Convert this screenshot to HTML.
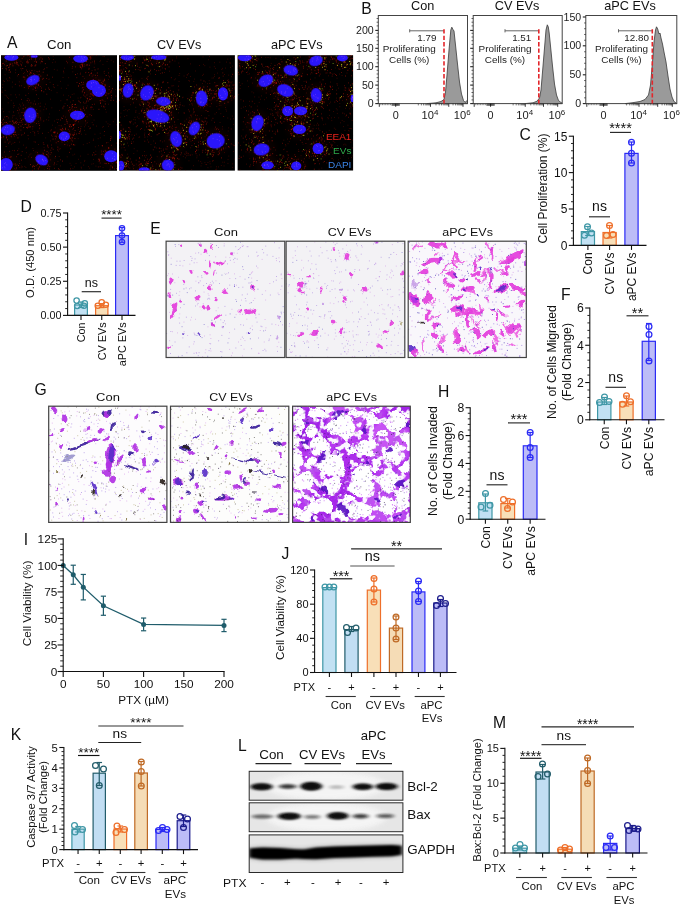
<!DOCTYPE html>
<html><head><meta charset="utf-8"><title>Figure</title>
<style>
html,body{margin:0;padding:0;background:#fff;}
body{width:685px;height:905px;overflow:hidden;font-family:"Liberation Sans", Arial, sans-serif;}
svg{display:block;font-family:"Liberation Sans", Arial, sans-serif;will-change:transform;}
</style></head><body>
<svg width="685" height="905" viewBox="0 0 685 905">
<defs>
<filter id="b1" x="-20%" y="-20%" width="140%" height="140%"><feGaussianBlur stdDeviation="0.6"/></filter>
<filter id="b2" x="-30%" y="-60%" width="160%" height="220%"><feGaussianBlur stdDeviation="2.0 1.15"/></filter>
<filter id="rough" x="-5%" y="-5%" width="110%" height="110%"><feTurbulence type="fractalNoise" baseFrequency="0.11" numOctaves="2" seed="3" result="n"/><feDisplacementMap in="SourceGraphic" in2="n" scale="7" xChannelSelector="R" yChannelSelector="G"/><feGaussianBlur stdDeviation="0.45"/></filter>
<filter id="rough2" x="-5%" y="-5%" width="110%" height="110%"><feTurbulence type="fractalNoise" baseFrequency="0.07" numOctaves="3" seed="11" result="n"/><feDisplacementMap in="SourceGraphic" in2="n" scale="14" xChannelSelector="R" yChannelSelector="G"/><feGaussianBlur stdDeviation="0.5"/></filter>
<filter id="b4" x="-30%" y="-80%" width="160%" height="260%"><feGaussianBlur stdDeviation="3 2.4"/></filter>
<filter id="wnoise" x="0" y="0" width="100%" height="100%"><feTurbulence type="fractalNoise" baseFrequency="0.16" numOctaves="2" seed="5"/><feColorMatrix type="matrix" values="0 0 0 0 1  0 0 0 0 1  0 0 0 0 1  9 0 0 0 -4.6"/><feGaussianBlur stdDeviation="0.35"/></filter>
<filter id="pnoise" x="0" y="0" width="100%" height="100%"><feTurbulence type="fractalNoise" baseFrequency="0.12" numOctaves="2" seed="9"/><feColorMatrix type="matrix" values="0 0 0 0 0.48  0 0 0 0 0.09  0 0 0 0 0.84  0 10 0 0 -5.6"/><feGaussianBlur stdDeviation="0.35"/></filter>
<filter id="b3" x="-30%" y="-30%" width="160%" height="160%"><feGaussianBlur stdDeviation="1.0"/></filter>
</defs>
<rect width="685" height="905" fill="#fff"/>
<text x="7.00" y="48.00" font-size="15.7" text-anchor="start" fill="#111" >A</text>
<text x="361.30" y="13.60" font-size="15.7" text-anchor="start" fill="#111" >B</text>
<text x="519.60" y="140.10" font-size="15.7" text-anchor="start" fill="#111" >C</text>
<text x="20.60" y="212.20" font-size="15.7" text-anchor="start" fill="#111" >D</text>
<text x="150.30" y="233.50" font-size="15.7" text-anchor="start" fill="#111" >E</text>
<text x="561.00" y="300.30" font-size="15.7" text-anchor="start" fill="#111" >F</text>
<text x="34.60" y="394.90" font-size="15.7" text-anchor="start" fill="#111" >G</text>
<text x="438.00" y="397.30" font-size="15.7" text-anchor="start" fill="#111" >H</text>
<text x="23.80" y="544.50" font-size="15.7" text-anchor="start" fill="#111" >I</text>
<text x="281.50" y="559.30" font-size="15.7" text-anchor="start" fill="#111" >J</text>
<text x="10.80" y="739.50" font-size="15.7" text-anchor="start" fill="#111" >K</text>
<text x="238.00" y="750.70" font-size="15.7" text-anchor="start" fill="#111" >L</text>
<text x="493.00" y="727.50" font-size="15.7" text-anchor="start" fill="#111" >M</text>
<rect x="581.30" y="231.60" width="13.20" height="13.80" fill="#c2e1f3" stroke="#3f97a6" stroke-width="1.2" />
<line x1="587.90" y1="235.50" x2="587.90" y2="226.50" stroke="#3f97a6" stroke-width="1.2" />
<line x1="585.10" y1="235.50" x2="590.70" y2="235.50" stroke="#3f97a6" stroke-width="1.2" />
<line x1="585.10" y1="226.50" x2="590.70" y2="226.50" stroke="#3f97a6" stroke-width="1.2" />
<circle cx="587.50" cy="226.80" r="2.9" fill="none" stroke="#3f97a6" stroke-width="1.25" />
<circle cx="591.50" cy="233.00" r="2.9" fill="none" stroke="#3f97a6" stroke-width="1.25" />
<circle cx="584.50" cy="235.30" r="2.9" fill="none" stroke="#3f97a6" stroke-width="1.25" />
<line x1="587.90" y1="245.40" x2="587.90" y2="249.90" stroke="#111" stroke-width="1.1" />
<text x="592.22" y="252.40" font-size="12" text-anchor="end" fill="#111" transform="rotate(-90 592.22 252.40)" >Con</text>
<rect x="603.00" y="232.50" width="13.20" height="12.90" fill="#f8dfb8" stroke="#ee6f2a" stroke-width="1.2" />
<line x1="609.60" y1="238.00" x2="609.60" y2="225.50" stroke="#ee6f2a" stroke-width="1.2" />
<line x1="606.80" y1="238.00" x2="612.40" y2="238.00" stroke="#ee6f2a" stroke-width="1.2" />
<line x1="606.80" y1="225.50" x2="612.40" y2="225.50" stroke="#ee6f2a" stroke-width="1.2" />
<circle cx="609.50" cy="225.50" r="2.9" fill="none" stroke="#ee6f2a" stroke-width="1.25" />
<circle cx="613.00" cy="234.50" r="2.9" fill="none" stroke="#ee6f2a" stroke-width="1.25" />
<circle cx="606.50" cy="235.50" r="2.9" fill="none" stroke="#ee6f2a" stroke-width="1.25" />
<line x1="609.60" y1="245.40" x2="609.60" y2="249.90" stroke="#111" stroke-width="1.1" />
<text x="613.92" y="252.40" font-size="12" text-anchor="end" fill="#111" transform="rotate(-90 613.92 252.40)" >CV EVs</text>
<rect x="624.90" y="153.40" width="13.20" height="92.00" fill="#bcbcf7" stroke="#2b2bf5" stroke-width="1.2" />
<line x1="631.50" y1="163.00" x2="631.50" y2="142.00" stroke="#2b2bf5" stroke-width="1.2" />
<line x1="628.70" y1="163.00" x2="634.30" y2="163.00" stroke="#2b2bf5" stroke-width="1.2" />
<line x1="628.70" y1="142.00" x2="634.30" y2="142.00" stroke="#2b2bf5" stroke-width="1.2" />
<circle cx="631.50" cy="142.20" r="2.9" fill="none" stroke="#2b2bf5" stroke-width="1.25" />
<circle cx="631.50" cy="153.20" r="2.9" fill="none" stroke="#2b2bf5" stroke-width="1.25" />
<circle cx="631.50" cy="163.00" r="2.9" fill="none" stroke="#2b2bf5" stroke-width="1.25" />
<line x1="631.50" y1="245.40" x2="631.50" y2="249.90" stroke="#111" stroke-width="1.1" />
<text x="635.82" y="252.40" font-size="12" text-anchor="end" fill="#111" transform="rotate(-90 635.82 252.40)" >aPC EVs</text>
<line x1="573.40" y1="135.65" x2="573.40" y2="245.95" stroke="#111" stroke-width="1.1" />
<line x1="568.80" y1="245.40" x2="573.40" y2="245.40" stroke="#111" stroke-width="1.1" />
<text x="567.40" y="249.72" font-size="12" text-anchor="end" fill="#111" >0</text>
<line x1="571.00" y1="238.12" x2="573.40" y2="238.12" stroke="#111" stroke-width="0.9" />
<line x1="571.00" y1="230.84" x2="573.40" y2="230.84" stroke="#111" stroke-width="0.9" />
<line x1="571.00" y1="223.56" x2="573.40" y2="223.56" stroke="#111" stroke-width="0.9" />
<line x1="571.00" y1="216.28" x2="573.40" y2="216.28" stroke="#111" stroke-width="0.9" />
<line x1="568.80" y1="209.00" x2="573.40" y2="209.00" stroke="#111" stroke-width="1.1" />
<text x="567.40" y="213.32" font-size="12" text-anchor="end" fill="#111" >5</text>
<line x1="571.00" y1="201.72" x2="573.40" y2="201.72" stroke="#111" stroke-width="0.9" />
<line x1="571.00" y1="194.44" x2="573.40" y2="194.44" stroke="#111" stroke-width="0.9" />
<line x1="571.00" y1="187.16" x2="573.40" y2="187.16" stroke="#111" stroke-width="0.9" />
<line x1="571.00" y1="179.88" x2="573.40" y2="179.88" stroke="#111" stroke-width="0.9" />
<line x1="568.80" y1="172.60" x2="573.40" y2="172.60" stroke="#111" stroke-width="1.1" />
<text x="567.40" y="176.92" font-size="12" text-anchor="end" fill="#111" >10</text>
<line x1="571.00" y1="165.32" x2="573.40" y2="165.32" stroke="#111" stroke-width="0.9" />
<line x1="571.00" y1="158.04" x2="573.40" y2="158.04" stroke="#111" stroke-width="0.9" />
<line x1="571.00" y1="150.76" x2="573.40" y2="150.76" stroke="#111" stroke-width="0.9" />
<line x1="571.00" y1="143.48" x2="573.40" y2="143.48" stroke="#111" stroke-width="0.9" />
<line x1="568.80" y1="136.20" x2="573.40" y2="136.20" stroke="#111" stroke-width="1.1" />
<text x="567.40" y="140.52" font-size="12" text-anchor="end" fill="#111" >15</text>
<line x1="572.85" y1="245.40" x2="646.50" y2="245.40" stroke="#111" stroke-width="1.1" />
<text x="546.80" y="188.50" font-size="12" text-anchor="middle" fill="#111" transform="rotate(-90 546.80 188.50)" >Cell Proliferation (%)</text>
<line x1="589.00" y1="216.80" x2="610.00" y2="216.80" stroke="#2a2a2a" stroke-width="1.15" />
<text x="599.50" y="211.40" font-size="14" text-anchor="middle" fill="#111" >ns</text>
<line x1="610.00" y1="132.40" x2="631.00" y2="132.40" stroke="#2a2a2a" stroke-width="1.15" />
<text x="620.50" y="132.95" font-size="14.6" text-anchor="middle" fill="#111" >****</text>
<rect x="74.60" y="305.00" width="12.80" height="10.40" fill="#c2e1f3" stroke="#3f97a6" stroke-width="1.2" />
<line x1="81.00" y1="307.50" x2="81.00" y2="302.00" stroke="#3f97a6" stroke-width="1.2" />
<line x1="78.20" y1="307.50" x2="83.80" y2="307.50" stroke="#3f97a6" stroke-width="1.2" />
<line x1="78.20" y1="302.00" x2="83.80" y2="302.00" stroke="#3f97a6" stroke-width="1.2" />
<circle cx="76.60" cy="300.60" r="2.7" fill="none" stroke="#3f97a6" stroke-width="1.25" />
<circle cx="84.80" cy="303.40" r="2.7" fill="none" stroke="#3f97a6" stroke-width="1.25" />
<circle cx="77.20" cy="306.00" r="2.7" fill="none" stroke="#3f97a6" stroke-width="1.25" />
<circle cx="84.00" cy="305.80" r="2.7" fill="none" stroke="#3f97a6" stroke-width="1.25" />
<line x1="81.00" y1="315.40" x2="81.00" y2="319.90" stroke="#111" stroke-width="1.1" />
<text x="84.89" y="322.40" font-size="10.8" text-anchor="end" fill="#111" transform="rotate(-90 84.89 322.40)" >Con</text>
<rect x="95.60" y="305.70" width="12.30" height="9.70" fill="#f8dfb8" stroke="#ee6f2a" stroke-width="1.2" />
<line x1="101.75" y1="307.60" x2="101.75" y2="303.60" stroke="#ee6f2a" stroke-width="1.2" />
<line x1="98.95" y1="307.60" x2="104.55" y2="307.60" stroke="#ee6f2a" stroke-width="1.2" />
<line x1="98.95" y1="303.60" x2="104.55" y2="303.60" stroke="#ee6f2a" stroke-width="1.2" />
<circle cx="101.70" cy="302.40" r="2.7" fill="none" stroke="#ee6f2a" stroke-width="1.25" />
<circle cx="105.80" cy="304.70" r="2.7" fill="none" stroke="#ee6f2a" stroke-width="1.25" />
<circle cx="97.80" cy="305.80" r="2.7" fill="none" stroke="#ee6f2a" stroke-width="1.25" />
<line x1="101.75" y1="315.40" x2="101.75" y2="319.90" stroke="#111" stroke-width="1.1" />
<text x="105.64" y="322.40" font-size="10.8" text-anchor="end" fill="#111" transform="rotate(-90 105.64 322.40)" >CV EVs</text>
<rect x="115.60" y="235.60" width="12.80" height="79.80" fill="#bcbcf7" stroke="#2b2bf5" stroke-width="1.2" />
<line x1="122.00" y1="242.30" x2="122.00" y2="227.60" stroke="#2b2bf5" stroke-width="1.2" />
<line x1="119.20" y1="242.30" x2="124.80" y2="242.30" stroke="#2b2bf5" stroke-width="1.2" />
<line x1="119.20" y1="227.60" x2="124.80" y2="227.60" stroke="#2b2bf5" stroke-width="1.2" />
<circle cx="122.00" cy="228.30" r="2.7" fill="none" stroke="#2b2bf5" stroke-width="1.25" />
<circle cx="122.00" cy="235.60" r="2.7" fill="none" stroke="#2b2bf5" stroke-width="1.25" />
<circle cx="122.00" cy="242.00" r="2.7" fill="none" stroke="#2b2bf5" stroke-width="1.25" />
<line x1="122.00" y1="315.40" x2="122.00" y2="319.90" stroke="#111" stroke-width="1.1" />
<text x="125.89" y="322.40" font-size="10.8" text-anchor="end" fill="#111" transform="rotate(-90 125.89 322.40)" >aPC EVs</text>
<line x1="67.60" y1="212.45" x2="67.60" y2="315.95" stroke="#111" stroke-width="1.1" />
<line x1="63.00" y1="315.40" x2="67.60" y2="315.40" stroke="#111" stroke-width="1.1" />
<text x="61.60" y="319.29" font-size="10.8" text-anchor="end" fill="#111" >0.00</text>
<line x1="65.20" y1="308.57" x2="67.60" y2="308.57" stroke="#111" stroke-width="0.9" />
<line x1="65.20" y1="301.75" x2="67.60" y2="301.75" stroke="#111" stroke-width="0.9" />
<line x1="65.20" y1="294.92" x2="67.60" y2="294.92" stroke="#111" stroke-width="0.9" />
<line x1="65.20" y1="288.09" x2="67.60" y2="288.09" stroke="#111" stroke-width="0.9" />
<line x1="63.00" y1="281.27" x2="67.60" y2="281.27" stroke="#111" stroke-width="1.1" />
<text x="61.60" y="285.15" font-size="10.8" text-anchor="end" fill="#111" >0.25</text>
<line x1="65.20" y1="274.44" x2="67.60" y2="274.44" stroke="#111" stroke-width="0.9" />
<line x1="65.20" y1="267.61" x2="67.60" y2="267.61" stroke="#111" stroke-width="0.9" />
<line x1="65.20" y1="260.79" x2="67.60" y2="260.79" stroke="#111" stroke-width="0.9" />
<line x1="65.20" y1="253.96" x2="67.60" y2="253.96" stroke="#111" stroke-width="0.9" />
<line x1="63.00" y1="247.13" x2="67.60" y2="247.13" stroke="#111" stroke-width="1.1" />
<text x="61.60" y="251.02" font-size="10.8" text-anchor="end" fill="#111" >0.50</text>
<line x1="65.20" y1="240.31" x2="67.60" y2="240.31" stroke="#111" stroke-width="0.9" />
<line x1="65.20" y1="233.48" x2="67.60" y2="233.48" stroke="#111" stroke-width="0.9" />
<line x1="65.20" y1="226.65" x2="67.60" y2="226.65" stroke="#111" stroke-width="0.9" />
<line x1="65.20" y1="219.83" x2="67.60" y2="219.83" stroke="#111" stroke-width="0.9" />
<line x1="63.00" y1="213.00" x2="67.60" y2="213.00" stroke="#111" stroke-width="1.1" />
<text x="61.60" y="216.89" font-size="10.8" text-anchor="end" fill="#111" >0.75</text>
<line x1="67.05" y1="315.40" x2="135.50" y2="315.40" stroke="#111" stroke-width="1.1" />
<text x="33.60" y="262.50" font-size="11.2" text-anchor="middle" fill="#111" transform="rotate(-90 33.60 262.50)" >O.D. (450 nm)</text>
<line x1="81.70" y1="291.70" x2="101.00" y2="291.70" stroke="#2a2a2a" stroke-width="1.15" />
<text x="91.35" y="287.00" font-size="12.5" text-anchor="middle" fill="#111" >ns</text>
<line x1="101.50" y1="218.10" x2="121.60" y2="218.10" stroke="#2a2a2a" stroke-width="1.15" />
<text x="111.55" y="219.45" font-size="13.3" text-anchor="middle" fill="#111" >****</text>
<rect x="597.60" y="402.00" width="13.30" height="17.80" fill="#c2e1f3" stroke="#3f97a6" stroke-width="1.2" />
<line x1="604.25" y1="404.50" x2="604.25" y2="397.50" stroke="#3f97a6" stroke-width="1.2" />
<line x1="601.45" y1="404.50" x2="607.05" y2="404.50" stroke="#3f97a6" stroke-width="1.2" />
<line x1="601.45" y1="397.50" x2="607.05" y2="397.50" stroke="#3f97a6" stroke-width="1.2" />
<circle cx="604.50" cy="397.00" r="2.9" fill="none" stroke="#3f97a6" stroke-width="1.25" />
<circle cx="599.50" cy="402.50" r="2.9" fill="none" stroke="#3f97a6" stroke-width="1.25" />
<circle cx="609.00" cy="401.50" r="2.9" fill="none" stroke="#3f97a6" stroke-width="1.25" />
<line x1="604.25" y1="419.80" x2="604.25" y2="424.30" stroke="#111" stroke-width="1.1" />
<text x="608.64" y="426.80" font-size="12.2" text-anchor="end" fill="#111" transform="rotate(-90 608.64 426.80)" >Con</text>
<rect x="619.80" y="402.00" width="13.30" height="17.80" fill="#f8dfb8" stroke="#ee6f2a" stroke-width="1.2" />
<line x1="626.45" y1="406.00" x2="626.45" y2="396.00" stroke="#ee6f2a" stroke-width="1.2" />
<line x1="623.65" y1="406.00" x2="629.25" y2="406.00" stroke="#ee6f2a" stroke-width="1.2" />
<line x1="623.65" y1="396.00" x2="629.25" y2="396.00" stroke="#ee6f2a" stroke-width="1.2" />
<circle cx="626.50" cy="395.80" r="2.9" fill="none" stroke="#ee6f2a" stroke-width="1.25" />
<circle cx="630.50" cy="401.80" r="2.9" fill="none" stroke="#ee6f2a" stroke-width="1.25" />
<circle cx="622.50" cy="404.30" r="2.9" fill="none" stroke="#ee6f2a" stroke-width="1.25" />
<line x1="626.45" y1="419.80" x2="626.45" y2="424.30" stroke="#111" stroke-width="1.1" />
<text x="630.84" y="426.80" font-size="12.2" text-anchor="end" fill="#111" transform="rotate(-90 630.84 426.80)" >CV EVs</text>
<rect x="642.20" y="341.30" width="13.20" height="78.50" fill="#bcbcf7" stroke="#2b2bf5" stroke-width="1.2" />
<line x1="648.80" y1="360.50" x2="648.80" y2="323.50" stroke="#2b2bf5" stroke-width="1.2" />
<line x1="646.00" y1="360.50" x2="651.60" y2="360.50" stroke="#2b2bf5" stroke-width="1.2" />
<line x1="646.00" y1="323.50" x2="651.60" y2="323.50" stroke="#2b2bf5" stroke-width="1.2" />
<circle cx="649.00" cy="326.50" r="2.9" fill="none" stroke="#2b2bf5" stroke-width="1.25" />
<circle cx="649.00" cy="334.50" r="2.9" fill="none" stroke="#2b2bf5" stroke-width="1.25" />
<circle cx="649.00" cy="361.00" r="2.9" fill="none" stroke="#2b2bf5" stroke-width="1.25" />
<line x1="648.80" y1="419.80" x2="648.80" y2="424.30" stroke="#111" stroke-width="1.1" />
<text x="653.19" y="426.80" font-size="12.2" text-anchor="end" fill="#111" transform="rotate(-90 653.19 426.80)" >aPC EVs</text>
<line x1="589.80" y1="307.45" x2="589.80" y2="420.35" stroke="#111" stroke-width="1.1" />
<line x1="585.20" y1="419.80" x2="589.80" y2="419.80" stroke="#111" stroke-width="1.1" />
<text x="583.80" y="424.19" font-size="12.2" text-anchor="end" fill="#111" >0</text>
<line x1="587.40" y1="412.35" x2="589.80" y2="412.35" stroke="#111" stroke-width="0.9" />
<line x1="587.40" y1="404.89" x2="589.80" y2="404.89" stroke="#111" stroke-width="0.9" />
<line x1="587.40" y1="397.44" x2="589.80" y2="397.44" stroke="#111" stroke-width="0.9" />
<line x1="587.40" y1="389.99" x2="589.80" y2="389.99" stroke="#111" stroke-width="0.9" />
<line x1="585.20" y1="382.53" x2="589.80" y2="382.53" stroke="#111" stroke-width="1.1" />
<text x="583.80" y="386.93" font-size="12.2" text-anchor="end" fill="#111" >2</text>
<line x1="587.40" y1="375.08" x2="589.80" y2="375.08" stroke="#111" stroke-width="0.9" />
<line x1="587.40" y1="367.63" x2="589.80" y2="367.63" stroke="#111" stroke-width="0.9" />
<line x1="587.40" y1="360.17" x2="589.80" y2="360.17" stroke="#111" stroke-width="0.9" />
<line x1="587.40" y1="352.72" x2="589.80" y2="352.72" stroke="#111" stroke-width="0.9" />
<line x1="585.20" y1="345.27" x2="589.80" y2="345.27" stroke="#111" stroke-width="1.1" />
<text x="583.80" y="349.66" font-size="12.2" text-anchor="end" fill="#111" >4</text>
<line x1="587.40" y1="337.81" x2="589.80" y2="337.81" stroke="#111" stroke-width="0.9" />
<line x1="587.40" y1="330.36" x2="589.80" y2="330.36" stroke="#111" stroke-width="0.9" />
<line x1="587.40" y1="322.91" x2="589.80" y2="322.91" stroke="#111" stroke-width="0.9" />
<line x1="587.40" y1="315.45" x2="589.80" y2="315.45" stroke="#111" stroke-width="0.9" />
<line x1="585.20" y1="308.00" x2="589.80" y2="308.00" stroke="#111" stroke-width="1.1" />
<text x="583.80" y="312.39" font-size="12.2" text-anchor="end" fill="#111" >6</text>
<line x1="589.25" y1="419.80" x2="664.50" y2="419.80" stroke="#111" stroke-width="1.1" />
<text x="555.50" y="362.00" font-size="12.2" text-anchor="middle" fill="#111" transform="rotate(-90 555.50 362.00)" >No. of Cells Migrated</text>
<text x="571.00" y="362.00" font-size="12.2" text-anchor="middle" fill="#111" transform="rotate(-90 571.00 362.00)" >(Fold Change)</text>
<line x1="605.50" y1="387.30" x2="626.00" y2="387.30" stroke="#2a2a2a" stroke-width="1.15" />
<text x="615.75" y="382.00" font-size="14" text-anchor="middle" fill="#111" >ns</text>
<line x1="626.50" y1="315.80" x2="648.50" y2="315.80" stroke="#2a2a2a" stroke-width="1.15" />
<text x="637.50" y="317.55" font-size="14.6" text-anchor="middle" fill="#111" >**</text>
<rect x="478.80" y="502.80" width="13.20" height="16.40" fill="#c2e1f3" stroke="#3f97a6" stroke-width="1.2" />
<line x1="485.40" y1="511.00" x2="485.40" y2="494.00" stroke="#3f97a6" stroke-width="1.2" />
<line x1="482.60" y1="511.00" x2="488.20" y2="511.00" stroke="#3f97a6" stroke-width="1.2" />
<line x1="482.60" y1="494.00" x2="488.20" y2="494.00" stroke="#3f97a6" stroke-width="1.2" />
<circle cx="485.50" cy="493.50" r="2.9" fill="none" stroke="#3f97a6" stroke-width="1.25" />
<circle cx="481.00" cy="507.00" r="2.9" fill="none" stroke="#3f97a6" stroke-width="1.25" />
<circle cx="490.00" cy="505.30" r="2.9" fill="none" stroke="#3f97a6" stroke-width="1.25" />
<line x1="485.40" y1="519.20" x2="485.40" y2="523.70" stroke="#111" stroke-width="1.1" />
<text x="489.79" y="526.20" font-size="12.2" text-anchor="end" fill="#111" transform="rotate(-90 489.79 526.20)" >Con</text>
<rect x="500.90" y="503.60" width="13.70" height="15.60" fill="#f8dfb8" stroke="#ee6f2a" stroke-width="1.2" />
<line x1="507.75" y1="508.00" x2="507.75" y2="498.50" stroke="#ee6f2a" stroke-width="1.2" />
<line x1="504.95" y1="508.00" x2="510.55" y2="508.00" stroke="#ee6f2a" stroke-width="1.2" />
<line x1="504.95" y1="498.50" x2="510.55" y2="498.50" stroke="#ee6f2a" stroke-width="1.2" />
<circle cx="503.50" cy="499.50" r="2.9" fill="none" stroke="#ee6f2a" stroke-width="1.25" />
<circle cx="512.50" cy="502.00" r="2.9" fill="none" stroke="#ee6f2a" stroke-width="1.25" />
<circle cx="507.50" cy="508.50" r="2.9" fill="none" stroke="#ee6f2a" stroke-width="1.25" />
<line x1="507.75" y1="519.20" x2="507.75" y2="523.70" stroke="#111" stroke-width="1.1" />
<text x="512.14" y="526.20" font-size="12.2" text-anchor="end" fill="#111" transform="rotate(-90 512.14 526.20)" >CV EVs</text>
<rect x="523.30" y="445.80" width="13.70" height="73.40" fill="#bcbcf7" stroke="#2b2bf5" stroke-width="1.2" />
<line x1="530.15" y1="457.50" x2="530.15" y2="432.50" stroke="#2b2bf5" stroke-width="1.2" />
<line x1="527.35" y1="457.50" x2="532.95" y2="457.50" stroke="#2b2bf5" stroke-width="1.2" />
<line x1="527.35" y1="432.50" x2="532.95" y2="432.50" stroke="#2b2bf5" stroke-width="1.2" />
<circle cx="530.20" cy="432.50" r="2.9" fill="none" stroke="#2b2bf5" stroke-width="1.25" />
<circle cx="530.20" cy="447.50" r="2.9" fill="none" stroke="#2b2bf5" stroke-width="1.25" />
<circle cx="530.20" cy="457.50" r="2.9" fill="none" stroke="#2b2bf5" stroke-width="1.25" />
<line x1="530.15" y1="519.20" x2="530.15" y2="523.70" stroke="#111" stroke-width="1.1" />
<text x="534.54" y="526.20" font-size="12.2" text-anchor="end" fill="#111" transform="rotate(-90 534.54 526.20)" >aPC EVs</text>
<line x1="470.20" y1="407.15" x2="470.20" y2="519.75" stroke="#111" stroke-width="1.1" />
<line x1="465.60" y1="519.20" x2="470.20" y2="519.20" stroke="#111" stroke-width="1.1" />
<text x="464.20" y="523.59" font-size="12.2" text-anchor="end" fill="#111" >0</text>
<line x1="467.80" y1="513.62" x2="470.20" y2="513.62" stroke="#111" stroke-width="0.9" />
<line x1="467.80" y1="508.05" x2="470.20" y2="508.05" stroke="#111" stroke-width="0.9" />
<line x1="467.80" y1="502.48" x2="470.20" y2="502.48" stroke="#111" stroke-width="0.9" />
<line x1="467.80" y1="496.90" x2="470.20" y2="496.90" stroke="#111" stroke-width="0.9" />
<line x1="465.60" y1="491.33" x2="470.20" y2="491.33" stroke="#111" stroke-width="1.1" />
<text x="464.20" y="495.72" font-size="12.2" text-anchor="end" fill="#111" >2</text>
<line x1="467.80" y1="485.75" x2="470.20" y2="485.75" stroke="#111" stroke-width="0.9" />
<line x1="467.80" y1="480.18" x2="470.20" y2="480.18" stroke="#111" stroke-width="0.9" />
<line x1="467.80" y1="474.60" x2="470.20" y2="474.60" stroke="#111" stroke-width="0.9" />
<line x1="467.80" y1="469.03" x2="470.20" y2="469.03" stroke="#111" stroke-width="0.9" />
<line x1="465.60" y1="463.45" x2="470.20" y2="463.45" stroke="#111" stroke-width="1.1" />
<text x="464.20" y="467.84" font-size="12.2" text-anchor="end" fill="#111" >4</text>
<line x1="467.80" y1="457.88" x2="470.20" y2="457.88" stroke="#111" stroke-width="0.9" />
<line x1="467.80" y1="452.30" x2="470.20" y2="452.30" stroke="#111" stroke-width="0.9" />
<line x1="467.80" y1="446.73" x2="470.20" y2="446.73" stroke="#111" stroke-width="0.9" />
<line x1="467.80" y1="441.15" x2="470.20" y2="441.15" stroke="#111" stroke-width="0.9" />
<line x1="465.60" y1="435.57" x2="470.20" y2="435.57" stroke="#111" stroke-width="1.1" />
<text x="464.20" y="439.97" font-size="12.2" text-anchor="end" fill="#111" >6</text>
<line x1="467.80" y1="430.00" x2="470.20" y2="430.00" stroke="#111" stroke-width="0.9" />
<line x1="467.80" y1="424.42" x2="470.20" y2="424.42" stroke="#111" stroke-width="0.9" />
<line x1="467.80" y1="418.85" x2="470.20" y2="418.85" stroke="#111" stroke-width="0.9" />
<line x1="467.80" y1="413.27" x2="470.20" y2="413.27" stroke="#111" stroke-width="0.9" />
<line x1="465.60" y1="407.70" x2="470.20" y2="407.70" stroke="#111" stroke-width="1.1" />
<text x="464.20" y="412.09" font-size="12.2" text-anchor="end" fill="#111" >8</text>
<line x1="469.65" y1="519.20" x2="545.50" y2="519.20" stroke="#111" stroke-width="1.1" />
<text x="436.50" y="461.00" font-size="12.2" text-anchor="middle" fill="#111" transform="rotate(-90 436.50 461.00)" >No. of Cells Invaded</text>
<text x="452.00" y="461.00" font-size="12.2" text-anchor="middle" fill="#111" transform="rotate(-90 452.00 461.00)" >(Fold Change)</text>
<line x1="486.50" y1="484.80" x2="507.50" y2="484.80" stroke="#2a2a2a" stroke-width="1.15" />
<text x="497.00" y="480.00" font-size="14" text-anchor="middle" fill="#111" >ns</text>
<line x1="508.00" y1="422.90" x2="530.00" y2="422.90" stroke="#2a2a2a" stroke-width="1.15" />
<text x="519.00" y="424.15" font-size="14.6" text-anchor="middle" fill="#111" >***</text>
<polyline points="63.20,565.42 73.25,574.76 83.30,587.17 103.40,605.73 143.60,624.40 224.00,625.46" fill="none" stroke="#1f5c6b" stroke-width="1.3"/>
<circle cx="63.20" cy="565.42" r="2.5" fill="#1f5c6b" stroke="none" stroke-width="1" />
<line x1="73.25" y1="584.30" x2="73.25" y2="565.21" stroke="#1f5c6b" stroke-width="1.2" />
<line x1="70.65" y1="584.30" x2="75.85" y2="584.30" stroke="#1f5c6b" stroke-width="1.2" />
<line x1="70.65" y1="565.21" x2="75.85" y2="565.21" stroke="#1f5c6b" stroke-width="1.2" />
<circle cx="73.25" cy="574.76" r="2.5" fill="#1f5c6b" stroke="none" stroke-width="1" />
<line x1="83.30" y1="599.90" x2="83.30" y2="574.44" stroke="#1f5c6b" stroke-width="1.2" />
<line x1="80.70" y1="599.90" x2="85.90" y2="599.90" stroke="#1f5c6b" stroke-width="1.2" />
<line x1="80.70" y1="574.44" x2="85.90" y2="574.44" stroke="#1f5c6b" stroke-width="1.2" />
<circle cx="83.30" cy="587.17" r="2.5" fill="#1f5c6b" stroke="none" stroke-width="1" />
<line x1="103.40" y1="615.28" x2="103.40" y2="596.18" stroke="#1f5c6b" stroke-width="1.2" />
<line x1="100.80" y1="615.28" x2="106.00" y2="615.28" stroke="#1f5c6b" stroke-width="1.2" />
<line x1="100.80" y1="596.18" x2="106.00" y2="596.18" stroke="#1f5c6b" stroke-width="1.2" />
<circle cx="103.40" cy="605.73" r="2.5" fill="#1f5c6b" stroke="none" stroke-width="1" />
<line x1="143.60" y1="630.77" x2="143.60" y2="618.04" stroke="#1f5c6b" stroke-width="1.2" />
<line x1="141.00" y1="630.77" x2="146.20" y2="630.77" stroke="#1f5c6b" stroke-width="1.2" />
<line x1="141.00" y1="618.04" x2="146.20" y2="618.04" stroke="#1f5c6b" stroke-width="1.2" />
<circle cx="143.60" cy="624.40" r="2.5" fill="#1f5c6b" stroke="none" stroke-width="1" />
<line x1="224.00" y1="631.61" x2="224.00" y2="619.31" stroke="#1f5c6b" stroke-width="1.2" />
<line x1="221.40" y1="631.61" x2="226.60" y2="631.61" stroke="#1f5c6b" stroke-width="1.2" />
<line x1="221.40" y1="619.31" x2="226.60" y2="619.31" stroke="#1f5c6b" stroke-width="1.2" />
<circle cx="224.00" cy="625.46" r="2.5" fill="#1f5c6b" stroke="none" stroke-width="1" />
<line x1="63.20" y1="538.35" x2="63.20" y2="672.05" stroke="#111" stroke-width="1.1" />
<line x1="57.60" y1="671.50" x2="63.20" y2="671.50" stroke="#111" stroke-width="1.1" />
<text x="57.30" y="675.75" font-size="11.8" text-anchor="end" fill="#111" >0</text>
<line x1="60.20" y1="666.20" x2="63.20" y2="666.20" stroke="#111" stroke-width="0.9" />
<line x1="60.20" y1="660.89" x2="63.20" y2="660.89" stroke="#111" stroke-width="0.9" />
<line x1="60.20" y1="655.59" x2="63.20" y2="655.59" stroke="#111" stroke-width="0.9" />
<line x1="60.20" y1="650.28" x2="63.20" y2="650.28" stroke="#111" stroke-width="0.9" />
<line x1="57.60" y1="644.98" x2="63.20" y2="644.98" stroke="#111" stroke-width="1.1" />
<text x="57.30" y="649.23" font-size="11.8" text-anchor="end" fill="#111" >25</text>
<line x1="60.20" y1="639.68" x2="63.20" y2="639.68" stroke="#111" stroke-width="0.9" />
<line x1="60.20" y1="634.37" x2="63.20" y2="634.37" stroke="#111" stroke-width="0.9" />
<line x1="60.20" y1="629.07" x2="63.20" y2="629.07" stroke="#111" stroke-width="0.9" />
<line x1="60.20" y1="623.76" x2="63.20" y2="623.76" stroke="#111" stroke-width="0.9" />
<line x1="57.60" y1="618.46" x2="63.20" y2="618.46" stroke="#111" stroke-width="1.1" />
<text x="57.30" y="622.71" font-size="11.8" text-anchor="end" fill="#111" >50</text>
<line x1="60.20" y1="613.16" x2="63.20" y2="613.16" stroke="#111" stroke-width="0.9" />
<line x1="60.20" y1="607.85" x2="63.20" y2="607.85" stroke="#111" stroke-width="0.9" />
<line x1="60.20" y1="602.55" x2="63.20" y2="602.55" stroke="#111" stroke-width="0.9" />
<line x1="60.20" y1="597.24" x2="63.20" y2="597.24" stroke="#111" stroke-width="0.9" />
<line x1="57.60" y1="591.94" x2="63.20" y2="591.94" stroke="#111" stroke-width="1.1" />
<text x="57.30" y="596.19" font-size="11.8" text-anchor="end" fill="#111" >75</text>
<line x1="60.20" y1="586.64" x2="63.20" y2="586.64" stroke="#111" stroke-width="0.9" />
<line x1="60.20" y1="581.33" x2="63.20" y2="581.33" stroke="#111" stroke-width="0.9" />
<line x1="60.20" y1="576.03" x2="63.20" y2="576.03" stroke="#111" stroke-width="0.9" />
<line x1="60.20" y1="570.72" x2="63.20" y2="570.72" stroke="#111" stroke-width="0.9" />
<line x1="57.60" y1="565.42" x2="63.20" y2="565.42" stroke="#111" stroke-width="1.1" />
<text x="57.30" y="569.67" font-size="11.8" text-anchor="end" fill="#111" >100</text>
<line x1="60.20" y1="560.12" x2="63.20" y2="560.12" stroke="#111" stroke-width="0.9" />
<line x1="60.20" y1="554.81" x2="63.20" y2="554.81" stroke="#111" stroke-width="0.9" />
<line x1="60.20" y1="549.51" x2="63.20" y2="549.51" stroke="#111" stroke-width="0.9" />
<line x1="60.20" y1="544.20" x2="63.20" y2="544.20" stroke="#111" stroke-width="0.9" />
<line x1="57.60" y1="538.90" x2="63.20" y2="538.90" stroke="#111" stroke-width="1.1" />
<text x="57.30" y="543.15" font-size="11.8" text-anchor="end" fill="#111" >125</text>
<line x1="62.65" y1="671.50" x2="224.60" y2="671.50" stroke="#111" stroke-width="1.1" />
<line x1="63.20" y1="671.50" x2="63.20" y2="677.00" stroke="#111" stroke-width="1.1" />
<text x="63.20" y="687.70" font-size="11.8" text-anchor="middle" fill="#111" >0</text>
<line x1="103.40" y1="671.50" x2="103.40" y2="677.00" stroke="#111" stroke-width="1.1" />
<text x="103.40" y="687.70" font-size="11.8" text-anchor="middle" fill="#111" >50</text>
<line x1="143.60" y1="671.50" x2="143.60" y2="677.00" stroke="#111" stroke-width="1.1" />
<text x="143.60" y="687.70" font-size="11.8" text-anchor="middle" fill="#111" >100</text>
<line x1="183.80" y1="671.50" x2="183.80" y2="677.00" stroke="#111" stroke-width="1.1" />
<text x="183.80" y="687.70" font-size="11.8" text-anchor="middle" fill="#111" >150</text>
<line x1="224.00" y1="671.50" x2="224.00" y2="677.00" stroke="#111" stroke-width="1.1" />
<text x="224.00" y="687.70" font-size="11.8" text-anchor="middle" fill="#111" >200</text>
<text x="31.20" y="603.50" font-size="11.8" text-anchor="middle" fill="#111" transform="rotate(-90 31.20 603.50)" >Cell Viability (%)</text>
<text x="143.50" y="704.00" font-size="11.8" text-anchor="middle" fill="#111" >PTX (µM)</text>
<rect x="322.80" y="587.60" width="13.20" height="84.90" fill="#c2e1f3" stroke="#3f97a6" stroke-width="1.2" />
<circle cx="325.00" cy="587.00" r="2.9" fill="none" stroke="#3f97a6" stroke-width="1.25" />
<circle cx="329.40" cy="587.00" r="2.9" fill="none" stroke="#3f97a6" stroke-width="1.25" />
<circle cx="333.80" cy="587.00" r="2.9" fill="none" stroke="#3f97a6" stroke-width="1.25" />
<line x1="329.40" y1="672.50" x2="329.40" y2="677.00" stroke="#111" stroke-width="1.1" />
<text x="329.40" y="691.00" font-size="11" text-anchor="middle" fill="#111" >-</text>
<rect x="344.90" y="629.60" width="13.20" height="42.90" fill="#c2def3" stroke="#235d6b" stroke-width="1.2" />
<line x1="351.50" y1="631.50" x2="351.50" y2="626.50" stroke="#235d6b" stroke-width="1.2" />
<line x1="348.70" y1="631.50" x2="354.30" y2="631.50" stroke="#235d6b" stroke-width="1.2" />
<line x1="348.70" y1="626.50" x2="354.30" y2="626.50" stroke="#235d6b" stroke-width="1.2" />
<circle cx="346.50" cy="627.50" r="2.9" fill="none" stroke="#235d6b" stroke-width="1.25" />
<circle cx="356.00" cy="628.00" r="2.9" fill="none" stroke="#235d6b" stroke-width="1.25" />
<circle cx="347.50" cy="632.50" r="2.9" fill="none" stroke="#235d6b" stroke-width="1.25" />
<line x1="351.50" y1="672.50" x2="351.50" y2="677.00" stroke="#111" stroke-width="1.1" />
<text x="351.50" y="691.00" font-size="11" text-anchor="middle" fill="#111" >+</text>
<rect x="367.30" y="590.10" width="13.20" height="82.40" fill="#f8dfb8" stroke="#ee6f2a" stroke-width="1.2" />
<line x1="373.90" y1="602.00" x2="373.90" y2="578.00" stroke="#ee6f2a" stroke-width="1.2" />
<line x1="371.10" y1="602.00" x2="376.70" y2="602.00" stroke="#ee6f2a" stroke-width="1.2" />
<line x1="371.10" y1="578.00" x2="376.70" y2="578.00" stroke="#ee6f2a" stroke-width="1.2" />
<circle cx="374.00" cy="578.50" r="2.9" fill="none" stroke="#ee6f2a" stroke-width="1.25" />
<circle cx="374.00" cy="589.00" r="2.9" fill="none" stroke="#ee6f2a" stroke-width="1.25" />
<circle cx="374.00" cy="602.00" r="2.9" fill="none" stroke="#ee6f2a" stroke-width="1.25" />
<line x1="373.90" y1="672.50" x2="373.90" y2="677.00" stroke="#111" stroke-width="1.1" />
<text x="373.90" y="691.00" font-size="11" text-anchor="middle" fill="#111" >-</text>
<rect x="389.40" y="628.10" width="13.20" height="44.40" fill="#f5dcb6" stroke="#bf6a26" stroke-width="1.2" />
<line x1="396.00" y1="639.50" x2="396.00" y2="616.00" stroke="#bf6a26" stroke-width="1.2" />
<line x1="393.20" y1="639.50" x2="398.80" y2="639.50" stroke="#bf6a26" stroke-width="1.2" />
<line x1="393.20" y1="616.00" x2="398.80" y2="616.00" stroke="#bf6a26" stroke-width="1.2" />
<circle cx="396.00" cy="617.00" r="2.9" fill="none" stroke="#bf6a26" stroke-width="1.25" />
<circle cx="396.00" cy="628.00" r="2.9" fill="none" stroke="#bf6a26" stroke-width="1.25" />
<circle cx="396.00" cy="639.00" r="2.9" fill="none" stroke="#bf6a26" stroke-width="1.25" />
<line x1="396.00" y1="672.50" x2="396.00" y2="677.00" stroke="#111" stroke-width="1.1" />
<text x="396.00" y="691.00" font-size="11" text-anchor="middle" fill="#111" >+</text>
<rect x="412.00" y="591.90" width="12.90" height="80.60" fill="#bcbcf7" stroke="#2b2bf5" stroke-width="1.2" />
<line x1="418.45" y1="601.50" x2="418.45" y2="581.50" stroke="#2b2bf5" stroke-width="1.2" />
<line x1="415.65" y1="601.50" x2="421.25" y2="601.50" stroke="#2b2bf5" stroke-width="1.2" />
<line x1="415.65" y1="581.50" x2="421.25" y2="581.50" stroke="#2b2bf5" stroke-width="1.2" />
<circle cx="418.50" cy="581.00" r="2.9" fill="none" stroke="#2b2bf5" stroke-width="1.25" />
<circle cx="418.50" cy="591.00" r="2.9" fill="none" stroke="#2b2bf5" stroke-width="1.25" />
<circle cx="418.50" cy="601.50" r="2.9" fill="none" stroke="#2b2bf5" stroke-width="1.25" />
<line x1="418.45" y1="672.50" x2="418.45" y2="677.00" stroke="#111" stroke-width="1.1" />
<text x="418.45" y="691.00" font-size="11" text-anchor="middle" fill="#111" >-</text>
<rect x="433.80" y="603.00" width="13.20" height="69.50" fill="#bcbcf7" stroke="#1d1d8c" stroke-width="1.2" />
<line x1="440.40" y1="606.50" x2="440.40" y2="599.50" stroke="#1d1d8c" stroke-width="1.2" />
<line x1="437.60" y1="606.50" x2="443.20" y2="606.50" stroke="#1d1d8c" stroke-width="1.2" />
<line x1="437.60" y1="599.50" x2="443.20" y2="599.50" stroke="#1d1d8c" stroke-width="1.2" />
<circle cx="440.50" cy="598.50" r="2.9" fill="none" stroke="#1d1d8c" stroke-width="1.25" />
<circle cx="445.50" cy="603.50" r="2.9" fill="none" stroke="#1d1d8c" stroke-width="1.25" />
<circle cx="436.50" cy="605.50" r="2.9" fill="none" stroke="#1d1d8c" stroke-width="1.25" />
<line x1="440.40" y1="672.50" x2="440.40" y2="677.00" stroke="#111" stroke-width="1.1" />
<text x="440.40" y="691.00" font-size="11" text-anchor="middle" fill="#111" >+</text>
<line x1="314.60" y1="569.45" x2="314.60" y2="673.05" stroke="#111" stroke-width="1.1" />
<line x1="310.00" y1="672.50" x2="314.60" y2="672.50" stroke="#111" stroke-width="1.1" />
<text x="308.60" y="676.46" font-size="11" text-anchor="end" fill="#111" >0</text>
<line x1="312.20" y1="665.67" x2="314.60" y2="665.67" stroke="#111" stroke-width="0.9" />
<line x1="312.20" y1="658.83" x2="314.60" y2="658.83" stroke="#111" stroke-width="0.9" />
<line x1="312.20" y1="652.00" x2="314.60" y2="652.00" stroke="#111" stroke-width="0.9" />
<line x1="312.20" y1="645.17" x2="314.60" y2="645.17" stroke="#111" stroke-width="0.9" />
<line x1="310.00" y1="638.33" x2="314.60" y2="638.33" stroke="#111" stroke-width="1.1" />
<text x="308.60" y="642.29" font-size="11" text-anchor="end" fill="#111" >40</text>
<line x1="312.20" y1="631.50" x2="314.60" y2="631.50" stroke="#111" stroke-width="0.9" />
<line x1="312.20" y1="624.67" x2="314.60" y2="624.67" stroke="#111" stroke-width="0.9" />
<line x1="312.20" y1="617.83" x2="314.60" y2="617.83" stroke="#111" stroke-width="0.9" />
<line x1="312.20" y1="611.00" x2="314.60" y2="611.00" stroke="#111" stroke-width="0.9" />
<line x1="310.00" y1="604.17" x2="314.60" y2="604.17" stroke="#111" stroke-width="1.1" />
<text x="308.60" y="608.13" font-size="11" text-anchor="end" fill="#111" >80</text>
<line x1="312.20" y1="597.33" x2="314.60" y2="597.33" stroke="#111" stroke-width="0.9" />
<line x1="312.20" y1="590.50" x2="314.60" y2="590.50" stroke="#111" stroke-width="0.9" />
<line x1="312.20" y1="583.67" x2="314.60" y2="583.67" stroke="#111" stroke-width="0.9" />
<line x1="312.20" y1="576.83" x2="314.60" y2="576.83" stroke="#111" stroke-width="0.9" />
<line x1="310.00" y1="570.00" x2="314.60" y2="570.00" stroke="#111" stroke-width="1.1" />
<text x="308.60" y="573.96" font-size="11" text-anchor="end" fill="#111" >120</text>
<line x1="314.05" y1="672.50" x2="456.50" y2="672.50" stroke="#111" stroke-width="1.1" />
<text x="283.50" y="617.50" font-size="11.7" text-anchor="middle" fill="#111" transform="rotate(-90 283.50 617.50)" >Cell Viability (%)</text>
<text x="315.00" y="691.00" font-size="11" text-anchor="end" fill="#111" >PTX</text>
<line x1="325.60" y1="696.50" x2="355.80" y2="696.50" stroke="#333" stroke-width="1.1" />
<text x="341.15" y="708.90" font-size="11.3" text-anchor="middle" fill="#111" >Con</text>
<line x1="370.10" y1="696.50" x2="400.30" y2="696.50" stroke="#333" stroke-width="1.1" />
<text x="385.25" y="708.90" font-size="11.3" text-anchor="middle" fill="#111" >CV EVs</text>
<line x1="414.65" y1="696.50" x2="444.70" y2="696.50" stroke="#333" stroke-width="1.1" />
<text x="431.42" y="708.90" font-size="11.3" text-anchor="middle" fill="#111" >aPC</text>
<text x="432.02" y="722.00" font-size="11.3" text-anchor="middle" fill="#111" >EVs</text>
<line x1="329.80" y1="578.80" x2="352.30" y2="578.80" stroke="#111" stroke-width="1.15" />
<text x="341.05" y="580.94" font-size="14.4" text-anchor="middle" fill="#111" >***</text>
<line x1="350.20" y1="566.00" x2="394.60" y2="566.00" stroke="#555" stroke-width="1.15" />
<text x="372.40" y="561.00" font-size="14.4" text-anchor="middle" fill="#111" >ns</text>
<line x1="351.10" y1="548.80" x2="442.00" y2="548.80" stroke="#2a2a2a" stroke-width="1.15" />
<text x="396.55" y="550.74" font-size="14.4" text-anchor="middle" fill="#111" >**</text>
<rect x="71.90" y="829.10" width="12.30" height="20.50" fill="#c2e1f3" stroke="#3f97a6" stroke-width="1.2" />
<line x1="78.05" y1="832.00" x2="78.05" y2="826.50" stroke="#3f97a6" stroke-width="1.2" />
<line x1="75.25" y1="832.00" x2="80.85" y2="832.00" stroke="#3f97a6" stroke-width="1.2" />
<line x1="75.25" y1="826.50" x2="80.85" y2="826.50" stroke="#3f97a6" stroke-width="1.2" />
<circle cx="74.50" cy="825.50" r="2.9" fill="none" stroke="#3f97a6" stroke-width="1.25" />
<circle cx="82.50" cy="829.50" r="2.9" fill="none" stroke="#3f97a6" stroke-width="1.25" />
<circle cx="75.00" cy="832.00" r="2.9" fill="none" stroke="#3f97a6" stroke-width="1.25" />
<line x1="78.05" y1="849.60" x2="78.05" y2="854.10" stroke="#111" stroke-width="1.1" />
<text x="78.05" y="867.00" font-size="11.3" text-anchor="middle" fill="#111" >-</text>
<rect x="93.10" y="773.20" width="12.30" height="76.40" fill="#c2def3" stroke="#235d6b" stroke-width="1.2" />
<line x1="99.25" y1="785.50" x2="99.25" y2="762.50" stroke="#235d6b" stroke-width="1.2" />
<line x1="96.45" y1="785.50" x2="102.05" y2="785.50" stroke="#235d6b" stroke-width="1.2" />
<line x1="96.45" y1="762.50" x2="102.05" y2="762.50" stroke="#235d6b" stroke-width="1.2" />
<circle cx="95.50" cy="765.50" r="2.9" fill="none" stroke="#235d6b" stroke-width="1.25" />
<circle cx="103.50" cy="769.00" r="2.9" fill="none" stroke="#235d6b" stroke-width="1.25" />
<circle cx="99.30" cy="785.50" r="2.9" fill="none" stroke="#235d6b" stroke-width="1.25" />
<line x1="99.25" y1="849.60" x2="99.25" y2="854.10" stroke="#111" stroke-width="1.1" />
<text x="99.25" y="867.00" font-size="11.3" text-anchor="middle" fill="#111" >+</text>
<rect x="114.00" y="829.00" width="12.60" height="20.60" fill="#f8dfb8" stroke="#ee6f2a" stroke-width="1.2" />
<line x1="120.30" y1="832.00" x2="120.30" y2="826.00" stroke="#ee6f2a" stroke-width="1.2" />
<line x1="117.50" y1="832.00" x2="123.10" y2="832.00" stroke="#ee6f2a" stroke-width="1.2" />
<line x1="117.50" y1="826.00" x2="123.10" y2="826.00" stroke="#ee6f2a" stroke-width="1.2" />
<circle cx="117.00" cy="826.00" r="2.9" fill="none" stroke="#ee6f2a" stroke-width="1.25" />
<circle cx="124.50" cy="829.50" r="2.9" fill="none" stroke="#ee6f2a" stroke-width="1.25" />
<circle cx="116.00" cy="832.50" r="2.9" fill="none" stroke="#ee6f2a" stroke-width="1.25" />
<line x1="120.30" y1="849.60" x2="120.30" y2="854.10" stroke="#111" stroke-width="1.1" />
<text x="120.30" y="867.00" font-size="11.3" text-anchor="middle" fill="#111" >-</text>
<rect x="134.80" y="773.00" width="12.60" height="76.60" fill="#f5dcb6" stroke="#bf6a26" stroke-width="1.2" />
<line x1="141.10" y1="786.00" x2="141.10" y2="761.50" stroke="#bf6a26" stroke-width="1.2" />
<line x1="138.30" y1="786.00" x2="143.90" y2="786.00" stroke="#bf6a26" stroke-width="1.2" />
<line x1="138.30" y1="761.50" x2="143.90" y2="761.50" stroke="#bf6a26" stroke-width="1.2" />
<circle cx="141.30" cy="762.00" r="2.9" fill="none" stroke="#bf6a26" stroke-width="1.25" />
<circle cx="141.30" cy="771.50" r="2.9" fill="none" stroke="#bf6a26" stroke-width="1.25" />
<circle cx="141.30" cy="786.00" r="2.9" fill="none" stroke="#bf6a26" stroke-width="1.25" />
<line x1="141.10" y1="849.60" x2="141.10" y2="854.10" stroke="#111" stroke-width="1.1" />
<text x="141.10" y="867.00" font-size="11.3" text-anchor="middle" fill="#111" >+</text>
<rect x="156.00" y="829.40" width="12.60" height="20.20" fill="#bcbcf7" stroke="#2b2bf5" stroke-width="1.2" />
<line x1="162.30" y1="831.50" x2="162.30" y2="827.50" stroke="#2b2bf5" stroke-width="1.2" />
<line x1="159.50" y1="831.50" x2="165.10" y2="831.50" stroke="#2b2bf5" stroke-width="1.2" />
<line x1="159.50" y1="827.50" x2="165.10" y2="827.50" stroke="#2b2bf5" stroke-width="1.2" />
<circle cx="158.50" cy="830.50" r="2.9" fill="none" stroke="#2b2bf5" stroke-width="1.25" />
<circle cx="162.50" cy="827.50" r="2.9" fill="none" stroke="#2b2bf5" stroke-width="1.25" />
<circle cx="167.00" cy="829.50" r="2.9" fill="none" stroke="#2b2bf5" stroke-width="1.25" />
<line x1="162.30" y1="849.60" x2="162.30" y2="854.10" stroke="#111" stroke-width="1.1" />
<text x="162.30" y="867.00" font-size="11.3" text-anchor="middle" fill="#111" >-</text>
<rect x="177.20" y="820.70" width="12.60" height="28.90" fill="#bcbcf7" stroke="#1d1d8c" stroke-width="1.2" />
<line x1="183.50" y1="826.50" x2="183.50" y2="815.00" stroke="#1d1d8c" stroke-width="1.2" />
<line x1="180.70" y1="826.50" x2="186.30" y2="826.50" stroke="#1d1d8c" stroke-width="1.2" />
<line x1="180.70" y1="815.00" x2="186.30" y2="815.00" stroke="#1d1d8c" stroke-width="1.2" />
<circle cx="180.00" cy="816.50" r="2.9" fill="none" stroke="#1d1d8c" stroke-width="1.25" />
<circle cx="187.50" cy="819.00" r="2.9" fill="none" stroke="#1d1d8c" stroke-width="1.25" />
<circle cx="183.50" cy="827.50" r="2.9" fill="none" stroke="#1d1d8c" stroke-width="1.25" />
<line x1="183.50" y1="849.60" x2="183.50" y2="854.10" stroke="#111" stroke-width="1.1" />
<text x="183.50" y="867.00" font-size="11.3" text-anchor="middle" fill="#111" >+</text>
<line x1="63.90" y1="746.95" x2="63.90" y2="850.15" stroke="#111" stroke-width="1.1" />
<line x1="59.30" y1="849.60" x2="63.90" y2="849.60" stroke="#111" stroke-width="1.1" />
<text x="57.90" y="853.67" font-size="11.3" text-anchor="end" fill="#111" >0</text>
<line x1="61.50" y1="845.52" x2="63.90" y2="845.52" stroke="#111" stroke-width="0.9" />
<line x1="61.50" y1="841.43" x2="63.90" y2="841.43" stroke="#111" stroke-width="0.9" />
<line x1="61.50" y1="837.35" x2="63.90" y2="837.35" stroke="#111" stroke-width="0.9" />
<line x1="61.50" y1="833.26" x2="63.90" y2="833.26" stroke="#111" stroke-width="0.9" />
<line x1="59.30" y1="829.18" x2="63.90" y2="829.18" stroke="#111" stroke-width="1.1" />
<text x="57.90" y="833.25" font-size="11.3" text-anchor="end" fill="#111" >1</text>
<line x1="61.50" y1="825.10" x2="63.90" y2="825.10" stroke="#111" stroke-width="0.9" />
<line x1="61.50" y1="821.01" x2="63.90" y2="821.01" stroke="#111" stroke-width="0.9" />
<line x1="61.50" y1="816.93" x2="63.90" y2="816.93" stroke="#111" stroke-width="0.9" />
<line x1="61.50" y1="812.84" x2="63.90" y2="812.84" stroke="#111" stroke-width="0.9" />
<line x1="59.30" y1="808.76" x2="63.90" y2="808.76" stroke="#111" stroke-width="1.1" />
<text x="57.90" y="812.83" font-size="11.3" text-anchor="end" fill="#111" >2</text>
<line x1="61.50" y1="804.68" x2="63.90" y2="804.68" stroke="#111" stroke-width="0.9" />
<line x1="61.50" y1="800.59" x2="63.90" y2="800.59" stroke="#111" stroke-width="0.9" />
<line x1="61.50" y1="796.51" x2="63.90" y2="796.51" stroke="#111" stroke-width="0.9" />
<line x1="61.50" y1="792.42" x2="63.90" y2="792.42" stroke="#111" stroke-width="0.9" />
<line x1="59.30" y1="788.34" x2="63.90" y2="788.34" stroke="#111" stroke-width="1.1" />
<text x="57.90" y="792.41" font-size="11.3" text-anchor="end" fill="#111" >3</text>
<line x1="61.50" y1="784.26" x2="63.90" y2="784.26" stroke="#111" stroke-width="0.9" />
<line x1="61.50" y1="780.17" x2="63.90" y2="780.17" stroke="#111" stroke-width="0.9" />
<line x1="61.50" y1="776.09" x2="63.90" y2="776.09" stroke="#111" stroke-width="0.9" />
<line x1="61.50" y1="772.00" x2="63.90" y2="772.00" stroke="#111" stroke-width="0.9" />
<line x1="59.30" y1="767.92" x2="63.90" y2="767.92" stroke="#111" stroke-width="1.1" />
<text x="57.90" y="771.99" font-size="11.3" text-anchor="end" fill="#111" >4</text>
<line x1="61.50" y1="763.84" x2="63.90" y2="763.84" stroke="#111" stroke-width="0.9" />
<line x1="61.50" y1="759.75" x2="63.90" y2="759.75" stroke="#111" stroke-width="0.9" />
<line x1="61.50" y1="755.67" x2="63.90" y2="755.67" stroke="#111" stroke-width="0.9" />
<line x1="61.50" y1="751.58" x2="63.90" y2="751.58" stroke="#111" stroke-width="0.9" />
<line x1="59.30" y1="747.50" x2="63.90" y2="747.50" stroke="#111" stroke-width="1.1" />
<text x="57.90" y="751.57" font-size="11.3" text-anchor="end" fill="#111" >5</text>
<line x1="63.35" y1="849.60" x2="198.00" y2="849.60" stroke="#111" stroke-width="1.1" />
<text x="34.50" y="797.00" font-size="11.3" text-anchor="middle" fill="#111" transform="rotate(-90 34.50 797.00)" >Caspase 3/7 Activity</text>
<text x="47.20" y="797.00" font-size="11.3" text-anchor="middle" fill="#111" transform="rotate(-90 47.20 797.00)" >(Fold Change)</text>
<text x="64.00" y="867.00" font-size="11.3" text-anchor="end" fill="#111" >PTX</text>
<line x1="74.25" y1="872.50" x2="103.55" y2="872.50" stroke="#333" stroke-width="1.1" />
<text x="89.35" y="884.40" font-size="11.600000000000001" text-anchor="middle" fill="#111" >Con</text>
<line x1="116.50" y1="872.50" x2="145.40" y2="872.50" stroke="#333" stroke-width="1.1" />
<text x="131.00" y="884.40" font-size="11.600000000000001" text-anchor="middle" fill="#111" >CV EVs</text>
<line x1="158.50" y1="872.50" x2="187.80" y2="872.50" stroke="#333" stroke-width="1.1" />
<text x="174.90" y="884.40" font-size="11.600000000000001" text-anchor="middle" fill="#111" >aPC</text>
<text x="175.50" y="897.80" font-size="11.600000000000001" text-anchor="middle" fill="#111" >EVs</text>
<line x1="78.00" y1="755.50" x2="99.50" y2="755.50" stroke="#111" stroke-width="1.15" />
<text x="88.75" y="757.21" font-size="13.6" text-anchor="middle" fill="#111" >****</text>
<line x1="98.30" y1="742.50" x2="141.20" y2="742.50" stroke="#222" stroke-width="1.15" />
<text x="119.75" y="737.80" font-size="13.7" text-anchor="middle" fill="#111" >ns</text>
<line x1="98.30" y1="726.00" x2="183.50" y2="726.00" stroke="#333" stroke-width="1.15" />
<text x="140.90" y="727.21" font-size="13.6" text-anchor="middle" fill="#111" >****</text>
<rect x="513.00" y="848.20" width="13.60" height="4.80" fill="#c2e1f3" stroke="#3f97a6" stroke-width="1.2" />
<line x1="519.80" y1="850.00" x2="519.80" y2="846.00" stroke="#3f97a6" stroke-width="1.2" />
<line x1="517.00" y1="850.00" x2="522.60" y2="850.00" stroke="#3f97a6" stroke-width="1.2" />
<line x1="517.00" y1="846.00" x2="522.60" y2="846.00" stroke="#3f97a6" stroke-width="1.2" />
<circle cx="515.50" cy="848.00" r="2.9" fill="none" stroke="#3f97a6" stroke-width="1.25" />
<circle cx="520.00" cy="844.50" r="2.9" fill="none" stroke="#3f97a6" stroke-width="1.25" />
<circle cx="524.50" cy="848.00" r="2.9" fill="none" stroke="#3f97a6" stroke-width="1.25" />
<line x1="519.80" y1="853.00" x2="519.80" y2="857.50" stroke="#111" stroke-width="1.1" />
<text x="519.80" y="872.00" font-size="11" text-anchor="middle" fill="#111" >-</text>
<rect x="536.00" y="772.00" width="13.20" height="81.00" fill="#c2def3" stroke="#235d6b" stroke-width="1.2" />
<line x1="542.60" y1="779.00" x2="542.60" y2="764.50" stroke="#235d6b" stroke-width="1.2" />
<line x1="539.80" y1="779.00" x2="545.40" y2="779.00" stroke="#235d6b" stroke-width="1.2" />
<line x1="539.80" y1="764.50" x2="545.40" y2="764.50" stroke="#235d6b" stroke-width="1.2" />
<circle cx="542.50" cy="764.00" r="2.9" fill="none" stroke="#235d6b" stroke-width="1.25" />
<circle cx="547.50" cy="774.00" r="2.9" fill="none" stroke="#235d6b" stroke-width="1.25" />
<circle cx="538.00" cy="776.50" r="2.9" fill="none" stroke="#235d6b" stroke-width="1.25" />
<line x1="542.60" y1="853.00" x2="542.60" y2="857.50" stroke="#111" stroke-width="1.1" />
<text x="542.60" y="872.00" font-size="11" text-anchor="middle" fill="#111" >+</text>
<rect x="558.30" y="849.20" width="13.60" height="3.80" fill="#f8dfb8" stroke="#ee6f2a" stroke-width="1.2" />
<line x1="565.10" y1="850.50" x2="565.10" y2="847.50" stroke="#ee6f2a" stroke-width="1.2" />
<line x1="562.30" y1="850.50" x2="567.90" y2="850.50" stroke="#ee6f2a" stroke-width="1.2" />
<line x1="562.30" y1="847.50" x2="567.90" y2="847.50" stroke="#ee6f2a" stroke-width="1.2" />
<circle cx="560.50" cy="850.00" r="2.9" fill="none" stroke="#ee6f2a" stroke-width="1.25" />
<circle cx="565.00" cy="847.50" r="2.9" fill="none" stroke="#ee6f2a" stroke-width="1.25" />
<circle cx="569.50" cy="849.00" r="2.9" fill="none" stroke="#ee6f2a" stroke-width="1.25" />
<line x1="565.10" y1="853.00" x2="565.10" y2="857.50" stroke="#111" stroke-width="1.1" />
<text x="565.10" y="872.00" font-size="11" text-anchor="middle" fill="#111" >-</text>
<rect x="581.00" y="771.00" width="13.20" height="82.00" fill="#f5dcb6" stroke="#bf6a26" stroke-width="1.2" />
<line x1="587.60" y1="783.50" x2="587.60" y2="758.00" stroke="#bf6a26" stroke-width="1.2" />
<line x1="584.80" y1="783.50" x2="590.40" y2="783.50" stroke="#bf6a26" stroke-width="1.2" />
<line x1="584.80" y1="758.00" x2="590.40" y2="758.00" stroke="#bf6a26" stroke-width="1.2" />
<circle cx="587.60" cy="758.00" r="2.9" fill="none" stroke="#bf6a26" stroke-width="1.25" />
<circle cx="587.60" cy="770.50" r="2.9" fill="none" stroke="#bf6a26" stroke-width="1.25" />
<circle cx="587.60" cy="783.50" r="2.9" fill="none" stroke="#bf6a26" stroke-width="1.25" />
<line x1="587.60" y1="853.00" x2="587.60" y2="857.50" stroke="#111" stroke-width="1.1" />
<text x="587.60" y="872.00" font-size="11" text-anchor="middle" fill="#111" >+</text>
<rect x="603.60" y="843.40" width="13.20" height="9.60" fill="#bcbcf7" stroke="#2b2bf5" stroke-width="1.2" />
<line x1="610.20" y1="850.00" x2="610.20" y2="836.00" stroke="#2b2bf5" stroke-width="1.2" />
<line x1="607.40" y1="850.00" x2="613.00" y2="850.00" stroke="#2b2bf5" stroke-width="1.2" />
<line x1="607.40" y1="836.00" x2="613.00" y2="836.00" stroke="#2b2bf5" stroke-width="1.2" />
<circle cx="610.20" cy="836.00" r="2.9" fill="none" stroke="#2b2bf5" stroke-width="1.25" />
<circle cx="606.00" cy="847.50" r="2.9" fill="none" stroke="#2b2bf5" stroke-width="1.25" />
<circle cx="614.50" cy="847.50" r="2.9" fill="none" stroke="#2b2bf5" stroke-width="1.25" />
<line x1="610.20" y1="853.00" x2="610.20" y2="857.50" stroke="#111" stroke-width="1.1" />
<text x="610.20" y="872.00" font-size="11" text-anchor="middle" fill="#111" >-</text>
<rect x="625.90" y="828.60" width="13.50" height="24.40" fill="#bcbcf7" stroke="#1d1d8c" stroke-width="1.2" />
<line x1="632.65" y1="831.00" x2="632.65" y2="825.50" stroke="#1d1d8c" stroke-width="1.2" />
<line x1="629.85" y1="831.00" x2="635.45" y2="831.00" stroke="#1d1d8c" stroke-width="1.2" />
<line x1="629.85" y1="825.50" x2="635.45" y2="825.50" stroke="#1d1d8c" stroke-width="1.2" />
<circle cx="627.50" cy="825.50" r="2.9" fill="none" stroke="#1d1d8c" stroke-width="1.25" />
<circle cx="629.00" cy="830.50" r="2.9" fill="none" stroke="#1d1d8c" stroke-width="1.25" />
<circle cx="634.00" cy="828.50" r="2.9" fill="none" stroke="#1d1d8c" stroke-width="1.25" />
<circle cx="638.00" cy="829.00" r="2.9" fill="none" stroke="#1d1d8c" stroke-width="1.25" />
<line x1="632.65" y1="853.00" x2="632.65" y2="857.50" stroke="#111" stroke-width="1.1" />
<text x="632.65" y="872.00" font-size="11" text-anchor="middle" fill="#111" >+</text>
<line x1="504.90" y1="747.85" x2="504.90" y2="853.55" stroke="#111" stroke-width="1.1" />
<line x1="500.30" y1="853.00" x2="504.90" y2="853.00" stroke="#111" stroke-width="1.1" />
<text x="498.90" y="856.96" font-size="11" text-anchor="end" fill="#111" >0</text>
<line x1="502.50" y1="846.03" x2="504.90" y2="846.03" stroke="#111" stroke-width="0.9" />
<line x1="502.50" y1="839.05" x2="504.90" y2="839.05" stroke="#111" stroke-width="0.9" />
<line x1="502.50" y1="832.08" x2="504.90" y2="832.08" stroke="#111" stroke-width="0.9" />
<line x1="502.50" y1="825.11" x2="504.90" y2="825.11" stroke="#111" stroke-width="0.9" />
<line x1="500.30" y1="818.13" x2="504.90" y2="818.13" stroke="#111" stroke-width="1.1" />
<text x="498.90" y="822.09" font-size="11" text-anchor="end" fill="#111" >5</text>
<line x1="502.50" y1="811.16" x2="504.90" y2="811.16" stroke="#111" stroke-width="0.9" />
<line x1="502.50" y1="804.19" x2="504.90" y2="804.19" stroke="#111" stroke-width="0.9" />
<line x1="502.50" y1="797.21" x2="504.90" y2="797.21" stroke="#111" stroke-width="0.9" />
<line x1="502.50" y1="790.24" x2="504.90" y2="790.24" stroke="#111" stroke-width="0.9" />
<line x1="500.30" y1="783.27" x2="504.90" y2="783.27" stroke="#111" stroke-width="1.1" />
<text x="498.90" y="787.23" font-size="11" text-anchor="end" fill="#111" >10</text>
<line x1="502.50" y1="776.29" x2="504.90" y2="776.29" stroke="#111" stroke-width="0.9" />
<line x1="502.50" y1="769.32" x2="504.90" y2="769.32" stroke="#111" stroke-width="0.9" />
<line x1="502.50" y1="762.35" x2="504.90" y2="762.35" stroke="#111" stroke-width="0.9" />
<line x1="502.50" y1="755.37" x2="504.90" y2="755.37" stroke="#111" stroke-width="0.9" />
<line x1="500.30" y1="748.40" x2="504.90" y2="748.40" stroke="#111" stroke-width="1.1" />
<text x="498.90" y="752.36" font-size="11" text-anchor="end" fill="#111" >15</text>
<line x1="504.35" y1="853.00" x2="647.50" y2="853.00" stroke="#111" stroke-width="1.1" />
<text x="480.50" y="800.00" font-size="11.3" text-anchor="middle" fill="#111" transform="rotate(-90 480.50 800.00)" >Bax:Bcl-2 (Fold Change)</text>
<text x="505.50" y="872.00" font-size="11" text-anchor="end" fill="#111" >PTX</text>
<line x1="516.00" y1="877.50" x2="546.90" y2="877.50" stroke="#333" stroke-width="1.1" />
<text x="531.90" y="890.40" font-size="11.3" text-anchor="middle" fill="#111" >Con</text>
<line x1="561.30" y1="877.50" x2="591.90" y2="877.50" stroke="#333" stroke-width="1.1" />
<text x="576.65" y="890.40" font-size="11.3" text-anchor="middle" fill="#111" >CV EVs</text>
<line x1="606.40" y1="877.50" x2="636.95" y2="877.50" stroke="#333" stroke-width="1.1" />
<text x="623.42" y="890.40" font-size="11.3" text-anchor="middle" fill="#111" >aPC</text>
<text x="624.02" y="903.50" font-size="11.3" text-anchor="middle" fill="#111" >EVs</text>
<line x1="520.00" y1="758.30" x2="541.50" y2="758.30" stroke="#111" stroke-width="1.15" />
<text x="530.75" y="760.62" font-size="13.8" text-anchor="middle" fill="#111" >****</text>
<line x1="541.50" y1="744.60" x2="586.00" y2="744.60" stroke="#444" stroke-width="1.15" />
<text x="563.75" y="739.50" font-size="13.7" text-anchor="middle" fill="#111" >ns</text>
<line x1="541.50" y1="726.80" x2="634.00" y2="726.80" stroke="#2a2a2a" stroke-width="1.15" />
<text x="587.75" y="728.72" font-size="13.8" text-anchor="middle" fill="#111" >****</text>
<path d="M427.00,103.60 L436.00,102.80 L441.00,101.50 L444.00,99.50 L445.50,92.00 L447.00,75.00 L449.00,50.00 L450.80,30.00 L451.80,27.20 L453.00,29.50 L454.00,31.00 L455.50,45.00 L457.50,64.00 L459.50,82.00 L461.50,94.00 L463.50,100.50 L465.00,102.30 L466.30,101.50 L467.50,100.00 L467.50,103.60 Z" fill="#9a9a9a" stroke="#3a3a3a" stroke-width="0.8" stroke-linejoin="round"/>
<rect x="378.30" y="15.50" width="89.20" height="88.10" fill="none" stroke="#444" stroke-width="1.0" />
<line x1="375.30" y1="103.60" x2="378.30" y2="103.60" stroke="#222" stroke-width="1.1" />
<text transform="translate(373.70 107.20) scale(1.03 1)" font-size="10.3" text-anchor="end" fill="#222" >0</text>
<line x1="375.30" y1="85.10" x2="378.30" y2="85.10" stroke="#222" stroke-width="1.1" />
<text transform="translate(373.70 88.70) scale(1.03 1)" font-size="10.3" text-anchor="end" fill="#222" >50</text>
<line x1="375.30" y1="66.70" x2="378.30" y2="66.70" stroke="#222" stroke-width="1.1" />
<text transform="translate(373.70 70.30) scale(1.03 1)" font-size="10.3" text-anchor="end" fill="#222" >100</text>
<line x1="375.30" y1="48.30" x2="378.30" y2="48.30" stroke="#222" stroke-width="1.1" />
<text transform="translate(373.70 51.90) scale(1.03 1)" font-size="10.3" text-anchor="end" fill="#222" >150</text>
<line x1="375.30" y1="30.40" x2="378.30" y2="30.40" stroke="#222" stroke-width="1.1" />
<text transform="translate(373.70 34.00) scale(1.03 1)" font-size="10.3" text-anchor="end" fill="#222" >200</text>
<line x1="376.60" y1="99.90" x2="378.30" y2="99.90" stroke="#222" stroke-width="0.7" />
<line x1="376.60" y1="96.20" x2="378.30" y2="96.20" stroke="#222" stroke-width="0.7" />
<line x1="376.60" y1="92.50" x2="378.30" y2="92.50" stroke="#222" stroke-width="0.7" />
<line x1="376.60" y1="88.80" x2="378.30" y2="88.80" stroke="#222" stroke-width="0.7" />
<line x1="376.60" y1="81.40" x2="378.30" y2="81.40" stroke="#222" stroke-width="0.7" />
<line x1="376.60" y1="77.70" x2="378.30" y2="77.70" stroke="#222" stroke-width="0.7" />
<line x1="376.60" y1="74.00" x2="378.30" y2="74.00" stroke="#222" stroke-width="0.7" />
<line x1="376.60" y1="70.30" x2="378.30" y2="70.30" stroke="#222" stroke-width="0.7" />
<line x1="376.60" y1="62.90" x2="378.30" y2="62.90" stroke="#222" stroke-width="0.7" />
<line x1="376.60" y1="59.20" x2="378.30" y2="59.20" stroke="#222" stroke-width="0.7" />
<line x1="376.60" y1="55.50" x2="378.30" y2="55.50" stroke="#222" stroke-width="0.7" />
<line x1="376.60" y1="51.80" x2="378.30" y2="51.80" stroke="#222" stroke-width="0.7" />
<line x1="376.60" y1="44.40" x2="378.30" y2="44.40" stroke="#222" stroke-width="0.7" />
<line x1="376.60" y1="40.70" x2="378.30" y2="40.70" stroke="#222" stroke-width="0.7" />
<line x1="376.60" y1="37.00" x2="378.30" y2="37.00" stroke="#222" stroke-width="0.7" />
<line x1="376.60" y1="33.30" x2="378.30" y2="33.30" stroke="#222" stroke-width="0.7" />
<line x1="376.60" y1="25.90" x2="378.30" y2="25.90" stroke="#222" stroke-width="0.7" />
<line x1="376.60" y1="22.20" x2="378.30" y2="22.20" stroke="#222" stroke-width="0.7" />
<line x1="376.60" y1="18.50" x2="378.30" y2="18.50" stroke="#222" stroke-width="0.7" />
<line x1="379.30" y1="103.60" x2="379.30" y2="106.80" stroke="#222" stroke-width="0.9" />
<line x1="395.69" y1="103.60" x2="395.69" y2="106.80" stroke="#222" stroke-width="0.9" />
<line x1="430.48" y1="103.60" x2="430.48" y2="106.80" stroke="#222" stroke-width="0.9" />
<line x1="448.77" y1="103.60" x2="448.77" y2="106.80" stroke="#222" stroke-width="0.9" />
<line x1="463.00" y1="103.60" x2="463.00" y2="106.80" stroke="#222" stroke-width="0.9" />
<line x1="435.99" y1="103.60" x2="435.99" y2="105.40" stroke="#222" stroke-width="0.6" />
<line x1="439.21" y1="103.60" x2="439.21" y2="105.40" stroke="#222" stroke-width="0.6" />
<line x1="441.49" y1="103.60" x2="441.49" y2="105.40" stroke="#222" stroke-width="0.6" />
<line x1="443.26" y1="103.60" x2="443.26" y2="105.40" stroke="#222" stroke-width="0.6" />
<line x1="444.71" y1="103.60" x2="444.71" y2="105.40" stroke="#222" stroke-width="0.6" />
<line x1="445.94" y1="103.60" x2="445.94" y2="105.40" stroke="#222" stroke-width="0.6" />
<line x1="447.00" y1="103.60" x2="447.00" y2="105.40" stroke="#222" stroke-width="0.6" />
<line x1="447.93" y1="103.60" x2="447.93" y2="105.40" stroke="#222" stroke-width="0.6" />
<line x1="453.05" y1="103.60" x2="453.05" y2="105.40" stroke="#222" stroke-width="0.6" />
<line x1="455.56" y1="103.60" x2="455.56" y2="105.40" stroke="#222" stroke-width="0.6" />
<line x1="457.34" y1="103.60" x2="457.34" y2="105.40" stroke="#222" stroke-width="0.6" />
<line x1="458.72" y1="103.60" x2="458.72" y2="105.40" stroke="#222" stroke-width="0.6" />
<line x1="459.84" y1="103.60" x2="459.84" y2="105.40" stroke="#222" stroke-width="0.6" />
<line x1="460.80" y1="103.60" x2="460.80" y2="105.40" stroke="#222" stroke-width="0.6" />
<line x1="461.62" y1="103.60" x2="461.62" y2="105.40" stroke="#222" stroke-width="0.6" />
<line x1="462.35" y1="103.60" x2="462.35" y2="105.40" stroke="#222" stroke-width="0.6" />
<line x1="418.32" y1="103.60" x2="418.32" y2="105.40" stroke="#222" stroke-width="0.6" />
<line x1="421.39" y1="103.60" x2="421.39" y2="105.40" stroke="#222" stroke-width="0.6" />
<line x1="423.56" y1="103.60" x2="423.56" y2="105.40" stroke="#222" stroke-width="0.6" />
<line x1="425.25" y1="103.60" x2="425.25" y2="105.40" stroke="#222" stroke-width="0.6" />
<line x1="426.62" y1="103.60" x2="426.62" y2="105.40" stroke="#222" stroke-width="0.6" />
<line x1="427.79" y1="103.60" x2="427.79" y2="105.40" stroke="#222" stroke-width="0.6" />
<line x1="428.80" y1="103.60" x2="428.80" y2="105.40" stroke="#222" stroke-width="0.6" />
<line x1="429.69" y1="103.60" x2="429.69" y2="105.40" stroke="#222" stroke-width="0.6" />
<line x1="392.09" y1="103.60" x2="392.09" y2="105.80" stroke="#111" stroke-width="0.7" />
<line x1="392.99" y1="103.60" x2="392.99" y2="105.80" stroke="#111" stroke-width="0.7" />
<line x1="393.89" y1="103.60" x2="393.89" y2="105.80" stroke="#111" stroke-width="0.7" />
<line x1="394.79" y1="103.60" x2="394.79" y2="105.80" stroke="#111" stroke-width="0.7" />
<line x1="395.69" y1="103.60" x2="395.69" y2="105.80" stroke="#111" stroke-width="0.7" />
<line x1="396.59" y1="103.60" x2="396.59" y2="105.80" stroke="#111" stroke-width="0.7" />
<line x1="397.49" y1="103.60" x2="397.49" y2="105.80" stroke="#111" stroke-width="0.7" />
<line x1="398.39" y1="103.60" x2="398.39" y2="105.80" stroke="#111" stroke-width="0.7" />
<line x1="399.29" y1="103.60" x2="399.29" y2="105.80" stroke="#111" stroke-width="0.7" />
<line x1="380.90" y1="103.60" x2="380.90" y2="105.20" stroke="#222" stroke-width="0.5" />
<line x1="382.50" y1="103.60" x2="382.50" y2="105.20" stroke="#222" stroke-width="0.5" />
<line x1="384.10" y1="103.60" x2="384.10" y2="105.20" stroke="#222" stroke-width="0.5" />
<line x1="385.70" y1="103.60" x2="385.70" y2="105.20" stroke="#222" stroke-width="0.5" />
<line x1="387.30" y1="103.60" x2="387.30" y2="105.20" stroke="#222" stroke-width="0.5" />
<line x1="388.90" y1="103.60" x2="388.90" y2="105.20" stroke="#222" stroke-width="0.5" />
<line x1="390.50" y1="103.60" x2="390.50" y2="105.20" stroke="#222" stroke-width="0.5" />
<text transform="translate(395.69 119.20) scale(1.05 1)" font-size="10.3" text-anchor="middle" fill="#222" >0</text>
<text transform="translate(429.98 119.20) scale(1.08 1)" font-size="10.3" text-anchor="middle" fill="#222">10<tspan dy="-4" font-size="7.4">4</tspan></text>
<text transform="translate(462.20 119.20) scale(1.08 1)" font-size="10.3" text-anchor="middle" fill="#222">10<tspan dy="-4" font-size="7.4">6</tspan></text>
<text transform="translate(422.70 9.90) scale(1.06 1)" font-size="12" text-anchor="middle" fill="#111" >Con</text>
<line x1="409.70" y1="30.80" x2="444.00" y2="30.80" stroke="#666" stroke-width="1.0" />
<line x1="409.70" y1="29.20" x2="409.70" y2="32.40" stroke="#666" stroke-width="1.0" />
<line x1="444.00" y1="29.30" x2="444.00" y2="103.60" stroke="#e3262b" stroke-width="1.6" stroke-dasharray="4.3 2.1"/>
<text transform="translate(436.50 41.00) scale(1.12 1)" font-size="8.8" text-anchor="end" fill="#222" >1.79</text>
<text transform="translate(409.20 52.10) scale(1.13 1)" font-size="8.8" text-anchor="middle" fill="#222" >Proliferating</text>
<text transform="translate(409.20 63.40) scale(1.13 1)" font-size="8.8" text-anchor="middle" fill="#222" >Cells (%)</text>
<path d="M525.00,103.60 L533.00,102.80 L537.00,101.20 L539.50,98.00 L541.00,90.00 L542.50,72.00 L544.50,48.00 L546.00,30.00 L547.30,24.80 L548.30,27.00 L549.20,33.00 L550.50,46.00 L552.50,66.00 L554.50,84.00 L556.50,95.00 L558.50,100.50 L561.00,102.50 L562.00,103.00 L562.00,103.60 Z" fill="#9a9a9a" stroke="#3a3a3a" stroke-width="0.8" stroke-linejoin="round"/>
<rect x="473.20" y="15.50" width="89.00" height="88.10" fill="none" stroke="#444" stroke-width="1.0" />
<line x1="470.20" y1="103.60" x2="473.20" y2="103.60" stroke="#222" stroke-width="1.1" />
<line x1="470.20" y1="85.10" x2="473.20" y2="85.10" stroke="#222" stroke-width="1.1" />
<line x1="470.20" y1="66.70" x2="473.20" y2="66.70" stroke="#222" stroke-width="1.1" />
<line x1="470.20" y1="48.30" x2="473.20" y2="48.30" stroke="#222" stroke-width="1.1" />
<line x1="470.20" y1="30.40" x2="473.20" y2="30.40" stroke="#222" stroke-width="1.1" />
<line x1="471.50" y1="99.90" x2="473.20" y2="99.90" stroke="#222" stroke-width="0.7" />
<line x1="471.50" y1="96.20" x2="473.20" y2="96.20" stroke="#222" stroke-width="0.7" />
<line x1="471.50" y1="92.50" x2="473.20" y2="92.50" stroke="#222" stroke-width="0.7" />
<line x1="471.50" y1="88.80" x2="473.20" y2="88.80" stroke="#222" stroke-width="0.7" />
<line x1="471.50" y1="81.40" x2="473.20" y2="81.40" stroke="#222" stroke-width="0.7" />
<line x1="471.50" y1="77.70" x2="473.20" y2="77.70" stroke="#222" stroke-width="0.7" />
<line x1="471.50" y1="74.00" x2="473.20" y2="74.00" stroke="#222" stroke-width="0.7" />
<line x1="471.50" y1="70.30" x2="473.20" y2="70.30" stroke="#222" stroke-width="0.7" />
<line x1="471.50" y1="62.90" x2="473.20" y2="62.90" stroke="#222" stroke-width="0.7" />
<line x1="471.50" y1="59.20" x2="473.20" y2="59.20" stroke="#222" stroke-width="0.7" />
<line x1="471.50" y1="55.50" x2="473.20" y2="55.50" stroke="#222" stroke-width="0.7" />
<line x1="471.50" y1="51.80" x2="473.20" y2="51.80" stroke="#222" stroke-width="0.7" />
<line x1="471.50" y1="44.40" x2="473.20" y2="44.40" stroke="#222" stroke-width="0.7" />
<line x1="471.50" y1="40.70" x2="473.20" y2="40.70" stroke="#222" stroke-width="0.7" />
<line x1="471.50" y1="37.00" x2="473.20" y2="37.00" stroke="#222" stroke-width="0.7" />
<line x1="471.50" y1="33.30" x2="473.20" y2="33.30" stroke="#222" stroke-width="0.7" />
<line x1="471.50" y1="25.90" x2="473.20" y2="25.90" stroke="#222" stroke-width="0.7" />
<line x1="471.50" y1="22.20" x2="473.20" y2="22.20" stroke="#222" stroke-width="0.7" />
<line x1="471.50" y1="18.50" x2="473.20" y2="18.50" stroke="#222" stroke-width="0.7" />
<line x1="474.20" y1="103.60" x2="474.20" y2="106.80" stroke="#222" stroke-width="0.9" />
<line x1="490.56" y1="103.60" x2="490.56" y2="106.80" stroke="#222" stroke-width="0.9" />
<line x1="525.26" y1="103.60" x2="525.26" y2="106.80" stroke="#222" stroke-width="0.9" />
<line x1="543.51" y1="103.60" x2="543.51" y2="106.80" stroke="#222" stroke-width="0.9" />
<line x1="557.70" y1="103.60" x2="557.70" y2="106.80" stroke="#222" stroke-width="0.9" />
<line x1="530.76" y1="103.60" x2="530.76" y2="105.40" stroke="#222" stroke-width="0.6" />
<line x1="533.97" y1="103.60" x2="533.97" y2="105.40" stroke="#222" stroke-width="0.6" />
<line x1="536.25" y1="103.60" x2="536.25" y2="105.40" stroke="#222" stroke-width="0.6" />
<line x1="538.02" y1="103.60" x2="538.02" y2="105.40" stroke="#222" stroke-width="0.6" />
<line x1="539.46" y1="103.60" x2="539.46" y2="105.40" stroke="#222" stroke-width="0.6" />
<line x1="540.68" y1="103.60" x2="540.68" y2="105.40" stroke="#222" stroke-width="0.6" />
<line x1="541.74" y1="103.60" x2="541.74" y2="105.40" stroke="#222" stroke-width="0.6" />
<line x1="542.68" y1="103.60" x2="542.68" y2="105.40" stroke="#222" stroke-width="0.6" />
<line x1="547.78" y1="103.60" x2="547.78" y2="105.40" stroke="#222" stroke-width="0.6" />
<line x1="550.28" y1="103.60" x2="550.28" y2="105.40" stroke="#222" stroke-width="0.6" />
<line x1="552.05" y1="103.60" x2="552.05" y2="105.40" stroke="#222" stroke-width="0.6" />
<line x1="553.43" y1="103.60" x2="553.43" y2="105.40" stroke="#222" stroke-width="0.6" />
<line x1="554.55" y1="103.60" x2="554.55" y2="105.40" stroke="#222" stroke-width="0.6" />
<line x1="555.50" y1="103.60" x2="555.50" y2="105.40" stroke="#222" stroke-width="0.6" />
<line x1="556.32" y1="103.60" x2="556.32" y2="105.40" stroke="#222" stroke-width="0.6" />
<line x1="557.05" y1="103.60" x2="557.05" y2="105.40" stroke="#222" stroke-width="0.6" />
<line x1="513.13" y1="103.60" x2="513.13" y2="105.40" stroke="#222" stroke-width="0.6" />
<line x1="516.19" y1="103.60" x2="516.19" y2="105.40" stroke="#222" stroke-width="0.6" />
<line x1="518.36" y1="103.60" x2="518.36" y2="105.40" stroke="#222" stroke-width="0.6" />
<line x1="520.04" y1="103.60" x2="520.04" y2="105.40" stroke="#222" stroke-width="0.6" />
<line x1="521.41" y1="103.60" x2="521.41" y2="105.40" stroke="#222" stroke-width="0.6" />
<line x1="522.58" y1="103.60" x2="522.58" y2="105.40" stroke="#222" stroke-width="0.6" />
<line x1="523.58" y1="103.60" x2="523.58" y2="105.40" stroke="#222" stroke-width="0.6" />
<line x1="524.47" y1="103.60" x2="524.47" y2="105.40" stroke="#222" stroke-width="0.6" />
<line x1="486.95" y1="103.60" x2="486.95" y2="105.80" stroke="#111" stroke-width="0.7" />
<line x1="487.86" y1="103.60" x2="487.86" y2="105.80" stroke="#111" stroke-width="0.7" />
<line x1="488.75" y1="103.60" x2="488.75" y2="105.80" stroke="#111" stroke-width="0.7" />
<line x1="489.66" y1="103.60" x2="489.66" y2="105.80" stroke="#111" stroke-width="0.7" />
<line x1="490.56" y1="103.60" x2="490.56" y2="105.80" stroke="#111" stroke-width="0.7" />
<line x1="491.45" y1="103.60" x2="491.45" y2="105.80" stroke="#111" stroke-width="0.7" />
<line x1="492.36" y1="103.60" x2="492.36" y2="105.80" stroke="#111" stroke-width="0.7" />
<line x1="493.25" y1="103.60" x2="493.25" y2="105.80" stroke="#111" stroke-width="0.7" />
<line x1="494.16" y1="103.60" x2="494.16" y2="105.80" stroke="#111" stroke-width="0.7" />
<line x1="475.80" y1="103.60" x2="475.80" y2="105.20" stroke="#222" stroke-width="0.5" />
<line x1="477.40" y1="103.60" x2="477.40" y2="105.20" stroke="#222" stroke-width="0.5" />
<line x1="479.00" y1="103.60" x2="479.00" y2="105.20" stroke="#222" stroke-width="0.5" />
<line x1="480.60" y1="103.60" x2="480.60" y2="105.20" stroke="#222" stroke-width="0.5" />
<line x1="482.20" y1="103.60" x2="482.20" y2="105.20" stroke="#222" stroke-width="0.5" />
<line x1="483.80" y1="103.60" x2="483.80" y2="105.20" stroke="#222" stroke-width="0.5" />
<line x1="485.40" y1="103.60" x2="485.40" y2="105.20" stroke="#222" stroke-width="0.5" />
<text transform="translate(490.56 119.20) scale(1.05 1)" font-size="10.3" text-anchor="middle" fill="#222" >0</text>
<text transform="translate(524.76 119.20) scale(1.08 1)" font-size="10.3" text-anchor="middle" fill="#222">10<tspan dy="-4" font-size="7.4">4</tspan></text>
<text transform="translate(556.90 119.20) scale(1.08 1)" font-size="10.3" text-anchor="middle" fill="#222">10<tspan dy="-4" font-size="7.4">6</tspan></text>
<text transform="translate(517.00 9.90) scale(1.06 1)" font-size="12" text-anchor="middle" fill="#111" >CV EVs</text>
<line x1="505.00" y1="30.80" x2="538.80" y2="30.80" stroke="#666" stroke-width="1.0" />
<line x1="505.00" y1="29.20" x2="505.00" y2="32.40" stroke="#666" stroke-width="1.0" />
<line x1="538.80" y1="29.30" x2="538.80" y2="103.60" stroke="#e3262b" stroke-width="1.6" stroke-dasharray="4.3 2.1"/>
<text transform="translate(531.30 41.00) scale(1.12 1)" font-size="8.8" text-anchor="end" fill="#222" >1.51</text>
<text transform="translate(505.00 52.10) scale(1.13 1)" font-size="8.8" text-anchor="middle" fill="#222" >Proliferating</text>
<text transform="translate(505.00 63.40) scale(1.13 1)" font-size="8.8" text-anchor="middle" fill="#222" >Cells (%)</text>
<path d="M625.00,103.60 L632.00,102.80 L640.00,101.50 L645.00,99.50 L648.50,95.00 L650.50,85.00 L652.50,62.00 L654.00,42.00 L655.50,30.00 L656.50,26.80 L657.70,29.00 L659.00,34.00 L660.00,33.00 L661.00,38.00 L662.50,44.00 L664.00,52.00 L666.00,62.00 L668.00,76.00 L670.00,89.00 L672.00,97.00 L674.00,101.50 L676.00,103.00 L676.80,103.60 Z" fill="#9a9a9a" stroke="#3a3a3a" stroke-width="0.8" stroke-linejoin="round"/>
<rect x="585.80" y="15.50" width="91.00" height="88.10" fill="none" stroke="#444" stroke-width="1.0" />
<line x1="582.80" y1="103.60" x2="585.80" y2="103.60" stroke="#222" stroke-width="1.1" />
<text transform="translate(581.20 107.20) scale(1.03 1)" font-size="10.3" text-anchor="end" fill="#222" >0</text>
<line x1="582.80" y1="74.80" x2="585.80" y2="74.80" stroke="#222" stroke-width="1.1" />
<text transform="translate(581.20 78.40) scale(1.03 1)" font-size="10.3" text-anchor="end" fill="#222" >50</text>
<line x1="582.80" y1="45.80" x2="585.80" y2="45.80" stroke="#222" stroke-width="1.1" />
<text transform="translate(581.20 49.40) scale(1.03 1)" font-size="10.3" text-anchor="end" fill="#222" >100</text>
<line x1="582.80" y1="17.00" x2="585.80" y2="17.00" stroke="#222" stroke-width="1.1" />
<text transform="translate(581.20 20.60) scale(1.03 1)" font-size="10.3" text-anchor="end" fill="#222" >150</text>
<line x1="584.10" y1="97.84" x2="585.80" y2="97.84" stroke="#222" stroke-width="0.7" />
<line x1="584.10" y1="92.08" x2="585.80" y2="92.08" stroke="#222" stroke-width="0.7" />
<line x1="584.10" y1="86.32" x2="585.80" y2="86.32" stroke="#222" stroke-width="0.7" />
<line x1="584.10" y1="80.56" x2="585.80" y2="80.56" stroke="#222" stroke-width="0.7" />
<line x1="584.10" y1="69.04" x2="585.80" y2="69.04" stroke="#222" stroke-width="0.7" />
<line x1="584.10" y1="63.28" x2="585.80" y2="63.28" stroke="#222" stroke-width="0.7" />
<line x1="584.10" y1="57.52" x2="585.80" y2="57.52" stroke="#222" stroke-width="0.7" />
<line x1="584.10" y1="51.76" x2="585.80" y2="51.76" stroke="#222" stroke-width="0.7" />
<line x1="584.10" y1="40.24" x2="585.80" y2="40.24" stroke="#222" stroke-width="0.7" />
<line x1="584.10" y1="34.48" x2="585.80" y2="34.48" stroke="#222" stroke-width="0.7" />
<line x1="584.10" y1="28.72" x2="585.80" y2="28.72" stroke="#222" stroke-width="0.7" />
<line x1="584.10" y1="22.96" x2="585.80" y2="22.96" stroke="#222" stroke-width="0.7" />
<line x1="586.80" y1="103.60" x2="586.80" y2="106.80" stroke="#222" stroke-width="0.9" />
<line x1="603.54" y1="103.60" x2="603.54" y2="106.80" stroke="#222" stroke-width="0.9" />
<line x1="639.03" y1="103.60" x2="639.03" y2="106.80" stroke="#222" stroke-width="0.9" />
<line x1="657.69" y1="103.60" x2="657.69" y2="106.80" stroke="#222" stroke-width="0.9" />
<line x1="672.30" y1="103.60" x2="672.30" y2="106.80" stroke="#222" stroke-width="0.9" />
<line x1="644.65" y1="103.60" x2="644.65" y2="105.40" stroke="#222" stroke-width="0.6" />
<line x1="647.94" y1="103.60" x2="647.94" y2="105.40" stroke="#222" stroke-width="0.6" />
<line x1="650.27" y1="103.60" x2="650.27" y2="105.40" stroke="#222" stroke-width="0.6" />
<line x1="652.07" y1="103.60" x2="652.07" y2="105.40" stroke="#222" stroke-width="0.6" />
<line x1="653.55" y1="103.60" x2="653.55" y2="105.40" stroke="#222" stroke-width="0.6" />
<line x1="654.80" y1="103.60" x2="654.80" y2="105.40" stroke="#222" stroke-width="0.6" />
<line x1="655.88" y1="103.60" x2="655.88" y2="105.40" stroke="#222" stroke-width="0.6" />
<line x1="656.84" y1="103.60" x2="656.84" y2="105.40" stroke="#222" stroke-width="0.6" />
<line x1="662.09" y1="103.60" x2="662.09" y2="105.40" stroke="#222" stroke-width="0.6" />
<line x1="664.66" y1="103.60" x2="664.66" y2="105.40" stroke="#222" stroke-width="0.6" />
<line x1="666.49" y1="103.60" x2="666.49" y2="105.40" stroke="#222" stroke-width="0.6" />
<line x1="667.90" y1="103.60" x2="667.90" y2="105.40" stroke="#222" stroke-width="0.6" />
<line x1="669.06" y1="103.60" x2="669.06" y2="105.40" stroke="#222" stroke-width="0.6" />
<line x1="670.04" y1="103.60" x2="670.04" y2="105.40" stroke="#222" stroke-width="0.6" />
<line x1="670.88" y1="103.60" x2="670.88" y2="105.40" stroke="#222" stroke-width="0.6" />
<line x1="671.63" y1="103.60" x2="671.63" y2="105.40" stroke="#222" stroke-width="0.6" />
<line x1="626.63" y1="103.60" x2="626.63" y2="105.40" stroke="#222" stroke-width="0.6" />
<line x1="629.76" y1="103.60" x2="629.76" y2="105.40" stroke="#222" stroke-width="0.6" />
<line x1="631.97" y1="103.60" x2="631.97" y2="105.40" stroke="#222" stroke-width="0.6" />
<line x1="633.69" y1="103.60" x2="633.69" y2="105.40" stroke="#222" stroke-width="0.6" />
<line x1="635.10" y1="103.60" x2="635.10" y2="105.40" stroke="#222" stroke-width="0.6" />
<line x1="636.29" y1="103.60" x2="636.29" y2="105.40" stroke="#222" stroke-width="0.6" />
<line x1="637.32" y1="103.60" x2="637.32" y2="105.40" stroke="#222" stroke-width="0.6" />
<line x1="638.22" y1="103.60" x2="638.22" y2="105.40" stroke="#222" stroke-width="0.6" />
<line x1="599.94" y1="103.60" x2="599.94" y2="105.80" stroke="#111" stroke-width="0.7" />
<line x1="600.84" y1="103.60" x2="600.84" y2="105.80" stroke="#111" stroke-width="0.7" />
<line x1="601.75" y1="103.60" x2="601.75" y2="105.80" stroke="#111" stroke-width="0.7" />
<line x1="602.64" y1="103.60" x2="602.64" y2="105.80" stroke="#111" stroke-width="0.7" />
<line x1="603.54" y1="103.60" x2="603.54" y2="105.80" stroke="#111" stroke-width="0.7" />
<line x1="604.44" y1="103.60" x2="604.44" y2="105.80" stroke="#111" stroke-width="0.7" />
<line x1="605.34" y1="103.60" x2="605.34" y2="105.80" stroke="#111" stroke-width="0.7" />
<line x1="606.25" y1="103.60" x2="606.25" y2="105.80" stroke="#111" stroke-width="0.7" />
<line x1="607.14" y1="103.60" x2="607.14" y2="105.80" stroke="#111" stroke-width="0.7" />
<line x1="588.40" y1="103.60" x2="588.40" y2="105.20" stroke="#222" stroke-width="0.5" />
<line x1="590.00" y1="103.60" x2="590.00" y2="105.20" stroke="#222" stroke-width="0.5" />
<line x1="591.60" y1="103.60" x2="591.60" y2="105.20" stroke="#222" stroke-width="0.5" />
<line x1="593.20" y1="103.60" x2="593.20" y2="105.20" stroke="#222" stroke-width="0.5" />
<line x1="594.80" y1="103.60" x2="594.80" y2="105.20" stroke="#222" stroke-width="0.5" />
<line x1="596.40" y1="103.60" x2="596.40" y2="105.20" stroke="#222" stroke-width="0.5" />
<line x1="598.00" y1="103.60" x2="598.00" y2="105.20" stroke="#222" stroke-width="0.5" />
<text transform="translate(603.54 119.20) scale(1.05 1)" font-size="10.3" text-anchor="middle" fill="#222" >0</text>
<text transform="translate(638.53 119.20) scale(1.08 1)" font-size="10.3" text-anchor="middle" fill="#222">10<tspan dy="-4" font-size="7.4">4</tspan></text>
<text transform="translate(671.50 119.20) scale(1.08 1)" font-size="10.3" text-anchor="middle" fill="#222">10<tspan dy="-4" font-size="7.4">6</tspan></text>
<text transform="translate(630.00 9.90) scale(1.06 1)" font-size="12" text-anchor="middle" fill="#111" >aPC EVs</text>
<line x1="618.50" y1="30.80" x2="652.30" y2="30.80" stroke="#666" stroke-width="1.0" />
<line x1="618.50" y1="29.20" x2="618.50" y2="32.40" stroke="#666" stroke-width="1.0" />
<line x1="652.30" y1="29.30" x2="652.30" y2="103.60" stroke="#e3262b" stroke-width="1.6" stroke-dasharray="4.3 2.1"/>
<text transform="translate(648.90 41.00) scale(1.12 1)" font-size="8.8" text-anchor="end" fill="#222" >12.80</text>
<text transform="translate(621.50 52.10) scale(1.13 1)" font-size="8.8" text-anchor="middle" fill="#222" >Proliferating</text>
<text transform="translate(621.50 63.40) scale(1.13 1)" font-size="8.8" text-anchor="middle" fill="#222" >Cells (%)</text>
<clipPath id="cA1"><rect x="1.0" y="55.2" width="116.0" height="115.60000000000001"/></clipPath>
<rect x="1.00" y="55.20" width="116.00" height="115.60" fill="#000" stroke="none" stroke-width="1" />
<g clip-path="url(#cA1)">
<ellipse cx="11.40" cy="57.40" rx="13.00" ry="9.40" fill="#5a0a00" opacity="0.13" filter="url(#b4)"/>
<ellipse cx="34.20" cy="56.20" rx="9.50" ry="7.60" fill="#5a0a00" opacity="0.13" filter="url(#b4)"/>
<ellipse cx="80.60" cy="58.60" rx="13.40" ry="10.10" fill="#5a0a00" opacity="0.13" filter="url(#b4)"/>
<ellipse cx="32.90" cy="80.10" rx="13.00" ry="10.70" fill="#5a0a00" opacity="0.13" filter="url(#b4)"/>
<ellipse cx="92.90" cy="85.00" rx="12.70" ry="11.30" fill="#5a0a00" opacity="0.13" filter="url(#b4)"/>
<ellipse cx="99.00" cy="90.60" rx="13.00" ry="12.30" fill="#5a0a00" opacity="0.13" filter="url(#b4)"/>
<ellipse cx="30.30" cy="115.20" rx="12.10" ry="13.70" fill="#5a0a00" opacity="0.13" filter="url(#b4)"/>
<ellipse cx="77.40" cy="115.30" rx="13.40" ry="10.60" fill="#5a0a00" opacity="0.13" filter="url(#b4)"/>
<ellipse cx="7.90" cy="129.70" rx="13.00" ry="11.30" fill="#5a0a00" opacity="0.13" filter="url(#b4)"/>
<ellipse cx="64.30" cy="136.40" rx="11.60" ry="10.90" fill="#5a0a00" opacity="0.13" filter="url(#b4)"/>
<ellipse cx="41.70" cy="160.00" rx="12.70" ry="11.00" fill="#5a0a00" opacity="0.13" filter="url(#b4)"/>
<ellipse cx="111.20" cy="156.30" rx="13.00" ry="12.00" fill="#5a0a00" opacity="0.13" filter="url(#b4)"/>
<ellipse cx="6.10" cy="164.80" rx="12.70" ry="12.70" fill="#5a0a00" opacity="0.13" filter="url(#b4)"/>
<path d="M68.4 77.7h0.7M113.0 162.0h0.7M55.2 131.9h0.7M25.9 80.8h0.7M34.5 135.2h0.7M25.6 167.5h0.7M9.2 77.5h0.7M11.3 144.2h0.7M43.5 109.7h0.7M38.8 128.9h0.7M47.9 79.3h0.7M50.9 90.4h0.7M13.9 150.4h0.7M79.9 132.0h0.7M103.4 100.8h0.7M45.0 104.1h0.7M47.9 132.5h0.7M1.8 108.9h0.7M63.1 95.1h0.7M3.5 136.7h0.7M2.1 120.4h0.7M18.8 59.2h0.7M22.0 62.8h0.7M18.5 134.4h0.7M85.5 97.1h0.7M76.7 110.1h0.7M58.8 156.5h0.7M37.1 155.8h0.7M81.2 134.2h0.7M1.7 64.9h0.7M4.7 95.2h0.7M110.7 156.4h0.7M98.3 68.9h0.7M82.9 144.7h0.7M94.9 146.8h0.7M17.3 75.9h0.7M92.9 140.5h0.7M104.5 106.8h0.7M104.2 71.3h0.7M112.0 157.4h0.7M40.2 63.0h0.7M64.6 134.9h0.7M41.6 61.8h0.7M33.3 150.5h0.7M11.5 163.5h0.7M30.0 78.8h0.7M14.0 168.6h0.7M105.5 92.1h0.7M12.1 130.7h0.7M104.0 56.6h0.7M74.4 154.2h0.7M54.2 121.0h0.7M94.3 82.8h0.7M32.7 131.5h0.7M65.1 117.1h0.7M39.8 163.5h0.7M34.4 133.7h0.7M104.7 101.5h0.7M7.3 80.7h0.7M8.7 72.3h0.7M15.0 94.8h0.7M43.9 106.9h0.7M78.2 133.4h0.7M80.7 97.3h0.7M77.9 118.8h0.7M15.8 118.3h0.7M37.9 133.3h0.7M86.2 83.0h0.7M51.5 107.8h0.7M35.4 59.9h0.7M6.8 170.0h0.7M86.8 105.9h0.7M78.3 86.3h0.7M83.4 165.1h0.7M90.7 109.0h0.7M115.1 161.8h0.7M7.8 102.8h0.7M53.4 86.9h0.7M72.5 71.8h0.7M87.7 154.3h0.7M8.1 135.2h0.7M31.9 129.0h0.7M81.2 168.1h0.7M93.6 94.4h0.7M85.7 72.2h0.7M83.8 103.4h0.7M31.8 82.8h0.7M26.1 147.3h0.7M12.1 82.1h0.7M23.3 73.5h0.7M85.7 123.1h0.7M78.1 159.3h0.7M53.1 59.6h0.7M23.0 114.9h0.7M84.0 161.4h0.7M60.3 81.4h0.7M69.7 163.3h0.7M39.6 162.8h0.7M105.8 121.9h0.7M56.8 70.1h0.7M13.8 59.9h0.7M71.9 137.6h0.7M116.2 124.8h0.7M116.3 101.8h0.7M16.5 62.1h0.7M34.4 116.6h0.7M115.4 89.6h0.7M28.3 138.8h0.7M46.1 119.7h0.7M18.6 153.8h0.7M107.6 142.5h0.7M109.5 93.6h0.7M4.8 90.4h0.7M105.1 109.5h0.7M24.2 72.7h0.7M20.1 106.0h0.7M108.4 157.4h0.7M88.9 142.6h0.7M23.1 145.1h0.7M27.0 116.0h0.7M4.9 158.4h0.7M15.9 123.7h0.7M77.8 129.6h0.7M80.1 97.9h0.7M92.9 163.7h0.7M72.6 168.4h0.7M99.6 61.6h0.7M78.9 65.8h0.7M77.7 98.1h0.7M100.1 60.4h0.7M110.8 60.2h0.7M7.6 55.5h0.7M15.6 169.2h0.7M97.9 161.2h0.7M22.6 134.7h0.7M93.2 139.2h0.7M32.3 167.4h0.7M85.5 134.3h0.7M34.0 101.1h0.7M88.9 114.9h0.7M57.6 161.5h0.7M49.8 154.5h0.7M6.4 116.5h0.7M83.7 56.4h0.7M81.8 88.3h0.7M73.6 127.2h0.7M16.8 164.3h0.7M29.1 71.0h0.7M52.4 62.6h0.7M12.7 143.2h0.7M12.3 117.8h0.7M103.7 107.7h0.7M95.5 151.2h0.7M20.1 64.0h0.7M92.0 155.4h0.7M99.9 137.8h0.7M60.1 165.9h0.7M86.8 143.4h0.7M106.7 61.5h0.7M87.0 122.7h0.7M2.5 84.7h0.7M84.1 116.4h0.7M66.2 88.4h0.7M66.8 156.8h0.7M114.7 119.1h0.7M85.8 65.3h0.7M17.3 119.9h0.7M96.9 69.0h0.7M18.1 113.0h0.7M36.4 71.4h0.7M19.4 104.3h0.7M93.0 75.0h0.7M94.5 63.8h0.7M30.1 132.5h0.7M1.8 92.4h0.7M18.9 81.8h0.7M103.9 73.6h0.7M84.5 160.4h0.7M29.5 154.9h0.7M38.2 144.5h0.7M68.4 95.7h0.7M103.8 135.6h0.7M38.0 121.5h0.7M35.2 88.2h0.7M109.8 168.0h0.7M19.3 161.1h0.7M83.8 56.5h0.7M13.6 105.6h0.7M103.9 156.2h0.7M30.1 106.7h0.7M108.3 79.4h0.7M13.1 103.2h0.7M80.0 156.1h0.7M102.7 56.5h0.7M21.4 70.0h0.7M70.1 102.1h0.7M108.0 126.3h0.7M72.3 134.6h0.7M24.8 158.6h0.7M100.9 150.3h0.7M91.8 75.1h0.7M7.2 97.4h0.7M84.2 78.4h0.7M101.8 154.3h0.7M81.8 111.2h0.7M18.5 148.8h0.7M21.0 112.5h0.7M89.0 128.7h0.7M28.4 156.8h0.7M38.2 103.8h0.7M51.9 136.3h0.7M5.5 129.0h0.7M57.6 147.8h0.7M43.4 121.2h0.7M113.2 61.9h0.7M92.9 109.3h0.7M35.8 86.9h0.7M26.2 152.7h0.7M24.5 166.4h0.7M60.9 88.2h0.7M91.8 122.4h0.7M103.6 71.9h0.7M81.3 58.4h0.7M22.3 103.1h0.7M37.3 87.9h0.7M67.0 141.5h0.7M49.3 114.0h0.7M91.7 81.3h0.7M116.8 57.9h0.7M44.0 150.6h0.7M28.3 93.4h0.7M20.8 167.8h0.7M102.6 64.6h0.7M63.5 72.8h0.7M3.1 80.8h0.7M82.5 116.3h0.7M34.3 122.2h0.7M10.6 94.8h0.7M12.4 150.5h0.7M45.4 137.9h0.7M39.9 103.2h0.7M67.7 85.2h0.7M64.5 144.5h0.7M9.6 78.2h0.7M3.4 111.7h0.7M13.8 115.4h0.7M19.7 116.0h0.7M33.7 141.8h0.7M95.6 166.1h0.7M54.7 158.0h0.7M101.0 94.0h0.7M114.7 166.0h0.7M19.3 142.1h0.7M80.7 126.5h0.7M83.5 87.4h0.7M97.8 138.7h0.7M22.3 166.9h0.7M86.1 61.6h0.7M4.7 74.8h0.7M77.8 138.7h0.7M109.0 157.3h0.7M24.7 77.7h0.7M10.8 100.3h0.7M50.1 99.2h0.7M96.2 126.1h0.7M94.2 154.9h0.7M89.8 114.6h0.7M48.5 117.2h0.7M54.4 132.5h0.7M99.8 133.3h0.7M30.5 120.4h0.7M53.9 69.4h0.7M13.2 107.3h0.7M110.1 136.5h0.7M7.5 161.2h0.7M85.1 125.0h0.7M1.7 91.1h0.7M39.7 111.0h0.7M15.2 128.0h0.7M72.0 129.3h0.7M58.3 119.6h0.7M14.1 150.8h0.7M101.7 153.6h0.7M90.0 83.2h0.7M35.1 61.1h0.7M92.1 154.6h0.7M109.6 124.6h0.7M93.7 152.9h0.7M15.0 63.1h0.7M102.7 167.4h0.7M84.1 126.8h0.7M46.9 154.4h0.7M34.1 61.5h0.7M94.2 62.3h0.7M84.1 130.4h0.7M13.8 105.7h0.7M32.6 148.5h0.7M91.2 93.3h0.7M18.9 94.8h0.7M52.0 125.2h0.7M110.9 92.3h0.7M18.2 127.6h0.7M50.3 140.9h0.7M77.8 118.5h0.7M95.6 77.8h0.7M91.8 76.3h0.7M56.6 119.4h0.7M64.1 68.2h0.7M54.3 87.6h0.7M33.1 103.9h0.7M49.0 79.1h0.7M80.5 162.8h0.7M111.0 76.0h0.7M27.9 102.2h0.7M70.0 135.3h0.7M69.4 112.2h0.7M116.8 166.3h0.7M94.2 84.3h0.7M90.0 59.4h0.7M110.9 136.3h0.7M108.3 104.2h0.7M83.5 84.2h0.7M108.3 75.8h0.7M2.0 87.6h0.7M78.1 117.3h0.7M94.6 134.2h0.7M91.5 164.1h0.7M8.7 67.4h0.7M34.5 70.7h0.7M65.0 138.4h0.7M22.1 112.6h0.7M29.6 57.2h0.7M31.7 85.9h0.7M80.8 167.2h0.7M8.8 111.9h0.7M54.9 127.8h0.7M18.2 165.7h0.7M32.9 122.1h0.7M48.4 120.2h0.7M103.1 126.6h0.7M40.6 165.3h0.7M21.4 166.1h0.7M79.1 83.5h0.7M115.4 155.3h0.7M60.0 148.7h0.7M11.9 87.0h0.7M56.5 164.3h0.7M43.9 169.9h0.7M68.3 138.2h0.7M91.7 70.5h0.7M107.6 123.8h0.7M15.2 72.7h0.7M93.7 120.1h0.7M108.6 154.6h0.7M64.7 103.6h0.7M89.4 168.2h0.7M36.6 115.2h0.7M14.7 60.3h0.7M8.1 98.5h0.7M72.6 155.0h0.7M88.0 166.6h0.7M30.6 153.9h0.7M38.2 98.5h0.7M64.0 170.4h0.7M54.9 62.0h0.7M43.5 120.8h0.7M80.2 73.0h0.7M34.0 74.4h0.7M60.5 100.7h0.7M38.0 114.0h0.7M88.4 126.4h0.7M86.1 101.9h0.7M108.4 68.7h0.7M9.4 66.4h0.7M56.7 92.7h0.7M24.0 56.1h0.7M92.3 61.9h0.7M74.2 166.9h0.7M30.2 123.3h0.7M103.5 105.9h0.7M107.7 59.2h0.7M67.4 145.1h0.7M58.3 151.1h0.7M114.8 152.1h0.7M56.5 135.1h0.7M102.1 127.2h0.7M6.4 79.0h0.7M71.8 68.5h0.7M19.4 167.6h0.7M59.2 169.5h0.7M98.2 145.7h0.7M49.7 82.3h0.7M8.7 80.8h0.7M58.7 125.6h0.7M18.4 108.0h0.7M43.7 156.8h0.7M35.6 152.0h0.7M75.7 163.4h0.7M33.4 86.6h0.7M57.5 85.3h0.7M70.8 165.3h0.7M62.7 77.5h0.7M7.1 128.0h0.7M52.8 56.3h0.7M43.7 147.4h0.7M73.7 93.9h0.7M112.4 168.7h0.7M4.1 81.5h0.7M71.8 94.5h0.7M25.6 148.1h0.7M105.8 112.1h0.7M112.9 121.7h0.7M74.0 114.7h0.7M93.3 159.4h0.7M59.1 110.4h0.7M93.0 152.5h0.7M77.3 73.7h0.7M16.0 97.3h0.7M6.3 96.0h0.7M43.0 69.6h0.7" stroke="#b01400" stroke-width="0.7" fill="none" opacity="0.6"/>
<path d="M13.9 54.4h0.68M7.8 49.6h0.68M29.0 59.5h0.68M16.7 64.5h0.68M16.2 59.0h0.68M4.2 64.8h0.68M-12.8 55.3h0.68M2.2 52.2h0.68M13.9 50.1h0.68M6.4 49.4h0.68M9.2 54.4h0.68M15.4 69.9h0.68M8.8 50.2h0.68M20.6 61.2h0.68M15.9 63.4h0.68M14.7 44.0h0.68M11.0 54.6h0.68M9.0 56.1h0.68M23.2 56.7h0.68M11.7 41.6h0.68M15.4 45.2h0.68M12.1 56.9h0.68M20.9 64.6h0.68M20.6 68.6h0.68M-3.0 65.4h0.68M17.7 64.8h0.68M6.5 44.6h0.68M11.9 63.9h0.68M18.0 46.0h0.68M7.6 58.1h0.68M6.5 44.2h0.68M-4.4 39.9h0.68M-1.2 46.6h0.68M9.4 65.2h0.68M40.9 54.2h0.68M18.5 65.7h0.68M4.7 47.5h0.68M3.2 63.4h0.68M13.4 56.0h0.68M21.2 65.7h0.68M17.6 59.0h0.68M-2.7 53.5h0.68M8.7 70.3h0.68M0.5 45.1h0.68M-10.1 61.7h0.68M-8.8 64.0h0.68M-1.7 66.5h0.68M6.2 69.8h0.68M33.8 47.5h0.68M40.6 57.8h0.68M36.1 62.4h0.68M28.8 45.2h0.68M21.7 52.2h0.68M50.5 50.4h0.68M27.3 54.6h0.68M30.0 50.4h0.68M35.3 55.1h0.68M16.0 61.1h0.68M16.7 55.1h0.68M18.1 52.3h0.68M17.8 53.2h0.68M27.4 60.2h0.68M35.8 40.6h0.68M34.8 42.6h0.68M34.5 44.2h0.68M24.8 43.7h0.68M29.6 56.3h0.68M43.4 41.9h0.68M27.5 63.0h0.68M46.6 67.7h0.68M39.5 59.1h0.68M48.2 57.6h0.68M26.8 41.1h0.68M20.0 48.9h0.68M34.6 52.8h0.68M31.0 59.1h0.68M28.3 55.5h0.68M24.0 46.1h0.68M28.5 39.2h0.68M33.7 55.9h0.68M21.8 58.4h0.68M29.7 47.4h0.68M41.2 50.8h0.68M18.8 55.8h0.68M43.3 47.5h0.68M35.7 51.5h0.68M33.0 56.1h0.68M20.4 46.8h0.68M35.4 65.8h0.68M34.5 65.9h0.68M48.7 52.9h0.68M31.0 57.9h0.68M31.9 65.4h0.68M26.6 62.7h0.68M12.9 53.1h0.68M26.2 61.8h0.68M80.7 67.5h0.68M88.1 35.5h0.68M79.6 50.2h0.68M66.4 61.3h0.68M82.2 66.0h0.68M92.3 80.4h0.68M84.7 51.7h0.68M86.7 37.5h0.68M80.6 64.9h0.68M79.9 74.1h0.68M67.3 62.8h0.68M72.2 66.7h0.68M92.6 55.0h0.68M90.5 73.7h0.68M91.6 55.7h0.68M103.4 39.2h0.68M100.7 54.1h0.68M75.9 59.9h0.68M83.8 64.3h0.68M82.4 62.7h0.68M90.6 57.8h0.68M93.8 67.3h0.68M63.0 71.2h0.68M80.6 51.9h0.68M78.9 47.1h0.68M96.4 55.4h0.68M82.5 63.0h0.68M76.5 61.3h0.68M85.4 72.7h0.68M79.9 67.5h0.68M75.3 66.9h0.68M86.8 65.0h0.68M81.4 68.8h0.68M68.0 50.3h0.68M82.8 57.1h0.68M83.2 41.4h0.68M88.7 55.0h0.68M78.5 55.0h0.68M73.5 48.1h0.68M90.0 50.0h0.68M76.6 55.0h0.68M90.5 62.8h0.68M88.6 69.5h0.68M83.8 66.1h0.68M90.5 58.3h0.68M85.6 54.3h0.68M69.2 57.3h0.68M94.6 53.5h0.68M41.1 88.0h0.68M34.0 79.9h0.68M39.9 86.5h0.68M27.0 75.7h0.68M23.9 87.5h0.68M34.7 87.5h0.68M14.9 84.3h0.68M31.6 82.3h0.68M35.6 90.6h0.68M46.4 78.5h0.68M28.2 79.1h0.68M25.5 95.3h0.68M42.4 79.4h0.68M26.2 70.1h0.68M33.3 73.5h0.68M35.0 88.5h0.68M28.3 81.0h0.68M52.9 84.6h0.68M28.2 88.2h0.68M29.3 100.2h0.68M24.9 66.4h0.68M36.0 94.7h0.68M28.4 82.8h0.68M31.9 77.3h0.68M38.9 79.0h0.68M37.5 71.8h0.68M43.5 91.8h0.68M48.2 88.0h0.68M35.4 87.1h0.68M37.7 81.1h0.68M44.2 68.9h0.68M19.3 85.8h0.68M32.7 89.2h0.68M27.8 85.1h0.68M24.6 79.2h0.68M31.5 66.2h0.68M27.9 86.8h0.68M29.8 78.6h0.68M36.6 81.4h0.68M34.7 75.4h0.68M45.4 89.3h0.68M30.0 72.3h0.68M46.5 94.2h0.68M34.7 84.8h0.68M33.8 74.3h0.68M52.0 77.2h0.68M20.9 85.8h0.68M41.4 91.0h0.68M76.7 82.5h0.68M88.4 72.5h0.68M95.6 88.2h0.68M82.6 76.4h0.68M93.2 79.6h0.68M78.5 100.9h0.68M93.2 80.2h0.68M90.9 84.5h0.68M92.7 80.9h0.68M98.9 96.7h0.68M80.7 85.0h0.68M94.0 104.2h0.68M90.6 86.2h0.68M98.0 86.9h0.68M102.5 94.1h0.68M87.9 85.7h0.68M93.5 95.9h0.68M94.9 83.7h0.68M92.1 89.4h0.68M89.6 90.6h0.68M82.6 90.3h0.68M93.2 95.7h0.68M79.1 83.6h0.68M95.4 85.5h0.68M98.6 82.2h0.68M96.0 94.0h0.68M91.9 104.5h0.68M97.5 88.2h0.68M85.9 86.3h0.68M94.1 84.9h0.68M102.8 81.9h0.68M98.0 80.1h0.68M106.4 93.0h0.68M83.4 95.1h0.68M91.6 83.3h0.68M92.2 95.2h0.68M100.3 102.5h0.68M87.2 81.7h0.68M91.1 73.4h0.68M86.1 101.0h0.68M91.1 72.9h0.68M92.4 86.0h0.68M84.2 92.8h0.68M70.2 97.1h0.68M76.5 77.7h0.68M84.4 92.8h0.68M89.1 99.7h0.68M97.3 75.6h0.68M104.1 90.2h0.68M99.7 100.7h0.68M99.7 96.1h0.68M89.1 84.7h0.68M117.6 97.6h0.68M90.8 83.3h0.68M85.6 103.0h0.68M101.8 84.8h0.68M82.4 87.5h0.68M97.0 91.1h0.68M115.6 96.1h0.68M96.7 83.8h0.68M90.9 89.1h0.68M111.2 97.8h0.68M105.1 95.2h0.68M90.8 94.4h0.68M89.1 81.4h0.68M89.7 96.4h0.68M87.8 87.3h0.68M100.4 100.7h0.68M104.1 86.6h0.68M83.0 89.5h0.68M82.6 84.3h0.68M92.2 94.2h0.68M90.3 93.7h0.68M83.3 82.4h0.68M104.6 85.7h0.68M97.9 96.2h0.68M113.3 100.3h0.68M86.6 95.0h0.68M110.3 92.0h0.68M105.2 85.7h0.68M103.2 106.6h0.68M94.9 95.6h0.68M109.0 76.9h0.68M101.0 106.2h0.68M97.9 84.7h0.68M83.4 102.2h0.68M105.8 95.2h0.68M93.4 91.9h0.68M108.1 72.9h0.68M91.4 98.4h0.68M111.3 90.8h0.68M93.3 86.3h0.68M93.5 86.4h0.68M99.7 88.9h0.68M108.9 86.5h0.68M108.7 89.7h0.68M35.5 113.4h0.68M21.2 99.4h0.68M36.3 123.5h0.68M39.8 106.3h0.68M28.3 125.3h0.68M27.0 128.2h0.68M21.3 135.0h0.68M27.6 114.6h0.68M17.4 110.5h0.68M25.1 107.7h0.68M33.6 110.0h0.68M26.7 117.9h0.68M37.8 117.3h0.68M19.3 109.9h0.68M30.7 114.0h0.68M21.6 122.2h0.68M36.2 109.7h0.68M38.6 123.6h0.68M28.4 120.7h0.68M34.1 115.8h0.68M39.4 128.1h0.68M22.0 124.4h0.68M30.6 102.9h0.68M45.9 108.9h0.68M32.0 112.2h0.68M26.7 113.6h0.68M28.8 124.8h0.68M27.9 115.1h0.68M34.4 132.3h0.68M40.5 119.9h0.68M37.6 131.3h0.68M13.3 112.0h0.68M32.5 126.7h0.68M34.0 113.1h0.68M27.7 98.7h0.68M42.3 133.3h0.68M23.7 112.7h0.68M32.6 110.5h0.68M37.7 115.9h0.68M25.8 124.0h0.68M15.9 121.7h0.68M35.7 115.6h0.68M27.8 124.0h0.68M30.4 111.6h0.68M25.1 117.7h0.68M23.0 105.1h0.68M26.3 111.7h0.68M23.3 119.2h0.68M78.0 121.8h0.68M78.8 101.7h0.68M90.8 106.9h0.68M77.2 113.2h0.68M84.6 96.2h0.68M76.7 117.5h0.68M72.2 116.8h0.68M92.8 124.8h0.68M80.1 111.3h0.68M73.9 124.6h0.68M74.6 123.9h0.68M74.7 110.6h0.68M84.1 115.4h0.68M79.1 112.1h0.68M90.5 107.4h0.68M76.0 113.3h0.68M72.2 118.6h0.68M73.0 116.1h0.68M71.5 108.1h0.68M74.9 121.4h0.68M83.0 107.0h0.68M75.9 107.5h0.68M91.2 115.6h0.68M71.5 105.1h0.68M84.2 110.1h0.68M62.6 108.7h0.68M62.6 107.4h0.68M68.8 125.1h0.68M61.3 117.9h0.68M71.0 113.0h0.68M89.2 99.1h0.68M74.5 107.5h0.68M76.1 117.2h0.68M68.5 110.9h0.68M86.7 116.8h0.68M72.6 124.6h0.68M67.2 105.6h0.68M68.1 110.6h0.68M83.2 108.5h0.68M60.2 120.0h0.68M82.7 116.1h0.68M72.6 110.0h0.68M91.7 107.3h0.68M72.8 100.7h0.68M73.5 112.1h0.68M72.2 106.7h0.68M75.8 119.2h0.68M73.2 128.7h0.68M9.4 126.1h0.68M9.7 129.1h0.68M4.7 142.1h0.68M17.5 122.5h0.68M6.9 123.5h0.68M6.3 125.4h0.68M27.7 135.4h0.68M15.5 121.7h0.68M-3.2 150.1h0.68M7.0 133.6h0.68M4.3 129.7h0.68M9.6 142.0h0.68M9.7 124.8h0.68M-0.8 137.4h0.68M13.7 127.7h0.68M13.8 126.9h0.68M9.7 121.5h0.68M-7.0 129.2h0.68M11.0 130.4h0.68M4.0 131.2h0.68M12.6 115.9h0.68M12.0 132.2h0.68M12.4 124.6h0.68M8.1 143.2h0.68M0.1 130.9h0.68M10.9 136.8h0.68M-1.2 115.6h0.68M20.2 118.4h0.68M20.6 130.1h0.68M28.3 127.0h0.68M10.7 136.1h0.68M14.5 142.4h0.68M16.2 135.1h0.68M1.4 137.6h0.68M-14.6 123.2h0.68M27.3 127.3h0.68M22.0 119.2h0.68M15.9 123.3h0.68M5.8 146.5h0.68M13.9 136.2h0.68M15.1 134.5h0.68M13.0 128.8h0.68M4.5 117.0h0.68M7.9 117.9h0.68M12.3 126.8h0.68M3.4 124.0h0.68M6.2 134.7h0.68M-5.7 114.1h0.68M64.5 144.6h0.68M67.8 133.1h0.68M75.8 117.2h0.68M51.0 135.2h0.68M59.5 135.5h0.68M62.7 129.4h0.68M69.4 145.8h0.68M61.5 140.6h0.68M54.0 132.9h0.68M61.7 142.1h0.68M61.6 130.4h0.68M69.3 152.4h0.68M54.4 131.8h0.68M79.2 133.6h0.68M74.5 145.1h0.68M55.8 142.8h0.68M62.3 134.8h0.68M80.3 130.8h0.68M55.1 138.9h0.68M76.1 134.0h0.68M67.9 133.7h0.68M61.5 129.9h0.68M59.8 129.3h0.68M69.3 131.2h0.68M73.9 133.0h0.68M62.9 116.0h0.68M72.9 145.0h0.68M71.1 144.2h0.68M69.9 124.9h0.68M59.5 136.5h0.68M57.3 122.6h0.68M57.5 147.0h0.68M69.8 124.7h0.68M60.8 125.8h0.68M78.0 127.5h0.68M72.3 141.0h0.68M72.8 135.0h0.68M61.9 131.4h0.68M54.7 132.7h0.68M67.9 129.7h0.68M58.8 149.1h0.68M57.0 149.9h0.68M50.5 130.9h0.68M65.2 140.0h0.68M69.2 137.7h0.68M50.9 129.8h0.68M47.5 146.3h0.68M70.9 140.0h0.68M50.4 159.9h0.68M53.7 164.8h0.68M19.4 163.6h0.68M37.0 152.7h0.68M47.6 166.6h0.68M47.6 155.3h0.68M60.3 159.8h0.68M37.8 168.8h0.68M35.1 157.4h0.68M21.3 160.2h0.68M44.2 150.1h0.68M70.2 168.8h0.68M34.9 142.1h0.68M47.8 147.6h0.68M43.6 155.9h0.68M31.0 157.4h0.68M54.1 168.3h0.68M43.9 161.6h0.68M42.7 153.0h0.68M51.1 145.0h0.68M46.7 163.9h0.68M32.0 170.4h0.68M42.9 142.8h0.68M54.1 175.5h0.68M43.0 154.3h0.68M43.7 158.6h0.68M48.0 153.0h0.68M44.9 161.5h0.68M43.6 144.4h0.68M38.8 167.6h0.68M35.7 159.9h0.68M42.4 157.9h0.68M50.5 150.2h0.68M52.8 149.3h0.68M37.6 154.6h0.68M46.4 159.8h0.68M48.1 156.9h0.68M42.8 153.6h0.68M35.8 165.7h0.68M44.0 163.0h0.68M49.9 173.2h0.68M38.3 169.0h0.68M34.0 168.8h0.68M42.1 158.1h0.68M34.1 171.6h0.68M39.1 166.4h0.68M46.5 162.7h0.68M43.8 160.9h0.68M108.3 147.8h0.68M112.4 154.0h0.68M103.4 154.9h0.68M104.8 150.3h0.68M105.9 151.4h0.68M103.2 151.4h0.68M106.0 163.6h0.68M116.6 158.4h0.68M111.5 138.0h0.68M108.7 148.0h0.68M118.4 151.4h0.68M117.9 153.0h0.68M104.0 131.5h0.68M114.6 149.1h0.68M111.8 163.7h0.68M115.2 160.6h0.68M109.7 169.4h0.68M113.5 153.7h0.68M106.2 142.8h0.68M97.9 166.9h0.68M99.8 166.7h0.68M111.3 154.8h0.68M101.4 151.9h0.68M105.2 151.2h0.68M114.3 151.2h0.68M100.9 154.5h0.68M104.8 157.7h0.68M113.5 157.3h0.68M95.5 154.5h0.68M123.7 163.2h0.68M101.8 145.5h0.68M120.6 166.4h0.68M123.4 163.8h0.68M115.8 163.1h0.68M110.9 153.6h0.68M109.3 151.0h0.68M108.3 159.6h0.68M109.0 155.4h0.68M114.8 156.1h0.68M99.8 163.0h0.68M109.9 151.0h0.68M119.1 153.5h0.68M119.1 139.1h0.68M111.0 145.3h0.68M99.4 160.5h0.68M114.1 169.0h0.68M116.5 143.1h0.68M99.3 161.1h0.68M9.2 173.1h0.68M15.2 163.9h0.68M0.6 171.9h0.68M-3.1 174.5h0.68M0.9 174.2h0.68M12.5 175.7h0.68M-1.6 167.2h0.68M5.0 156.9h0.68M19.0 177.3h0.68M10.3 178.9h0.68M8.6 157.4h0.68M-1.9 176.9h0.68M5.4 158.5h0.68M4.1 152.0h0.68M7.1 160.9h0.68M1.1 169.4h0.68M0.0 156.8h0.68M0.6 169.1h0.68M0.9 184.4h0.68M7.8 170.9h0.68M5.5 159.2h0.68M-1.1 167.8h0.68M11.1 167.5h0.68M13.6 179.5h0.68M-2.4 166.4h0.68M-7.1 172.1h0.68M-3.5 159.2h0.68M18.3 165.5h0.68M9.1 167.3h0.68M2.7 161.1h0.68M20.8 155.3h0.68M17.4 150.6h0.68M-10.0 154.6h0.68M1.1 180.1h0.68M16.0 156.7h0.68M10.4 171.0h0.68M9.0 167.4h0.68M1.4 177.2h0.68M9.4 151.4h0.68M13.7 174.0h0.68M-0.2 148.8h0.68M11.5 165.8h0.68M-0.1 160.5h0.68M21.8 151.6h0.68M10.6 184.3h0.68M0.1 169.0h0.68M1.8 167.7h0.68M-5.2 170.0h0.68" stroke="#d41208" stroke-width="0.68" fill="none" opacity="0.85"/>
<path d="M9.3 55.8h0.7M9.7 55.4h0.7M10.2 54.6h0.7M9.6 64.1h0.7M8.5 67.5h0.7M1.9 68.5h0.7M0.7 66.3h0.7M5.9 65.9h0.7M3.9 54.9h0.7M11.4 48.9h0.7M-0.2 54.9h0.7M10.1 64.2h0.7M16.7 50.9h0.7M-14.0 63.5h0.7M19.3 54.5h0.7M14.2 62.9h0.7M2.4 63.6h0.7M7.1 65.5h0.7M11.8 56.1h0.7M16.4 62.6h0.7M15.7 58.9h0.7M9.3 69.9h0.7M12.6 65.8h0.7M16.2 50.8h0.7M5.8 61.0h0.7M20.2 54.3h0.7M7.3 53.4h0.7M10.1 72.0h0.7M15.5 47.0h0.7M5.7 68.4h0.7M15.0 44.9h0.7M8.7 55.8h0.7M27.8 62.7h0.7M36.0 61.8h0.7M19.4 53.6h0.7M16.9 50.2h0.7M27.5 61.5h0.7M31.2 55.3h0.7M29.8 44.5h0.7M33.7 54.4h0.7M38.9 45.8h0.7M34.6 52.6h0.7M30.7 65.9h0.7M30.1 52.1h0.7M48.8 59.0h0.7M30.3 48.4h0.7M27.5 55.7h0.7M27.3 71.7h0.7M44.9 63.7h0.7M32.6 48.4h0.7M32.0 46.4h0.7M25.8 48.1h0.7M17.0 62.9h0.7M32.2 48.0h0.7M26.2 53.6h0.7M35.3 58.9h0.7M34.5 51.0h0.7M31.3 56.8h0.7M36.8 54.2h0.7M35.5 64.9h0.7M41.8 61.7h0.7M31.1 53.0h0.7M32.7 50.3h0.7M40.9 61.2h0.7M94.1 61.1h0.7M91.0 47.2h0.7M85.8 47.3h0.7M83.3 50.5h0.7M87.6 59.5h0.7M75.3 59.3h0.7M89.7 57.6h0.7M72.6 62.3h0.7M81.5 64.2h0.7M86.7 64.8h0.7M88.9 65.2h0.7M79.0 59.2h0.7M82.4 66.8h0.7M75.2 74.6h0.7M89.8 56.4h0.7M81.3 53.0h0.7M88.7 68.3h0.7M87.8 55.7h0.7M79.9 66.8h0.7M85.9 61.6h0.7M75.9 58.2h0.7M82.1 65.6h0.7M81.9 64.6h0.7M85.1 48.9h0.7M76.2 60.6h0.7M100.7 54.1h0.7M91.3 49.8h0.7M75.7 61.2h0.7M94.7 69.9h0.7M84.4 60.1h0.7M80.9 55.5h0.7M83.0 52.0h0.7M32.4 84.3h0.7M31.3 64.7h0.7M22.9 77.0h0.7M29.6 84.7h0.7M31.6 70.6h0.7M39.0 80.7h0.7M30.8 73.1h0.7M38.3 85.4h0.7M37.5 78.8h0.7M36.8 80.5h0.7M18.2 74.5h0.7M42.8 78.4h0.7M36.3 83.2h0.7M42.8 72.2h0.7M22.5 68.5h0.7M23.8 77.1h0.7M34.2 80.5h0.7M40.5 76.1h0.7M45.9 84.6h0.7M38.0 84.3h0.7M38.9 71.2h0.7M46.9 75.1h0.7M30.7 85.9h0.7M41.0 90.6h0.7M38.7 74.7h0.7M41.9 59.0h0.7M29.5 74.1h0.7M30.4 72.8h0.7M29.1 86.5h0.7M37.6 76.1h0.7M48.9 89.4h0.7M36.5 84.3h0.7M97.8 88.5h0.7M97.2 88.0h0.7M92.9 92.4h0.7M94.5 91.3h0.7M93.7 87.0h0.7M94.9 75.3h0.7M92.7 84.2h0.7M105.8 75.5h0.7M96.9 73.0h0.7M87.1 98.9h0.7M90.3 88.3h0.7M88.5 86.6h0.7M99.6 80.3h0.7M78.3 85.9h0.7M96.5 85.3h0.7M81.3 82.4h0.7M96.3 89.2h0.7M98.9 86.0h0.7M99.0 84.1h0.7M104.1 79.3h0.7M89.2 75.1h0.7M97.4 81.4h0.7M86.8 98.3h0.7M102.8 81.1h0.7M87.0 84.3h0.7M91.4 84.1h0.7M98.2 96.3h0.7M90.4 99.5h0.7M91.1 82.0h0.7M96.5 87.3h0.7M81.9 91.8h0.7M99.0 89.8h0.7M100.1 86.3h0.7M103.4 92.4h0.7M98.6 109.3h0.7M101.7 96.1h0.7M104.0 80.6h0.7M97.9 88.2h0.7M100.0 103.5h0.7M102.4 91.1h0.7M97.7 93.8h0.7M102.0 92.5h0.7M104.7 84.4h0.7M101.8 100.0h0.7M100.8 85.9h0.7M111.2 95.6h0.7M97.3 95.0h0.7M107.8 93.8h0.7M94.9 89.5h0.7M102.5 83.6h0.7M94.9 88.8h0.7M112.3 88.7h0.7M93.8 93.0h0.7M100.9 82.7h0.7M104.9 104.0h0.7M107.0 98.1h0.7M87.8 101.0h0.7M94.1 80.7h0.7M101.2 86.3h0.7M95.7 91.0h0.7M94.6 92.0h0.7M98.8 89.7h0.7M110.6 100.3h0.7M98.7 95.8h0.7M37.3 113.7h0.7M35.2 104.1h0.7M40.1 118.0h0.7M27.1 118.6h0.7M26.8 100.6h0.7M39.1 125.4h0.7M30.4 114.6h0.7M24.8 124.5h0.7M24.3 113.1h0.7M27.5 117.0h0.7M26.7 111.4h0.7M23.4 127.6h0.7M25.3 118.6h0.7M32.2 121.6h0.7M19.6 122.3h0.7M26.5 117.0h0.7M20.6 126.1h0.7M33.1 110.3h0.7M29.1 115.0h0.7M30.0 126.8h0.7M28.9 111.6h0.7M31.8 120.0h0.7M33.2 117.5h0.7M23.2 115.5h0.7M20.9 120.6h0.7M26.3 115.6h0.7M28.9 126.9h0.7M22.8 108.7h0.7M29.6 120.3h0.7M32.2 119.9h0.7M29.8 116.2h0.7M26.4 127.5h0.7M85.3 114.4h0.7M74.8 120.7h0.7M66.7 99.8h0.7M72.2 113.3h0.7M71.2 126.6h0.7M75.2 104.4h0.7M77.6 114.3h0.7M70.7 114.0h0.7M72.8 125.4h0.7M72.3 104.4h0.7M66.7 121.5h0.7M73.0 125.1h0.7M89.9 128.1h0.7M73.2 125.4h0.7M81.5 111.5h0.7M71.8 106.8h0.7M73.1 124.6h0.7M61.9 118.5h0.7M74.6 104.6h0.7M69.4 107.4h0.7M85.0 120.9h0.7M80.6 110.0h0.7M69.7 109.8h0.7M80.4 128.8h0.7M86.2 108.0h0.7M69.0 126.5h0.7M76.2 120.6h0.7M75.3 110.6h0.7M79.9 102.7h0.7M63.6 106.2h0.7M80.4 109.2h0.7M73.3 119.4h0.7M12.5 121.4h0.7M5.7 130.9h0.7M9.2 135.0h0.7M4.6 122.6h0.7M2.2 124.3h0.7M15.3 132.1h0.7M6.2 122.5h0.7M12.7 132.5h0.7M-2.0 127.1h0.7M13.1 122.9h0.7M14.2 123.1h0.7M0.6 137.9h0.7M4.2 130.7h0.7M13.4 134.4h0.7M3.5 133.5h0.7M6.0 137.9h0.7M-0.9 139.4h0.7M6.6 116.5h0.7M3.4 128.1h0.7M18.2 124.4h0.7M12.5 120.8h0.7M3.1 136.9h0.7M15.3 122.6h0.7M7.2 139.8h0.7M3.0 119.3h0.7M14.5 132.4h0.7M13.6 134.7h0.7M6.2 137.0h0.7M17.6 137.9h0.7M24.1 133.1h0.7M1.3 122.4h0.7M12.0 131.3h0.7M57.8 141.5h0.7M52.7 139.1h0.7M66.9 135.9h0.7M62.0 128.4h0.7M60.7 136.9h0.7M63.6 132.9h0.7M54.8 136.2h0.7M67.6 136.2h0.7M73.8 134.5h0.7M65.1 129.4h0.7M74.6 138.6h0.7M53.5 132.2h0.7M59.4 137.8h0.7M70.5 148.9h0.7M72.9 135.4h0.7M69.2 133.7h0.7M69.6 126.9h0.7M71.8 138.0h0.7M53.6 132.7h0.7M56.1 136.9h0.7M64.6 124.4h0.7M70.0 138.3h0.7M65.1 128.3h0.7M60.6 129.8h0.7M66.8 123.1h0.7M57.2 133.2h0.7M70.4 134.2h0.7M66.1 119.8h0.7M73.4 144.5h0.7M74.7 130.6h0.7M79.4 131.7h0.7M64.0 141.0h0.7M41.8 156.1h0.7M47.0 168.5h0.7M45.3 164.3h0.7M58.2 168.8h0.7M33.1 165.9h0.7M32.3 166.3h0.7M38.7 163.9h0.7M27.4 175.6h0.7M45.6 161.2h0.7M46.0 154.5h0.7M48.9 169.0h0.7M30.0 164.6h0.7M37.4 164.4h0.7M50.8 152.7h0.7M45.6 164.3h0.7M44.0 163.8h0.7M41.9 158.7h0.7M54.2 163.0h0.7M34.2 166.4h0.7M46.7 151.6h0.7M44.2 164.0h0.7M36.3 160.7h0.7M55.2 156.4h0.7M48.0 165.1h0.7M42.0 173.7h0.7M49.5 166.6h0.7M51.5 148.0h0.7M62.1 161.1h0.7M39.7 163.3h0.7M46.2 159.4h0.7M39.4 155.7h0.7M47.4 145.2h0.7M112.0 167.2h0.7M116.0 162.3h0.7M104.8 153.0h0.7M110.0 138.7h0.7M108.1 148.1h0.7M110.2 140.3h0.7M120.2 156.6h0.7M125.2 148.6h0.7M110.6 165.9h0.7M114.8 158.9h0.7M109.8 151.6h0.7M114.8 159.9h0.7M112.5 158.2h0.7M109.6 154.4h0.7M113.3 152.3h0.7M107.0 152.8h0.7M109.2 158.6h0.7M98.3 159.2h0.7M119.4 143.1h0.7M112.1 167.2h0.7M108.4 163.4h0.7M107.5 159.5h0.7M104.7 163.4h0.7M110.0 153.6h0.7M118.6 159.9h0.7M116.2 168.6h0.7M102.1 145.9h0.7M114.3 156.9h0.7M124.5 157.2h0.7M117.3 154.9h0.7M125.5 141.8h0.7M99.1 159.3h0.7M8.9 167.4h0.7M5.1 166.5h0.7M2.4 157.4h0.7M15.6 165.2h0.7M9.5 170.9h0.7M7.2 160.0h0.7M14.8 171.2h0.7M8.5 165.8h0.7M9.4 159.7h0.7M2.4 163.0h0.7M7.6 169.6h0.7M7.7 164.3h0.7M5.9 162.7h0.7M2.6 176.0h0.7M1.8 172.9h0.7M-5.2 160.7h0.7M3.6 172.5h0.7M9.5 160.5h0.7M5.8 177.3h0.7M9.0 165.6h0.7M10.8 156.8h0.7M5.6 163.9h0.7M0.1 158.7h0.7M10.2 169.2h0.7M16.2 168.0h0.7M13.6 164.1h0.7M8.0 171.2h0.7M0.1 172.7h0.7M3.8 169.8h0.7M9.9 157.1h0.7M17.6 154.4h0.7M-5.6 170.5h0.7" stroke="#f62410" stroke-width="0.7" fill="none" opacity="0.9"/>
<ellipse cx="11.40" cy="57.40" rx="7.00" ry="3.40" fill="#2c12fa" filter="url(#b1)"/>
<ellipse cx="34.20" cy="56.20" rx="3.50" ry="1.60" fill="#2c12fa" filter="url(#b1)"/>
<ellipse cx="80.60" cy="58.60" rx="7.40" ry="4.10" fill="#2c12fa" filter="url(#b1)"/>
<ellipse cx="32.90" cy="80.10" rx="7.00" ry="4.70" fill="#2c12fa" transform="rotate(-25 32.90 80.10)" filter="url(#b1)"/>
<ellipse cx="92.90" cy="85.00" rx="6.70" ry="5.30" fill="#2c12fa" filter="url(#b1)"/>
<ellipse cx="99.00" cy="90.60" rx="7.00" ry="6.30" fill="#2c12fa" filter="url(#b1)"/>
<ellipse cx="30.30" cy="115.20" rx="6.10" ry="7.70" fill="#2c12fa" transform="rotate(10 30.30 115.20)" filter="url(#b1)"/>
<ellipse cx="77.40" cy="115.30" rx="7.40" ry="4.60" fill="#2c12fa" filter="url(#b1)"/>
<ellipse cx="7.90" cy="129.70" rx="7.00" ry="5.30" fill="#2c12fa" transform="rotate(-10 7.90 129.70)" filter="url(#b1)"/>
<ellipse cx="64.30" cy="136.40" rx="5.60" ry="4.90" fill="#2c12fa" filter="url(#b1)"/>
<ellipse cx="41.70" cy="160.00" rx="6.70" ry="5.00" fill="#2c12fa" transform="rotate(30 41.70 160.00)" filter="url(#b1)"/>
<ellipse cx="111.20" cy="156.30" rx="7.00" ry="6.00" fill="#2c12fa" filter="url(#b1)"/>
<ellipse cx="6.10" cy="164.80" rx="6.70" ry="6.70" fill="#2c12fa" filter="url(#b1)"/>
<path d="M12.0 58.0h0.7M12.8 57.1h0.7M7.4 56.2h0.7M7.8 56.0h0.7M13.3 56.6h0.7M11.4 55.4h0.7M32.7 56.1h0.7M34.0 56.2h0.7M36.3 56.4h0.7M35.8 55.6h0.7M32.3 56.0h0.7M32.9 56.2h0.7M81.2 60.7h0.7M83.9 57.5h0.7M81.8 58.8h0.7M81.4 56.9h0.7M78.5 56.3h0.7M83.4 60.1h0.7M30.6 81.8h0.7M30.3 79.5h0.7M31.3 79.4h0.7M34.1 79.4h0.7M30.9 77.8h0.7M31.2 80.8h0.7M96.4 83.8h0.7M93.0 82.5h0.7M91.0 86.9h0.7M91.4 83.1h0.7M91.3 83.0h0.7M95.5 82.2h0.7M96.1 92.7h0.7M100.5 93.9h0.7M102.7 91.9h0.7M98.6 87.7h0.7M102.4 89.8h0.7M101.1 93.3h0.7M31.7 117.4h0.7M29.4 116.4h0.7M32.9 114.8h0.7M31.1 119.4h0.7M28.8 116.1h0.7M33.5 116.9h0.7M80.0 114.1h0.7M77.6 117.9h0.7M78.7 113.9h0.7M80.9 116.7h0.7M78.5 116.0h0.7M74.6 114.6h0.7M5.2 127.4h0.7M10.6 130.0h0.7M10.5 128.2h0.7M7.4 127.4h0.7M7.1 131.9h0.7M4.4 129.3h0.7M62.7 134.7h0.7M66.3 136.8h0.7M66.5 136.3h0.7M61.3 138.0h0.7M65.2 138.3h0.7M63.3 139.2h0.7M38.2 161.9h0.7M43.4 161.2h0.7M42.1 159.3h0.7M45.4 160.5h0.7M42.3 159.4h0.7M42.7 160.5h0.7M111.9 153.3h0.7M107.2 158.3h0.7M114.6 159.6h0.7M112.0 158.4h0.7M114.1 159.1h0.7M114.1 156.3h0.7M4.3 163.7h0.7M3.8 166.8h0.7M6.5 164.9h0.7M4.6 167.8h0.7M5.1 162.8h0.7M2.3 167.8h0.7" stroke="#a050ff" stroke-width="0.7" fill="none" opacity="0.8"/>
</g>
<clipPath id="cA2"><rect x="119.0" y="55.2" width="115.9" height="115.39999999999999"/></clipPath>
<rect x="119.00" y="55.20" width="115.90" height="115.40" fill="#000" stroke="none" stroke-width="1" />
<g clip-path="url(#cA2)">
<ellipse cx="127.40" cy="57.30" rx="12.60" ry="9.10" fill="#5a0a00" opacity="0.13" filter="url(#b4)"/>
<ellipse cx="158.80" cy="57.20" rx="13.70" ry="8.80" fill="#5a0a00" opacity="0.13" filter="url(#b4)"/>
<ellipse cx="128.10" cy="90.50" rx="11.30" ry="13.30" fill="#5a0a00" opacity="0.13" filter="url(#b4)"/>
<ellipse cx="146.90" cy="92.90" rx="12.40" ry="14.00" fill="#5a0a00" opacity="0.13" filter="url(#b4)"/>
<ellipse cx="163.40" cy="101.50" rx="13.30" ry="10.40" fill="#5a0a00" opacity="0.13" filter="url(#b4)"/>
<ellipse cx="157.90" cy="116.10" rx="17.70" ry="12.20" fill="#5a0a00" opacity="0.13" filter="url(#b4)"/>
<ellipse cx="201.70" cy="98.40" rx="11.80" ry="14.00" fill="#5a0a00" opacity="0.13" filter="url(#b4)"/>
<ellipse cx="223.00" cy="93.80" rx="11.10" ry="12.60" fill="#5a0a00" opacity="0.13" filter="url(#b4)"/>
<ellipse cx="194.40" cy="128.50" rx="11.00" ry="13.30" fill="#5a0a00" opacity="0.13" filter="url(#b4)"/>
<ellipse cx="176.10" cy="139.10" rx="11.80" ry="14.00" fill="#5a0a00" opacity="0.13" filter="url(#b4)"/>
<ellipse cx="215.70" cy="140.90" rx="15.10" ry="13.70" fill="#5a0a00" opacity="0.13" filter="url(#b4)"/>
<ellipse cx="167.90" cy="165.30" rx="12.20" ry="11.80" fill="#5a0a00" opacity="0.13" filter="url(#b4)"/>
<ellipse cx="121.00" cy="165.90" rx="9.40" ry="11.10" fill="#5a0a00" opacity="0.13" filter="url(#b4)"/>
<ellipse cx="144.20" cy="169.70" rx="11.50" ry="8.40" fill="#5a0a00" opacity="0.13" filter="url(#b4)"/>
<ellipse cx="119.80" cy="78.00" rx="7.20" ry="9.00" fill="#5a0a00" opacity="0.13" filter="url(#b4)"/>
<ellipse cx="119.60" cy="135.00" rx="7.30" ry="10.00" fill="#5a0a00" opacity="0.13" filter="url(#b4)"/>
<path d="M136.2 126.3h0.7M138.7 137.4h0.7M189.4 99.6h0.7M190.6 120.5h0.7M124.0 116.4h0.7M190.8 115.2h0.7M220.9 140.1h0.7M162.7 81.4h0.7M133.8 148.7h0.7M198.9 125.5h0.7M170.2 113.0h0.7M144.7 116.4h0.7M135.8 126.9h0.7M192.0 132.6h0.7M147.6 65.8h0.7M157.6 134.6h0.7M178.1 141.5h0.7M169.0 101.2h0.7M224.2 74.5h0.7M143.0 123.1h0.7M192.2 105.1h0.7M183.7 106.0h0.7M196.5 157.8h0.7M214.6 129.0h0.7M173.5 164.5h0.7M170.8 127.4h0.7M219.7 134.1h0.7M164.3 140.9h0.7M188.6 160.8h0.7M191.2 116.8h0.7M231.9 116.1h0.7M165.2 163.4h0.7M228.4 75.1h0.7M127.4 154.2h0.7M221.3 99.6h0.7M148.5 134.2h0.7M228.0 79.8h0.7M170.9 131.7h0.7M144.6 103.1h0.7M135.6 110.6h0.7M145.6 64.5h0.7M164.1 72.5h0.7M132.8 72.6h0.7M167.4 91.9h0.7M203.4 103.0h0.7M147.2 76.9h0.7M153.4 141.0h0.7M142.4 108.9h0.7M212.5 151.0h0.7M172.6 152.5h0.7M193.5 81.4h0.7M129.8 74.8h0.7M210.6 100.2h0.7M216.1 166.8h0.7M225.6 109.3h0.7M119.9 87.1h0.7M144.4 130.1h0.7M200.4 161.6h0.7M200.7 165.9h0.7M193.0 110.0h0.7M216.0 86.8h0.7M209.2 139.2h0.7M219.5 62.2h0.7M140.8 164.8h0.7M135.5 107.3h0.7M188.7 110.8h0.7M220.9 165.5h0.7M158.6 70.7h0.7M225.0 107.5h0.7M147.8 71.2h0.7M120.0 122.4h0.7M151.6 119.4h0.7M226.1 111.1h0.7M229.5 62.9h0.7M206.9 142.3h0.7M230.1 58.8h0.7M177.7 119.4h0.7M188.3 109.6h0.7M150.6 159.4h0.7M220.8 136.1h0.7M230.2 119.1h0.7M128.2 135.3h0.7M131.2 141.9h0.7M194.2 79.1h0.7M136.7 63.0h0.7M139.5 168.1h0.7M145.4 157.2h0.7M134.6 94.3h0.7M173.7 96.6h0.7M230.8 82.9h0.7M175.0 78.9h0.7M131.6 134.9h0.7M158.3 111.4h0.7M199.3 65.5h0.7M125.3 134.5h0.7M234.2 57.3h0.7M171.4 170.0h0.7M215.5 169.4h0.7M180.3 167.3h0.7M125.5 109.7h0.7M217.3 100.3h0.7M170.1 107.0h0.7M163.0 149.0h0.7M231.7 81.8h0.7M156.4 148.0h0.7M205.2 149.2h0.7M198.0 160.8h0.7M216.9 128.3h0.7M151.9 65.0h0.7M218.7 154.2h0.7M222.3 85.8h0.7M204.6 162.6h0.7M143.0 57.9h0.7M139.2 80.5h0.7M197.8 150.0h0.7M213.9 134.7h0.7M232.4 167.4h0.7M169.9 161.5h0.7M202.3 83.5h0.7M186.8 74.9h0.7M165.3 149.0h0.7M120.1 117.1h0.7M169.5 87.9h0.7M126.5 115.6h0.7M157.7 66.4h0.7M165.5 133.6h0.7M128.2 145.8h0.7M128.7 109.5h0.7M161.5 154.1h0.7M222.5 140.3h0.7M153.1 92.6h0.7M214.6 114.0h0.7M192.6 138.7h0.7M141.2 99.6h0.7M229.6 93.5h0.7M217.3 73.1h0.7M120.6 113.2h0.7M151.8 124.0h0.7M208.2 59.7h0.7M176.9 98.3h0.7M224.0 152.6h0.7M221.5 140.8h0.7M159.2 126.7h0.7M182.1 97.7h0.7M152.6 130.1h0.7M222.9 83.1h0.7M160.2 73.5h0.7M161.3 100.0h0.7M129.8 129.7h0.7M158.8 148.3h0.7M147.1 139.9h0.7M232.5 74.7h0.7M161.9 167.3h0.7M165.8 93.1h0.7M136.8 150.9h0.7M156.8 156.7h0.7M183.7 76.0h0.7M234.1 159.1h0.7M205.8 124.6h0.7M206.4 164.6h0.7M141.9 83.0h0.7M207.4 103.4h0.7M233.2 151.4h0.7M179.4 73.6h0.7M189.9 124.6h0.7M186.3 145.1h0.7M174.3 158.2h0.7M188.0 73.7h0.7M214.1 74.7h0.7M224.0 162.2h0.7M141.6 78.4h0.7M200.4 107.9h0.7M162.4 141.9h0.7M157.9 70.3h0.7M182.9 156.4h0.7M230.2 67.4h0.7M205.5 92.6h0.7M231.5 100.2h0.7M130.9 93.4h0.7M178.7 75.5h0.7M208.2 93.2h0.7M205.0 82.0h0.7M175.9 131.3h0.7M142.9 88.6h0.7M216.3 100.7h0.7M159.4 126.5h0.7M199.1 154.9h0.7M184.5 153.8h0.7M222.5 162.2h0.7M225.6 135.3h0.7M199.7 100.1h0.7M131.3 161.7h0.7M167.0 94.2h0.7M182.6 142.4h0.7M215.2 68.4h0.7M209.8 163.8h0.7M232.4 163.9h0.7M185.3 157.8h0.7M187.5 153.1h0.7M233.7 98.5h0.7M133.3 141.8h0.7M227.7 159.6h0.7M172.6 107.0h0.7M133.5 153.5h0.7M150.5 69.3h0.7M130.8 162.6h0.7M167.2 146.7h0.7M127.1 110.8h0.7M205.4 144.3h0.7M141.0 110.7h0.7M213.2 160.6h0.7M129.9 123.0h0.7M222.1 126.7h0.7M210.0 89.5h0.7M176.1 56.8h0.7M211.5 120.2h0.7M140.0 163.8h0.7M143.5 59.1h0.7M203.0 64.4h0.7M195.3 71.0h0.7M121.6 140.2h0.7M190.1 131.3h0.7M201.1 138.0h0.7M139.4 104.2h0.7M187.6 155.2h0.7M193.8 111.5h0.7M214.0 152.6h0.7M148.0 76.4h0.7M119.7 155.8h0.7M143.5 122.0h0.7M179.9 131.1h0.7M227.8 131.0h0.7M139.0 104.9h0.7M140.5 99.3h0.7M204.8 130.4h0.7M191.8 154.8h0.7M234.7 84.3h0.7M200.3 129.7h0.7M122.1 169.7h0.7M165.2 132.9h0.7M145.6 104.1h0.7M132.7 166.9h0.7M123.9 63.6h0.7M203.2 121.7h0.7M156.4 163.8h0.7M200.0 107.0h0.7M201.5 163.3h0.7M220.1 97.2h0.7M208.8 80.7h0.7M163.7 169.8h0.7M204.2 101.4h0.7M182.0 105.6h0.7M201.0 115.5h0.7M171.5 103.6h0.7M221.0 148.7h0.7M147.1 101.1h0.7M223.4 139.4h0.7M188.7 127.8h0.7M142.4 120.7h0.7M205.5 106.1h0.7M166.4 105.0h0.7M188.5 80.5h0.7M214.2 62.7h0.7M208.6 115.7h0.7M148.1 84.2h0.7M150.2 73.9h0.7M234.1 87.4h0.7M128.8 131.1h0.7M232.1 88.4h0.7M145.8 122.7h0.7M156.8 108.2h0.7M185.4 170.4h0.7M162.7 97.1h0.7M201.0 121.0h0.7M220.6 105.3h0.7M192.7 114.0h0.7M189.0 111.7h0.7M137.8 69.5h0.7M165.0 170.6h0.7M178.0 112.8h0.7M170.9 144.7h0.7M160.1 100.2h0.7M157.9 121.2h0.7M174.6 124.8h0.7M227.5 94.7h0.7M191.4 169.7h0.7M205.0 152.5h0.7M213.2 77.9h0.7M192.4 95.0h0.7M160.2 70.0h0.7M209.6 161.7h0.7M218.9 105.5h0.7M225.5 148.0h0.7M190.4 147.8h0.7M209.1 56.5h0.7M190.9 130.2h0.7M160.6 148.5h0.7M204.5 65.7h0.7M163.9 56.2h0.7M162.4 68.0h0.7M119.2 89.6h0.7M202.1 75.4h0.7M231.4 76.7h0.7M215.1 86.4h0.7M220.5 113.7h0.7M216.5 106.6h0.7M151.4 157.4h0.7M121.4 70.0h0.7M135.2 119.8h0.7M207.0 83.6h0.7M186.4 153.5h0.7M119.6 143.3h0.7M134.9 58.3h0.7M176.2 99.9h0.7M164.8 128.7h0.7M120.7 124.9h0.7M135.9 164.1h0.7M173.9 79.8h0.7M179.8 102.8h0.7M127.3 143.1h0.7M168.9 152.5h0.7M206.9 150.5h0.7M229.4 89.3h0.7M184.5 121.1h0.7M190.6 141.2h0.7M207.5 130.3h0.7M188.9 117.8h0.7M135.4 86.6h0.7M132.9 124.1h0.7M189.2 81.1h0.7M162.8 155.2h0.7M137.1 117.1h0.7M178.4 109.6h0.7M152.0 165.1h0.7M184.0 113.2h0.7M127.9 59.6h0.7M173.4 85.7h0.7M198.3 137.0h0.7M126.0 98.9h0.7M155.1 130.1h0.7M184.7 154.6h0.7M123.6 110.5h0.7M203.3 74.3h0.7M123.7 106.7h0.7M146.2 60.4h0.7M217.4 140.7h0.7M196.7 155.9h0.7M204.2 106.2h0.7M207.6 162.5h0.7M228.5 156.1h0.7M210.6 166.9h0.7M228.4 127.9h0.7M167.7 135.1h0.7M232.0 66.1h0.7M169.3 71.2h0.7M131.2 121.2h0.7M140.7 67.1h0.7M186.3 119.2h0.7M176.4 58.1h0.7M134.6 117.4h0.7M126.4 67.8h0.7M158.6 164.3h0.7M207.7 157.6h0.7M209.6 67.1h0.7M202.8 132.6h0.7M226.0 62.1h0.7M139.1 70.1h0.7M168.1 94.4h0.7M150.6 144.6h0.7M227.6 163.4h0.7M127.9 74.4h0.7M170.9 144.2h0.7M207.3 152.0h0.7M133.5 119.6h0.7M125.1 134.6h0.7M215.2 91.6h0.7M163.1 63.6h0.7M220.7 94.5h0.7M151.4 99.3h0.7M137.3 169.4h0.7M227.5 118.0h0.7M165.2 111.3h0.7M227.5 59.1h0.7M144.5 133.1h0.7M155.3 112.6h0.7M130.2 104.7h0.7M227.0 135.6h0.7M188.0 153.4h0.7M139.4 136.8h0.7M230.7 98.2h0.7M120.8 125.2h0.7M225.0 68.1h0.7M150.8 136.5h0.7M180.3 169.7h0.7M182.7 97.2h0.7M160.5 111.9h0.7M209.6 142.9h0.7M170.0 98.9h0.7M190.1 76.5h0.7M175.4 95.1h0.7M121.1 133.7h0.7M129.2 89.4h0.7M188.7 155.1h0.7M193.3 165.7h0.7M121.5 147.9h0.7M204.7 136.8h0.7M230.3 63.1h0.7M128.7 165.2h0.7M222.0 68.4h0.7M172.6 156.1h0.7M187.6 58.7h0.7M144.1 151.5h0.7M137.0 88.0h0.7M214.3 76.4h0.7M186.9 74.9h0.7M138.6 118.7h0.7M209.6 100.1h0.7M147.4 136.9h0.7M202.7 56.9h0.7M196.9 115.5h0.7M233.3 124.6h0.7M190.2 63.9h0.7M174.6 61.0h0.7M138.8 113.4h0.7M218.1 166.9h0.7M216.2 112.6h0.7M171.0 135.4h0.7M160.4 57.8h0.7M205.6 164.5h0.7M221.9 129.1h0.7M211.7 78.1h0.7M146.3 155.4h0.7M178.7 81.5h0.7M194.3 138.6h0.7M221.5 69.5h0.7M153.9 114.3h0.7M216.4 169.1h0.7M130.9 93.2h0.7M167.2 162.6h0.7M195.0 90.7h0.7M186.1 77.6h0.7M218.9 103.6h0.7M184.3 147.3h0.7M178.5 63.0h0.7M159.5 56.4h0.7M168.7 168.9h0.7M207.6 167.7h0.7M135.9 134.1h0.7M209.7 106.5h0.7M213.9 66.7h0.7M223.7 165.9h0.7M142.5 63.5h0.7M219.7 122.5h0.7M233.2 118.8h0.7M145.7 86.2h0.7M196.0 94.6h0.7M232.7 144.8h0.7M186.1 155.8h0.7M211.7 99.5h0.7M189.4 104.7h0.7" stroke="#b01400" stroke-width="0.7" fill="none" opacity="0.6"/>
<path d="M124.5 57.2h0.68M132.0 47.2h0.68M124.7 58.9h0.68M120.6 46.5h0.68M132.8 45.4h0.68M144.1 68.7h0.68M131.0 49.3h0.68M128.3 42.8h0.68M130.0 59.0h0.68M119.7 65.5h0.68M113.0 54.7h0.68M133.1 56.6h0.68M130.6 61.5h0.68M128.8 54.9h0.68M133.8 55.7h0.68M121.9 57.6h0.68M135.0 42.5h0.68M130.6 43.5h0.68M113.1 54.3h0.68M125.5 56.8h0.68M143.2 50.1h0.68M122.7 65.8h0.68M137.1 66.2h0.68M145.2 40.5h0.68M145.0 68.4h0.68M136.7 64.1h0.68M130.2 53.8h0.68M111.2 45.8h0.68M129.3 38.9h0.68M119.4 45.7h0.68M109.8 51.4h0.68M124.6 41.7h0.68M129.6 49.7h0.68M120.0 62.8h0.68M123.5 69.1h0.68M146.1 57.0h0.68M131.9 65.9h0.68M124.4 47.8h0.68M150.3 60.6h0.68M133.7 49.5h0.68M164.8 68.5h0.68M179.3 66.6h0.68M154.2 52.4h0.68M162.0 57.3h0.68M145.0 60.0h0.68M165.2 69.2h0.68M155.2 74.5h0.68M177.3 54.6h0.68M164.8 65.0h0.68M155.9 56.1h0.68M172.3 60.1h0.68M155.1 52.7h0.68M155.7 42.0h0.68M154.2 69.4h0.68M157.1 55.2h0.68M151.8 35.7h0.68M184.7 55.2h0.68M164.8 38.6h0.68M151.2 63.3h0.68M158.1 51.9h0.68M156.2 70.7h0.68M140.1 70.3h0.68M162.2 64.7h0.68M162.6 53.3h0.68M155.0 47.6h0.68M161.6 56.7h0.68M148.9 57.9h0.68M151.9 37.3h0.68M147.9 36.6h0.68M162.4 50.0h0.68M156.7 61.2h0.68M151.0 64.0h0.68M137.2 43.9h0.68M150.9 57.4h0.68M161.3 51.0h0.68M150.6 46.4h0.68M154.3 55.1h0.68M168.7 66.9h0.68M144.0 60.7h0.68M163.3 53.5h0.68M119.5 72.9h0.68M124.6 93.7h0.68M135.5 112.1h0.68M121.0 91.3h0.68M116.3 82.3h0.68M117.6 93.4h0.68M132.5 91.9h0.68M122.2 98.4h0.68M121.0 88.6h0.68M127.1 90.2h0.68M122.4 71.3h0.68M126.1 73.2h0.68M127.9 95.9h0.68M123.7 89.7h0.68M144.0 94.2h0.68M111.2 86.3h0.68M128.2 78.9h0.68M132.0 94.1h0.68M115.5 87.9h0.68M125.6 95.9h0.68M128.7 96.2h0.68M122.4 96.4h0.68M143.8 92.1h0.68M130.9 76.0h0.68M129.6 76.3h0.68M109.5 88.3h0.68M147.2 79.6h0.68M136.6 87.2h0.68M119.2 100.2h0.68M122.5 95.4h0.68M116.1 98.1h0.68M128.6 89.5h0.68M138.9 81.6h0.68M134.8 84.7h0.68M131.5 88.4h0.68M120.6 88.9h0.68M140.4 105.3h0.68M135.0 86.6h0.68M138.9 67.4h0.68M124.0 83.5h0.68M150.3 93.7h0.68M142.9 112.6h0.68M153.0 93.2h0.68M171.3 95.8h0.68M161.1 103.3h0.68M157.6 84.1h0.68M141.5 101.8h0.68M150.3 97.8h0.68M153.5 96.1h0.68M153.2 93.6h0.68M154.8 90.4h0.68M142.7 83.6h0.68M150.1 97.3h0.68M154.5 109.2h0.68M143.4 97.0h0.68M142.5 103.0h0.68M159.7 94.2h0.68M149.1 93.5h0.68M157.9 88.7h0.68M141.1 111.6h0.68M151.1 97.9h0.68M163.2 82.1h0.68M148.8 102.9h0.68M146.0 88.8h0.68M143.7 94.7h0.68M154.4 91.0h0.68M132.0 94.5h0.68M157.4 85.0h0.68M149.4 99.1h0.68M138.8 90.3h0.68M147.7 84.8h0.68M138.7 89.1h0.68M162.3 82.7h0.68M167.3 102.6h0.68M146.0 99.1h0.68M155.6 97.9h0.68M141.0 99.1h0.68M134.9 85.7h0.68M152.8 91.4h0.68M162.5 100.3h0.68M164.6 92.5h0.68M161.8 111.1h0.68M155.7 95.4h0.68M161.2 116.2h0.68M147.8 105.4h0.68M172.9 95.4h0.68M161.2 113.1h0.68M156.9 111.2h0.68M161.6 107.2h0.68M170.8 105.3h0.68M173.5 105.5h0.68M164.5 97.1h0.68M175.8 99.8h0.68M170.9 77.7h0.68M169.9 90.4h0.68M171.0 112.1h0.68M152.4 96.6h0.68M172.9 99.8h0.68M146.5 110.0h0.68M165.5 97.8h0.68M165.4 114.7h0.68M178.0 100.1h0.68M146.4 99.8h0.68M178.0 86.2h0.68M154.1 96.2h0.68M157.9 99.4h0.68M161.7 103.9h0.68M168.2 87.7h0.68M165.2 103.8h0.68M160.5 98.0h0.68M167.4 105.0h0.68M164.2 105.5h0.68M155.1 116.4h0.68M171.7 85.9h0.68M169.0 93.4h0.68M149.3 114.1h0.68M154.3 107.2h0.68M176.8 105.7h0.68M178.8 107.2h0.68M155.9 97.1h0.68M157.9 98.3h0.68M162.2 105.5h0.68M148.6 91.3h0.68M151.8 107.9h0.68M154.9 100.8h0.68M170.6 94.7h0.68M158.1 123.6h0.68M160.5 109.9h0.68M158.8 108.5h0.68M161.8 114.5h0.68M178.5 90.0h0.68M190.7 100.5h0.68M165.1 95.1h0.68M161.5 92.1h0.68M160.3 101.0h0.68M157.4 105.9h0.68M153.4 109.1h0.68M159.8 107.6h0.68M156.4 112.2h0.68M171.5 102.5h0.68M166.5 96.9h0.68M157.3 109.7h0.68M152.1 100.5h0.68M155.6 104.5h0.68M162.6 108.8h0.68M169.1 102.7h0.68M165.9 103.1h0.68M176.7 93.2h0.68M157.5 95.8h0.68M171.0 102.5h0.68M157.9 89.4h0.68M148.9 103.9h0.68M175.5 107.3h0.68M153.7 120.6h0.68M149.1 133.3h0.68M172.8 117.7h0.68M175.6 104.2h0.68M149.3 106.9h0.68M163.1 120.2h0.68M153.9 111.5h0.68M154.3 119.3h0.68M134.8 122.9h0.68M141.3 128.5h0.68M157.7 118.9h0.68M161.4 123.3h0.68M147.8 113.9h0.68M155.6 117.5h0.68M153.4 126.4h0.68M156.3 117.3h0.68M147.8 118.3h0.68M146.5 114.5h0.68M159.3 121.7h0.68M154.6 112.5h0.68M150.1 112.8h0.68M157.7 112.4h0.68M152.0 108.6h0.68M142.1 121.8h0.68M170.4 138.8h0.68M164.4 112.2h0.68M133.3 102.9h0.68M154.8 129.8h0.68M148.1 116.0h0.68M151.1 112.8h0.68M169.4 115.4h0.68M162.5 130.5h0.68M165.9 109.5h0.68M149.3 129.9h0.68M163.3 121.7h0.68M144.6 137.1h0.68M160.2 122.8h0.68M148.4 142.1h0.68M162.1 103.1h0.68M140.2 129.3h0.68M150.9 123.1h0.68M162.1 123.2h0.68M172.3 126.1h0.68M148.2 105.2h0.68M148.3 122.2h0.68M156.7 134.8h0.68M160.6 114.9h0.68M163.5 115.3h0.68M169.4 108.9h0.68M154.1 115.1h0.68M148.3 129.4h0.68M142.9 106.1h0.68M156.5 111.1h0.68M151.6 118.4h0.68M165.7 121.4h0.68M166.7 109.8h0.68M167.0 104.4h0.68M149.4 126.1h0.68M144.9 114.2h0.68M151.7 118.0h0.68M152.0 112.1h0.68M166.1 116.4h0.68M154.2 124.5h0.68M157.0 113.6h0.68M169.6 130.8h0.68M166.5 102.1h0.68M175.4 106.0h0.68M160.6 126.8h0.68M170.7 119.9h0.68M163.8 117.4h0.68M161.9 127.8h0.68M146.1 115.6h0.68M171.8 108.0h0.68M151.1 110.3h0.68M166.0 129.7h0.68M155.2 129.3h0.68M146.2 123.8h0.68M149.3 115.8h0.68M157.9 111.7h0.68M148.9 135.1h0.68M162.2 104.8h0.68M183.7 112.9h0.68M198.5 94.2h0.68M191.5 95.2h0.68M191.5 100.0h0.68M193.3 93.1h0.68M191.6 103.8h0.68M201.3 98.7h0.68M193.0 108.9h0.68M196.4 85.0h0.68M211.3 103.7h0.68M211.0 90.6h0.68M201.9 88.9h0.68M196.1 98.2h0.68M208.8 100.0h0.68M200.2 88.4h0.68M200.5 92.7h0.68M208.1 93.5h0.68M207.3 86.7h0.68M192.3 92.9h0.68M205.1 91.0h0.68M194.0 86.9h0.68M210.7 93.7h0.68M209.3 95.7h0.68M214.3 94.3h0.68M200.6 80.1h0.68M212.6 118.3h0.68M190.5 97.9h0.68M206.8 89.6h0.68M205.2 91.6h0.68M198.1 106.2h0.68M202.5 104.5h0.68M197.6 103.9h0.68M194.0 100.9h0.68M218.3 91.3h0.68M218.7 109.1h0.68M203.2 107.9h0.68M209.5 83.4h0.68M200.5 90.4h0.68M198.0 89.5h0.68M200.0 100.3h0.68M233.6 97.6h0.68M227.5 85.6h0.68M229.0 85.3h0.68M237.2 88.2h0.68M217.8 98.6h0.68M229.6 82.2h0.68M214.5 82.7h0.68M220.9 89.0h0.68M237.0 81.9h0.68M227.9 82.8h0.68M205.7 110.5h0.68M220.4 94.5h0.68M218.3 78.2h0.68M228.8 86.2h0.68M207.5 91.0h0.68M212.8 90.5h0.68M213.8 97.5h0.68M238.1 90.3h0.68M212.2 98.6h0.68M221.6 99.6h0.68M234.4 88.9h0.68M232.1 74.3h0.68M215.4 94.4h0.68M220.3 96.2h0.68M223.9 90.0h0.68M220.8 87.2h0.68M218.1 96.8h0.68M226.6 86.8h0.68M223.8 98.9h0.68M233.8 85.0h0.68M223.4 116.5h0.68M222.8 76.1h0.68M222.6 94.8h0.68M226.1 89.7h0.68M222.5 72.9h0.68M222.2 89.7h0.68M221.6 93.9h0.68M227.4 80.4h0.68M225.9 85.8h0.68M231.6 90.6h0.68M182.7 135.7h0.68M206.0 135.0h0.68M201.7 144.0h0.68M195.6 135.8h0.68M186.9 127.5h0.68M175.4 130.1h0.68M194.3 127.2h0.68M181.1 123.9h0.68M200.1 141.5h0.68M196.6 119.1h0.68M206.0 123.8h0.68M197.0 134.8h0.68M198.8 105.9h0.68M182.0 124.5h0.68M216.9 143.8h0.68M214.1 122.3h0.68M192.9 121.1h0.68M199.2 119.0h0.68M195.8 121.3h0.68M201.3 125.4h0.68M195.2 115.2h0.68M196.2 150.3h0.68M206.7 122.2h0.68M204.6 118.0h0.68M195.9 138.0h0.68M200.4 143.9h0.68M193.8 131.2h0.68M191.4 131.7h0.68M173.1 117.3h0.68M191.4 122.8h0.68M190.5 115.2h0.68M187.3 124.8h0.68M197.4 126.1h0.68M189.1 120.9h0.68M184.3 138.9h0.68M203.5 122.6h0.68M201.0 128.7h0.68M191.4 125.4h0.68M194.6 138.8h0.68M196.3 126.3h0.68M174.8 146.5h0.68M177.2 143.5h0.68M192.1 140.5h0.68M185.4 142.2h0.68M180.2 146.5h0.68M191.6 145.6h0.68M186.6 142.6h0.68M170.6 137.5h0.68M167.4 128.3h0.68M194.2 143.7h0.68M176.4 127.3h0.68M159.9 140.8h0.68M166.6 149.1h0.68M180.5 154.8h0.68M177.9 149.5h0.68M178.3 150.1h0.68M166.8 146.4h0.68M180.2 123.9h0.68M172.9 152.7h0.68M184.8 132.8h0.68M174.9 127.6h0.68M182.5 139.7h0.68M177.1 135.2h0.68M175.5 138.0h0.68M202.5 142.5h0.68M181.1 132.5h0.68M177.0 146.0h0.68M180.4 135.9h0.68M166.8 133.4h0.68M176.6 150.1h0.68M189.5 139.2h0.68M169.6 126.5h0.68M171.8 128.7h0.68M175.3 146.2h0.68M168.2 132.9h0.68M178.5 142.1h0.68M195.4 151.6h0.68M186.2 142.6h0.68M173.2 137.9h0.68M176.0 148.7h0.68M203.1 127.9h0.68M202.5 150.3h0.68M215.4 140.4h0.68M228.8 147.2h0.68M198.2 142.2h0.68M215.2 127.2h0.68M219.3 136.9h0.68M198.3 147.0h0.68M219.5 150.2h0.68M217.4 137.4h0.68M215.3 147.4h0.68M206.4 145.0h0.68M207.4 138.7h0.68M214.6 140.7h0.68M196.4 150.1h0.68M211.6 155.0h0.68M213.0 155.7h0.68M208.6 141.9h0.68M210.2 134.2h0.68M215.7 134.6h0.68M215.6 141.9h0.68M216.4 133.4h0.68M221.2 150.2h0.68M219.3 131.6h0.68M195.7 153.7h0.68M212.8 152.5h0.68M210.0 147.2h0.68M207.0 146.1h0.68M212.0 161.0h0.68M218.2 129.4h0.68M207.5 133.2h0.68M202.8 124.8h0.68M209.0 145.2h0.68M221.0 149.6h0.68M213.7 134.9h0.68M210.9 146.4h0.68M221.4 144.8h0.68M219.0 133.3h0.68M207.4 132.2h0.68M202.3 152.2h0.68M202.6 124.6h0.68M230.8 129.0h0.68M217.3 148.1h0.68M211.6 151.9h0.68M208.3 151.0h0.68M221.7 143.3h0.68M205.5 149.9h0.68M216.0 148.7h0.68M208.9 139.6h0.68M230.9 143.9h0.68M219.7 141.3h0.68M223.0 149.0h0.68M204.7 140.5h0.68M206.3 132.6h0.68M209.9 144.1h0.68M205.4 143.4h0.68M218.6 151.8h0.68M181.6 168.0h0.68M166.4 156.6h0.68M162.6 166.0h0.68M157.4 173.0h0.68M174.0 158.2h0.68M165.9 162.8h0.68M167.1 166.4h0.68M166.8 165.1h0.68M174.3 159.8h0.68M162.3 163.6h0.68M168.8 157.2h0.68M178.1 169.8h0.68M155.1 143.2h0.68M160.9 151.0h0.68M190.2 155.1h0.68M179.0 177.8h0.68M171.2 166.2h0.68M144.4 155.7h0.68M166.5 161.4h0.68M174.3 162.6h0.68M159.2 148.1h0.68M165.8 172.3h0.68M158.9 151.8h0.68M167.8 154.5h0.68M162.1 155.9h0.68M152.5 166.3h0.68M164.6 169.4h0.68M173.5 157.2h0.68M169.8 157.2h0.68M154.5 161.8h0.68M159.6 164.5h0.68M163.2 161.0h0.68M166.7 158.2h0.68M168.8 164.7h0.68M164.1 152.5h0.68M169.2 156.9h0.68M162.9 150.2h0.68M185.8 152.0h0.68M173.5 165.4h0.68M174.6 167.4h0.68M117.2 154.7h0.68M123.3 163.5h0.68M113.0 166.1h0.68M124.9 167.8h0.68M119.8 165.8h0.68M115.7 156.8h0.68M114.9 165.2h0.68M126.4 163.0h0.68M125.3 183.4h0.68M123.8 147.6h0.68M129.9 158.9h0.68M130.6 171.9h0.68M129.5 168.1h0.68M118.5 149.4h0.68M121.9 155.5h0.68M128.4 161.6h0.68M109.9 152.9h0.68M108.5 168.5h0.68M125.8 166.6h0.68M108.9 172.5h0.68M115.3 168.6h0.68M128.1 157.0h0.68M123.6 161.4h0.68M105.6 173.2h0.68M121.3 175.2h0.68M134.8 173.4h0.68M124.1 177.5h0.68M125.7 169.7h0.68M146.1 163.0h0.68M110.5 157.5h0.68M117.7 158.8h0.68M124.6 173.2h0.68M115.1 161.0h0.68M121.5 174.3h0.68M121.6 165.8h0.68M126.8 160.6h0.68M120.0 161.2h0.68M117.3 170.5h0.68M115.9 161.4h0.68M147.5 163.1h0.68M145.1 174.2h0.68M159.4 170.5h0.68M135.8 160.2h0.68M128.3 167.0h0.68M123.2 183.4h0.68M147.7 176.2h0.68M140.8 167.5h0.68M147.6 171.8h0.68M169.6 169.8h0.68M143.0 173.6h0.68M151.2 157.2h0.68M134.1 174.4h0.68M133.0 168.7h0.68M155.2 175.8h0.68M154.4 178.7h0.68M142.9 170.6h0.68M136.3 170.8h0.68M139.4 164.4h0.68M160.4 177.4h0.68M150.1 174.5h0.68M150.7 183.3h0.68M140.9 163.5h0.68M146.6 178.0h0.68M150.0 158.6h0.68M142.1 169.8h0.68M152.9 149.8h0.68M152.8 168.5h0.68M139.3 172.2h0.68M147.1 159.2h0.68M146.1 171.2h0.68M151.3 177.5h0.68M138.6 165.3h0.68M144.5 141.2h0.68M165.1 159.5h0.68M139.2 167.1h0.68M149.2 159.9h0.68M146.5 161.9h0.68M148.1 161.6h0.68M142.3 155.7h0.68M146.0 179.4h0.68M108.5 68.7h0.68M109.5 65.7h0.68M119.0 78.8h0.68M123.9 88.7h0.68M118.4 60.3h0.68M136.8 83.1h0.68M117.6 70.3h0.68M120.6 70.0h0.68M116.9 77.4h0.68M120.0 59.6h0.68M132.3 87.5h0.68M121.9 72.6h0.68M109.6 82.5h0.68M132.0 85.3h0.68M128.4 85.4h0.68M108.3 77.0h0.68M121.1 81.9h0.68M123.5 58.1h0.68M113.2 81.7h0.68M124.3 85.2h0.68M126.5 68.5h0.68M117.9 72.3h0.68M103.0 74.3h0.68M108.7 67.3h0.68M128.2 79.5h0.68M111.5 70.5h0.68M115.2 70.9h0.68M124.5 78.1h0.68M117.6 80.8h0.68M119.3 67.9h0.68M110.4 67.6h0.68M125.4 67.5h0.68M109.2 66.1h0.68M116.8 76.3h0.68M128.8 62.1h0.68M119.0 89.2h0.68M125.8 80.6h0.68M119.4 85.9h0.68M118.4 78.7h0.68M122.3 62.7h0.68M119.3 155.8h0.68M112.4 126.5h0.68M116.2 146.5h0.68M129.0 139.1h0.68M114.1 130.7h0.68M111.6 116.8h0.68M132.2 139.1h0.68M103.0 143.1h0.68M129.9 131.8h0.68M129.4 127.9h0.68M93.4 138.4h0.68M112.4 138.9h0.68M128.9 134.5h0.68M111.4 118.2h0.68M137.1 125.7h0.68M128.9 134.0h0.68M108.0 148.6h0.68M121.2 144.8h0.68M115.9 123.1h0.68M111.6 150.2h0.68M133.4 138.1h0.68M106.1 135.2h0.68M128.8 138.1h0.68M134.3 135.3h0.68M124.8 150.1h0.68M113.5 139.3h0.68M126.9 139.1h0.68M123.8 138.3h0.68M115.9 122.6h0.68M118.9 135.0h0.68M124.6 139.3h0.68M118.1 128.4h0.68M128.3 127.6h0.68M116.3 125.8h0.68M118.5 146.7h0.68M110.4 124.8h0.68M105.2 149.4h0.68M116.5 142.0h0.68M144.1 135.0h0.68M114.1 126.9h0.68" stroke="#d41208" stroke-width="0.68" fill="none" opacity="0.85"/>
<path d="M125.4 63.3h0.7M121.9 52.6h0.7M116.3 47.6h0.7M126.1 61.5h0.7M120.3 58.9h0.7M121.2 56.4h0.7M117.5 67.6h0.7M120.9 48.0h0.7M129.2 59.8h0.7M122.9 47.0h0.7M125.4 44.0h0.7M113.6 55.1h0.7M118.1 54.9h0.7M136.4 54.1h0.7M124.0 55.6h0.7M118.3 56.4h0.7M137.7 42.0h0.7M124.3 53.2h0.7M122.6 50.7h0.7M112.3 50.0h0.7M142.5 62.5h0.7M128.5 48.5h0.7M118.2 53.7h0.7M134.3 39.0h0.7M112.3 57.6h0.7M127.8 57.4h0.7M128.6 53.0h0.7M148.2 66.1h0.7M160.5 66.1h0.7M167.1 64.7h0.7M156.1 63.3h0.7M144.4 59.9h0.7M151.9 52.7h0.7M162.9 63.0h0.7M165.0 58.8h0.7M165.4 64.8h0.7M161.5 53.4h0.7M166.4 56.4h0.7M148.2 61.3h0.7M160.5 47.0h0.7M170.7 49.3h0.7M161.9 72.9h0.7M162.5 54.6h0.7M152.5 51.8h0.7M152.2 64.7h0.7M163.4 57.2h0.7M169.5 61.9h0.7M157.0 59.6h0.7M158.0 63.0h0.7M153.9 56.9h0.7M165.7 51.2h0.7M172.1 54.4h0.7M169.2 46.1h0.7M150.1 70.7h0.7M134.3 91.1h0.7M143.5 93.2h0.7M122.6 79.8h0.7M134.5 84.7h0.7M134.3 98.3h0.7M129.4 95.5h0.7M146.5 78.3h0.7M124.4 93.4h0.7M122.2 88.4h0.7M132.0 88.4h0.7M121.3 90.9h0.7M132.0 86.5h0.7M129.5 89.3h0.7M127.8 91.4h0.7M123.0 84.9h0.7M133.9 85.6h0.7M121.2 89.9h0.7M128.3 82.7h0.7M140.7 91.3h0.7M130.2 98.5h0.7M125.7 79.2h0.7M125.1 83.2h0.7M132.3 83.9h0.7M134.4 85.3h0.7M123.4 81.5h0.7M127.5 92.7h0.7M107.6 86.6h0.7M147.3 83.9h0.7M147.6 102.2h0.7M155.5 90.6h0.7M142.6 102.0h0.7M151.1 89.6h0.7M136.1 99.2h0.7M147.4 92.2h0.7M143.0 89.9h0.7M140.9 99.1h0.7M158.2 102.1h0.7M154.6 96.0h0.7M145.3 95.3h0.7M146.9 95.8h0.7M129.3 87.7h0.7M168.4 101.1h0.7M143.9 84.6h0.7M152.7 98.6h0.7M137.8 91.5h0.7M151.3 96.4h0.7M160.3 90.1h0.7M149.4 95.1h0.7M156.5 101.8h0.7M153.0 91.7h0.7M148.9 83.8h0.7M141.3 90.0h0.7M140.4 97.2h0.7M144.4 91.3h0.7M170.8 112.9h0.7M159.4 97.7h0.7M167.9 104.8h0.7M160.9 106.9h0.7M166.7 108.3h0.7M173.9 94.3h0.7M176.6 98.2h0.7M169.7 103.4h0.7M166.3 109.0h0.7M168.2 95.2h0.7M176.0 100.7h0.7M166.2 90.1h0.7M171.4 115.0h0.7M172.7 100.7h0.7M167.5 82.7h0.7M173.3 98.3h0.7M154.2 105.5h0.7M170.1 104.9h0.7M168.2 109.7h0.7M179.7 104.8h0.7M166.2 101.9h0.7M163.4 107.7h0.7M161.6 97.2h0.7M162.5 108.7h0.7M165.8 100.8h0.7M163.4 106.9h0.7M161.2 87.4h0.7M160.0 107.9h0.7M168.1 91.8h0.7M169.2 96.9h0.7M173.3 108.1h0.7M167.6 118.2h0.7M170.8 102.2h0.7M165.1 102.6h0.7M175.4 96.2h0.7M155.5 105.5h0.7M157.8 97.9h0.7M172.9 91.8h0.7M161.4 103.4h0.7M172.4 105.8h0.7M160.8 97.7h0.7M160.4 112.7h0.7M162.8 107.5h0.7M168.5 101.8h0.7M163.2 112.2h0.7M163.8 118.3h0.7M164.7 107.6h0.7M158.7 105.8h0.7M157.6 112.3h0.7M143.5 113.1h0.7M151.8 115.3h0.7M159.9 116.3h0.7M150.0 113.4h0.7M154.5 120.5h0.7M146.2 126.9h0.7M157.0 126.0h0.7M154.3 127.1h0.7M149.7 106.7h0.7M144.2 110.5h0.7M158.7 133.4h0.7M148.1 134.5h0.7M148.2 110.7h0.7M152.2 113.3h0.7M169.1 115.1h0.7M152.5 124.8h0.7M147.8 110.4h0.7M147.8 129.7h0.7M162.2 120.8h0.7M167.8 109.3h0.7M169.0 127.2h0.7M155.7 115.1h0.7M152.8 116.8h0.7M159.1 116.8h0.7M167.3 116.2h0.7M142.7 121.7h0.7M146.7 108.4h0.7M163.0 129.9h0.7M153.7 116.3h0.7M147.8 109.8h0.7M159.6 117.8h0.7M148.0 123.0h0.7M160.8 121.3h0.7M157.6 108.6h0.7M149.7 111.2h0.7M156.3 116.0h0.7M146.7 117.1h0.7M152.5 110.0h0.7M148.7 126.1h0.7M161.1 112.7h0.7M153.7 125.3h0.7M154.9 116.9h0.7M148.9 113.5h0.7M144.3 116.8h0.7M156.9 115.3h0.7M160.7 123.3h0.7M151.3 116.4h0.7M163.7 109.4h0.7M160.8 116.5h0.7M155.1 128.7h0.7M144.7 112.4h0.7M141.5 110.3h0.7M148.1 114.0h0.7M197.8 100.9h0.7M209.7 88.8h0.7M190.2 101.3h0.7M202.9 105.5h0.7M213.6 97.0h0.7M202.1 89.4h0.7M196.9 95.1h0.7M187.5 98.7h0.7M206.8 105.1h0.7M199.6 89.2h0.7M207.8 91.5h0.7M199.8 94.8h0.7M199.9 87.6h0.7M204.1 106.2h0.7M204.5 99.5h0.7M195.9 99.2h0.7M201.9 94.4h0.7M205.0 96.9h0.7M198.7 88.4h0.7M191.1 97.7h0.7M203.5 87.0h0.7M203.7 100.9h0.7M192.8 92.4h0.7M198.6 92.7h0.7M206.2 104.5h0.7M203.6 81.0h0.7M199.4 91.2h0.7M216.2 96.0h0.7M230.4 92.3h0.7M212.2 97.8h0.7M218.6 90.3h0.7M214.7 93.5h0.7M226.5 84.7h0.7M215.8 85.5h0.7M228.4 81.7h0.7M216.3 90.9h0.7M224.4 103.3h0.7M216.0 93.9h0.7M220.7 101.7h0.7M231.7 95.9h0.7M219.1 77.9h0.7M219.5 89.7h0.7M234.3 96.3h0.7M224.8 86.3h0.7M225.4 94.1h0.7M220.5 98.1h0.7M223.0 80.6h0.7M224.8 89.9h0.7M232.7 85.1h0.7M223.8 90.7h0.7M217.4 85.5h0.7M227.7 102.1h0.7M227.0 97.9h0.7M221.9 86.8h0.7M192.5 127.6h0.7M196.5 130.2h0.7M182.0 128.1h0.7M188.2 122.3h0.7M200.6 130.3h0.7M210.2 135.8h0.7M184.3 133.6h0.7M196.4 119.3h0.7M189.7 122.6h0.7M197.3 126.0h0.7M204.8 121.2h0.7M198.6 131.2h0.7M196.7 129.8h0.7M194.6 127.8h0.7M189.7 123.3h0.7M206.4 118.2h0.7M194.1 130.0h0.7M203.0 127.3h0.7M191.1 121.3h0.7M194.2 130.7h0.7M192.3 126.3h0.7M193.6 112.2h0.7M202.0 121.3h0.7M192.7 133.5h0.7M194.4 135.8h0.7M190.5 123.5h0.7M207.6 111.5h0.7M175.5 155.6h0.7M174.9 147.4h0.7M185.6 136.1h0.7M180.9 152.9h0.7M179.2 135.1h0.7M168.8 139.9h0.7M168.9 122.6h0.7M178.7 136.4h0.7M180.1 142.0h0.7M170.2 145.0h0.7M182.7 130.3h0.7M180.2 123.8h0.7M174.5 139.0h0.7M171.6 148.1h0.7M176.0 147.2h0.7M165.6 129.4h0.7M175.2 138.8h0.7M174.0 122.0h0.7M184.7 143.0h0.7M173.7 139.1h0.7M177.7 149.5h0.7M187.1 137.0h0.7M178.8 132.3h0.7M178.9 140.5h0.7M180.3 133.2h0.7M178.1 130.7h0.7M179.8 137.7h0.7M207.3 153.3h0.7M207.7 145.0h0.7M212.3 156.6h0.7M212.5 136.8h0.7M215.1 140.9h0.7M220.4 141.3h0.7M198.3 145.3h0.7M208.6 146.8h0.7M214.8 135.4h0.7M207.0 141.4h0.7M211.4 141.5h0.7M216.3 129.1h0.7M222.9 148.0h0.7M228.3 139.6h0.7M212.4 150.3h0.7M201.3 137.9h0.7M212.8 154.6h0.7M218.1 134.1h0.7M207.7 152.0h0.7M196.5 147.5h0.7M220.3 141.0h0.7M228.0 146.6h0.7M212.1 144.5h0.7M219.3 153.2h0.7M218.6 145.5h0.7M208.9 146.9h0.7M221.2 157.9h0.7M218.2 142.0h0.7M219.0 147.8h0.7M208.7 140.3h0.7M211.7 142.6h0.7M217.8 154.7h0.7M209.9 139.2h0.7M233.8 145.6h0.7M205.2 130.3h0.7M195.0 151.8h0.7M207.9 131.6h0.7M211.4 146.8h0.7M168.6 180.1h0.7M154.5 147.1h0.7M171.8 157.5h0.7M181.1 178.8h0.7M165.6 164.2h0.7M163.0 163.1h0.7M166.3 164.9h0.7M178.6 159.1h0.7M177.2 158.3h0.7M158.5 169.7h0.7M173.5 154.3h0.7M165.5 178.2h0.7M164.1 164.8h0.7M167.2 178.4h0.7M173.0 157.9h0.7M166.0 163.0h0.7M178.4 169.2h0.7M172.7 172.3h0.7M160.5 166.0h0.7M168.6 169.0h0.7M172.7 152.0h0.7M171.6 169.8h0.7M165.8 158.3h0.7M176.5 154.6h0.7M174.6 155.0h0.7M173.9 158.6h0.7M172.3 158.6h0.7M128.2 163.9h0.7M127.7 161.5h0.7M126.7 165.7h0.7M120.6 157.2h0.7M120.7 171.3h0.7M119.0 165.4h0.7M119.6 162.9h0.7M126.3 162.3h0.7M116.9 161.7h0.7M117.5 166.8h0.7M109.6 169.9h0.7M109.3 162.6h0.7M121.6 154.4h0.7M124.6 166.5h0.7M129.4 171.6h0.7M123.6 173.7h0.7M113.5 158.6h0.7M121.3 169.3h0.7M114.7 158.7h0.7M108.3 166.2h0.7M133.6 165.3h0.7M116.4 171.4h0.7M119.5 175.6h0.7M118.5 154.4h0.7M126.4 166.2h0.7M121.9 175.8h0.7M131.9 164.1h0.7M161.6 175.7h0.7M145.9 176.9h0.7M152.3 172.9h0.7M148.3 163.6h0.7M156.2 172.3h0.7M139.4 158.6h0.7M157.2 181.6h0.7M142.9 169.2h0.7M151.7 170.1h0.7M145.3 164.1h0.7M150.7 171.9h0.7M161.0 156.7h0.7M147.0 163.5h0.7M156.6 170.9h0.7M150.4 155.1h0.7M148.1 176.1h0.7M149.8 168.9h0.7M151.2 162.5h0.7M146.5 168.3h0.7M143.5 171.4h0.7M140.6 164.2h0.7M150.0 169.5h0.7M138.7 161.8h0.7M146.6 170.0h0.7M144.0 160.3h0.7M139.2 157.6h0.7M151.2 177.3h0.7M128.4 72.0h0.7M115.1 78.9h0.7M107.7 71.0h0.7M126.5 74.2h0.7M111.9 74.8h0.7M114.8 89.6h0.7M135.4 69.6h0.7M128.3 71.2h0.7M120.0 65.6h0.7M113.1 80.7h0.7M119.6 78.8h0.7M120.3 93.1h0.7M109.3 92.8h0.7M124.0 77.3h0.7M124.4 81.4h0.7M119.2 65.8h0.7M113.8 69.2h0.7M113.2 74.4h0.7M117.6 74.6h0.7M117.0 78.7h0.7M118.9 70.2h0.7M119.5 71.4h0.7M107.8 73.2h0.7M131.3 79.0h0.7M106.8 67.2h0.7M119.4 70.4h0.7M111.1 79.7h0.7M122.9 129.1h0.7M117.9 135.3h0.7M118.6 140.0h0.7M120.2 130.6h0.7M117.3 140.1h0.7M123.3 144.8h0.7M104.0 128.5h0.7M127.4 137.8h0.7M110.6 128.4h0.7M112.6 134.9h0.7M114.2 127.9h0.7M124.8 135.7h0.7M117.2 140.4h0.7M129.5 121.8h0.7M131.4 143.5h0.7M117.0 139.3h0.7M128.7 136.6h0.7M111.6 135.5h0.7M109.9 143.5h0.7M118.0 140.3h0.7M121.2 130.8h0.7M110.0 145.0h0.7M126.4 137.2h0.7M123.8 138.1h0.7M103.4 144.3h0.7M128.4 131.5h0.7M129.9 122.1h0.7" stroke="#f62410" stroke-width="0.7" fill="none" opacity="0.9"/>
<path d="M123.9 46.3h0.85M134.2 59.1h0.85M118.7 52.6h0.85M123.4 49.6h0.85M129.4 49.8h0.85M125.5 49.4h0.85M120.4 57.4h0.85M128.8 65.0h0.85M114.2 48.4h0.85M118.7 48.0h0.85M119.0 52.2h0.85M126.4 52.8h0.85M124.1 54.5h0.85M135.1 65.7h0.85M146.6 65.4h0.85M164.3 60.1h0.85M146.2 59.1h0.85M158.9 66.6h0.85M148.6 71.9h0.85M151.5 57.7h0.85M161.6 52.0h0.85M152.4 51.8h0.85M148.9 54.4h0.85M156.6 49.8h0.85M164.7 59.7h0.85M165.3 58.2h0.85M154.4 57.2h0.85M151.0 58.2h0.85M119.7 90.0h0.85M132.2 85.4h0.85M126.0 87.2h0.85M136.1 82.8h0.85M132.4 99.1h0.85M127.8 80.9h0.85M122.9 84.5h0.85M130.4 82.8h0.85M125.5 91.9h0.85M137.6 95.1h0.85M128.4 91.0h0.85M125.1 90.2h0.85M130.7 85.7h0.85M129.6 80.4h0.85M141.3 87.6h0.85M151.0 98.0h0.85M156.2 88.7h0.85M149.7 99.0h0.85M152.4 93.2h0.85M152.1 96.0h0.85M156.7 110.3h0.85M154.8 93.4h0.85M136.1 88.3h0.85M152.8 98.3h0.85M143.0 104.2h0.85M153.8 85.3h0.85M150.4 93.6h0.85M144.7 97.4h0.85M170.5 107.3h0.85M164.8 110.6h0.85M168.8 101.9h0.85M160.0 110.9h0.85M164.0 108.5h0.85M165.5 107.7h0.85M171.0 101.9h0.85M168.0 108.2h0.85M172.2 106.3h0.85M165.8 101.4h0.85M164.9 104.7h0.85M167.2 103.2h0.85M166.7 106.1h0.85M164.7 105.4h0.85M162.6 106.6h0.85M177.0 95.0h0.85M166.0 102.4h0.85M169.4 108.6h0.85M179.2 96.3h0.85M168.0 100.9h0.85M168.7 105.3h0.85M170.9 94.3h0.85M161.2 97.4h0.85M165.0 104.8h0.85M159.4 99.0h0.85M165.2 99.8h0.85M165.9 101.2h0.85M163.2 97.8h0.85M159.7 93.1h0.85M163.8 93.8h0.85M164.3 97.0h0.85M161.5 110.0h0.85M175.1 105.9h0.85M170.2 106.9h0.85M167.3 98.1h0.85M167.8 96.1h0.85M169.0 106.2h0.85M165.8 101.1h0.85M159.1 110.5h0.85M171.8 106.1h0.85M176.2 109.2h0.85M169.0 98.9h0.85M168.8 108.8h0.85M169.1 96.8h0.85M166.4 106.7h0.85M156.0 122.7h0.85M154.2 118.9h0.85M149.0 117.5h0.85M163.7 122.9h0.85M156.1 114.0h0.85M171.1 118.9h0.85M160.3 125.9h0.85M163.7 113.7h0.85M154.4 119.0h0.85M148.9 113.0h0.85M153.1 125.5h0.85M155.3 116.3h0.85M165.6 119.5h0.85M161.7 114.6h0.85M150.1 130.1h0.85M151.4 117.1h0.85M167.6 102.4h0.85M150.9 116.0h0.85M150.7 121.3h0.85M156.0 116.2h0.85M154.7 116.4h0.85M160.6 120.3h0.85M156.8 113.0h0.85M152.9 114.7h0.85M163.0 118.4h0.85M164.1 125.9h0.85M157.7 114.3h0.85M160.6 107.4h0.85M147.4 119.2h0.85M154.8 119.9h0.85M147.4 114.7h0.85M153.3 120.6h0.85M149.5 121.8h0.85M156.4 124.6h0.85M149.2 130.1h0.85M160.3 109.3h0.85M156.7 110.6h0.85M151.0 130.4h0.85M161.4 111.1h0.85M154.6 115.1h0.85M151.5 120.1h0.85M157.3 112.0h0.85M155.5 120.6h0.85M160.1 123.6h0.85M167.3 122.6h0.85M160.3 111.1h0.85M153.4 115.0h0.85M159.7 112.1h0.85M151.4 115.3h0.85M154.9 118.1h0.85M158.3 114.4h0.85M160.3 115.8h0.85M158.5 120.7h0.85M151.0 121.9h0.85M152.2 118.7h0.85M158.0 121.8h0.85M190.5 86.5h0.85M195.2 92.9h0.85M201.8 89.9h0.85M196.2 98.0h0.85M203.7 99.4h0.85M197.0 93.8h0.85M195.6 97.7h0.85M206.8 98.3h0.85M196.2 92.0h0.85M205.3 93.0h0.85M198.1 94.6h0.85M200.5 93.2h0.85M209.4 89.9h0.85M199.2 88.9h0.85M222.8 97.7h0.85M219.3 93.8h0.85M219.6 101.4h0.85M228.5 89.0h0.85M227.2 92.9h0.85M224.8 82.6h0.85M226.8 94.8h0.85M222.0 83.9h0.85M220.8 95.5h0.85M225.4 96.7h0.85M218.1 88.8h0.85M230.0 96.1h0.85M220.6 90.4h0.85M229.4 90.8h0.85M196.0 127.8h0.85M200.6 127.2h0.85M183.9 125.2h0.85M186.3 131.4h0.85M198.3 134.0h0.85M202.4 129.9h0.85M186.2 127.3h0.85M194.2 132.9h0.85M200.1 133.9h0.85M197.5 133.1h0.85M189.5 128.0h0.85M196.1 127.7h0.85M200.7 133.3h0.85M194.5 122.4h0.85M173.5 146.9h0.85M171.3 147.8h0.85M183.2 143.4h0.85M184.9 139.0h0.85M175.4 138.1h0.85M177.1 144.7h0.85M173.8 136.8h0.85M176.5 148.4h0.85M186.2 144.7h0.85M182.9 136.0h0.85M179.8 142.0h0.85M183.1 130.3h0.85M179.7 140.9h0.85M164.2 132.4h0.85M210.7 147.5h0.85M205.0 143.6h0.85M212.2 134.0h0.85M220.8 143.0h0.85M210.1 140.2h0.85M203.2 144.1h0.85M214.3 146.6h0.85M209.4 139.2h0.85M218.3 138.1h0.85M209.0 143.4h0.85M215.6 142.4h0.85M218.2 136.7h0.85M211.9 139.5h0.85M209.8 154.0h0.85M209.6 141.6h0.85M211.3 142.4h0.85M207.7 150.4h0.85M208.0 141.7h0.85M216.6 139.5h0.85M214.0 146.1h0.85M209.0 140.6h0.85M219.4 137.5h0.85M213.7 140.0h0.85M212.3 146.9h0.85M212.1 146.1h0.85M195.6 146.5h0.85M221.6 139.2h0.85M169.0 159.6h0.85M170.2 167.8h0.85M169.7 164.5h0.85M166.6 156.0h0.85M160.1 163.9h0.85M162.7 171.4h0.85M168.5 170.8h0.85M165.0 161.5h0.85M168.5 161.9h0.85M159.4 175.7h0.85M164.6 168.4h0.85M172.8 169.3h0.85M168.8 159.5h0.85M166.4 163.4h0.85M113.3 161.2h0.85M124.5 176.1h0.85M119.3 165.7h0.85M116.4 162.5h0.85M121.3 170.0h0.85M119.2 170.3h0.85M124.6 162.8h0.85M117.9 155.5h0.85M126.7 158.1h0.85M120.4 163.5h0.85M126.0 163.5h0.85M125.4 164.6h0.85M124.3 166.2h0.85M115.9 156.3h0.85M153.9 174.6h0.85M146.2 168.1h0.85M142.2 165.7h0.85M158.6 180.8h0.85M150.4 168.0h0.85M138.7 178.1h0.85M159.1 166.0h0.85M155.4 169.8h0.85M146.1 172.2h0.85M144.0 173.7h0.85M139.0 172.8h0.85M141.7 172.9h0.85M149.9 177.5h0.85M150.3 174.1h0.85M117.1 82.9h0.85M117.2 71.2h0.85M108.3 79.1h0.85M124.9 81.5h0.85M116.7 79.9h0.85M124.1 79.2h0.85M128.4 78.7h0.85M118.1 81.3h0.85M126.6 76.5h0.85M121.0 76.5h0.85M125.2 71.4h0.85M119.5 78.5h0.85M114.1 70.7h0.85M116.5 78.8h0.85M104.3 140.1h0.85M121.6 137.4h0.85M117.0 136.5h0.85M115.6 138.1h0.85M121.5 134.6h0.85M116.7 133.6h0.85M122.4 137.3h0.85M117.3 145.2h0.85M120.8 141.5h0.85M117.6 145.6h0.85M125.3 138.8h0.85M125.4 131.3h0.85M122.8 135.3h0.85M117.6 141.0h0.85" stroke="#e8d820" stroke-width="0.85" fill="none" opacity="0.95"/>
<path d="M134.4 56.4h0.8M133.0 54.7h0.8M127.7 54.5h0.8M123.2 47.7h0.8M122.5 54.9h0.8M133.6 58.8h0.8M158.9 62.4h0.8M156.5 59.5h0.8M147.2 59.4h0.8M147.6 49.8h0.8M163.4 54.4h0.8M157.4 59.6h0.8M133.0 89.2h0.8M131.4 81.2h0.8M120.6 89.1h0.8M141.8 85.0h0.8M126.4 91.1h0.8M127.2 81.4h0.8M164.1 95.9h0.8M148.8 98.5h0.8M147.8 95.3h0.8M143.1 93.4h0.8M153.3 92.1h0.8M155.5 96.3h0.8M161.8 101.8h0.8M168.2 107.1h0.8M168.8 105.9h0.8M161.5 106.6h0.8M164.9 102.0h0.8M165.3 101.7h0.8M162.5 110.1h0.8M163.3 99.8h0.8M169.2 111.5h0.8M163.2 100.9h0.8M161.2 104.4h0.8M166.3 92.8h0.8M163.7 107.9h0.8M175.0 102.5h0.8M166.5 107.3h0.8M168.9 106.0h0.8M164.6 93.5h0.8M162.7 104.3h0.8M169.4 102.4h0.8M155.9 121.4h0.8M158.5 114.4h0.8M159.8 118.6h0.8M157.7 118.3h0.8M150.3 121.5h0.8M158.4 115.8h0.8M153.0 126.1h0.8M156.9 114.0h0.8M157.7 122.3h0.8M155.4 111.3h0.8M157.1 117.8h0.8M162.4 117.2h0.8M152.0 131.1h0.8M153.5 120.5h0.8M156.5 118.2h0.8M144.5 112.6h0.8M147.8 117.1h0.8M155.8 118.5h0.8M164.0 115.6h0.8M156.1 112.1h0.8M150.9 121.3h0.8M155.1 121.8h0.8M155.1 120.0h0.8M146.9 111.5h0.8M207.2 96.1h0.8M201.7 98.3h0.8M207.2 98.7h0.8M189.1 100.0h0.8M196.8 95.0h0.8M202.2 90.2h0.8M223.5 82.5h0.8M218.4 98.2h0.8M225.0 89.5h0.8M218.6 89.8h0.8M223.4 94.3h0.8M223.0 85.4h0.8M195.2 133.2h0.8M194.9 137.0h0.8M193.9 138.3h0.8M200.8 124.5h0.8M199.9 129.8h0.8M197.0 128.3h0.8M183.1 146.4h0.8M183.7 142.8h0.8M177.0 149.7h0.8M177.3 132.2h0.8M172.5 145.3h0.8M179.2 138.7h0.8M211.5 142.3h0.8M220.8 143.1h0.8M215.9 139.9h0.8M215.1 142.2h0.8M225.9 143.8h0.8M212.1 140.5h0.8M206.7 154.8h0.8M217.6 147.7h0.8M209.0 143.6h0.8M216.7 149.1h0.8M202.7 141.8h0.8M174.0 151.0h0.8M160.3 169.0h0.8M174.5 164.7h0.8M162.3 172.0h0.8M163.8 166.9h0.8M167.4 163.5h0.8M120.1 166.5h0.8M120.6 169.5h0.8M111.1 169.9h0.8M122.9 164.7h0.8M120.4 165.5h0.8M117.3 153.3h0.8M147.1 172.1h0.8M146.1 171.3h0.8M146.6 165.2h0.8M151.3 183.6h0.8M146.8 171.3h0.8M141.2 175.3h0.8M121.3 73.7h0.8M112.2 81.1h0.8M117.0 78.0h0.8M116.6 74.4h0.8M129.2 71.0h0.8M118.1 77.2h0.8M119.2 132.6h0.8M113.8 140.2h0.8M124.2 137.4h0.8M122.1 135.4h0.8M119.0 122.3h0.8M123.7 144.1h0.8" stroke="#9adf20" stroke-width="0.8" fill="none" opacity="0.9"/>
<ellipse cx="127.40" cy="57.30" rx="6.60" ry="3.10" fill="#2c12fa" filter="url(#b1)"/>
<ellipse cx="158.80" cy="57.20" rx="7.70" ry="2.80" fill="#2c12fa" filter="url(#b1)"/>
<ellipse cx="128.10" cy="90.50" rx="5.30" ry="7.30" fill="#2c12fa" transform="rotate(10 128.10 90.50)" filter="url(#b1)"/>
<ellipse cx="146.90" cy="92.90" rx="6.40" ry="8.00" fill="#2c12fa" transform="rotate(28 146.90 92.90)" filter="url(#b1)"/>
<ellipse cx="163.40" cy="101.50" rx="7.30" ry="4.40" fill="#2c12fa" transform="rotate(5 163.40 101.50)" filter="url(#b1)"/>
<ellipse cx="157.90" cy="116.10" rx="11.70" ry="6.20" fill="#2c12fa" transform="rotate(15 157.90 116.10)" filter="url(#b1)"/>
<ellipse cx="201.70" cy="98.40" rx="5.80" ry="8.00" fill="#2c12fa" transform="rotate(-5 201.70 98.40)" filter="url(#b1)"/>
<ellipse cx="223.00" cy="93.80" rx="5.10" ry="6.60" fill="#2c12fa" filter="url(#b1)"/>
<ellipse cx="194.40" cy="128.50" rx="5.00" ry="7.30" fill="#2c12fa" transform="rotate(30 194.40 128.50)" filter="url(#b1)"/>
<ellipse cx="176.10" cy="139.10" rx="5.80" ry="8.00" fill="#2c12fa" transform="rotate(-15 176.10 139.10)" filter="url(#b1)"/>
<ellipse cx="215.70" cy="140.90" rx="9.10" ry="7.70" fill="#2c12fa" transform="rotate(-10 215.70 140.90)" filter="url(#b1)"/>
<ellipse cx="167.90" cy="165.30" rx="6.20" ry="5.80" fill="#2c12fa" transform="rotate(15 167.90 165.30)" filter="url(#b1)"/>
<ellipse cx="121.00" cy="165.90" rx="3.40" ry="5.10" fill="#2c12fa" filter="url(#b1)"/>
<ellipse cx="144.20" cy="169.70" rx="5.50" ry="2.40" fill="#2c12fa" filter="url(#b1)"/>
<ellipse cx="119.80" cy="78.00" rx="1.20" ry="3.00" fill="#2c12fa" filter="url(#b1)"/>
<ellipse cx="119.60" cy="135.00" rx="1.30" ry="4.00" fill="#2c12fa" filter="url(#b1)"/>
<path d="M124.1 58.0h0.7M125.8 55.5h0.7M126.3 58.2h0.7M131.3 57.7h0.7M129.7 57.5h0.7M128.2 58.8h0.7M156.1 56.8h0.7M161.7 56.4h0.7M159.6 55.8h0.7M154.2 57.8h0.7M158.6 58.0h0.7M158.0 55.7h0.7M128.5 86.4h0.7M129.2 88.7h0.7M130.3 89.4h0.7M128.1 89.2h0.7M127.8 87.2h0.7M127.3 92.2h0.7M143.2 94.9h0.7M148.6 96.9h0.7M150.2 94.7h0.7M148.8 89.3h0.7M145.1 96.5h0.7M149.0 92.7h0.7M162.4 100.2h0.7M167.5 103.5h0.7M167.7 103.2h0.7M165.6 98.9h0.7M161.0 101.9h0.7M165.2 101.0h0.7M159.8 119.1h0.7M156.8 118.8h0.7M161.0 114.3h0.7M163.8 119.1h0.7M160.8 117.4h0.7M157.9 114.8h0.7M201.1 102.0h0.7M203.1 102.7h0.7M199.4 93.7h0.7M200.0 102.0h0.7M200.4 102.8h0.7M200.5 98.3h0.7M224.4 91.7h0.7M219.9 95.6h0.7M224.9 93.9h0.7M222.9 90.1h0.7M222.5 97.5h0.7M221.0 97.6h0.7M192.2 127.8h0.7M194.3 124.3h0.7M196.0 126.7h0.7M193.0 132.3h0.7M192.6 131.1h0.7M195.6 131.0h0.7M177.2 141.1h0.7M176.6 142.4h0.7M174.4 139.9h0.7M175.8 137.7h0.7M177.1 134.8h0.7M173.1 138.7h0.7M216.8 139.4h0.7M219.7 144.9h0.7M219.0 140.7h0.7M220.2 143.2h0.7M219.0 136.5h0.7M212.7 138.7h0.7M167.8 163.5h0.7M169.0 166.8h0.7M166.6 161.8h0.7M167.6 164.6h0.7M166.6 165.2h0.7M168.8 165.0h0.7M122.4 165.4h0.7M119.0 165.5h0.7M120.5 168.7h0.7M120.6 167.5h0.7M119.3 164.8h0.7M121.5 164.8h0.7M147.4 169.0h0.7M143.7 170.6h0.7M147.2 170.4h0.7M144.9 170.3h0.7M142.4 169.3h0.7M146.3 170.5h0.7M119.2 77.2h0.7M119.6 77.7h0.7M119.9 77.2h0.7M120.0 79.3h0.7M120.4 77.5h0.7M119.9 76.9h0.7M119.3 135.3h0.7M120.1 134.5h0.7M118.9 133.6h0.7M120.0 136.4h0.7M119.7 134.6h0.7M120.0 133.5h0.7" stroke="#a050ff" stroke-width="0.7" fill="none" opacity="0.8"/>
</g>
<clipPath id="cA3"><rect x="237.6" y="55.2" width="115.50000000000003" height="115.3"/></clipPath>
<rect x="237.60" y="55.20" width="115.50" height="115.30" fill="#000" stroke="none" stroke-width="1" />
<g clip-path="url(#cA3)">
<ellipse cx="244.80" cy="57.60" rx="12.90" ry="9.60" fill="#5a0a00" opacity="0.13" filter="url(#b4)"/>
<ellipse cx="315.90" cy="60.90" rx="12.90" ry="11.10" fill="#5a0a00" opacity="0.13" filter="url(#b4)"/>
<ellipse cx="342.40" cy="57.80" rx="11.50" ry="9.60" fill="#5a0a00" opacity="0.13" filter="url(#b4)"/>
<ellipse cx="290.80" cy="70.40" rx="13.30" ry="11.10" fill="#5a0a00" opacity="0.13" filter="url(#b4)"/>
<ellipse cx="265.80" cy="80.70" rx="13.70" ry="11.60" fill="#5a0a00" opacity="0.13" filter="url(#b4)"/>
<ellipse cx="285.30" cy="90.50" rx="14.40" ry="12.00" fill="#5a0a00" opacity="0.13" filter="url(#b4)"/>
<ellipse cx="316.30" cy="95.30" rx="11.50" ry="13.30" fill="#5a0a00" opacity="0.13" filter="url(#b4)"/>
<ellipse cx="352.20" cy="98.40" rx="7.60" ry="9.60" fill="#5a0a00" opacity="0.13" filter="url(#b4)"/>
<ellipse cx="287.70" cy="111.10" rx="11.50" ry="11.10" fill="#5a0a00" opacity="0.13" filter="url(#b4)"/>
<ellipse cx="300.60" cy="110.80" rx="12.60" ry="10.40" fill="#5a0a00" opacity="0.13" filter="url(#b4)"/>
<ellipse cx="257.50" cy="123.00" rx="12.00" ry="14.00" fill="#5a0a00" opacity="0.13" filter="url(#b4)"/>
<ellipse cx="299.50" cy="129.40" rx="12.60" ry="10.70" fill="#5a0a00" opacity="0.13" filter="url(#b4)"/>
<ellipse cx="261.60" cy="149.50" rx="14.00" ry="12.00" fill="#5a0a00" opacity="0.13" filter="url(#b4)"/>
<ellipse cx="318.10" cy="148.50" rx="11.50" ry="11.50" fill="#5a0a00" opacity="0.13" filter="url(#b4)"/>
<ellipse cx="267.60" cy="165.30" rx="12.20" ry="10.00" fill="#5a0a00" opacity="0.13" filter="url(#b4)"/>
<ellipse cx="296.20" cy="165.90" rx="11.10" ry="10.40" fill="#5a0a00" opacity="0.13" filter="url(#b4)"/>
<path d="M350.7 107.8h0.7M320.6 139.9h0.7M262.4 64.2h0.7M307.2 69.3h0.7M281.7 157.8h0.7M338.3 68.9h0.7M247.1 80.9h0.7M333.2 58.1h0.7M263.6 67.6h0.7M252.3 115.6h0.7M258.8 102.4h0.7M322.3 138.6h0.7M285.5 145.8h0.7M303.7 150.5h0.7M266.3 97.8h0.7M304.6 164.3h0.7M309.0 109.9h0.7M266.6 87.6h0.7M262.5 168.9h0.7M340.0 158.3h0.7M298.6 136.9h0.7M271.8 110.7h0.7M254.4 103.6h0.7M266.8 66.7h0.7M343.8 66.3h0.7M331.5 135.9h0.7M248.0 111.1h0.7M352.6 169.0h0.7M302.7 144.2h0.7M319.5 88.8h0.7M301.1 124.0h0.7M283.1 149.6h0.7M288.9 141.6h0.7M245.1 106.5h0.7M242.7 129.8h0.7M338.4 117.9h0.7M302.9 127.0h0.7M264.1 99.7h0.7M304.4 129.7h0.7M281.5 110.2h0.7M275.8 119.1h0.7M315.7 93.0h0.7M316.7 153.1h0.7M299.6 168.2h0.7M273.3 161.2h0.7M258.6 97.1h0.7M331.9 59.0h0.7M308.6 155.7h0.7M346.6 133.9h0.7M277.5 93.5h0.7M310.5 62.9h0.7M240.8 156.9h0.7M310.0 74.0h0.7M287.1 88.5h0.7M338.0 88.2h0.7M321.3 141.0h0.7M274.4 84.3h0.7M297.8 101.3h0.7M306.2 93.0h0.7M329.4 103.7h0.7M253.3 144.5h0.7M341.0 133.7h0.7M300.7 155.7h0.7M345.5 56.3h0.7M293.9 57.4h0.7M276.1 83.1h0.7M290.9 133.3h0.7M337.0 85.3h0.7M239.0 170.4h0.7M327.9 118.7h0.7M250.6 61.2h0.7M345.5 116.2h0.7M336.9 145.6h0.7M324.4 148.0h0.7M266.9 83.6h0.7M287.7 143.7h0.7M329.3 142.5h0.7M304.5 110.2h0.7M260.0 132.1h0.7M313.1 114.5h0.7M321.5 168.1h0.7M346.6 67.6h0.7M270.8 125.9h0.7M317.3 88.0h0.7M345.1 108.3h0.7M326.0 61.2h0.7M269.8 57.8h0.7M329.0 115.4h0.7M347.6 125.2h0.7M275.1 96.3h0.7M280.9 78.0h0.7M250.1 130.1h0.7M273.8 107.5h0.7M319.5 86.8h0.7M288.4 92.5h0.7M275.0 132.0h0.7M249.0 101.3h0.7M250.3 132.4h0.7M272.0 166.5h0.7M293.4 131.5h0.7M298.1 149.7h0.7M318.5 129.1h0.7M241.3 71.6h0.7M324.3 102.7h0.7M350.3 128.5h0.7M332.7 141.1h0.7M348.8 131.0h0.7M345.9 104.3h0.7M268.5 67.9h0.7M266.8 158.3h0.7M313.6 60.2h0.7M240.8 108.3h0.7M300.5 96.8h0.7M239.9 85.4h0.7M338.9 138.8h0.7M332.1 86.3h0.7M314.7 77.9h0.7M272.5 165.5h0.7M262.2 88.9h0.7M262.7 155.3h0.7M317.0 123.3h0.7M335.9 108.7h0.7M343.4 144.8h0.7M272.2 82.4h0.7M299.7 106.6h0.7M328.8 130.4h0.7M323.4 124.7h0.7M268.1 141.0h0.7M351.0 128.7h0.7M319.7 82.1h0.7M251.2 106.9h0.7M306.2 139.0h0.7M292.4 117.9h0.7M247.8 60.7h0.7M251.6 91.9h0.7M265.7 71.7h0.7M276.7 94.0h0.7M332.8 163.0h0.7M352.4 140.2h0.7M238.9 82.6h0.7M353.0 135.4h0.7M336.7 78.2h0.7M265.4 66.5h0.7M298.2 97.4h0.7M292.0 71.1h0.7M240.6 99.7h0.7M344.6 130.4h0.7M303.6 62.5h0.7M287.7 97.8h0.7M310.4 101.6h0.7M330.2 86.9h0.7M321.7 55.7h0.7M254.5 147.1h0.7M336.2 90.2h0.7M260.5 166.0h0.7M306.0 65.5h0.7M351.8 120.5h0.7M272.2 113.5h0.7M280.3 121.8h0.7M285.4 98.5h0.7M322.1 90.4h0.7M333.5 141.3h0.7M346.6 73.0h0.7M337.1 137.4h0.7M258.7 160.3h0.7M295.6 75.7h0.7M261.8 170.4h0.7M330.3 82.1h0.7M340.7 59.6h0.7M318.0 128.2h0.7M338.0 159.9h0.7M322.1 152.5h0.7M291.2 162.8h0.7M287.2 139.1h0.7M324.3 101.8h0.7M332.3 138.0h0.7M256.0 122.9h0.7M293.7 123.9h0.7M241.0 136.0h0.7M283.5 140.2h0.7M265.5 57.6h0.7M291.4 128.9h0.7M327.5 117.6h0.7M339.3 74.1h0.7M251.9 101.7h0.7M313.5 143.5h0.7M245.1 124.2h0.7M278.0 116.1h0.7M249.0 73.8h0.7M311.2 94.5h0.7M350.3 113.6h0.7M278.0 76.8h0.7M298.4 114.1h0.7M267.2 167.0h0.7M296.3 144.3h0.7M316.6 151.2h0.7M249.5 166.2h0.7M306.7 74.2h0.7M306.3 61.8h0.7M286.4 66.5h0.7M243.2 107.1h0.7M334.5 142.7h0.7M345.6 145.0h0.7M308.9 124.6h0.7M348.3 70.1h0.7M297.7 118.0h0.7M239.2 156.1h0.7M316.1 94.4h0.7M329.4 110.2h0.7M321.5 118.5h0.7M336.9 113.4h0.7M248.0 143.2h0.7M264.2 121.2h0.7M345.4 138.6h0.7M245.6 151.9h0.7M349.2 108.8h0.7M267.0 108.6h0.7M299.0 60.5h0.7M335.4 129.3h0.7M283.8 149.1h0.7M257.6 157.8h0.7M336.8 109.9h0.7M250.6 106.9h0.7M249.8 118.4h0.7M254.0 115.2h0.7M284.9 92.5h0.7M304.9 116.8h0.7M339.5 106.7h0.7M304.0 139.1h0.7M256.5 117.2h0.7M258.4 112.3h0.7M296.4 159.7h0.7M348.8 90.4h0.7M336.2 98.1h0.7M266.5 124.0h0.7M272.5 164.3h0.7M341.7 58.9h0.7M351.3 157.6h0.7M253.5 131.3h0.7M302.1 73.5h0.7M319.0 56.4h0.7M277.5 113.7h0.7M330.3 102.1h0.7M270.8 109.3h0.7M299.9 101.3h0.7M248.8 152.0h0.7M261.4 76.7h0.7M262.7 166.4h0.7M246.5 127.0h0.7M303.7 81.4h0.7M328.1 75.8h0.7M250.8 58.3h0.7M314.0 61.3h0.7M308.7 130.9h0.7M249.5 166.8h0.7M253.4 92.9h0.7M330.0 86.0h0.7M327.5 135.5h0.7M325.2 98.5h0.7M269.4 109.4h0.7M309.6 57.9h0.7M248.2 86.6h0.7M243.5 142.2h0.7M349.9 114.6h0.7M276.0 104.3h0.7M338.7 138.6h0.7M302.1 128.6h0.7M343.2 126.6h0.7M262.0 157.7h0.7M242.7 71.3h0.7M260.0 99.3h0.7M304.1 150.5h0.7M267.0 156.2h0.7M352.5 155.9h0.7M331.5 120.6h0.7M289.9 73.3h0.7M281.9 81.1h0.7M279.3 63.3h0.7M348.9 103.5h0.7M248.3 69.8h0.7M289.3 64.2h0.7M315.2 90.6h0.7M311.6 94.4h0.7M282.5 156.9h0.7M290.4 160.4h0.7M315.7 141.4h0.7M322.3 119.9h0.7M273.8 133.7h0.7M241.8 83.7h0.7M330.6 152.6h0.7M240.1 145.4h0.7M289.5 79.7h0.7M343.7 121.6h0.7M266.2 161.0h0.7M245.2 136.6h0.7M321.5 140.3h0.7M292.2 89.8h0.7M263.0 142.8h0.7M295.4 58.3h0.7M317.8 139.2h0.7M328.9 110.1h0.7M316.4 125.1h0.7M329.1 86.2h0.7M262.8 152.1h0.7M267.7 57.5h0.7M316.2 145.6h0.7M337.5 168.6h0.7M246.3 164.1h0.7M270.4 70.8h0.7M270.3 65.7h0.7M238.3 72.3h0.7M302.0 62.5h0.7M325.4 55.5h0.7M263.0 74.4h0.7M251.1 55.2h0.7M296.4 63.1h0.7M251.1 55.3h0.7M333.8 73.6h0.7M285.1 144.5h0.7M254.4 96.9h0.7M333.9 128.2h0.7M253.3 115.2h0.7M334.1 117.4h0.7M269.1 79.6h0.7M342.1 100.4h0.7M260.3 86.9h0.7M306.5 153.9h0.7M313.8 125.3h0.7M278.1 82.3h0.7M315.6 96.5h0.7M272.1 140.8h0.7M343.7 152.9h0.7M251.6 143.1h0.7M299.9 62.9h0.7M331.0 117.9h0.7M293.3 63.0h0.7M301.8 110.6h0.7M333.1 159.9h0.7M252.9 160.0h0.7M283.3 57.1h0.7M324.5 148.7h0.7M329.3 72.9h0.7M322.9 162.4h0.7M347.7 96.9h0.7M334.9 68.0h0.7M340.0 122.8h0.7M314.0 143.2h0.7M267.5 81.5h0.7M245.0 137.4h0.7M241.4 57.7h0.7M313.0 112.6h0.7M352.3 71.0h0.7M299.1 77.5h0.7M330.4 165.2h0.7M349.0 68.5h0.7M322.1 118.5h0.7M249.2 105.7h0.7M321.4 138.2h0.7M290.3 65.0h0.7M281.8 92.2h0.7M278.0 164.9h0.7M308.8 127.9h0.7M237.9 94.7h0.7M326.8 72.9h0.7M239.8 88.6h0.7M253.7 121.6h0.7M275.1 150.0h0.7M327.8 98.6h0.7M343.3 155.7h0.7M346.0 165.9h0.7M340.9 163.6h0.7M290.8 169.3h0.7M268.9 131.3h0.7M239.6 169.9h0.7M316.2 61.0h0.7M348.9 128.5h0.7M283.8 112.3h0.7M348.8 161.0h0.7M252.2 83.1h0.7M257.9 59.0h0.7M254.0 122.8h0.7M312.6 144.2h0.7M333.8 136.0h0.7M345.0 57.7h0.7M349.9 106.2h0.7M325.4 124.1h0.7M326.3 132.2h0.7M255.6 116.9h0.7M243.1 156.1h0.7M323.2 90.1h0.7M275.3 93.1h0.7M251.3 117.4h0.7M318.8 95.0h0.7M287.4 154.9h0.7M318.3 71.9h0.7M263.6 159.3h0.7M311.1 72.4h0.7M291.8 98.1h0.7M307.8 153.9h0.7M329.6 89.9h0.7M265.9 66.6h0.7M268.9 130.4h0.7M314.1 114.8h0.7M323.8 66.8h0.7M257.0 74.5h0.7M319.6 130.4h0.7M280.8 154.7h0.7M269.9 161.7h0.7M341.7 75.5h0.7M315.9 128.4h0.7M266.9 84.9h0.7M251.8 101.1h0.7M326.5 94.8h0.7M328.6 97.4h0.7M316.4 94.0h0.7M307.9 129.7h0.7M294.4 87.7h0.7M247.6 74.3h0.7M305.0 114.7h0.7M244.9 136.1h0.7M247.1 72.0h0.7M339.5 103.5h0.7M285.0 129.6h0.7M294.0 92.4h0.7M348.4 130.5h0.7M295.2 105.5h0.7M304.8 149.7h0.7M282.7 81.7h0.7M249.5 158.7h0.7M351.9 147.9h0.7M306.1 130.5h0.7M312.4 62.1h0.7M273.7 98.4h0.7M260.0 116.3h0.7M344.6 144.1h0.7M277.5 106.6h0.7M341.8 120.4h0.7M271.1 126.8h0.7M256.4 148.1h0.7M282.0 98.2h0.7M330.6 73.4h0.7M293.2 70.0h0.7M280.0 95.4h0.7M350.5 142.2h0.7M261.8 71.4h0.7M256.9 106.2h0.7M313.7 159.9h0.7M294.0 72.8h0.7M246.8 122.7h0.7M318.3 150.6h0.7M254.2 64.9h0.7M249.9 113.0h0.7M329.4 95.1h0.7M265.1 70.6h0.7M294.3 86.7h0.7M312.8 108.8h0.7M311.7 73.0h0.7M302.7 114.6h0.7M315.7 86.6h0.7M255.0 78.0h0.7M311.1 156.6h0.7M300.5 117.4h0.7M296.0 163.1h0.7M275.6 58.3h0.7M278.5 88.8h0.7M261.0 95.9h0.7M318.7 169.2h0.7M237.9 72.4h0.7M264.5 141.5h0.7M271.7 91.0h0.7M301.8 76.0h0.7M296.2 58.1h0.7M269.7 153.8h0.7M296.8 128.4h0.7M269.9 72.9h0.7M333.0 111.5h0.7M275.6 122.7h0.7M327.7 139.2h0.7M265.4 159.6h0.7M284.1 93.6h0.7M250.2 164.8h0.7M301.3 118.7h0.7M344.0 64.0h0.7M270.8 63.4h0.7M293.4 57.8h0.7M344.2 113.9h0.7M332.5 154.3h0.7M343.8 90.1h0.7M311.1 130.4h0.7M345.6 88.1h0.7M313.3 146.4h0.7M300.3 63.2h0.7M330.1 59.7h0.7M286.5 89.0h0.7M288.0 157.6h0.7M348.1 158.2h0.7M334.5 58.5h0.7M305.3 117.9h0.7M314.1 105.0h0.7M328.7 61.2h0.7" stroke="#b01400" stroke-width="0.7" fill="none" opacity="0.6"/>
<path d="M235.5 61.6h0.68M262.3 66.0h0.68M248.5 56.1h0.68M241.6 60.0h0.68M261.2 57.4h0.68M253.7 51.3h0.68M248.5 53.8h0.68M234.6 61.5h0.68M252.0 53.5h0.68M256.8 60.8h0.68M247.6 65.8h0.68M251.2 77.4h0.68M239.5 63.6h0.68M242.2 71.0h0.68M233.5 60.0h0.68M249.5 43.0h0.68M239.8 68.1h0.68M253.3 46.6h0.68M253.5 68.3h0.68M237.2 68.0h0.68M246.0 72.5h0.68M234.8 56.0h0.68M243.1 52.4h0.68M246.5 63.7h0.68M236.2 44.9h0.68M248.6 68.3h0.68M257.6 74.4h0.68M237.4 40.2h0.68M239.6 60.5h0.68M238.7 59.4h0.68M236.3 70.8h0.68M241.0 58.6h0.68M238.7 74.3h0.68M232.8 48.8h0.68M247.3 57.3h0.68M241.4 72.8h0.68M239.7 66.9h0.68M245.6 53.0h0.68M252.3 62.1h0.68M310.0 53.8h0.68M324.4 69.8h0.68M323.7 46.2h0.68M323.2 63.3h0.68M321.5 56.9h0.68M311.7 61.6h0.68M325.7 73.0h0.68M331.0 69.5h0.68M308.9 67.9h0.68M315.8 73.6h0.68M302.3 61.0h0.68M302.2 48.8h0.68M312.3 61.8h0.68M329.3 62.2h0.68M311.6 48.6h0.68M332.0 59.3h0.68M326.6 54.3h0.68M315.7 60.8h0.68M326.0 57.3h0.68M324.4 59.5h0.68M331.8 76.1h0.68M327.6 42.4h0.68M318.3 62.2h0.68M318.2 72.5h0.68M318.5 67.5h0.68M311.2 51.5h0.68M323.4 64.0h0.68M318.0 70.0h0.68M323.1 61.5h0.68M321.1 65.0h0.68M314.6 62.9h0.68M317.6 69.7h0.68M300.1 57.0h0.68M324.6 55.4h0.68M314.6 70.4h0.68M318.2 63.0h0.68M318.8 58.2h0.68M330.0 72.7h0.68M313.9 45.4h0.68M327.8 40.8h0.68M352.1 70.4h0.68M333.7 59.0h0.68M353.5 43.6h0.68M354.7 68.8h0.68M341.0 66.3h0.68M338.0 63.3h0.68M357.9 53.7h0.68M349.7 56.5h0.68M336.1 62.2h0.68M343.7 53.2h0.68M343.6 48.0h0.68M327.3 70.6h0.68M345.3 35.2h0.68M340.3 42.4h0.68M350.8 88.7h0.68M335.2 74.5h0.68M341.3 72.5h0.68M332.5 74.2h0.68M349.7 59.9h0.68M365.5 55.9h0.68M350.6 58.4h0.68M351.0 75.8h0.68M331.9 58.8h0.68M346.7 53.9h0.68M344.0 49.3h0.68M340.5 60.6h0.68M330.3 43.9h0.68M318.0 69.9h0.68M353.5 63.9h0.68M353.9 56.5h0.68M347.2 70.3h0.68M349.9 52.2h0.68M351.9 58.5h0.68M344.3 85.7h0.68M354.3 58.8h0.68M354.0 76.0h0.68M365.6 70.6h0.68M350.5 64.1h0.68M287.6 70.3h0.68M293.7 70.4h0.68M301.6 85.6h0.68M306.6 62.9h0.68M293.6 68.6h0.68M310.1 67.3h0.68M280.7 59.4h0.68M291.6 82.5h0.68M280.7 75.5h0.68M272.8 80.9h0.68M284.9 75.1h0.68M277.3 64.8h0.68M298.6 78.7h0.68M298.3 70.1h0.68M268.7 70.3h0.68M294.9 59.3h0.68M288.0 68.9h0.68M319.8 74.1h0.68M285.2 73.1h0.68M280.0 85.8h0.68M277.8 75.2h0.68M307.3 74.7h0.68M281.0 77.8h0.68M291.2 66.1h0.68M286.6 62.8h0.68M284.6 74.9h0.68M292.4 69.8h0.68M288.4 72.4h0.68M286.2 69.8h0.68M270.1 68.8h0.68M294.9 66.7h0.68M288.3 72.4h0.68M295.8 85.3h0.68M285.8 68.8h0.68M273.5 67.5h0.68M293.7 81.1h0.68M290.2 70.6h0.68M296.4 68.8h0.68M293.3 75.5h0.68M261.4 73.8h0.68M266.4 89.6h0.68M267.3 72.5h0.68M263.8 81.9h0.68M271.6 82.3h0.68M277.8 81.4h0.68M275.4 77.7h0.68M262.8 73.2h0.68M274.6 82.9h0.68M279.6 68.8h0.68M259.7 83.9h0.68M276.9 80.5h0.68M277.9 75.3h0.68M270.6 77.2h0.68M281.2 83.3h0.68M290.6 85.3h0.68M277.4 70.6h0.68M280.6 75.2h0.68M266.0 72.5h0.68M266.6 77.7h0.68M272.0 75.1h0.68M272.8 72.2h0.68M262.4 73.7h0.68M262.4 89.3h0.68M265.8 93.0h0.68M284.6 77.6h0.68M268.4 74.6h0.68M267.4 86.2h0.68M275.3 83.3h0.68M258.0 84.0h0.68M269.0 71.6h0.68M250.7 78.1h0.68M256.8 86.1h0.68M272.1 68.6h0.68M272.9 78.4h0.68M257.3 85.0h0.68M267.1 73.3h0.68M292.4 69.2h0.68M270.4 87.4h0.68M294.9 95.5h0.68M279.1 83.7h0.68M291.8 95.4h0.68M285.8 100.8h0.68M279.0 109.4h0.68M289.3 89.3h0.68M298.6 88.8h0.68M277.6 98.0h0.68M267.4 79.2h0.68M279.6 94.9h0.68M275.5 106.6h0.68M285.2 99.8h0.68M277.6 106.1h0.68M289.6 86.2h0.68M290.7 96.6h0.68M284.8 84.5h0.68M308.6 87.0h0.68M287.2 95.5h0.68M290.7 99.9h0.68M289.4 102.1h0.68M283.0 97.5h0.68M277.9 87.9h0.68M285.5 89.7h0.68M286.3 91.9h0.68M282.1 91.3h0.68M279.4 103.8h0.68M289.4 109.8h0.68M285.5 84.8h0.68M306.3 82.4h0.68M296.2 96.1h0.68M299.2 99.5h0.68M277.6 79.7h0.68M286.4 84.4h0.68M275.5 81.8h0.68M284.3 83.4h0.68M304.8 87.7h0.68M293.3 85.0h0.68M274.0 92.8h0.68M282.8 106.2h0.68M309.1 99.0h0.68M306.3 101.2h0.68M328.7 91.4h0.68M327.2 93.1h0.68M328.8 97.3h0.68M325.1 83.8h0.68M315.4 102.9h0.68M318.9 75.9h0.68M321.5 97.8h0.68M330.3 93.8h0.68M323.5 99.1h0.68M328.1 99.3h0.68M326.8 95.2h0.68M314.0 110.6h0.68M309.7 99.7h0.68M311.8 84.4h0.68M322.3 107.3h0.68M327.1 105.3h0.68M328.4 94.8h0.68M313.6 96.0h0.68M299.0 89.5h0.68M321.9 95.7h0.68M316.6 73.3h0.68M312.8 87.3h0.68M310.0 79.3h0.68M329.5 93.7h0.68M307.7 103.2h0.68M336.7 83.8h0.68M307.3 98.0h0.68M327.4 93.6h0.68M330.5 87.6h0.68M305.8 81.3h0.68M323.3 108.6h0.68M315.0 95.4h0.68M307.1 114.0h0.68M320.9 86.0h0.68M319.8 102.0h0.68M321.1 113.9h0.68M318.1 98.6h0.68M364.1 103.2h0.68M357.5 103.3h0.68M360.8 94.7h0.68M339.2 100.0h0.68M355.8 112.0h0.68M360.9 106.7h0.68M356.7 96.4h0.68M357.5 96.7h0.68M348.3 117.3h0.68M352.8 93.7h0.68M357.3 94.1h0.68M349.6 95.4h0.68M339.1 98.1h0.68M348.3 82.9h0.68M361.3 99.4h0.68M357.1 115.0h0.68M364.0 100.5h0.68M369.3 97.3h0.68M345.4 90.3h0.68M335.9 100.4h0.68M363.7 92.2h0.68M356.9 98.9h0.68M353.2 93.0h0.68M349.8 98.8h0.68M363.8 88.8h0.68M348.8 89.7h0.68M358.6 98.4h0.68M341.4 97.7h0.68M353.5 91.4h0.68M348.6 88.2h0.68M337.2 101.5h0.68M358.2 98.6h0.68M330.1 86.6h0.68M364.4 91.8h0.68M351.9 83.5h0.68M342.5 113.1h0.68M360.6 105.7h0.68M357.0 102.9h0.68M334.5 102.1h0.68M286.3 119.8h0.68M275.1 119.6h0.68M299.9 140.2h0.68M290.2 133.7h0.68M287.3 101.4h0.68M278.4 95.1h0.68M274.4 124.9h0.68M293.1 115.4h0.68M285.8 118.0h0.68M293.9 109.3h0.68M277.6 112.1h0.68M270.5 114.1h0.68M290.5 95.4h0.68M292.0 128.8h0.68M289.9 118.5h0.68M291.2 106.3h0.68M295.1 115.8h0.68M274.0 117.7h0.68M280.6 116.9h0.68M277.1 115.1h0.68M281.5 109.4h0.68M301.8 129.1h0.68M289.3 110.4h0.68M285.0 111.5h0.68M298.1 112.3h0.68M303.7 123.5h0.68M296.5 98.4h0.68M289.3 119.6h0.68M291.1 115.7h0.68M294.1 94.4h0.68M291.8 103.6h0.68M302.4 117.0h0.68M287.6 107.3h0.68M285.4 118.9h0.68M281.3 116.5h0.68M299.0 110.8h0.68M290.7 95.9h0.68M288.7 108.6h0.68M282.3 112.5h0.68M306.1 103.1h0.68M311.0 99.0h0.68M304.8 107.2h0.68M312.7 128.8h0.68M298.8 114.1h0.68M310.9 105.5h0.68M306.9 109.0h0.68M299.6 116.5h0.68M312.3 118.9h0.68M307.3 116.5h0.68M311.0 97.5h0.68M297.9 113.1h0.68M306.9 88.9h0.68M312.7 115.8h0.68M312.4 131.1h0.68M314.7 110.4h0.68M302.4 113.2h0.68M304.8 116.1h0.68M300.4 112.4h0.68M302.0 114.1h0.68M299.1 97.7h0.68M303.3 110.8h0.68M295.5 111.2h0.68M301.8 125.9h0.68M313.2 111.8h0.68M301.4 124.3h0.68M318.4 125.1h0.68M303.1 96.6h0.68M300.7 115.5h0.68M321.6 117.3h0.68M303.0 132.8h0.68M315.9 113.3h0.68M298.1 108.0h0.68M312.0 114.8h0.68M299.9 109.1h0.68M311.1 107.6h0.68M306.5 115.9h0.68M294.7 109.9h0.68M295.2 121.4h0.68M275.6 105.4h0.68M252.9 138.1h0.68M253.7 112.7h0.68M256.3 131.7h0.68M277.3 123.2h0.68M275.8 112.8h0.68M254.8 131.2h0.68M247.5 122.6h0.68M262.8 131.2h0.68M267.9 117.0h0.68M270.7 124.9h0.68M258.6 125.9h0.68M271.2 121.4h0.68M248.7 123.1h0.68M254.6 123.2h0.68M244.2 117.6h0.68M256.5 130.2h0.68M251.2 122.0h0.68M242.9 121.8h0.68M262.5 118.6h0.68M248.3 114.8h0.68M261.7 129.7h0.68M253.5 126.0h0.68M245.8 135.1h0.68M243.0 101.0h0.68M264.3 126.1h0.68M257.3 124.3h0.68M272.4 131.2h0.68M267.9 119.2h0.68M263.7 125.1h0.68M254.1 112.9h0.68M265.5 135.2h0.68M254.5 132.8h0.68M263.3 136.8h0.68M252.6 124.4h0.68M252.4 111.7h0.68M262.8 128.6h0.68M260.6 116.1h0.68M259.1 132.7h0.68M313.0 142.2h0.68M310.1 124.2h0.68M283.6 121.7h0.68M300.7 136.7h0.68M289.9 117.8h0.68M295.0 117.9h0.68M288.3 130.3h0.68M299.9 129.2h0.68M291.6 133.4h0.68M287.2 120.9h0.68M317.4 134.7h0.68M308.5 128.6h0.68M294.5 112.9h0.68M291.5 134.9h0.68M290.9 124.4h0.68M302.7 134.0h0.68M292.4 115.0h0.68M298.2 132.0h0.68M309.9 144.3h0.68M305.1 113.6h0.68M296.5 122.5h0.68M282.3 143.3h0.68M291.1 135.3h0.68M278.0 106.5h0.68M305.6 143.5h0.68M298.7 116.8h0.68M291.5 122.9h0.68M301.8 142.4h0.68M293.4 132.6h0.68M275.2 134.1h0.68M289.8 131.6h0.68M289.2 120.4h0.68M308.1 138.9h0.68M300.6 127.0h0.68M292.1 128.4h0.68M300.1 125.4h0.68M291.6 123.0h0.68M290.1 138.7h0.68M296.8 124.5h0.68M237.9 142.9h0.68M264.5 145.7h0.68M247.4 148.8h0.68M266.4 146.5h0.68M272.4 162.1h0.68M247.1 150.4h0.68M246.1 139.6h0.68M268.0 146.1h0.68M271.6 137.7h0.68M240.8 157.5h0.68M238.7 158.4h0.68M273.6 147.4h0.68M242.8 138.2h0.68M264.4 155.4h0.68M253.1 165.3h0.68M259.8 143.5h0.68M265.2 148.5h0.68M257.9 136.4h0.68M260.1 137.9h0.68M249.0 138.7h0.68M251.4 139.9h0.68M257.6 145.4h0.68M268.4 151.9h0.68M253.4 144.1h0.68M253.7 143.7h0.68M261.5 156.4h0.68M255.7 136.0h0.68M265.6 154.7h0.68M255.6 147.7h0.68M241.2 150.0h0.68M257.2 147.3h0.68M256.2 152.8h0.68M259.1 156.7h0.68M251.9 130.8h0.68M264.7 154.3h0.68M255.9 162.8h0.68M247.4 148.3h0.68M264.7 149.5h0.68M255.3 159.1h0.68M330.7 144.3h0.68M317.1 155.5h0.68M319.3 163.8h0.68M323.5 151.9h0.68M312.2 153.5h0.68M309.1 149.6h0.68M312.6 152.9h0.68M325.5 155.1h0.68M312.9 147.9h0.68M330.6 147.7h0.68M313.2 136.0h0.68M307.5 172.9h0.68M319.1 138.1h0.68M318.5 152.0h0.68M308.9 151.6h0.68M317.8 160.8h0.68M321.7 139.4h0.68M326.5 162.9h0.68M307.7 139.7h0.68M322.2 156.6h0.68M326.5 144.7h0.68M316.9 145.3h0.68M311.4 138.9h0.68M312.9 149.9h0.68M335.9 149.5h0.68M332.3 147.8h0.68M308.4 155.0h0.68M306.1 152.7h0.68M316.4 141.2h0.68M318.4 146.1h0.68M308.8 158.0h0.68M305.7 156.8h0.68M322.6 143.2h0.68M308.6 151.0h0.68M316.3 135.2h0.68M329.4 161.0h0.68M315.1 163.6h0.68M320.5 151.2h0.68M326.0 146.8h0.68M279.6 164.6h0.68M284.0 190.8h0.68M285.4 173.9h0.68M261.6 181.4h0.68M269.3 159.4h0.68M259.6 174.4h0.68M275.3 179.2h0.68M263.7 171.9h0.68M261.6 187.0h0.68M262.8 170.1h0.68M261.1 165.1h0.68M284.3 181.4h0.68M265.8 182.2h0.68M276.0 180.8h0.68M279.5 159.0h0.68M253.3 161.6h0.68M271.6 175.4h0.68M286.7 151.7h0.68M275.5 161.1h0.68M259.0 151.1h0.68M269.1 159.9h0.68M259.6 172.4h0.68M267.8 159.4h0.68M267.2 156.9h0.68M276.5 155.4h0.68M240.0 175.1h0.68M263.2 165.7h0.68M263.5 148.7h0.68M253.3 163.0h0.68M265.4 150.1h0.68M278.8 179.8h0.68M266.0 168.2h0.68M271.4 167.7h0.68M274.3 168.0h0.68M270.5 149.1h0.68M280.4 175.8h0.68M267.0 153.8h0.68M282.3 158.6h0.68M270.5 155.0h0.68M288.2 155.2h0.68M301.2 160.4h0.68M293.7 159.6h0.68M297.2 170.9h0.68M287.0 159.1h0.68M290.0 176.1h0.68M292.1 177.0h0.68M298.3 170.5h0.68M292.2 163.1h0.68M297.7 170.3h0.68M314.0 163.8h0.68M294.5 154.8h0.68M297.8 159.2h0.68M295.8 166.6h0.68M297.1 177.8h0.68M284.0 168.1h0.68M283.8 175.5h0.68M304.4 168.6h0.68M283.6 157.0h0.68M284.8 177.6h0.68M303.9 158.8h0.68M301.0 169.3h0.68M279.5 175.9h0.68M296.6 172.6h0.68M282.0 162.9h0.68M281.1 162.5h0.68M294.5 166.9h0.68M301.9 151.2h0.68M305.5 172.4h0.68M294.3 171.7h0.68M291.1 169.3h0.68M287.7 165.4h0.68M289.0 166.6h0.68M298.5 151.4h0.68M275.9 164.0h0.68M300.7 165.0h0.68M295.1 165.8h0.68M309.0 156.5h0.68M283.1 170.3h0.68" stroke="#d41208" stroke-width="0.68" fill="none" opacity="0.85"/>
<path d="M239.4 65.8h0.7M250.3 60.8h0.7M242.0 48.9h0.7M238.2 53.1h0.7M234.2 69.0h0.7M255.2 69.6h0.7M244.0 48.1h0.7M252.4 58.9h0.7M242.0 66.6h0.7M248.9 67.4h0.7M240.0 60.0h0.7M249.0 55.3h0.7M244.1 49.0h0.7M235.2 70.4h0.7M248.8 57.6h0.7M244.5 68.9h0.7M252.7 49.8h0.7M241.4 49.8h0.7M231.2 58.9h0.7M256.0 64.8h0.7M238.3 57.8h0.7M249.7 60.4h0.7M243.8 50.6h0.7M237.8 58.7h0.7M255.8 60.3h0.7M256.5 58.2h0.7M308.5 59.8h0.7M315.5 50.8h0.7M331.1 57.3h0.7M315.8 73.6h0.7M310.8 58.4h0.7M299.7 48.6h0.7M317.2 51.3h0.7M311.1 57.8h0.7M320.0 52.9h0.7M320.7 52.8h0.7M330.7 56.7h0.7M321.2 64.0h0.7M310.4 62.2h0.7M308.8 56.9h0.7M319.7 51.6h0.7M326.3 66.9h0.7M324.7 59.6h0.7M335.7 60.0h0.7M312.9 54.3h0.7M314.1 59.5h0.7M321.2 60.5h0.7M324.1 61.7h0.7M307.2 61.8h0.7M302.9 66.3h0.7M318.8 63.8h0.7M308.8 54.5h0.7M347.0 58.2h0.7M346.3 65.3h0.7M351.0 55.4h0.7M343.3 54.7h0.7M344.9 47.9h0.7M339.5 69.2h0.7M350.7 54.8h0.7M342.9 57.8h0.7M336.4 50.1h0.7M345.0 76.0h0.7M344.5 61.4h0.7M345.3 62.3h0.7M347.3 52.1h0.7M332.8 52.3h0.7M351.5 62.3h0.7M342.5 68.3h0.7M343.1 62.0h0.7M346.7 64.0h0.7M345.9 57.2h0.7M335.8 61.0h0.7M341.2 60.1h0.7M336.1 75.4h0.7M336.8 65.2h0.7M337.4 59.2h0.7M352.4 65.0h0.7M358.0 55.5h0.7M289.5 60.5h0.7M293.1 72.8h0.7M287.0 70.1h0.7M291.2 69.0h0.7M295.1 75.7h0.7M278.6 63.5h0.7M298.0 64.3h0.7M286.0 77.2h0.7M300.8 76.0h0.7M284.4 71.5h0.7M281.6 61.8h0.7M301.0 76.3h0.7M279.7 64.4h0.7M293.1 78.7h0.7M295.2 64.0h0.7M273.3 69.4h0.7M291.2 67.9h0.7M310.9 69.8h0.7M279.5 67.5h0.7M298.9 79.4h0.7M299.8 61.1h0.7M297.0 75.6h0.7M303.2 68.1h0.7M284.9 66.2h0.7M285.6 68.5h0.7M294.0 64.7h0.7M267.6 75.1h0.7M268.4 67.1h0.7M262.7 82.6h0.7M269.0 73.2h0.7M261.1 64.1h0.7M271.9 77.5h0.7M271.3 79.8h0.7M274.6 65.4h0.7M271.4 83.9h0.7M272.8 74.0h0.7M262.7 82.9h0.7M271.1 79.3h0.7M275.3 73.9h0.7M273.3 85.6h0.7M267.1 66.7h0.7M272.7 83.2h0.7M257.6 72.5h0.7M258.2 74.1h0.7M269.3 79.0h0.7M270.9 79.1h0.7M261.1 78.4h0.7M258.7 86.0h0.7M260.5 80.1h0.7M274.4 73.4h0.7M284.3 76.1h0.7M258.9 72.4h0.7M303.6 89.4h0.7M285.8 91.8h0.7M286.5 104.3h0.7M276.1 82.5h0.7M282.2 90.0h0.7M270.1 94.5h0.7M302.4 87.7h0.7M292.3 95.2h0.7M275.7 72.9h0.7M289.5 106.5h0.7M273.4 93.4h0.7M274.3 102.6h0.7M289.0 96.2h0.7M277.8 99.5h0.7M288.2 86.5h0.7M280.0 81.7h0.7M274.4 82.3h0.7M286.8 89.0h0.7M296.7 81.0h0.7M287.3 95.6h0.7M288.4 89.6h0.7M289.9 88.4h0.7M276.2 83.5h0.7M292.2 99.9h0.7M276.7 92.2h0.7M287.7 73.5h0.7M317.1 109.2h0.7M322.2 102.9h0.7M320.9 99.7h0.7M322.7 79.8h0.7M312.1 109.7h0.7M315.2 109.4h0.7M332.3 89.4h0.7M322.2 101.6h0.7M312.4 107.2h0.7M321.3 90.8h0.7M318.3 94.1h0.7M328.3 94.4h0.7M310.6 102.8h0.7M317.5 116.5h0.7M305.0 85.9h0.7M320.1 98.9h0.7M310.6 89.0h0.7M321.6 101.5h0.7M317.6 101.7h0.7M322.8 102.0h0.7M317.1 102.4h0.7M320.9 106.7h0.7M310.5 95.9h0.7M324.0 86.7h0.7M321.3 84.2h0.7M311.9 90.9h0.7M351.3 99.7h0.7M355.2 102.2h0.7M350.8 103.3h0.7M373.9 83.8h0.7M357.4 105.5h0.7M348.9 90.2h0.7M346.3 99.7h0.7M350.4 85.2h0.7M343.3 93.8h0.7M347.0 94.6h0.7M353.2 107.7h0.7M346.3 115.2h0.7M359.3 104.2h0.7M354.5 113.7h0.7M343.3 96.6h0.7M349.6 113.2h0.7M355.8 88.6h0.7M347.9 96.4h0.7M352.0 106.0h0.7M357.4 101.0h0.7M357.1 104.1h0.7M350.0 91.3h0.7M356.3 105.2h0.7M356.0 99.4h0.7M344.8 87.8h0.7M336.4 93.9h0.7M285.6 108.4h0.7M294.6 110.1h0.7M303.1 109.6h0.7M285.9 110.3h0.7M297.9 108.1h0.7M279.9 121.9h0.7M284.1 118.8h0.7M292.9 99.6h0.7M295.9 106.2h0.7M299.4 106.2h0.7M282.1 108.0h0.7M285.7 113.9h0.7M290.8 115.2h0.7M284.6 102.4h0.7M277.4 131.7h0.7M283.8 109.3h0.7M286.6 117.8h0.7M289.9 124.4h0.7M289.2 112.5h0.7M287.5 113.1h0.7M289.5 118.8h0.7M294.0 106.6h0.7M274.9 109.3h0.7M277.0 130.1h0.7M299.8 108.7h0.7M281.5 123.2h0.7M306.9 103.8h0.7M295.5 113.8h0.7M303.7 111.6h0.7M301.0 122.0h0.7M305.9 109.5h0.7M280.5 115.7h0.7M305.5 107.2h0.7M290.8 129.8h0.7M306.3 98.7h0.7M294.3 98.1h0.7M298.8 105.9h0.7M297.0 102.6h0.7M301.8 109.0h0.7M303.4 123.0h0.7M311.6 105.2h0.7M312.9 118.3h0.7M284.9 109.0h0.7M296.0 106.7h0.7M302.1 114.0h0.7M299.0 112.2h0.7M306.7 111.6h0.7M303.6 115.3h0.7M298.0 109.9h0.7M299.9 112.5h0.7M312.8 103.0h0.7M298.5 115.9h0.7M256.4 119.3h0.7M263.1 125.0h0.7M251.6 122.3h0.7M253.8 152.6h0.7M258.6 128.2h0.7M272.6 115.2h0.7M251.6 132.2h0.7M249.5 129.8h0.7M255.9 131.5h0.7M253.8 136.1h0.7M250.1 118.1h0.7M254.0 130.7h0.7M252.2 121.2h0.7M258.4 120.6h0.7M256.9 123.7h0.7M258.7 130.9h0.7M253.4 126.8h0.7M257.1 138.2h0.7M267.5 123.0h0.7M264.6 119.7h0.7M258.7 121.3h0.7M257.3 110.1h0.7M256.0 130.4h0.7M255.9 125.5h0.7M246.1 110.8h0.7M266.1 118.6h0.7M293.2 130.3h0.7M295.0 131.6h0.7M300.6 123.1h0.7M293.7 120.4h0.7M296.8 134.3h0.7M293.1 135.5h0.7M299.0 128.6h0.7M299.9 129.7h0.7M293.1 136.6h0.7M309.2 131.1h0.7M296.6 118.2h0.7M291.6 125.4h0.7M304.4 119.9h0.7M306.8 106.4h0.7M300.8 134.2h0.7M297.4 121.7h0.7M302.7 126.9h0.7M302.4 128.0h0.7M297.9 124.6h0.7M306.8 122.6h0.7M307.4 129.8h0.7M306.9 133.8h0.7M302.8 124.8h0.7M290.9 129.5h0.7M319.0 138.0h0.7M294.9 130.8h0.7M259.4 157.7h0.7M260.1 151.5h0.7M259.2 140.5h0.7M261.5 143.9h0.7M256.9 149.8h0.7M262.5 139.2h0.7M260.4 154.0h0.7M255.5 152.3h0.7M251.2 142.4h0.7M257.7 153.3h0.7M253.9 161.4h0.7M262.1 133.4h0.7M258.5 143.3h0.7M254.2 149.2h0.7M252.3 141.1h0.7M253.4 159.2h0.7M265.1 146.0h0.7M265.7 158.8h0.7M258.7 141.2h0.7M250.5 149.2h0.7M246.8 149.4h0.7M271.7 140.8h0.7M257.3 146.5h0.7M257.5 155.0h0.7M256.4 136.9h0.7M269.5 155.5h0.7M314.3 153.5h0.7M331.8 145.1h0.7M315.3 156.1h0.7M318.7 143.6h0.7M315.2 150.2h0.7M323.9 133.7h0.7M331.3 146.0h0.7M326.3 153.5h0.7M319.2 142.3h0.7M320.8 137.1h0.7M320.3 147.7h0.7M306.4 151.0h0.7M313.9 169.2h0.7M313.7 146.3h0.7M323.9 161.5h0.7M305.4 154.0h0.7M315.1 156.2h0.7M314.2 153.7h0.7M320.4 152.0h0.7M322.3 131.9h0.7M331.7 158.4h0.7M313.1 155.8h0.7M326.6 152.3h0.7M324.4 154.6h0.7M324.1 141.1h0.7M316.2 152.3h0.7M261.1 165.3h0.7M274.2 172.4h0.7M253.3 158.1h0.7M257.5 150.0h0.7M268.8 173.3h0.7M272.8 167.8h0.7M279.4 162.6h0.7M262.7 157.1h0.7M268.6 175.1h0.7M259.8 162.5h0.7M289.7 167.7h0.7M280.3 161.3h0.7M278.4 173.5h0.7M270.1 162.3h0.7M281.1 173.1h0.7M269.0 172.1h0.7M263.7 170.3h0.7M276.7 171.8h0.7M262.4 177.0h0.7M257.6 174.5h0.7M255.9 161.5h0.7M278.5 168.6h0.7M269.2 170.7h0.7M274.6 171.0h0.7M270.4 172.2h0.7M272.4 153.7h0.7M288.7 161.5h0.7M289.8 172.9h0.7M303.0 162.0h0.7M291.4 158.3h0.7M305.6 178.6h0.7M297.9 180.2h0.7M286.9 164.9h0.7M289.6 174.3h0.7M304.4 167.0h0.7M305.0 177.6h0.7M282.8 155.8h0.7M296.5 167.2h0.7M291.7 158.7h0.7M287.7 167.4h0.7M307.9 173.6h0.7M293.6 174.2h0.7M285.8 167.6h0.7M279.5 161.9h0.7M288.8 168.4h0.7M299.8 166.3h0.7M305.4 166.2h0.7M287.5 165.4h0.7M292.4 165.9h0.7M290.5 174.4h0.7M298.5 169.4h0.7M295.3 156.5h0.7" stroke="#f62410" stroke-width="0.7" fill="none" opacity="0.9"/>
<path d="M247.2 59.7h0.85M252.1 56.7h0.85M237.3 55.8h0.85M246.1 67.7h0.85M249.1 46.9h0.85M242.3 58.4h0.85M246.9 60.9h0.85M246.9 60.8h0.85M254.7 55.8h0.85M254.6 59.5h0.85M247.0 63.7h0.85M251.8 50.6h0.85M252.7 65.4h0.85M245.4 62.0h0.85M247.9 65.2h0.85M315.9 61.9h0.85M320.1 56.2h0.85M315.3 67.5h0.85M324.5 58.1h0.85M314.9 54.7h0.85M324.7 69.7h0.85M317.0 52.6h0.85M324.4 57.9h0.85M314.6 61.1h0.85M322.0 67.3h0.85M320.5 57.8h0.85M324.4 66.3h0.85M323.6 63.6h0.85M320.0 58.5h0.85M325.6 64.7h0.85M341.3 66.1h0.85M345.3 67.3h0.85M344.9 53.6h0.85M346.8 64.6h0.85M349.4 61.5h0.85M343.8 62.0h0.85M340.9 54.5h0.85M341.3 64.4h0.85M349.8 64.7h0.85M339.2 58.2h0.85M344.2 67.5h0.85M337.0 65.4h0.85M356.2 63.4h0.85M360.7 48.4h0.85M350.3 63.3h0.85M294.7 65.4h0.85M292.3 65.1h0.85M291.7 72.9h0.85M291.1 67.6h0.85M279.1 67.6h0.85M287.5 59.5h0.85M291.8 67.6h0.85M282.3 77.3h0.85M295.7 73.2h0.85M285.3 70.2h0.85M289.9 63.5h0.85M297.4 57.7h0.85M295.4 69.6h0.85M291.2 73.7h0.85M285.8 62.0h0.85M257.2 80.2h0.85M267.5 83.1h0.85M273.0 74.7h0.85M272.1 81.4h0.85M270.3 75.4h0.85M262.1 71.9h0.85M272.6 81.9h0.85M267.1 82.5h0.85M271.4 79.8h0.85M271.0 79.2h0.85M265.8 76.4h0.85M270.8 76.6h0.85M265.8 85.4h0.85M268.4 79.5h0.85M269.4 84.0h0.85M290.2 92.3h0.85M294.0 88.6h0.85M293.6 93.8h0.85M293.2 92.0h0.85M277.8 93.3h0.85M286.3 92.8h0.85M287.4 97.3h0.85M280.3 101.3h0.85M286.6 90.6h0.85M287.5 95.3h0.85M279.4 86.3h0.85M288.9 94.0h0.85M292.4 84.4h0.85M287.0 95.4h0.85M279.8 90.5h0.85M321.7 103.7h0.85M322.1 94.8h0.85M322.1 97.4h0.85M310.5 92.9h0.85M319.1 93.2h0.85M314.6 96.9h0.85M316.1 95.7h0.85M319.8 89.0h0.85M315.0 94.8h0.85M326.5 95.1h0.85M319.6 102.4h0.85M312.5 97.9h0.85M317.8 93.6h0.85M318.9 88.3h0.85M316.5 101.6h0.85M353.2 104.7h0.85M350.2 102.1h0.85M350.2 91.6h0.85M352.8 84.8h0.85M354.2 98.5h0.85M339.9 97.7h0.85M357.0 104.8h0.85M362.4 100.7h0.85M352.6 104.7h0.85M346.1 105.6h0.85M357.7 90.5h0.85M341.0 96.4h0.85M351.7 94.7h0.85M350.9 87.5h0.85M351.7 90.7h0.85M296.7 105.2h0.85M284.4 106.1h0.85M286.4 108.7h0.85M291.7 105.7h0.85M291.1 116.7h0.85M288.9 110.7h0.85M289.0 107.9h0.85M294.1 117.1h0.85M291.7 108.5h0.85M294.2 107.0h0.85M284.8 113.5h0.85M284.2 108.6h0.85M280.3 118.0h0.85M297.0 103.2h0.85M291.2 120.4h0.85M306.6 108.1h0.85M298.1 113.2h0.85M297.8 111.7h0.85M300.9 111.6h0.85M299.7 100.6h0.85M294.9 117.5h0.85M307.3 103.8h0.85M302.8 114.2h0.85M304.7 116.0h0.85M298.1 104.6h0.85M307.5 98.9h0.85M315.9 107.9h0.85M306.1 108.9h0.85M306.6 106.6h0.85M310.2 108.6h0.85M263.7 119.7h0.85M260.0 131.3h0.85M259.1 114.1h0.85M260.6 120.7h0.85M251.9 129.0h0.85M253.3 133.5h0.85M253.3 121.3h0.85M255.6 126.9h0.85M264.4 123.7h0.85M255.4 124.9h0.85M262.4 137.3h0.85M251.6 129.8h0.85M263.8 120.8h0.85M252.4 123.8h0.85M252.7 119.0h0.85M303.1 132.0h0.85M299.8 127.4h0.85M301.3 132.7h0.85M306.6 122.2h0.85M303.5 135.3h0.85M301.9 131.0h0.85M301.3 123.9h0.85M293.9 136.1h0.85M308.4 117.3h0.85M303.1 127.4h0.85M310.3 131.1h0.85M302.6 130.8h0.85M297.1 121.9h0.85M302.7 135.4h0.85M294.2 124.2h0.85M258.0 151.4h0.85M248.5 146.1h0.85M262.6 142.5h0.85M266.4 155.3h0.85M254.8 148.1h0.85M263.3 142.6h0.85M255.5 151.7h0.85M249.8 147.7h0.85M259.4 147.7h0.85M257.7 145.3h0.85M254.6 137.4h0.85M250.4 150.2h0.85M257.8 146.8h0.85M245.7 144.9h0.85M256.4 154.1h0.85M316.6 153.4h0.85M327.3 148.8h0.85M316.9 158.5h0.85M324.3 147.3h0.85M322.3 151.3h0.85M319.9 153.4h0.85M323.0 135.8h0.85M306.1 155.4h0.85M315.1 146.5h0.85M309.0 151.9h0.85M326.0 150.9h0.85M319.7 152.9h0.85M326.6 150.1h0.85M313.3 160.0h0.85M328.6 154.1h0.85M263.7 168.3h0.85M265.7 161.5h0.85M269.8 172.7h0.85M280.2 167.3h0.85M265.8 172.0h0.85M270.4 173.6h0.85M265.3 167.6h0.85M264.3 164.8h0.85M270.1 166.7h0.85M277.3 170.7h0.85M269.6 165.1h0.85M268.6 180.5h0.85M266.7 160.5h0.85M277.3 161.2h0.85M270.7 161.4h0.85M286.9 164.8h0.85M297.1 172.9h0.85M289.9 163.8h0.85M295.9 166.2h0.85M296.5 168.5h0.85M296.0 161.4h0.85M295.0 169.0h0.85M283.9 172.2h0.85M298.3 173.8h0.85M294.5 175.9h0.85M297.6 171.4h0.85M290.6 171.9h0.85M291.3 166.5h0.85M290.0 169.0h0.85M285.5 161.8h0.85" stroke="#e8d820" stroke-width="0.85" fill="none" opacity="0.95"/>
<path d="M255.3 66.7h0.8M249.8 53.6h0.8M250.2 67.6h0.8M238.5 56.0h0.8M255.4 56.2h0.8M250.0 51.2h0.8M319.3 64.3h0.8M321.2 53.9h0.8M332.7 63.5h0.8M317.3 58.7h0.8M321.7 57.9h0.8M308.5 66.4h0.8M341.2 64.7h0.8M336.2 53.1h0.8M335.8 56.1h0.8M347.7 57.1h0.8M349.1 61.5h0.8M341.8 60.2h0.8M295.4 61.5h0.8M296.7 75.8h0.8M298.4 74.9h0.8M294.0 79.2h0.8M285.8 74.9h0.8M286.9 64.9h0.8M274.4 80.3h0.8M273.6 79.9h0.8M268.9 80.6h0.8M265.9 88.1h0.8M260.9 78.3h0.8M259.6 83.7h0.8M286.0 94.1h0.8M288.3 86.4h0.8M281.9 91.9h0.8M287.7 99.8h0.8M286.4 97.0h0.8M291.3 90.8h0.8M320.5 100.4h0.8M327.1 95.5h0.8M321.8 88.8h0.8M313.4 95.4h0.8M312.0 100.7h0.8M321.4 99.2h0.8M351.9 97.6h0.8M350.6 94.3h0.8M359.7 90.0h0.8M347.2 103.4h0.8M351.9 96.9h0.8M353.8 96.8h0.8M287.3 119.5h0.8M295.6 113.1h0.8M290.1 120.5h0.8M284.1 105.1h0.8M286.3 113.0h0.8M284.9 115.6h0.8M295.9 124.9h0.8M315.1 114.3h0.8M310.2 113.2h0.8M301.9 105.3h0.8M301.0 111.2h0.8M302.5 111.1h0.8M260.3 117.5h0.8M262.0 129.6h0.8M261.3 121.6h0.8M256.9 130.7h0.8M262.7 122.3h0.8M251.3 118.7h0.8M292.0 126.0h0.8M309.9 120.6h0.8M294.9 130.1h0.8M298.4 132.3h0.8M295.5 128.6h0.8M308.7 126.7h0.8M257.8 148.0h0.8M259.3 158.0h0.8M261.4 146.6h0.8M261.3 151.4h0.8M267.2 155.1h0.8M256.6 145.6h0.8M320.7 158.9h0.8M303.1 149.5h0.8M325.3 146.9h0.8M311.4 143.9h0.8M320.5 154.1h0.8M319.3 151.9h0.8M261.9 172.9h0.8M263.0 157.7h0.8M280.8 160.0h0.8M274.4 166.4h0.8M279.7 155.0h0.8M262.1 167.6h0.8M296.5 171.5h0.8M284.7 165.6h0.8M297.9 170.5h0.8M295.8 164.5h0.8M295.4 167.9h0.8M284.0 163.3h0.8" stroke="#9adf20" stroke-width="0.8" fill="none" opacity="0.9"/>
<ellipse cx="244.80" cy="57.60" rx="6.90" ry="3.60" fill="#2c12fa" filter="url(#b1)"/>
<ellipse cx="315.90" cy="60.90" rx="6.90" ry="5.10" fill="#2c12fa" transform="rotate(-20 315.90 60.90)" filter="url(#b1)"/>
<ellipse cx="342.40" cy="57.80" rx="5.50" ry="3.60" fill="#2c12fa" filter="url(#b1)"/>
<ellipse cx="290.80" cy="70.40" rx="7.30" ry="5.10" fill="#2c12fa" transform="rotate(15 290.80 70.40)" filter="url(#b1)"/>
<ellipse cx="265.80" cy="80.70" rx="7.70" ry="5.60" fill="#2c12fa" transform="rotate(-30 265.80 80.70)" filter="url(#b1)"/>
<ellipse cx="285.30" cy="90.50" rx="8.40" ry="6.00" fill="#2c12fa" transform="rotate(22 285.30 90.50)" filter="url(#b1)"/>
<ellipse cx="316.30" cy="95.30" rx="5.50" ry="7.30" fill="#2c12fa" transform="rotate(-8 316.30 95.30)" filter="url(#b1)"/>
<ellipse cx="352.20" cy="98.40" rx="1.60" ry="3.60" fill="#2c12fa" filter="url(#b1)"/>
<ellipse cx="287.70" cy="111.10" rx="5.50" ry="5.10" fill="#2c12fa" filter="url(#b1)"/>
<ellipse cx="300.60" cy="110.80" rx="6.60" ry="4.40" fill="#2c12fa" filter="url(#b1)"/>
<ellipse cx="257.50" cy="123.00" rx="6.00" ry="8.00" fill="#2c12fa" transform="rotate(15 257.50 123.00)" filter="url(#b1)"/>
<ellipse cx="299.50" cy="129.40" rx="6.60" ry="4.70" fill="#2c12fa" filter="url(#b1)"/>
<ellipse cx="261.60" cy="149.50" rx="8.00" ry="6.00" fill="#2c12fa" transform="rotate(-10 261.60 149.50)" filter="url(#b1)"/>
<ellipse cx="318.10" cy="148.50" rx="5.50" ry="5.50" fill="#2c12fa" filter="url(#b1)"/>
<ellipse cx="267.60" cy="165.30" rx="6.20" ry="4.00" fill="#2c12fa" filter="url(#b1)"/>
<ellipse cx="296.20" cy="165.90" rx="5.10" ry="4.40" fill="#2c12fa" filter="url(#b1)"/>
<path d="M247.7 55.6h0.7M244.7 59.1h0.7M247.7 59.0h0.7M248.1 59.5h0.7M246.2 56.4h0.7M248.4 56.3h0.7M316.4 60.8h0.7M317.1 57.9h0.7M316.7 58.9h0.7M317.7 59.8h0.7M312.6 58.8h0.7M312.2 61.1h0.7M343.7 56.3h0.7M342.8 58.4h0.7M344.5 57.8h0.7M339.6 56.0h0.7M341.1 56.2h0.7M341.9 56.2h0.7M293.7 68.7h0.7M293.0 70.0h0.7M288.1 71.3h0.7M290.2 72.2h0.7M293.8 71.2h0.7M295.1 69.3h0.7M261.6 81.9h0.7M269.2 80.3h0.7M267.3 78.0h0.7M268.0 83.7h0.7M264.0 84.0h0.7M263.3 81.6h0.7M285.4 91.3h0.7M281.0 91.8h0.7M286.9 88.2h0.7M281.1 93.1h0.7M285.3 92.9h0.7M284.4 93.1h0.7M315.7 97.1h0.7M313.2 95.2h0.7M313.7 96.1h0.7M315.1 94.4h0.7M317.6 98.2h0.7M317.6 97.9h0.7M351.6 98.9h0.7M352.2 96.6h0.7M351.6 99.1h0.7M352.1 97.5h0.7M352.4 97.5h0.7M351.9 98.9h0.7M286.1 111.5h0.7M289.3 109.4h0.7M285.4 109.4h0.7M288.1 112.0h0.7M289.0 109.7h0.7M285.1 110.2h0.7M301.8 111.0h0.7M299.3 113.0h0.7M302.9 113.1h0.7M299.8 109.8h0.7M303.8 108.3h0.7M303.6 111.4h0.7M256.5 122.8h0.7M256.4 121.5h0.7M259.7 119.0h0.7M258.6 118.4h0.7M257.0 118.6h0.7M257.1 119.0h0.7M301.1 129.5h0.7M303.0 126.8h0.7M295.8 132.0h0.7M297.6 130.1h0.7M299.9 130.5h0.7M300.8 130.2h0.7M257.8 149.9h0.7M265.2 151.8h0.7M264.7 146.6h0.7M257.6 146.2h0.7M261.7 151.2h0.7M262.3 152.3h0.7M320.5 147.3h0.7M316.4 145.4h0.7M318.0 150.9h0.7M319.8 145.4h0.7M318.9 150.5h0.7M317.0 146.4h0.7M268.0 166.2h0.7M267.1 164.7h0.7M266.7 164.8h0.7M264.5 165.5h0.7M264.0 165.0h0.7M264.2 164.9h0.7M296.1 164.1h0.7M296.1 165.8h0.7M298.5 164.5h0.7M293.9 166.3h0.7M296.7 166.7h0.7M296.3 163.8h0.7" stroke="#a050ff" stroke-width="0.7" fill="none" opacity="0.8"/>
</g>
<text transform="translate(351.40 140.30) scale(1.04 1)" font-size="9.6" text-anchor="end" fill="#e8231c" >EEA1</text>
<text transform="translate(351.40 154.00) scale(1.04 1)" font-size="9.6" text-anchor="end" fill="#2fa84a" >EVs</text>
<text transform="translate(351.40 167.60) scale(1.04 1)" font-size="9.6" text-anchor="end" fill="#3c84e6" >DAPI</text>
<text transform="translate(59.20 49.30) scale(1.1 1)" font-size="12" text-anchor="middle" fill="#111" >Con</text>
<text transform="translate(179.20 49.30) scale(1.06 1)" font-size="12" text-anchor="middle" fill="#111" >CV EVs</text>
<text transform="translate(296.80 49.30) scale(1.06 1)" font-size="12" text-anchor="middle" fill="#111" >aPC EVs</text>
<clipPath id="cT1"><rect x="166.1" y="241.2" width="118.70000000000002" height="116.30000000000001"/></clipPath>
<rect x="166.10" y="241.20" width="118.70" height="116.30" fill="#f3f2f5" stroke="none" stroke-width="1" />
<g clip-path="url(#cT1)">
<g filter="url(#rough)">
<ellipse cx="181.62" cy="246.28" rx="1.68" ry="1.68" fill="#e43ddc" opacity="0.92"/>
<ellipse cx="200.30" cy="244.97" rx="1.87" ry="1.49" fill="#e43ddc" transform="rotate(-30 200.30 244.97)" opacity="0.92"/>
<ellipse cx="211.51" cy="247.21" rx="1.31" ry="3.74" fill="#e43ddc" transform="rotate(10 211.51 247.21)" opacity="0.92"/>
<ellipse cx="205.35" cy="251.88" rx="1.68" ry="2.06" fill="#e43ddc" transform="rotate(-30 205.35 251.88)" opacity="0.92"/>
<ellipse cx="231.51" cy="253.75" rx="1.49" ry="1.49" fill="#e43ddc" opacity="0.92"/>
<ellipse cx="240.48" cy="248.14" rx="0.60" ry="3.74" fill="#c7a0e6" transform="rotate(35 240.48 248.14)" opacity="0.92"/>
<ellipse cx="210.95" cy="264.03" rx="1.12" ry="3.36" fill="#e43ddc" transform="rotate(10 210.95 264.03)" opacity="0.92"/>
<ellipse cx="219.92" cy="262.72" rx="4.86" ry="1.68" fill="#e43ddc" transform="rotate(-15 219.92 262.72)" opacity="0.92"/>
<ellipse cx="217.68" cy="264.03" rx="1.49" ry="2.06" fill="#e43ddc" opacity="0.92"/>
<ellipse cx="190.96" cy="271.50" rx="1.31" ry="2.62" fill="#e43ddc" transform="rotate(-25 190.96 271.50)" opacity="0.92"/>
<ellipse cx="206.84" cy="273.37" rx="1.49" ry="1.49" fill="#e43ddc" opacity="0.92"/>
<ellipse cx="214.32" cy="271.13" rx="1.12" ry="2.80" fill="#e43ddc" transform="rotate(10 214.32 271.13)" opacity="0.92"/>
<ellipse cx="170.41" cy="281.22" rx="2.43" ry="3.92" fill="#e43ddc" transform="rotate(35 170.41 281.22)" opacity="0.92"/>
<ellipse cx="185.36" cy="281.40" rx="1.49" ry="2.24" fill="#e43ddc" transform="rotate(-40 185.36 281.40)" opacity="0.92"/>
<ellipse cx="209.65" cy="287.94" rx="1.68" ry="2.62" fill="#e43ddc" transform="rotate(-25 209.65 287.94)" opacity="0.92"/>
<ellipse cx="224.59" cy="291.68" rx="1.87" ry="1.31" fill="#e43ddc" opacity="0.92"/>
<ellipse cx="252.25" cy="288.69" rx="3.18" ry="1.87" fill="#e43ddc" opacity="0.92"/>
<ellipse cx="252.25" cy="289.06" rx="1.31" ry="1.12" fill="#5a2fc8" opacity="0.92"/>
<ellipse cx="169.85" cy="296.16" rx="1.31" ry="1.87" fill="#e43ddc" opacity="0.92"/>
<ellipse cx="197.50" cy="298.59" rx="2.06" ry="1.68" fill="#e43ddc" transform="rotate(20 197.50 298.59)" opacity="0.92"/>
<ellipse cx="215.81" cy="299.53" rx="1.87" ry="1.49" fill="#e43ddc" transform="rotate(20 215.81 299.53)" opacity="0.92"/>
<ellipse cx="180.68" cy="302.33" rx="1.49" ry="1.31" fill="#e43ddc" opacity="0.92"/>
<ellipse cx="202.17" cy="307.56" rx="2.06" ry="3.18" fill="#e43ddc" transform="rotate(-30 202.17 307.56)" opacity="0.92"/>
<ellipse cx="208.34" cy="307.94" rx="1.68" ry="2.80" fill="#e43ddc" transform="rotate(35 208.34 307.94)" opacity="0.92"/>
<ellipse cx="174.14" cy="310.74" rx="1.87" ry="7.85" fill="#e43ddc" transform="rotate(20 174.14 310.74)" opacity="0.92"/>
<ellipse cx="239.54" cy="311.11" rx="2.06" ry="1.68" fill="#e43ddc" opacity="0.92"/>
<ellipse cx="249.82" cy="310.74" rx="5.61" ry="2.24" fill="#e43ddc" transform="rotate(-5 249.82 310.74)" opacity="0.92"/>
<ellipse cx="218.05" cy="316.72" rx="3.74" ry="0.93" fill="#e43ddc" transform="rotate(-35 218.05 316.72)" opacity="0.92"/>
<ellipse cx="212.45" cy="325.69" rx="1.12" ry="2.24" fill="#5a2fc8" transform="rotate(-20 212.45 325.69)" opacity="0.92"/>
<ellipse cx="212.45" cy="325.69" rx="1.49" ry="2.43" fill="#e43ddc" transform="rotate(-20 212.45 325.69)" opacity="0.92"/>
<ellipse cx="222.72" cy="326.99" rx="1.12" ry="2.06" fill="#c7a0e6" transform="rotate(15 222.72 326.99)" opacity="0.92"/>
<ellipse cx="183.11" cy="334.09" rx="0.93" ry="0.93" fill="#5a2fc8" opacity="0.92"/>
<ellipse cx="199.93" cy="334.47" rx="1.31" ry="1.31" fill="#5a2fc8" opacity="0.92"/>
<ellipse cx="168.54" cy="347.55" rx="1.31" ry="1.68" fill="#e43ddc" transform="rotate(-20 168.54 347.55)" opacity="0.92"/>
<ellipse cx="224.59" cy="274.30" rx="0.75" ry="0.75" fill="#3a1f9a" opacity="0.92"/>
<ellipse cx="215.62" cy="244.78" rx="0.75" ry="0.75" fill="#5a2fc8" opacity="0.92"/>
<ellipse cx="233.56" cy="284.21" rx="0.60" ry="0.60" fill="#5a2fc8" opacity="0.92"/>
<ellipse cx="247.58" cy="332.79" rx="0.75" ry="0.75" fill="#5a2fc8" opacity="0.92"/>
<ellipse cx="244.21" cy="339.70" rx="0.75" ry="0.60" fill="#5a2fc8" opacity="0.92"/>
<ellipse cx="275.98" cy="337.83" rx="1.49" ry="2.80" fill="#c7a0e6" opacity="0.92"/>
<ellipse cx="278.78" cy="317.28" rx="1.68" ry="1.68" fill="#c7a0e6" opacity="0.92"/>
</g>
<path d="M242.0 314.3h0.9M194.7 335.0h0.9M206.0 283.5h0.9M251.3 282.1h0.9M278.5 294.6h0.9M210.4 243.5h0.9M256.0 266.1h0.9M220.3 319.8h0.9M221.5 351.9h0.9M212.9 282.9h0.9M178.4 244.6h0.9M180.1 307.7h0.9M179.8 299.2h0.9M183.9 333.6h0.9M170.4 331.5h0.9M277.0 351.4h0.9M221.4 335.4h0.9M186.4 352.8h0.9M282.0 324.9h0.9M281.1 313.8h0.9M281.4 286.1h0.9M175.7 265.4h0.9M268.8 339.1h0.9M211.7 324.2h0.9M273.0 281.8h0.9M197.8 355.7h0.9M209.9 348.7h0.9M196.2 353.2h0.9M170.6 282.3h0.9M218.1 247.5h0.9M262.6 350.5h0.9M215.0 322.0h0.9M197.4 276.8h0.9M245.5 300.9h0.9M178.1 356.3h0.9M283.5 312.3h0.9M275.8 280.2h0.9M217.2 315.2h0.9M175.0 246.4h0.9M227.0 263.9h0.9M255.2 314.9h0.9M214.5 297.8h0.9M248.1 256.1h0.9M258.0 338.0h0.9M190.4 256.5h0.9M255.5 317.8h0.9M260.6 357.4h0.9M251.2 348.7h0.9M190.6 287.9h0.9M271.5 324.1h0.9M242.4 287.2h0.9M193.8 341.8h0.9M171.8 345.6h0.9M265.5 350.9h0.9M170.4 303.9h0.9M252.1 288.2h0.9M279.0 319.1h0.9M265.3 246.1h0.9M279.0 261.7h0.9M203.2 285.6h0.9M256.3 252.2h0.9M218.2 340.8h0.9M235.2 278.6h0.9M233.1 259.6h0.9M176.0 293.3h0.9M195.1 306.0h0.9M179.6 261.2h0.9M249.1 333.2h0.9M182.4 337.9h0.9M256.6 322.1h0.9M231.8 254.2h0.9M200.7 244.3h0.9M268.5 340.6h0.9M174.6 342.0h0.9M193.6 353.3h0.9M248.4 283.0h0.9M225.4 315.2h0.9M224.5 306.4h0.9M261.9 249.5h0.9M208.6 350.6h0.9M246.9 294.1h0.9M166.2 333.5h0.9M207.2 299.1h0.9M193.7 262.8h0.9M280.8 274.0h0.9M263.2 252.8h0.9M261.5 326.7h0.9M241.8 294.9h0.9M198.2 252.8h0.9M235.4 348.0h0.9M224.1 320.8h0.9M197.6 303.4h0.9M264.4 349.3h0.9M222.7 322.6h0.9M258.6 314.3h0.9M197.7 243.3h0.9M257.7 255.6h0.9M249.7 282.9h0.9M244.6 279.2h0.9M175.6 309.7h0.9M243.1 325.2h0.9M210.2 343.8h0.9M223.7 245.9h0.9M205.0 260.4h0.9M179.5 265.4h0.9M235.3 246.7h0.9M191.3 260.6h0.9M201.5 277.6h0.9M270.2 335.6h0.9M278.7 247.9h0.9M195.1 290.9h0.9M229.9 260.3h0.9M188.8 346.9h0.9M224.9 260.6h0.9M201.2 275.8h0.9M242.8 269.5h0.9M176.5 261.2h0.9M194.1 334.1h0.9M198.6 352.7h0.9M191.6 258.3h0.9M236.8 259.1h0.9M265.0 330.3h0.9M232.3 252.9h0.9M249.9 328.3h0.9M199.8 280.9h0.9M234.2 329.1h0.9M272.5 256.4h0.9M206.7 253.2h0.9M167.4 251.8h0.9M194.6 258.9h0.9M241.9 337.1h0.9M247.4 246.7h0.9M216.1 273.1h0.9M275.8 258.4h0.9M185.7 288.0h0.9M170.0 353.5h0.9M185.9 317.2h0.9M261.8 294.4h0.9M240.3 324.7h0.9M269.9 295.0h0.9M183.3 284.4h0.9M228.0 272.8h0.9M244.9 298.5h0.9M276.0 276.5h0.9M198.0 282.8h0.9M235.4 299.5h0.9M227.0 288.4h0.9M183.7 260.5h0.9M179.2 323.1h0.9M260.5 326.2h0.9M252.1 329.7h0.9M208.9 255.6h0.9M240.7 345.5h0.9M168.3 254.8h0.9M220.3 351.5h0.9M219.1 283.5h0.9M178.7 317.9h0.9M167.8 295.8h0.9M211.9 281.2h0.9M228.5 338.4h0.9M229.3 285.1h0.9M189.0 288.8h0.9M249.9 308.9h0.9M266.7 255.0h0.9M200.4 246.4h0.9M274.0 242.7h0.9M238.3 287.5h0.9M166.9 295.4h0.9M248.6 314.1h0.9M170.2 289.4h0.9" stroke="#8a5ad8" stroke-width="0.9" fill="none" opacity="0.55"/>
<path d="M223.8 243.8h0.9M167.2 275.6h0.9M196.9 304.8h0.9M170.8 258.2h0.9M236.1 285.2h0.9M252.9 300.5h0.9M209.2 343.5h0.9M241.1 300.1h0.9M222.4 327.9h0.9M257.4 267.9h0.9M202.2 356.6h0.9M243.6 349.2h0.9M229.4 278.5h0.9M275.3 324.6h0.9M242.1 355.9h0.9M265.2 300.0h0.9M193.2 344.0h0.9M278.3 342.2h0.9M215.2 256.8h0.9M200.9 241.3h0.9M277.6 293.1h0.9M250.8 273.4h0.9M259.8 330.5h0.9M210.5 351.0h0.9M177.0 332.9h0.9M251.2 278.1h0.9M235.7 314.6h0.9M233.8 262.4h0.9M276.8 346.6h0.9M189.4 264.2h0.9M178.0 277.3h0.9M281.4 278.5h0.9M168.0 273.7h0.9M190.2 320.0h0.9M199.8 243.5h0.9M195.8 352.5h0.9M229.4 257.6h0.9M226.4 273.7h0.9M183.7 331.7h0.9M252.2 271.8h0.9M210.0 282.6h0.9M178.7 295.4h0.9M232.5 255.5h0.9M179.3 291.7h0.9M231.0 355.7h0.9M195.0 319.3h0.9M236.8 253.3h0.9M251.3 272.4h0.9M276.1 260.6h0.9M269.4 283.5h0.9M205.4 349.7h0.9M231.5 309.3h0.9M246.4 319.2h0.9M245.0 314.5h0.9M203.4 309.1h0.9M246.5 246.7h0.9M183.5 322.1h0.9M209.3 299.2h0.9M210.4 338.5h0.9M242.2 241.6h0.9M284.4 256.3h0.9M239.6 276.6h0.9M263.8 342.0h0.9M215.7 310.7h0.9M169.1 312.4h0.9M179.3 313.9h0.9M234.1 273.9h0.9M249.3 303.4h0.9M278.7 317.9h0.9M204.8 352.8h0.9M199.7 242.6h0.9M187.2 335.5h0.9M278.5 257.8h0.9M204.1 336.0h0.9M244.5 340.6h0.9M256.9 256.3h0.9M168.0 255.3h0.9M229.1 332.6h0.9M211.3 284.4h0.9M191.0 317.3h0.9M207.5 326.8h0.9M278.1 325.4h0.9M225.1 323.9h0.9M172.0 274.0h0.9M195.2 253.2h0.9M225.4 257.2h0.9M240.3 339.3h0.9M174.4 282.7h0.9M238.1 342.0h0.9M219.0 314.6h0.9M208.5 295.4h0.9M254.4 298.4h0.9M173.8 315.8h0.9M195.5 281.2h0.9M217.8 307.8h0.9M203.6 292.1h0.9M229.2 349.4h0.9M233.8 253.0h0.9M239.5 314.2h0.9M198.6 282.7h0.9M200.6 254.2h0.9M193.6 333.0h0.9M215.5 280.8h0.9M172.0 331.7h0.9M280.3 289.5h0.9M232.0 353.0h0.9M261.7 259.4h0.9M209.6 334.8h0.9M202.8 303.6h0.9M196.5 262.6h0.9M207.7 293.8h0.9M265.5 327.8h0.9M258.6 353.4h0.9M280.7 274.9h0.9M258.0 353.2h0.9M264.6 319.5h0.9M251.8 326.0h0.9M265.2 290.8h0.9M169.2 340.7h0.9M182.4 265.9h0.9" stroke="#c070e0" stroke-width="0.9" fill="none" opacity="0.5"/>
<path d="M240.1 242.1h0.9M172.2 295.1h0.9M174.7 244.5h0.9M170.7 264.3h0.9M227.5 342.9h0.9M181.6 326.7h0.9M234.5 258.3h0.9M249.5 274.6h0.9M208.5 298.3h0.9M229.7 313.9h0.9M284.7 263.2h0.9M251.0 284.7h0.9M240.0 305.4h0.9M221.2 356.9h0.9M236.1 301.4h0.9M280.7 312.2h0.9M257.5 289.2h0.9M186.8 292.6h0.9M234.4 317.3h0.9M279.7 316.5h0.9M249.9 338.8h0.9M211.4 320.3h0.9M263.2 330.9h0.9M250.8 302.6h0.9M248.3 277.6h0.9M203.7 324.5h0.9M280.1 321.6h0.9M183.6 304.4h0.9M223.1 326.8h0.9M256.6 280.6h0.9M282.7 306.6h0.9M207.3 356.3h0.9M201.6 337.6h0.9M181.7 355.7h0.9M196.5 335.4h0.9M221.5 275.1h0.9M167.3 296.0h0.9M280.5 347.3h0.9M242.2 266.7h0.9M183.5 288.9h0.9" stroke="#5040c0" stroke-width="0.9" fill="none" opacity="0.6"/>
</g>
<rect x="166.10" y="241.20" width="118.70" height="116.30" fill="none" stroke="#424242" stroke-width="1.2" />
<clipPath id="cT2"><rect x="286.1" y="241.2" width="118.69999999999999" height="116.30000000000001"/></clipPath>
<rect x="286.10" y="241.20" width="118.70" height="116.30" fill="#f3f2f5" stroke="none" stroke-width="1" />
<g clip-path="url(#cT2)">
<g filter="url(#rough)">
<ellipse cx="334.32" cy="249.08" rx="1.31" ry="1.87" fill="#e43ddc" transform="rotate(25 334.32 249.08)" opacity="0.92"/>
<ellipse cx="346.46" cy="256.55" rx="1.87" ry="3.55" fill="#e43ddc" transform="rotate(10 346.46 256.55)" opacity="0.92"/>
<ellipse cx="351.13" cy="274.30" rx="2.06" ry="2.24" fill="#e43ddc" opacity="0.92"/>
<ellipse cx="402.52" cy="273.00" rx="1.31" ry="2.62" fill="#e43ddc" transform="rotate(15 402.52 273.00)" opacity="0.92"/>
<ellipse cx="289.10" cy="276.55" rx="2.06" ry="1.12" fill="#e43ddc" opacity="0.92"/>
<ellipse cx="309.47" cy="275.24" rx="1.31" ry="1.31" fill="#e43ddc" opacity="0.92"/>
<ellipse cx="301.62" cy="284.58" rx="2.24" ry="3.18" fill="#e43ddc" transform="rotate(-30 301.62 284.58)" opacity="0.92"/>
<ellipse cx="299.75" cy="289.81" rx="2.43" ry="2.43" fill="#e43ddc" opacity="0.92"/>
<ellipse cx="302.18" cy="292.99" rx="1.49" ry="1.31" fill="#e43ddc" opacity="0.92"/>
<ellipse cx="320.30" cy="287.94" rx="1.31" ry="1.49" fill="#e43ddc" opacity="0.92"/>
<ellipse cx="321.61" cy="291.12" rx="1.31" ry="1.68" fill="#e43ddc" opacity="0.92"/>
<ellipse cx="364.21" cy="289.25" rx="1.68" ry="3.55" fill="#e43ddc" transform="rotate(-25 364.21 289.25)" opacity="0.92"/>
<ellipse cx="345.15" cy="298.59" rx="2.62" ry="2.24" fill="#e43ddc" transform="rotate(-10 345.15 298.59)" opacity="0.92"/>
<ellipse cx="342.72" cy="302.33" rx="1.31" ry="1.31" fill="#e43ddc" opacity="0.92"/>
<ellipse cx="306.85" cy="308.87" rx="2.24" ry="1.68" fill="#e43ddc" opacity="0.92"/>
<ellipse cx="334.69" cy="322.51" rx="2.99" ry="1.68" fill="#e43ddc" transform="rotate(15 334.69 322.51)" opacity="0.92"/>
<ellipse cx="391.30" cy="322.88" rx="1.68" ry="2.99" fill="#e43ddc" transform="rotate(10 391.30 322.88)" opacity="0.92"/>
<ellipse cx="341.42" cy="330.73" rx="1.87" ry="2.43" fill="#e43ddc" opacity="0.92"/>
<ellipse cx="300.68" cy="334.09" rx="2.06" ry="3.18" fill="#e43ddc" transform="rotate(30 300.68 334.09)" opacity="0.92"/>
<ellipse cx="313.76" cy="333.53" rx="4.30" ry="3.36" fill="#e43ddc" transform="rotate(-15 313.76 333.53)" opacity="0.92"/>
<ellipse cx="385.33" cy="333.53" rx="1.49" ry="1.49" fill="#e43ddc" opacity="0.92"/>
<ellipse cx="379.53" cy="346.24" rx="2.43" ry="1.68" fill="#e43ddc" transform="rotate(10 379.53 346.24)" opacity="0.92"/>
<ellipse cx="376.36" cy="242.73" rx="2.24" ry="0.75" fill="#b232e4" opacity="0.92"/>
<ellipse cx="306.29" cy="286.07" rx="1.12" ry="1.31" fill="#c7a0e6" opacity="0.92"/>
<ellipse cx="322.73" cy="303.26" rx="1.49" ry="1.49" fill="#c7a0e6" opacity="0.92"/>
<ellipse cx="340.30" cy="289.81" rx="1.49" ry="1.12" fill="#c7a0e6" opacity="0.92"/>
<ellipse cx="346.46" cy="332.23" rx="0.93" ry="0.93" fill="#c7a0e6" opacity="0.92"/>
<ellipse cx="401.58" cy="322.32" rx="1.31" ry="1.68" fill="#b9b08a" opacity="0.92"/>
</g>
<path d="M346.1 260.8h0.9M327.9 335.1h0.9M368.9 260.9h0.9M391.3 341.4h0.9M291.0 316.2h0.9M331.1 250.2h0.9M324.0 316.2h0.9M299.0 278.6h0.9M367.8 268.4h0.9M389.9 307.8h0.9M361.0 245.6h0.9M294.3 312.5h0.9M306.7 302.2h0.9M392.5 310.0h0.9M338.8 253.0h0.9M301.0 270.0h0.9M399.4 328.9h0.9M306.2 246.8h0.9M401.5 353.6h0.9M349.2 272.9h0.9M349.6 345.4h0.9M315.9 332.4h0.9M344.9 304.9h0.9M397.4 242.5h0.9M321.7 252.8h0.9M306.5 342.0h0.9M290.0 352.2h0.9M328.4 311.7h0.9M344.5 253.9h0.9M315.5 264.3h0.9M325.4 242.1h0.9M354.5 269.5h0.9M367.1 304.9h0.9M385.9 352.7h0.9M324.0 315.0h0.9M378.9 276.5h0.9M357.0 326.7h0.9M388.3 330.2h0.9M345.3 299.2h0.9M331.3 315.8h0.9M402.5 243.6h0.9M367.3 325.5h0.9M336.5 243.3h0.9M318.0 347.6h0.9M376.3 320.1h0.9M397.6 345.5h0.9M287.7 292.8h0.9M369.1 334.0h0.9M342.4 248.9h0.9M359.4 319.5h0.9M334.8 244.7h0.9M307.9 260.8h0.9M343.1 337.2h0.9M304.6 281.8h0.9M310.8 256.0h0.9M306.1 304.8h0.9M378.3 351.0h0.9M394.8 353.6h0.9M348.9 331.6h0.9M318.9 316.5h0.9M386.6 274.9h0.9M310.1 269.2h0.9M358.9 318.9h0.9M336.6 267.2h0.9M344.7 258.8h0.9M380.9 339.3h0.9M299.0 284.9h0.9M391.7 271.2h0.9M386.6 345.6h0.9M370.3 322.6h0.9M334.2 270.6h0.9M338.1 250.4h0.9M300.5 315.6h0.9M315.9 269.1h0.9M399.2 321.4h0.9M345.0 302.6h0.9M289.1 349.4h0.9M334.9 273.6h0.9M306.9 329.1h0.9M350.0 301.8h0.9M340.6 354.1h0.9M402.8 292.0h0.9M295.4 355.7h0.9M316.7 337.9h0.9M286.5 333.3h0.9M341.7 343.7h0.9M313.3 310.4h0.9M403.0 281.2h0.9M293.9 343.0h0.9M374.8 242.0h0.9M327.7 258.2h0.9M334.9 333.0h0.9M353.1 289.9h0.9M343.7 328.6h0.9M294.6 296.3h0.9M364.6 318.5h0.9M344.6 351.8h0.9M326.5 250.7h0.9M390.7 345.1h0.9M362.0 350.4h0.9M346.3 296.4h0.9M331.6 289.5h0.9M334.6 288.9h0.9M316.5 288.3h0.9M294.8 250.9h0.9M366.0 298.1h0.9M387.7 305.8h0.9M298.8 309.1h0.9M367.9 331.6h0.9M372.7 353.2h0.9M316.2 305.5h0.9M318.7 255.9h0.9M380.7 257.3h0.9M304.4 287.1h0.9M309.5 251.1h0.9M304.6 325.1h0.9M344.1 351.6h0.9M318.1 281.9h0.9M342.5 295.4h0.9M381.0 335.2h0.9M350.8 278.2h0.9M357.7 260.2h0.9M393.3 252.5h0.9M352.9 336.9h0.9M308.0 281.1h0.9M355.9 334.7h0.9M403.3 350.4h0.9M398.1 333.0h0.9M360.8 254.2h0.9M398.8 294.8h0.9M365.1 286.7h0.9M390.8 320.2h0.9M371.4 342.3h0.9M326.0 286.9h0.9M332.9 281.0h0.9M286.1 283.9h0.9M399.3 310.4h0.9M343.2 348.0h0.9M346.5 322.4h0.9M368.6 331.4h0.9M293.2 335.5h0.9M329.9 311.5h0.9M293.0 315.1h0.9M313.4 278.5h0.9M384.4 314.1h0.9M404.6 338.6h0.9M382.1 290.3h0.9M326.1 288.5h0.9M403.8 337.0h0.9M358.0 284.5h0.9M377.5 313.3h0.9M305.6 356.0h0.9M320.3 316.8h0.9M347.2 251.5h0.9M307.1 326.0h0.9M403.3 287.4h0.9M335.5 261.0h0.9M353.3 321.8h0.9M401.6 263.5h0.9M389.9 289.3h0.9M402.2 278.7h0.9M400.6 265.8h0.9M394.2 335.1h0.9M337.9 301.8h0.9M342.0 289.1h0.9M374.1 264.6h0.9M312.1 292.8h0.9M371.9 286.1h0.9M378.6 357.0h0.9M301.2 294.3h0.9M330.9 261.7h0.9M354.4 340.7h0.9M293.6 278.2h0.9M355.4 256.0h0.9M329.9 317.9h0.9M360.0 342.2h0.9M327.2 285.5h0.9M373.0 244.0h0.9M329.6 291.3h0.9M377.6 319.1h0.9M375.2 263.2h0.9M354.2 271.6h0.9M311.8 357.2h0.9M307.7 318.1h0.9M289.1 323.7h0.9M371.0 325.2h0.9M367.1 269.0h0.9M367.9 314.1h0.9M374.1 312.7h0.9M360.5 290.6h0.9M399.9 353.9h0.9M301.8 332.2h0.9M357.9 321.9h0.9M324.5 283.7h0.9M339.2 272.0h0.9M296.0 304.8h0.9M394.1 328.2h0.9M287.4 272.2h0.9M398.0 306.8h0.9M392.1 313.9h0.9" stroke="#8a5ad8" stroke-width="0.9" fill="none" opacity="0.5"/>
<path d="M379.0 329.1h0.9M392.3 296.5h0.9M288.8 326.3h0.9M313.3 273.8h0.9M390.8 270.0h0.9M375.6 278.4h0.9M385.0 266.0h0.9M303.9 316.8h0.9M324.8 314.9h0.9M351.9 356.7h0.9M390.1 272.8h0.9M379.8 271.6h0.9M386.2 279.4h0.9M366.0 344.8h0.9M398.8 308.2h0.9M352.4 331.0h0.9M308.2 342.0h0.9M385.9 318.7h0.9M375.8 334.1h0.9M333.2 242.6h0.9M347.5 290.2h0.9M402.7 292.6h0.9M373.9 295.8h0.9M333.9 339.1h0.9M335.1 297.7h0.9M312.2 314.0h0.9M331.2 280.8h0.9M393.1 275.4h0.9M404.3 349.4h0.9M380.6 288.2h0.9M379.0 305.6h0.9M377.6 337.1h0.9M335.6 336.2h0.9M390.9 277.8h0.9M302.6 284.7h0.9M320.2 247.4h0.9M385.8 330.5h0.9M310.9 323.3h0.9M313.1 277.6h0.9M390.6 296.8h0.9M343.3 332.8h0.9M346.0 307.6h0.9M352.0 312.9h0.9M349.9 250.2h0.9M346.0 245.2h0.9M352.6 335.1h0.9M366.8 342.5h0.9M348.5 260.2h0.9M309.3 289.1h0.9M348.1 341.2h0.9M345.9 320.2h0.9M357.6 334.8h0.9M352.9 344.7h0.9M291.8 351.7h0.9M332.1 248.0h0.9M297.1 246.8h0.9M348.5 321.8h0.9M309.5 277.0h0.9M394.4 305.1h0.9M378.5 335.2h0.9M402.3 264.5h0.9M347.6 351.8h0.9M299.7 292.8h0.9M346.1 340.5h0.9M362.1 293.7h0.9M386.8 294.1h0.9M343.9 253.7h0.9M382.4 309.1h0.9M301.3 260.3h0.9M396.1 254.5h0.9M327.2 357.1h0.9M340.3 282.0h0.9M305.8 312.2h0.9M296.4 332.5h0.9M314.2 340.6h0.9M292.5 257.9h0.9M334.9 329.7h0.9M381.4 304.6h0.9M296.5 323.1h0.9M395.8 266.1h0.9M348.1 349.7h0.9M361.8 247.0h0.9M330.4 259.6h0.9M295.0 335.9h0.9M403.3 270.3h0.9M354.1 290.9h0.9M339.9 292.6h0.9M397.9 325.4h0.9M369.7 292.2h0.9M390.4 322.5h0.9M360.4 308.9h0.9M314.3 242.0h0.9M378.9 277.0h0.9M398.7 289.8h0.9M312.9 273.5h0.9M351.8 301.2h0.9M327.4 347.9h0.9M306.8 340.7h0.9M359.1 269.6h0.9M340.4 335.5h0.9M339.1 283.2h0.9M397.6 351.7h0.9M293.0 275.6h0.9M324.6 333.2h0.9M303.0 267.9h0.9M376.9 345.0h0.9M382.6 313.7h0.9M356.9 245.8h0.9M312.4 357.5h0.9M350.1 257.4h0.9M294.3 345.4h0.9M369.8 321.8h0.9M292.3 318.5h0.9M323.8 318.2h0.9M306.4 288.3h0.9M344.8 346.2h0.9M373.8 355.3h0.9M375.3 263.9h0.9M363.6 302.1h0.9M311.4 263.7h0.9M397.1 316.7h0.9M318.4 275.6h0.9M301.4 287.8h0.9M356.3 257.7h0.9M354.3 356.4h0.9M389.0 277.0h0.9M391.9 244.6h0.9M288.2 286.2h0.9M339.3 256.3h0.9M370.8 310.2h0.9M346.3 353.9h0.9M341.0 271.8h0.9M333.4 303.6h0.9M366.4 290.7h0.9M374.3 242.0h0.9M403.3 262.5h0.9M359.2 270.5h0.9M294.6 346.8h0.9M386.0 345.6h0.9M329.8 303.0h0.9M360.8 316.7h0.9M383.7 309.9h0.9M302.9 341.5h0.9M397.6 306.8h0.9M387.9 304.5h0.9M290.2 334.8h0.9M295.1 255.5h0.9M390.4 354.5h0.9M291.1 352.5h0.9M353.2 349.9h0.9" stroke="#c070e0" stroke-width="0.9" fill="none" opacity="0.5"/>
<path d="M401.6 252.5h0.9M390.4 254.4h0.9M370.2 355.8h0.9M317.8 344.6h0.9M315.7 333.8h0.9M310.5 310.0h0.9M326.4 349.8h0.9M387.3 289.7h0.9M305.2 283.6h0.9M302.0 325.6h0.9M358.0 312.0h0.9M369.9 287.9h0.9M347.2 343.9h0.9M366.0 356.7h0.9M292.4 262.4h0.9M299.7 356.0h0.9M335.1 259.7h0.9M290.3 314.2h0.9M345.3 270.0h0.9M356.2 243.8h0.9M381.5 242.1h0.9M320.2 336.0h0.9M298.0 315.4h0.9M368.3 335.0h0.9M358.5 351.5h0.9M296.3 260.4h0.9M318.7 327.3h0.9M386.1 338.6h0.9M306.2 295.0h0.9M294.2 346.2h0.9M302.0 278.8h0.9M291.3 345.5h0.9M388.7 257.7h0.9M308.0 347.3h0.9M304.0 343.2h0.9M304.0 293.7h0.9M302.4 287.8h0.9M288.8 284.8h0.9M377.4 280.7h0.9M322.0 329.2h0.9" stroke="#5040c0" stroke-width="0.9" fill="none" opacity="0.55"/>
</g>
<rect x="286.10" y="241.20" width="118.70" height="116.30" fill="none" stroke="#424242" stroke-width="1.2" />
<clipPath id="cT3"><rect x="408.2" y="241.2" width="118.09999999999997" height="116.30000000000001"/></clipPath>
<rect x="408.20" y="241.20" width="118.10" height="116.30" fill="#f9f7fb" stroke="none" stroke-width="1" />
<g clip-path="url(#cT3)">
<g filter="url(#rough2)">
<ellipse cx="437.57" cy="243.85" rx="8.59" ry="2.43" fill="#e43ddc" transform="rotate(10 437.57 243.85)" opacity="0.92"/>
<ellipse cx="445.04" cy="247.21" rx="1.87" ry="2.80" fill="#e43ddc" transform="rotate(30 445.04 247.21)" opacity="0.92"/>
<ellipse cx="491.75" cy="247.21" rx="2.43" ry="3.36" fill="#e43ddc" transform="rotate(20 491.75 247.21)" opacity="0.92"/>
<ellipse cx="515.11" cy="254.68" rx="11.21" ry="4.67" fill="#e43ddc" transform="rotate(-25 515.11 254.68)" opacity="0.92"/>
<ellipse cx="507.63" cy="260.29" rx="7.47" ry="2.80" fill="#e43ddc" transform="rotate(-20 507.63 260.29)" opacity="0.92"/>
<ellipse cx="522.58" cy="250.95" rx="3.74" ry="3.74" fill="#e43ddc" opacity="0.92"/>
<ellipse cx="431.03" cy="261.22" rx="10.28" ry="2.24" fill="#e43ddc" transform="rotate(-5 431.03 261.22)" opacity="0.92"/>
<ellipse cx="423.55" cy="271.50" rx="4.86" ry="3.74" fill="#e43ddc" opacity="0.92"/>
<ellipse cx="440.37" cy="259.92" rx="2.24" ry="2.24" fill="#b232e4" opacity="0.92"/>
<ellipse cx="481.48" cy="259.36" rx="3.18" ry="1.31" fill="#e43ddc" transform="rotate(-35 481.48 259.36)" opacity="0.92"/>
<ellipse cx="492.69" cy="269.63" rx="1.68" ry="1.68" fill="#5a2fc8" opacity="0.92"/>
<ellipse cx="480.54" cy="266.83" rx="1.31" ry="1.31" fill="#5a2fc8" opacity="0.92"/>
<ellipse cx="503.90" cy="274.30" rx="4.67" ry="2.80" fill="#e43ddc" opacity="0.92"/>
<ellipse cx="453.45" cy="276.17" rx="5.61" ry="2.06" fill="#e43ddc" transform="rotate(-15 453.45 276.17)" opacity="0.92"/>
<ellipse cx="456.25" cy="275.61" rx="1.87" ry="1.31" fill="#5a2fc8" opacity="0.92"/>
<ellipse cx="462.79" cy="280.84" rx="2.80" ry="2.80" fill="#e43ddc" opacity="0.92"/>
<ellipse cx="467.46" cy="279.35" rx="1.31" ry="1.31" fill="#3a1f9a" opacity="0.92"/>
<ellipse cx="475.87" cy="272.43" rx="2.24" ry="5.23" fill="#e43ddc" transform="rotate(35 475.87 272.43)" opacity="0.92"/>
<ellipse cx="448.78" cy="285.51" rx="5.61" ry="2.80" fill="#e43ddc" transform="rotate(10 448.78 285.51)" opacity="0.92"/>
<ellipse cx="468.40" cy="290.19" rx="4.67" ry="3.74" fill="#e43ddc" transform="rotate(-15 468.40 290.19)" opacity="0.92"/>
<ellipse cx="467.46" cy="291.12" rx="1.87" ry="1.87" fill="#5a2fc8" opacity="0.92"/>
<ellipse cx="490.82" cy="278.97" rx="1.68" ry="7.85" fill="#e43ddc" transform="rotate(5 490.82 278.97)" opacity="0.92"/>
<ellipse cx="500.16" cy="289.25" rx="5.61" ry="3.36" fill="#e43ddc" transform="rotate(-10 500.16 289.25)" opacity="0.92"/>
<ellipse cx="499.23" cy="289.25" rx="3.36" ry="1.87" fill="#5a2fc8" transform="rotate(-10 499.23 289.25)" opacity="0.92"/>
<ellipse cx="515.11" cy="287.38" rx="8.41" ry="3.36" fill="#e43ddc" transform="rotate(10 515.11 287.38)" opacity="0.92"/>
<ellipse cx="414.21" cy="300.46" rx="5.23" ry="6.54" fill="#e43ddc" transform="rotate(10 414.21 300.46)" opacity="0.92"/>
<ellipse cx="414.21" cy="300.46" rx="3.18" ry="3.74" fill="#b232e4" transform="rotate(10 414.21 300.46)" opacity="0.92"/>
<ellipse cx="417.01" cy="299.53" rx="1.49" ry="1.49" fill="#5a2fc8" opacity="0.92"/>
<ellipse cx="427.29" cy="297.66" rx="2.80" ry="9.34" fill="#e43ddc" transform="rotate(10 427.29 297.66)" opacity="0.92"/>
<ellipse cx="457.19" cy="298.59" rx="5.61" ry="1.68" fill="#e43ddc" transform="rotate(-10 457.19 298.59)" opacity="0.92"/>
<ellipse cx="478.67" cy="295.79" rx="1.12" ry="1.12" fill="#5a2fc8" opacity="0.92"/>
<ellipse cx="488.01" cy="297.66" rx="1.31" ry="3.36" fill="#e43ddc" transform="rotate(20 488.01 297.66)" opacity="0.92"/>
<ellipse cx="509.50" cy="305.13" rx="3.74" ry="1.68" fill="#e43ddc" opacity="0.92"/>
<ellipse cx="520.71" cy="306.07" rx="2.24" ry="4.11" fill="#e43ddc" transform="rotate(10 520.71 306.07)" opacity="0.92"/>
<ellipse cx="457.19" cy="310.74" rx="6.54" ry="3.74" fill="#e43ddc" transform="rotate(-20 457.19 310.74)" opacity="0.92"/>
<ellipse cx="459.05" cy="309.80" rx="1.87" ry="1.49" fill="#5a2fc8" opacity="0.92"/>
<ellipse cx="472.13" cy="311.67" rx="7.85" ry="2.62" fill="#e43ddc" transform="rotate(5 472.13 311.67)" opacity="0.92"/>
<ellipse cx="477.74" cy="311.67" rx="1.68" ry="1.12" fill="#5a2fc8" opacity="0.92"/>
<ellipse cx="491.75" cy="311.67" rx="2.80" ry="1.68" fill="#5a2fc8" opacity="0.92"/>
<ellipse cx="428.22" cy="315.41" rx="2.24" ry="4.11" fill="#e43ddc" transform="rotate(10 428.22 315.41)" opacity="0.92"/>
<ellipse cx="468.40" cy="318.21" rx="2.43" ry="7.85" fill="#e43ddc" transform="rotate(-5 468.40 318.21)" opacity="0.92"/>
<ellipse cx="436.63" cy="324.75" rx="5.61" ry="3.36" fill="#e43ddc" transform="rotate(30 436.63 324.75)" opacity="0.92"/>
<ellipse cx="440.37" cy="327.55" rx="1.31" ry="1.31" fill="#5a2fc8" opacity="0.92"/>
<ellipse cx="422.62" cy="321.95" rx="1.31" ry="1.12" fill="#2a2320" opacity="0.92"/>
<ellipse cx="476.80" cy="333.16" rx="4.30" ry="5.61" fill="#e43ddc" transform="rotate(-25 476.80 333.16)" opacity="0.92"/>
<ellipse cx="488.01" cy="335.96" rx="5.61" ry="2.62" fill="#e43ddc" transform="rotate(25 488.01 335.96)" opacity="0.92"/>
<ellipse cx="457.19" cy="337.83" rx="2.62" ry="7.85" fill="#e43ddc" transform="rotate(10 457.19 337.83)" opacity="0.92"/>
<ellipse cx="435.70" cy="335.96" rx="2.80" ry="4.11" fill="#e43ddc" opacity="0.92"/>
<ellipse cx="500.16" cy="333.16" rx="1.68" ry="4.11" fill="#e43ddc" transform="rotate(10 500.16 333.16)" opacity="0.92"/>
<ellipse cx="513.24" cy="327.55" rx="5.61" ry="2.06" fill="#e43ddc" transform="rotate(30 513.24 327.55)" opacity="0.92"/>
<ellipse cx="443.17" cy="349.04" rx="2.24" ry="4.11" fill="#e43ddc" transform="rotate(-10 443.17 349.04)" opacity="0.92"/>
<ellipse cx="481.48" cy="348.11" rx="6.54" ry="2.24" fill="#e43ddc" transform="rotate(-20 481.48 348.11)" opacity="0.92"/>
<ellipse cx="485.21" cy="347.17" rx="1.49" ry="1.31" fill="#5a2fc8" opacity="0.92"/>
<ellipse cx="494.55" cy="348.11" rx="2.62" ry="5.04" fill="#e43ddc" transform="rotate(-15 494.55 348.11)" opacity="0.92"/>
<ellipse cx="463.72" cy="350.91" rx="4.67" ry="2.62" fill="#e43ddc" transform="rotate(30 463.72 350.91)" opacity="0.92"/>
<ellipse cx="410.47" cy="350.91" rx="2.24" ry="2.99" fill="#5a2fc8" transform="rotate(-20 410.47 350.91)" opacity="0.92"/>
<ellipse cx="413.28" cy="353.71" rx="2.80" ry="1.87" fill="#e43ddc" transform="rotate(30 413.28 353.71)" opacity="0.92"/>
<ellipse cx="495.49" cy="317.28" rx="1.49" ry="2.80" fill="#e43ddc" transform="rotate(10 495.49 317.28)" opacity="0.92"/>
<ellipse cx="525.38" cy="293.92" rx="0.75" ry="1.12" fill="#2a2320" opacity="0.92"/>
<ellipse cx="414.21" cy="284.58" rx="1.87" ry="2.80" fill="#c7a0e6" opacity="0.92"/>
<ellipse cx="525.38" cy="264.03" rx="1.31" ry="2.80" fill="#b232e4" opacity="0.92"/>
<ellipse cx="507.63" cy="268.70" rx="1.87" ry="3.74" fill="#e43ddc" transform="rotate(20 507.63 268.70)" opacity="0.92"/>
<ellipse cx="476.02" cy="313.86" rx="7.48" ry="0.86" fill="#ee62e2" transform="rotate(24.297594881372447 476.02 313.86)" opacity="0.92"/>
<ellipse cx="510.75" cy="343.83" rx="4.30" ry="1.14" fill="#ee62e2" transform="rotate(18.738764457114755 510.75 343.83)" opacity="0.92"/>
<ellipse cx="468.76" cy="350.05" rx="6.03" ry="0.99" fill="#ee62e2" transform="rotate(70.96978506197712 468.76 350.05)" opacity="0.92"/>
<ellipse cx="483.09" cy="277.99" rx="4.92" ry="1.02" fill="#ee62e2" transform="rotate(-71.58431322206916 483.09 277.99)" opacity="0.92"/>
<ellipse cx="480.05" cy="325.09" rx="5.51" ry="1.29" fill="#ee62e2" transform="rotate(68.47752728398041 480.05 325.09)" opacity="0.92"/>
<ellipse cx="474.42" cy="319.18" rx="3.95" ry="0.70" fill="#ee62e2" transform="rotate(76.80358754116727 474.42 319.18)" opacity="0.92"/>
<ellipse cx="445.04" cy="268.46" rx="7.89" ry="1.21" fill="#ee62e2" transform="rotate(-60.29074114142489 445.04 268.46)" opacity="0.92"/>
<ellipse cx="449.07" cy="271.64" rx="4.74" ry="0.66" fill="#ee62e2" transform="rotate(3.949381898049211 449.07 271.64)" opacity="0.92"/>
<ellipse cx="447.19" cy="288.06" rx="4.30" ry="0.74" fill="#ee62e2" transform="rotate(-74.7336585943956 447.19 288.06)" opacity="0.92"/>
<ellipse cx="508.79" cy="326.34" rx="6.19" ry="0.75" fill="#ee62e2" transform="rotate(-56.16806138364646 508.79 326.34)" opacity="0.92"/>
<ellipse cx="427.18" cy="279.65" rx="3.65" ry="0.86" fill="#ee62e2" transform="rotate(-47.53683821310972 427.18 279.65)" opacity="0.92"/>
<ellipse cx="435.11" cy="316.19" rx="5.67" ry="1.01" fill="#ee62e2" transform="rotate(-22.710211766207884 435.11 316.19)" opacity="0.92"/>
<ellipse cx="472.62" cy="330.43" rx="4.92" ry="0.71" fill="#ee62e2" transform="rotate(-3.0126245262987936 472.62 330.43)" opacity="0.92"/>
<ellipse cx="455.30" cy="329.93" rx="3.92" ry="1.31" fill="#ee62e2" transform="rotate(-77.62769110569307 455.30 329.93)" opacity="0.92"/>
<ellipse cx="472.97" cy="293.42" rx="4.95" ry="1.32" fill="#ee62e2" transform="rotate(32.336141900114825 472.97 293.42)" opacity="0.92"/>
<ellipse cx="431.90" cy="298.98" rx="6.45" ry="0.68" fill="#ee62e2" transform="rotate(-66.00533737472176 431.90 298.98)" opacity="0.92"/>
<ellipse cx="479.42" cy="324.40" rx="5.70" ry="0.97" fill="#ee62e2" transform="rotate(1.1112647132728029 479.42 324.40)" opacity="0.92"/>
<ellipse cx="442.45" cy="340.33" rx="8.22" ry="1.01" fill="#ee62e2" transform="rotate(-76.7148104202225 442.45 340.33)" opacity="0.92"/>
<ellipse cx="457.25" cy="332.37" rx="5.00" ry="0.73" fill="#ee62e2" transform="rotate(-50.35798082949526 457.25 332.37)" opacity="0.92"/>
<ellipse cx="491.34" cy="312.75" rx="4.81" ry="1.12" fill="#ee62e2" transform="rotate(41.705690293491315 491.34 312.75)" opacity="0.92"/>
<ellipse cx="518.91" cy="335.43" rx="5.55" ry="1.26" fill="#ee62e2" transform="rotate(68.06561547063501 518.91 335.43)" opacity="0.92"/>
<ellipse cx="508.38" cy="326.67" rx="6.32" ry="1.04" fill="#ee62e2" transform="rotate(56.04222744322851 508.38 326.67)" opacity="0.92"/>
<ellipse cx="481.95" cy="323.50" rx="4.51" ry="0.72" fill="#ee62e2" transform="rotate(-36.74321788804606 481.95 323.50)" opacity="0.92"/>
<ellipse cx="477.43" cy="307.44" rx="4.37" ry="0.79" fill="#ee62e2" transform="rotate(72.01590252990218 477.43 307.44)" opacity="0.92"/>
<ellipse cx="421.96" cy="345.74" rx="7.26" ry="1.08" fill="#ee62e2" transform="rotate(79.29214898124573 421.96 345.74)" opacity="0.92"/>
<ellipse cx="487.88" cy="246.08" rx="8.10" ry="0.96" fill="#ee62e2" transform="rotate(66.65759335656924 487.88 246.08)" opacity="0.92"/>
<ellipse cx="502.41" cy="260.31" rx="3.56" ry="0.67" fill="#ee62e2" transform="rotate(44.901814710937415 502.41 260.31)" opacity="0.92"/>
<ellipse cx="499.98" cy="270.05" rx="3.93" ry="0.93" fill="#ee62e2" transform="rotate(47.89426671583293 499.98 270.05)" opacity="0.92"/>
<ellipse cx="494.49" cy="339.31" rx="8.25" ry="1.22" fill="#ee62e2" transform="rotate(53.69665610399221 494.49 339.31)" opacity="0.92"/>
<ellipse cx="415.99" cy="246.04" rx="7.71" ry="1.12" fill="#ee62e2" transform="rotate(-27.709323734292695 415.99 246.04)" opacity="0.92"/>
<ellipse cx="428.10" cy="281.37" rx="5.07" ry="1.02" fill="#ee62e2" transform="rotate(-8.02339640715688 428.10 281.37)" opacity="0.92"/>
<ellipse cx="436.12" cy="254.23" rx="4.39" ry="0.75" fill="#ee62e2" transform="rotate(-63.962191136470054 436.12 254.23)" opacity="0.92"/>
<ellipse cx="459.13" cy="259.44" rx="7.40" ry="1.06" fill="#ee62e2" transform="rotate(-6.385645480381498 459.13 259.44)" opacity="0.92"/>
<ellipse cx="483.48" cy="270.80" rx="3.48" ry="0.71" fill="#ee62e2" transform="rotate(-26.051647441222613 483.48 270.80)" opacity="0.92"/>
<ellipse cx="476.03" cy="264.22" rx="3.95" ry="1.87" fill="#e849dd" transform="rotate(-78.61902297045302 476.03 264.22)" opacity="0.92"/>
<ellipse cx="482.43" cy="273.97" rx="3.86" ry="1.75" fill="#e849dd" transform="rotate(-44.08711819381702 482.43 273.97)" opacity="0.92"/>
<ellipse cx="452.79" cy="257.26" rx="6.46" ry="1.32" fill="#e849dd" transform="rotate(-61.26887104364266 452.79 257.26)" opacity="0.92"/>
<ellipse cx="520.46" cy="293.55" rx="6.38" ry="1.31" fill="#e849dd" transform="rotate(49.595183587055544 520.46 293.55)" opacity="0.92"/>
<ellipse cx="452.73" cy="263.10" rx="5.77" ry="1.51" fill="#e849dd" transform="rotate(46.305084128213565 452.73 263.10)" opacity="0.92"/>
<ellipse cx="477.83" cy="310.84" rx="3.09" ry="1.63" fill="#e849dd" transform="rotate(-49.827753568408625 477.83 310.84)" opacity="0.92"/>
<ellipse cx="464.24" cy="311.35" rx="4.41" ry="1.85" fill="#e849dd" transform="rotate(-34.565810821262644 464.24 311.35)" opacity="0.92"/>
<ellipse cx="502.92" cy="313.16" rx="5.15" ry="1.20" fill="#e849dd" transform="rotate(26.921633132496112 502.92 313.16)" opacity="0.92"/>
<ellipse cx="519.00" cy="305.22" rx="4.46" ry="1.38" fill="#e849dd" transform="rotate(-64.22504023442613 519.00 305.22)" opacity="0.92"/>
<ellipse cx="505.71" cy="257.17" rx="3.62" ry="0.97" fill="#e849dd" transform="rotate(-53.765203730266805 505.71 257.17)" opacity="0.92"/>
<ellipse cx="477.67" cy="280.97" rx="3.46" ry="1.41" fill="#e849dd" transform="rotate(41.29158167426155 477.67 280.97)" opacity="0.92"/>
<ellipse cx="456.77" cy="255.46" rx="4.75" ry="1.95" fill="#e849dd" transform="rotate(66.83073868329063 456.77 255.46)" opacity="0.92"/>
<ellipse cx="491.19" cy="252.19" rx="6.07" ry="2.05" fill="#e849dd" transform="rotate(63.88817973778549 491.19 252.19)" opacity="0.92"/>
<ellipse cx="488.40" cy="273.94" rx="5.00" ry="1.82" fill="#e849dd" transform="rotate(79.0870242613035 488.40 273.94)" opacity="0.92"/>
</g>
<path d="M428.4 282.4h0.95M430.9 277.4h0.95M513.8 243.4h0.95M501.3 322.6h0.95M411.6 245.2h0.95M474.0 345.6h0.95M457.8 325.9h0.95M506.5 356.3h0.95M484.1 284.6h0.95M497.1 310.6h0.95M464.1 338.3h0.95M458.0 316.1h0.95M492.3 343.3h0.95M424.2 337.3h0.95M515.9 249.9h0.95M434.3 302.6h0.95M459.1 344.9h0.95M416.0 243.1h0.95M509.0 322.0h0.95M464.7 275.5h0.95M471.4 345.7h0.95M495.6 297.4h0.95M425.0 280.6h0.95M463.0 326.8h0.95M512.7 326.6h0.95M499.4 341.2h0.95M474.1 261.0h0.95M517.7 297.2h0.95M511.6 312.7h0.95M475.5 299.5h0.95M433.8 331.0h0.95M422.3 308.5h0.95M428.4 260.6h0.95M486.0 355.6h0.95M486.7 290.0h0.95M443.0 334.3h0.95M493.3 323.8h0.95M517.7 271.0h0.95M521.4 287.0h0.95M475.1 245.9h0.95M480.0 342.2h0.95M444.8 249.2h0.95M470.5 330.8h0.95M442.0 271.3h0.95M425.1 304.7h0.95M487.1 288.7h0.95M513.8 302.0h0.95M518.6 319.3h0.95M427.0 334.2h0.95M422.0 340.7h0.95M475.2 256.2h0.95M443.4 282.1h0.95M455.7 269.3h0.95M417.6 274.7h0.95M507.8 296.9h0.95M448.1 263.2h0.95M523.8 243.4h0.95M421.8 241.9h0.95M489.1 255.7h0.95M416.1 349.8h0.95M423.8 287.7h0.95M436.6 351.1h0.95M485.0 272.1h0.95M412.1 257.7h0.95M483.2 280.7h0.95M485.6 295.4h0.95M462.7 294.7h0.95M448.8 283.2h0.95M425.3 275.2h0.95M505.2 262.0h0.95M431.6 315.8h0.95M490.6 249.5h0.95M492.2 302.0h0.95M518.7 243.1h0.95M432.0 338.1h0.95M484.7 343.9h0.95M446.4 354.7h0.95M456.2 343.6h0.95M412.6 303.7h0.95M451.8 300.3h0.95M515.5 248.1h0.95M480.9 315.8h0.95M496.4 343.2h0.95M446.3 265.0h0.95M438.1 317.5h0.95M448.7 272.4h0.95M418.9 259.1h0.95M493.6 310.1h0.95M466.0 297.4h0.95M410.5 357.0h0.95M410.1 262.2h0.95M438.7 299.8h0.95M509.9 254.0h0.95M451.0 294.6h0.95M408.2 329.3h0.95M440.0 350.3h0.95M521.3 345.4h0.95M469.1 264.4h0.95M419.1 251.6h0.95M513.0 328.6h0.95M492.9 268.2h0.95M426.1 352.2h0.95M496.8 324.2h0.95M519.5 287.3h0.95M487.6 295.5h0.95M495.6 302.0h0.95M481.0 350.5h0.95M453.0 268.0h0.95M518.8 326.0h0.95M467.3 265.9h0.95M484.8 247.3h0.95M470.8 255.8h0.95M498.9 263.3h0.95M455.5 304.1h0.95M502.7 331.4h0.95M478.5 256.6h0.95M487.8 320.3h0.95M489.5 241.5h0.95M472.1 265.7h0.95M412.0 357.3h0.95M513.6 287.8h0.95M522.8 309.6h0.95M413.5 354.1h0.95M493.7 348.6h0.95M408.7 276.1h0.95M426.9 294.6h0.95M488.1 262.1h0.95M441.8 256.0h0.95M514.0 320.9h0.95M432.8 317.9h0.95M437.9 264.0h0.95M434.1 341.9h0.95M495.1 349.9h0.95M440.2 257.4h0.95M472.9 337.6h0.95M475.1 300.5h0.95M441.1 343.5h0.95M447.4 254.3h0.95M488.7 267.7h0.95M511.9 338.8h0.95M426.9 258.8h0.95M435.8 331.6h0.95M471.8 307.2h0.95M414.1 261.1h0.95M441.4 352.0h0.95M441.8 334.8h0.95M475.3 321.6h0.95M500.8 302.4h0.95M451.5 284.6h0.95M426.2 337.3h0.95M428.2 335.0h0.95M462.7 353.2h0.95M454.8 246.7h0.95M472.3 316.5h0.95M523.6 252.7h0.95M499.7 338.6h0.95M472.8 339.7h0.95M474.9 356.1h0.95M501.5 344.8h0.95M474.4 254.2h0.95M457.2 345.4h0.95M481.7 290.9h0.95M458.0 286.2h0.95M441.8 274.9h0.95M410.5 292.3h0.95M462.6 278.2h0.95M515.8 244.0h0.95M508.6 345.6h0.95M502.5 281.7h0.95M484.0 320.2h0.95M426.3 291.8h0.95M506.4 345.5h0.95M525.3 303.7h0.95M463.3 252.5h0.95M495.5 256.5h0.95M469.3 316.8h0.95M464.2 276.8h0.95M463.2 286.3h0.95M525.0 244.1h0.95M473.6 346.4h0.95M484.7 298.0h0.95M458.1 280.0h0.95M434.9 323.5h0.95M437.5 350.0h0.95M461.7 275.1h0.95M425.5 273.6h0.95M472.5 331.6h0.95M477.7 267.4h0.95M510.3 277.7h0.95M453.9 349.1h0.95M490.7 309.6h0.95M491.5 247.3h0.95M520.9 317.1h0.95M482.9 289.0h0.95M447.7 260.8h0.95M522.4 262.2h0.95M436.5 319.0h0.95M469.7 300.9h0.95M488.8 267.9h0.95M412.0 276.3h0.95M469.7 294.2h0.95M518.6 296.7h0.95M472.5 248.1h0.95M456.0 300.5h0.95M468.8 342.3h0.95M491.7 332.0h0.95M451.0 262.9h0.95M423.7 322.5h0.95M461.8 294.5h0.95M414.3 246.5h0.95M438.0 317.2h0.95M469.5 264.9h0.95M414.9 326.8h0.95M470.6 332.3h0.95M432.7 349.9h0.95M416.2 258.7h0.95M451.1 249.1h0.95M516.6 348.4h0.95M501.3 312.5h0.95M523.9 319.5h0.95M473.0 341.9h0.95M490.5 327.3h0.95M517.2 245.1h0.95M409.8 316.6h0.95M411.4 294.5h0.95M452.9 331.4h0.95M417.8 321.3h0.95M438.8 349.0h0.95M485.9 324.8h0.95M507.3 343.4h0.95M509.0 289.0h0.95M505.2 281.7h0.95M492.0 283.9h0.95M431.9 250.2h0.95M469.2 349.8h0.95M423.0 265.4h0.95M428.7 353.2h0.95M515.2 262.8h0.95M409.0 242.5h0.95M425.8 267.7h0.95M462.9 317.3h0.95M468.4 333.9h0.95M443.2 283.4h0.95M446.9 334.2h0.95M477.0 343.6h0.95M446.3 278.5h0.95M511.0 254.4h0.95M427.5 330.6h0.95M457.8 290.6h0.95M462.5 243.1h0.95M451.3 295.0h0.95M478.1 317.1h0.95M510.0 268.4h0.95M459.9 305.0h0.95M419.8 336.7h0.95M501.4 349.2h0.95M444.7 307.0h0.95M468.4 275.9h0.95M435.5 243.5h0.95M489.6 270.3h0.95" stroke="#7a4ad8" stroke-width="0.95" fill="none" opacity="0.6"/>
<path d="M479.1 249.8h0.9M420.1 270.0h0.9M411.5 326.4h0.9M451.1 302.0h0.9M466.4 261.1h0.9M475.9 355.3h0.9M480.9 310.0h0.9M484.1 257.2h0.9M481.0 346.0h0.9M443.5 263.4h0.9M417.0 322.6h0.9M457.6 254.3h0.9M412.7 307.5h0.9M521.4 271.5h0.9M420.6 286.7h0.9M521.1 331.7h0.9M479.1 355.5h0.9M465.3 288.8h0.9M436.3 273.8h0.9M503.0 276.2h0.9M497.3 269.8h0.9M428.4 284.7h0.9M487.6 302.7h0.9M484.1 254.8h0.9M511.3 283.9h0.9M514.1 247.2h0.9M420.2 298.6h0.9M508.3 248.5h0.9M411.6 320.9h0.9M415.2 247.8h0.9M482.8 281.8h0.9M520.7 318.0h0.9M481.6 354.7h0.9M486.4 343.4h0.9M505.1 335.3h0.9M474.0 288.3h0.9M424.2 288.7h0.9M459.5 264.6h0.9M463.7 346.3h0.9M464.3 249.5h0.9M473.0 274.1h0.9M484.1 275.4h0.9M501.1 301.8h0.9M525.3 286.3h0.9M446.5 266.1h0.9M439.4 330.8h0.9M507.0 343.5h0.9M487.1 282.6h0.9M419.1 266.6h0.9M458.0 264.4h0.9M471.5 257.3h0.9M434.5 305.4h0.9M498.9 325.3h0.9M442.2 269.7h0.9M418.4 353.9h0.9M485.0 321.5h0.9M501.8 258.1h0.9M518.0 299.4h0.9M501.0 273.2h0.9M475.5 305.3h0.9M505.9 356.4h0.9M519.4 355.6h0.9M501.8 354.0h0.9M471.5 248.0h0.9M498.4 336.9h0.9M499.9 272.3h0.9M454.1 321.8h0.9M516.7 345.3h0.9M505.5 338.4h0.9M505.6 353.1h0.9M448.7 296.8h0.9M459.3 322.9h0.9M476.7 321.6h0.9M484.2 297.1h0.9M491.8 350.5h0.9M416.0 288.5h0.9M410.8 297.8h0.9M505.8 272.4h0.9M424.5 248.3h0.9M420.2 355.8h0.9M415.8 265.5h0.9M511.6 274.9h0.9M421.2 308.9h0.9M513.2 265.2h0.9M494.3 347.3h0.9M460.3 308.0h0.9M466.0 341.8h0.9M522.8 312.7h0.9M499.5 349.2h0.9M512.7 272.4h0.9M460.3 248.3h0.9M460.7 323.5h0.9M413.8 287.4h0.9M474.7 331.4h0.9M470.8 315.8h0.9M471.7 261.3h0.9M447.3 309.9h0.9M486.3 286.3h0.9M496.4 309.8h0.9M439.9 335.7h0.9M498.8 338.4h0.9M471.9 340.3h0.9M416.9 342.9h0.9M486.0 279.2h0.9M509.3 258.5h0.9M408.6 345.5h0.9M497.3 266.9h0.9M441.9 253.3h0.9M434.9 325.9h0.9M439.2 301.6h0.9M416.4 262.9h0.9M486.0 245.6h0.9M427.7 268.0h0.9M428.2 281.6h0.9M486.9 258.2h0.9M488.6 308.3h0.9M409.2 251.5h0.9M485.3 258.3h0.9M481.9 315.8h0.9M473.0 341.2h0.9M519.7 267.1h0.9M422.2 315.1h0.9M432.9 248.6h0.9M446.1 352.3h0.9M452.3 258.4h0.9M488.5 302.3h0.9M443.2 303.5h0.9M501.4 251.4h0.9M410.5 335.0h0.9M431.2 305.2h0.9M514.8 325.6h0.9M471.0 268.9h0.9M524.6 254.1h0.9M461.6 315.2h0.9M512.5 306.4h0.9M460.7 260.6h0.9M492.1 260.3h0.9M488.3 296.7h0.9M487.3 258.7h0.9M414.2 352.1h0.9M479.1 355.4h0.9M458.4 285.2h0.9M505.6 317.2h0.9M447.1 318.0h0.9M442.2 338.5h0.9M495.5 286.7h0.9M479.9 274.6h0.9M439.9 331.4h0.9M493.6 304.9h0.9M469.7 296.5h0.9M467.5 265.6h0.9M475.3 347.4h0.9M468.6 301.2h0.9M421.9 281.3h0.9M482.2 258.4h0.9M414.6 290.0h0.9M433.8 277.5h0.9M497.3 314.0h0.9M505.1 323.7h0.9M424.1 277.5h0.9M507.0 291.3h0.9M438.9 312.0h0.9M461.0 270.4h0.9M458.4 303.3h0.9M457.8 256.8h0.9M498.2 261.8h0.9M469.0 254.0h0.9M452.0 323.6h0.9M450.0 294.9h0.9M499.5 249.4h0.9M504.7 354.7h0.9M514.3 319.0h0.9M504.3 299.5h0.9M439.1 255.0h0.9M500.5 284.6h0.9M434.6 349.6h0.9M506.4 320.6h0.9M495.7 317.5h0.9M424.2 354.5h0.9M488.4 243.5h0.9" stroke="#c060e0" stroke-width="0.9" fill="none" opacity="0.55"/>
<path d="M480.9 251.8h1.0M474.6 266.6h1.0M490.7 272.9h1.0M514.7 241.9h1.0M519.3 356.2h1.0M466.2 288.1h1.0M490.7 281.0h1.0M476.3 324.9h1.0M423.1 261.5h1.0M489.9 271.8h1.0M460.8 310.9h1.0M509.9 338.7h1.0M459.3 335.4h1.0M410.2 303.2h1.0M418.5 313.0h1.0M438.1 275.0h1.0M432.8 307.8h1.0M434.2 250.4h1.0M506.4 293.0h1.0M500.9 266.2h1.0M442.9 345.9h1.0M513.2 267.0h1.0M484.7 291.1h1.0M489.7 254.2h1.0M438.6 263.1h1.0M462.1 264.2h1.0M435.0 275.3h1.0M438.0 338.3h1.0M520.8 329.8h1.0M512.9 328.8h1.0M494.7 244.3h1.0M508.0 255.6h1.0M521.2 310.1h1.0M414.8 287.7h1.0M506.9 321.2h1.0M467.0 271.3h1.0M458.5 269.6h1.0M515.2 279.4h1.0M504.6 355.2h1.0M492.9 334.7h1.0M461.0 350.3h1.0M497.4 311.6h1.0M508.5 263.4h1.0M418.0 270.4h1.0M497.9 292.4h1.0M421.4 308.2h1.0M525.5 269.1h1.0M432.0 247.8h1.0M429.7 276.7h1.0M505.0 285.3h1.0M524.8 256.6h1.0M510.8 290.5h1.0M436.0 348.3h1.0M409.5 261.8h1.0M443.7 255.7h1.0M506.9 284.5h1.0M506.9 350.4h1.0M474.8 247.4h1.0M475.6 256.2h1.0M464.8 346.7h1.0M472.7 328.2h1.0M503.7 342.8h1.0M444.0 275.9h1.0M481.8 327.3h1.0M453.8 243.0h1.0M417.6 273.5h1.0M426.3 309.9h1.0M469.5 353.6h1.0M473.2 332.5h1.0M417.3 312.7h1.0M481.7 313.8h1.0M467.9 273.3h1.0M492.0 314.5h1.0M431.9 354.8h1.0M424.8 263.3h1.0M422.3 300.0h1.0M443.3 290.8h1.0M486.1 276.0h1.0M453.0 288.8h1.0M480.1 333.7h1.0M462.4 321.6h1.0M519.1 339.0h1.0M435.0 288.8h1.0M447.9 311.1h1.0M502.7 303.7h1.0M463.6 329.6h1.0M422.9 289.6h1.0M447.4 312.3h1.0M419.3 303.6h1.0M441.7 241.4h1.0" stroke="#4030b0" stroke-width="1.0" fill="none" opacity="0.7"/>
</g>
<rect x="408.20" y="241.20" width="118.10" height="116.30" fill="none" stroke="#424242" stroke-width="1.2" />
<text transform="translate(226.00 235.50) scale(1.1 1)" font-size="11.8" text-anchor="middle" fill="#111" >Con</text>
<text transform="translate(349.70 235.50) scale(1.06 1)" font-size="11.8" text-anchor="middle" fill="#111" >CV EVs</text>
<text transform="translate(467.60 235.50) scale(1.06 1)" font-size="11.8" text-anchor="middle" fill="#111" >aPC EVs</text>
<clipPath id="cT4"><rect x="48.7" y="406.2" width="118.2" height="116.19999999999999"/></clipPath>
<rect x="48.70" y="406.20" width="118.20" height="116.20" fill="#fdfcfd" stroke="none" stroke-width="1" />
<g clip-path="url(#cT4)">
<g filter="url(#rough)">
<ellipse cx="54.28" cy="409.41" rx="2.24" ry="2.80" fill="#b232e4" transform="rotate(-30 54.28 409.41)" opacity="0.92"/>
<ellipse cx="64.55" cy="418.75" rx="2.80" ry="3.18" fill="#b232e4" transform="rotate(20 64.55 418.75)" opacity="0.92"/>
<ellipse cx="106.59" cy="413.14" rx="4.86" ry="2.62" fill="#3a1f9a" opacity="0.92"/>
<ellipse cx="106.59" cy="414.08" rx="2.80" ry="3.74" fill="#b232e4" opacity="0.92"/>
<ellipse cx="136.49" cy="416.88" rx="2.24" ry="2.43" fill="#b232e4" opacity="0.92"/>
<ellipse cx="156.11" cy="412.21" rx="3.92" ry="1.68" fill="#3a1f9a" opacity="0.92"/>
<ellipse cx="62.68" cy="429.96" rx="2.43" ry="1.87" fill="#b232e4" transform="rotate(-20 62.68 429.96)" opacity="0.92"/>
<ellipse cx="87.91" cy="428.09" rx="2.24" ry="2.80" fill="#b232e4" transform="rotate(10 87.91 428.09)" opacity="0.92"/>
<ellipse cx="100.05" cy="430.90" rx="2.24" ry="2.80" fill="#b232e4" transform="rotate(15 100.05 430.90)" opacity="0.92"/>
<ellipse cx="113.13" cy="427.16" rx="1.68" ry="5.04" fill="#3a1f9a" transform="rotate(5 113.13 427.16)" opacity="0.92"/>
<ellipse cx="51.10" cy="435.57" rx="2.43" ry="1.31" fill="#b232e4" transform="rotate(-20 51.10 435.57)" opacity="0.92"/>
<ellipse cx="143.03" cy="431.83" rx="1.87" ry="1.31" fill="#3a1f9a" opacity="0.92"/>
<ellipse cx="161.71" cy="427.16" rx="2.80" ry="1.87" fill="#b232e4" transform="rotate(20 161.71 427.16)" opacity="0.92"/>
<ellipse cx="149.57" cy="438.37" rx="1.87" ry="1.87" fill="#5a2fc8" opacity="0.92"/>
<ellipse cx="60.82" cy="445.84" rx="2.80" ry="1.87" fill="#b232e4" transform="rotate(10 60.82 445.84)" opacity="0.92"/>
<ellipse cx="84.17" cy="444.35" rx="16.35" ry="1.49" fill="#3a1f9a" transform="rotate(-20 84.17 444.35)" opacity="0.92"/>
<ellipse cx="92.58" cy="440.61" rx="5.61" ry="2.06" fill="#b232e4" transform="rotate(-20 92.58 440.61)" opacity="0.92"/>
<ellipse cx="105.66" cy="438.37" rx="4.67" ry="1.68" fill="#b232e4" transform="rotate(-25 105.66 438.37)" opacity="0.92"/>
<ellipse cx="110.33" cy="457.05" rx="5.04" ry="13.08" fill="#b232e4" transform="rotate(5 110.33 457.05)" opacity="0.92"/>
<ellipse cx="111.26" cy="455.19" rx="2.80" ry="10.46" fill="#5a2fc8" transform="rotate(5 111.26 455.19)" opacity="0.92"/>
<ellipse cx="108.46" cy="465.46" rx="3.74" ry="5.61" fill="#b232e4" opacity="0.92"/>
<ellipse cx="107.53" cy="472.94" rx="4.67" ry="3.92" fill="#b232e4" opacity="0.92"/>
<ellipse cx="113.13" cy="478.54" rx="2.62" ry="3.74" fill="#b232e4" transform="rotate(20 113.13 478.54)" opacity="0.92"/>
<ellipse cx="135.55" cy="447.71" rx="2.24" ry="3.74" fill="#b232e4" opacity="0.92"/>
<ellipse cx="130.88" cy="454.25" rx="2.80" ry="1.87" fill="#3a1f9a" transform="rotate(20 130.88 454.25)" opacity="0.92"/>
<ellipse cx="119.67" cy="458.92" rx="1.68" ry="5.98" fill="#b232e4" transform="rotate(25 119.67 458.92)" opacity="0.92"/>
<ellipse cx="131.82" cy="467.33" rx="7.85" ry="1.12" fill="#3a1f9a" transform="rotate(22 131.82 467.33)" opacity="0.92"/>
<ellipse cx="143.96" cy="461.72" rx="2.62" ry="3.92" fill="#b232e4" transform="rotate(20 143.96 461.72)" opacity="0.92"/>
<ellipse cx="155.17" cy="461.72" rx="1.87" ry="1.87" fill="#5a2fc8" opacity="0.92"/>
<ellipse cx="148.63" cy="472.00" rx="2.43" ry="1.87" fill="#b232e4" opacity="0.92"/>
<ellipse cx="68.29" cy="457.99" rx="6.54" ry="2.43" fill="#9a96cc" transform="rotate(-25 68.29 457.99)" opacity="0.92"/>
<ellipse cx="96.32" cy="461.72" rx="1.68" ry="1.31" fill="#b232e4" opacity="0.92"/>
<ellipse cx="82.30" cy="475.36" rx="1.68" ry="1.68" fill="#2a2320" opacity="0.92"/>
<ellipse cx="93.51" cy="488.82" rx="1.31" ry="7.85" fill="#5a2fc8" transform="rotate(-20 93.51 488.82)" opacity="0.92"/>
<ellipse cx="92.58" cy="492.55" rx="1.31" ry="1.87" fill="#2a2320" opacity="0.92"/>
<ellipse cx="162.65" cy="482.28" rx="1.87" ry="2.43" fill="#2a2320" opacity="0.92"/>
<ellipse cx="142.09" cy="490.69" rx="3.36" ry="1.87" fill="#b232e4" opacity="0.92"/>
<ellipse cx="151.44" cy="498.16" rx="3.92" ry="1.68" fill="#b232e4" transform="rotate(35 151.44 498.16)" opacity="0.92"/>
<ellipse cx="58.01" cy="490.69" rx="1.12" ry="1.12" fill="#b232e4" opacity="0.92"/>
<ellipse cx="67.92" cy="498.53" rx="0.93" ry="1.31" fill="#3a1f9a" opacity="0.92"/>
<ellipse cx="55.58" cy="505.07" rx="1.40" ry="1.40" fill="#b232e4" opacity="0.92"/>
<ellipse cx="94.45" cy="512.55" rx="1.40" ry="1.40" fill="#5a2fc8" opacity="0.92"/>
<ellipse cx="84.17" cy="519.65" rx="1.40" ry="1.87" fill="#b232e4" opacity="0.92"/>
<ellipse cx="165.08" cy="507.50" rx="1.40" ry="2.34" fill="#b232e4" opacity="0.92"/>
<ellipse cx="119.67" cy="496.29" rx="1.31" ry="1.12" fill="#2a2320" opacity="0.92"/>
<ellipse cx="140.23" cy="407.54" rx="1.31" ry="1.31" fill="#b232e4" opacity="0.92"/>
<ellipse cx="124.34" cy="486.95" rx="1.12" ry="0.75" fill="#2a2320" opacity="0.92"/>
<ellipse cx="135.55" cy="512.55" rx="0.93" ry="1.12" fill="#2a2320" opacity="0.92"/>
<ellipse cx="100.05" cy="514.42" rx="0.93" ry="0.75" fill="#7a6a30" opacity="0.92"/>
<ellipse cx="57.08" cy="472.00" rx="1.12" ry="0.93" fill="#7a6a30" opacity="0.92"/>
<ellipse cx="126.21" cy="518.71" rx="0.93" ry="0.75" fill="#7a6a30" opacity="0.92"/>
</g>
<path d="M103.4 472.5h0.9M143.9 493.6h0.9M71.3 423.9h0.9M136.8 486.1h0.9M121.4 520.1h0.9M113.2 441.1h0.9M87.8 410.0h0.9M144.0 453.5h0.9M109.5 423.2h0.9M157.7 454.5h0.9M55.4 490.7h0.9M138.6 415.9h0.9M128.0 425.4h0.9M73.5 513.3h0.9M160.1 414.4h0.9M60.3 452.9h0.9M69.1 491.8h0.9M59.9 435.4h0.9M128.8 457.4h0.9M126.2 438.6h0.9M152.5 489.0h0.9M101.4 482.7h0.9M120.8 462.2h0.9M164.0 498.6h0.9M130.6 510.8h0.9M101.8 518.7h0.9M96.9 467.4h0.9M125.7 457.9h0.9M82.2 468.4h0.9M59.0 466.7h0.9M145.8 465.9h0.9M104.4 511.2h0.9M161.7 459.3h0.9M148.5 430.2h0.9M80.6 517.8h0.9M124.1 450.7h0.9M68.1 515.7h0.9M114.4 492.2h0.9M91.7 490.5h0.9M128.5 429.6h0.9M149.1 504.1h0.9M53.9 429.0h0.9M77.5 479.4h0.9M73.8 438.3h0.9M155.7 438.6h0.9M59.5 484.5h0.9M136.4 430.9h0.9M75.0 463.2h0.9M53.0 473.3h0.9M140.1 440.2h0.9M106.0 433.8h0.9M50.1 484.8h0.9M85.5 434.3h0.9M53.1 517.0h0.9M145.6 478.0h0.9M120.9 496.3h0.9M143.5 467.7h0.9M115.7 494.6h0.9M106.8 486.4h0.9M53.7 410.9h0.9M142.3 436.2h0.9M160.6 477.2h0.9M105.5 455.2h0.9M61.3 488.8h0.9M98.4 513.7h0.9M94.0 435.4h0.9M72.5 489.5h0.9M74.1 460.9h0.9M63.7 494.7h0.9M156.9 441.7h0.9M124.9 461.8h0.9M163.6 512.3h0.9M61.9 469.8h0.9M107.7 467.4h0.9M117.5 433.7h0.9M73.2 472.9h0.9M117.1 454.7h0.9M68.8 469.7h0.9M139.6 458.2h0.9M87.9 418.1h0.9M148.2 438.4h0.9M160.8 426.3h0.9M62.3 500.3h0.9M104.1 511.4h0.9M68.9 506.0h0.9M134.9 467.9h0.9M90.4 435.3h0.9M103.6 431.6h0.9M163.3 508.0h0.9M154.0 446.8h0.9M98.0 415.6h0.9M120.2 421.4h0.9M72.0 514.1h0.9M121.3 458.3h0.9M53.0 466.6h0.9M123.9 437.6h0.9M141.5 458.6h0.9M98.0 463.7h0.9M87.4 461.6h0.9M97.0 495.1h0.9M133.9 459.3h0.9M147.7 505.3h0.9M123.5 450.9h0.9M97.6 423.5h0.9M84.0 419.5h0.9M132.0 492.5h0.9M142.7 511.3h0.9M57.7 505.3h0.9M92.3 508.2h0.9M86.5 438.0h0.9M85.8 459.8h0.9M81.0 492.5h0.9M126.7 427.6h0.9M134.2 514.3h0.9M155.3 433.1h0.9M92.2 481.9h0.9M90.9 422.3h0.9M80.0 464.6h0.9M83.4 440.1h0.9M83.2 515.7h0.9M94.4 457.1h0.9M64.1 460.1h0.9M121.8 498.5h0.9M67.4 442.1h0.9M119.2 413.8h0.9M88.3 428.7h0.9M150.0 471.2h0.9M113.7 437.2h0.9M57.3 459.7h0.9M83.7 452.7h0.9M140.4 409.8h0.9M107.7 516.5h0.9M148.6 406.9h0.9M156.8 448.7h0.9M73.3 494.0h0.9M104.9 491.8h0.9M88.7 418.4h0.9M84.7 491.2h0.9M90.8 477.1h0.9M61.3 461.4h0.9M150.0 507.9h0.9M107.8 447.4h0.9M108.5 481.7h0.9M104.7 436.3h0.9M131.7 407.1h0.9M160.3 514.7h0.9M92.4 470.7h0.9M55.7 443.1h0.9M80.1 416.8h0.9M67.6 462.5h0.9M149.6 502.3h0.9M115.2 439.0h0.9M56.4 459.7h0.9M53.3 418.5h0.9M69.9 462.3h0.9M71.2 465.8h0.9M114.2 469.4h0.9M96.4 438.3h0.9M82.7 499.1h0.9M109.5 501.9h0.9M139.3 436.2h0.9M86.1 409.2h0.9M70.5 427.1h0.9M145.0 487.3h0.9M100.7 470.4h0.9M85.8 504.4h0.9M69.2 514.2h0.9M155.4 520.8h0.9M69.5 477.2h0.9M120.4 514.2h0.9M62.7 474.1h0.9M56.1 409.6h0.9M138.1 510.0h0.9M71.3 519.0h0.9M123.6 425.5h0.9M50.0 499.8h0.9M88.5 515.4h0.9M82.7 460.3h0.9M53.0 456.7h0.9M115.3 487.5h0.9M57.6 415.7h0.9M105.3 489.0h0.9M95.4 471.5h0.9M151.7 452.3h0.9M101.4 490.9h0.9M140.1 474.4h0.9M97.6 521.3h0.9M93.9 498.7h0.9M155.0 509.6h0.9M53.5 507.1h0.9M149.0 465.2h0.9M70.5 497.2h0.9M107.1 454.1h0.9M105.7 458.0h0.9M76.8 476.1h0.9M164.4 499.3h0.9M115.8 432.4h0.9M99.3 513.2h0.9M75.3 490.9h0.9M139.6 409.3h0.9M50.5 410.5h0.9M51.6 451.9h0.9M138.0 498.1h0.9M103.1 488.1h0.9M84.3 421.7h0.9M52.3 512.9h0.9M166.7 467.3h0.9M62.0 456.6h0.9M166.7 441.0h0.9M103.1 484.0h0.9M110.1 423.9h0.9M95.3 494.8h0.9M69.0 446.0h0.9M137.7 414.4h0.9M95.3 467.3h0.9M63.8 415.9h0.9M67.6 466.6h0.9M117.4 456.4h0.9M83.0 420.9h0.9M117.0 511.7h0.9" stroke="#7a4ad8" stroke-width="0.9" fill="none" opacity="0.55"/>
<path d="M130.9 464.9h0.9M74.2 495.3h0.9M61.3 508.2h0.9M137.3 447.7h0.9M100.6 487.8h0.9M163.9 452.8h0.9M68.8 443.3h0.9M130.3 457.8h0.9M119.7 469.2h0.9M125.7 451.9h0.9M114.2 466.2h0.9M139.8 519.5h0.9M140.2 490.0h0.9M145.6 411.4h0.9M144.4 509.3h0.9M124.0 474.1h0.9M100.3 464.2h0.9M49.1 485.0h0.9M151.5 495.7h0.9M86.5 411.5h0.9M49.8 406.9h0.9M118.9 479.0h0.9M140.0 406.6h0.9M118.9 457.6h0.9M128.1 472.1h0.9M153.4 464.8h0.9M104.5 441.3h0.9M150.3 481.6h0.9M83.6 443.9h0.9M166.9 495.6h0.9M159.3 516.4h0.9M87.7 442.7h0.9M81.4 510.8h0.9M58.0 461.5h0.9M119.7 500.6h0.9M97.9 419.1h0.9M160.6 412.9h0.9M107.3 454.5h0.9M110.8 444.3h0.9M89.5 518.5h0.9M63.7 406.4h0.9M117.8 407.2h0.9M49.1 457.4h0.9M119.0 453.2h0.9M160.7 421.8h0.9M59.1 493.7h0.9M97.2 426.5h0.9M94.4 489.4h0.9M137.3 470.6h0.9M78.3 481.6h0.9M139.0 503.6h0.9M157.5 434.5h0.9M111.0 518.6h0.9M150.0 454.5h0.9M101.6 472.2h0.9M61.5 512.3h0.9M129.3 415.0h0.9M80.6 447.6h0.9M86.4 500.5h0.9M112.6 481.3h0.9M140.1 406.7h0.9M76.8 520.5h0.9M91.7 457.6h0.9M146.4 487.4h0.9M129.1 436.1h0.9M91.3 430.0h0.9M164.3 462.0h0.9M68.2 503.4h0.9M74.8 505.6h0.9M116.1 421.5h0.9M50.9 441.8h0.9M82.3 520.0h0.9M164.9 440.6h0.9M106.0 421.4h0.9M162.2 458.3h0.9M128.3 427.7h0.9M62.3 478.8h0.9M145.6 449.1h0.9M86.9 433.6h0.9M52.1 441.1h0.9M89.9 416.7h0.9M133.9 455.2h0.9M56.4 409.5h0.9M76.3 415.9h0.9M108.5 452.7h0.9M77.9 513.5h0.9M123.1 422.7h0.9M96.2 420.4h0.9M102.4 509.0h0.9M85.4 430.8h0.9M83.6 484.7h0.9M79.9 426.4h0.9M158.2 487.7h0.9M62.2 516.3h0.9M117.1 427.0h0.9M135.8 471.7h0.9M80.0 494.4h0.9M76.8 411.6h0.9M139.6 437.8h0.9M50.3 431.2h0.9M108.1 445.0h0.9M64.4 411.9h0.9M58.0 499.0h0.9M64.6 479.8h0.9M93.6 424.0h0.9M104.0 472.3h0.9M149.3 443.7h0.9M109.7 518.6h0.9M49.5 484.5h0.9M112.5 463.1h0.9M114.7 454.7h0.9M69.6 449.5h0.9M60.8 418.5h0.9M159.1 415.2h0.9M126.3 501.0h0.9M105.9 483.8h0.9M49.0 444.5h0.9M93.6 415.3h0.9M156.5 488.8h0.9M130.8 495.4h0.9M61.9 483.3h0.9M163.3 427.4h0.9M89.8 437.5h0.9M107.1 440.9h0.9M89.0 465.7h0.9M105.9 504.2h0.9M128.3 491.1h0.9M63.6 487.0h0.9M121.5 428.0h0.9M140.8 486.8h0.9M68.9 411.1h0.9M58.5 518.5h0.9M68.7 509.0h0.9M158.1 461.3h0.9M88.5 485.4h0.9M163.0 440.1h0.9M108.6 490.0h0.9M89.5 429.2h0.9M166.2 485.0h0.9M130.6 496.7h0.9M150.9 434.7h0.9M66.0 444.5h0.9M51.8 423.1h0.9M94.8 508.7h0.9M163.9 445.9h0.9M127.5 463.6h0.9M69.6 502.6h0.9M55.0 487.1h0.9M160.1 462.3h0.9M61.7 445.8h0.9M93.4 496.7h0.9M58.8 472.7h0.9M137.3 484.0h0.9M66.3 445.5h0.9M150.6 478.0h0.9M145.2 501.3h0.9M119.7 517.6h0.9M95.3 443.7h0.9M117.5 464.9h0.9M63.9 472.0h0.9" stroke="#c060e0" stroke-width="0.9" fill="none" opacity="0.5"/>
<path d="M70.7 415.6h0.9M149.2 432.4h0.9M111.5 461.8h0.9M161.0 416.6h0.9M132.7 485.5h0.9M147.0 414.7h0.9M60.7 464.4h0.9M64.0 476.7h0.9M97.4 483.0h0.9M70.4 515.3h0.9M105.4 505.1h0.9M103.3 414.7h0.9M141.3 493.6h0.9M150.6 493.9h0.9M113.9 473.2h0.9M70.4 505.0h0.9M127.8 426.9h0.9M76.9 467.9h0.9M148.8 420.9h0.9M105.8 486.1h0.9M61.0 436.3h0.9M161.6 509.8h0.9M121.4 469.2h0.9M66.8 424.8h0.9M80.1 431.2h0.9M76.1 407.1h0.9M54.0 498.1h0.9M138.6 463.0h0.9M140.4 469.7h0.9M49.2 470.9h0.9M123.7 438.0h0.9M49.0 484.4h0.9M135.8 492.5h0.9M154.2 520.5h0.9M94.9 408.1h0.9M69.4 417.9h0.9M110.5 473.2h0.9M89.1 414.4h0.9M132.2 471.1h0.9M109.3 477.0h0.9M50.4 486.1h0.9M132.6 469.6h0.9M49.7 429.8h0.9M108.6 471.3h0.9M137.6 506.4h0.9M101.4 483.7h0.9M96.2 415.1h0.9M153.3 499.7h0.9M115.7 431.7h0.9M144.0 455.4h0.9M141.9 469.0h0.9M78.8 412.2h0.9M121.4 430.0h0.9M52.9 457.3h0.9M136.9 510.7h0.9M115.1 408.2h0.9M58.3 484.1h0.9M49.7 496.6h0.9M59.2 513.2h0.9M83.2 413.1h0.9M94.1 414.1h0.9M122.8 492.4h0.9M153.2 513.8h0.9M66.4 497.0h0.9M165.6 490.6h0.9M76.7 504.9h0.9M134.9 461.8h0.9M55.4 505.2h0.9M117.0 408.2h0.9M118.1 437.3h0.9" stroke="#3a3028" stroke-width="0.9" fill="none" opacity="0.6"/>
<path d="M56.0 443.8h0.9M94.7 499.5h0.9M110.6 441.1h0.9M159.3 461.0h0.9M159.7 438.5h0.9M115.3 431.7h0.9M115.9 446.2h0.9M55.1 452.0h0.9M131.1 489.2h0.9M56.3 463.7h0.9M161.7 517.5h0.9M94.5 513.7h0.9M73.0 504.9h0.9M129.6 440.8h0.9M60.3 497.9h0.9M56.7 495.6h0.9M50.6 499.7h0.9M124.1 429.3h0.9M99.3 420.2h0.9M102.3 460.8h0.9M157.7 513.6h0.9M74.5 451.7h0.9M93.1 440.0h0.9M147.8 490.1h0.9M147.5 469.3h0.9M86.2 471.4h0.9M66.7 456.5h0.9M82.2 437.5h0.9M155.1 406.6h0.9M49.8 510.0h0.9M112.9 442.4h0.9M148.3 522.0h0.9M99.3 517.0h0.9M135.5 447.8h0.9M94.5 413.5h0.9M91.7 466.6h0.9M143.8 518.4h0.9M153.0 469.8h0.9M75.0 465.7h0.9M150.6 514.9h0.9M132.0 466.7h0.9M68.3 484.9h0.9M159.2 491.7h0.9M59.5 429.8h0.9M72.4 466.3h0.9M149.0 451.8h0.9M146.9 413.0h0.9M128.0 436.6h0.9M67.6 406.9h0.9M117.7 446.4h0.9M113.1 415.2h0.9M139.0 496.0h0.9M166.8 496.6h0.9M53.9 450.2h0.9M139.7 518.7h0.9M117.3 463.0h0.9M133.5 504.7h0.9M118.1 465.5h0.9M91.5 461.7h0.9M84.0 440.7h0.9M66.9 431.2h0.9M99.8 456.9h0.9M124.1 429.4h0.9M146.5 455.1h0.9M74.2 501.3h0.9M95.0 498.4h0.9M84.5 511.4h0.9M128.7 445.6h0.9M72.2 492.6h0.9M71.9 464.2h0.9M69.9 449.1h0.9M114.6 515.6h0.9M79.9 472.8h0.9M108.2 482.3h0.9M60.7 410.9h0.9M92.5 456.0h0.9M78.7 515.7h0.9M57.3 438.3h0.9M97.9 496.2h0.9M102.6 520.9h0.9M84.8 412.8h0.9M117.9 462.3h0.9M61.8 412.8h0.9M147.8 497.7h0.9M115.0 493.3h0.9M127.1 489.3h0.9M72.3 520.5h0.9M58.2 433.3h0.9M68.4 423.4h0.9M123.2 486.1h0.9M79.8 465.6h0.9M141.6 453.5h0.9M125.5 410.1h0.9M141.5 427.2h0.9M67.6 425.7h0.9M60.8 423.8h0.9M60.1 450.2h0.9M134.5 514.8h0.9M126.5 511.1h0.9M135.1 505.4h0.9M51.3 520.2h0.9M84.5 477.9h0.9M80.6 439.4h0.9M154.7 467.6h0.9M76.7 510.4h0.9M77.3 435.7h0.9M120.8 490.4h0.9M146.7 409.7h0.9M98.4 407.2h0.9M159.5 502.8h0.9" stroke="#8a7a30" stroke-width="0.9" fill="none" opacity="0.5"/>
</g>
<rect x="48.70" y="406.20" width="118.20" height="116.20" fill="none" stroke="#424242" stroke-width="1.2" />
<clipPath id="cT5"><rect x="170.5" y="406.2" width="118.30000000000001" height="116.19999999999999"/></clipPath>
<rect x="170.50" y="406.20" width="118.30" height="116.20" fill="#fdfdfc" stroke="none" stroke-width="1" />
<g clip-path="url(#cT5)">
<g filter="url(#rough)">
<ellipse cx="209.91" cy="409.41" rx="3.36" ry="1.31" fill="#b232e4" transform="rotate(10 209.91 409.41)" opacity="0.92"/>
<ellipse cx="242.61" cy="409.97" rx="4.86" ry="1.12" fill="#b232e4" transform="rotate(-30 242.61 409.97)" opacity="0.92"/>
<ellipse cx="260.36" cy="410.34" rx="2.80" ry="1.87" fill="#b232e4" transform="rotate(-20 260.36 410.34)" opacity="0.92"/>
<ellipse cx="241.67" cy="420.62" rx="2.06" ry="3.36" fill="#5a2fc8" transform="rotate(10 241.67 420.62)" opacity="0.92"/>
<ellipse cx="255.69" cy="427.16" rx="4.86" ry="1.68" fill="#3a1f9a" transform="rotate(-25 255.69 427.16)" opacity="0.92"/>
<ellipse cx="271.57" cy="430.90" rx="2.80" ry="1.87" fill="#5a2fc8" opacity="0.92"/>
<ellipse cx="197.39" cy="435.94" rx="2.80" ry="1.12" fill="#5a2fc8" transform="rotate(-30 197.39 435.94)" opacity="0.92"/>
<ellipse cx="231.40" cy="443.97" rx="2.24" ry="1.87" fill="#b232e4" opacity="0.92"/>
<ellipse cx="215.51" cy="447.71" rx="1.68" ry="2.99" fill="#b232e4" transform="rotate(25 215.51 447.71)" opacity="0.92"/>
<ellipse cx="185.62" cy="448.65" rx="6.73" ry="2.62" fill="#3a1f9a" transform="rotate(10 185.62 448.65)" opacity="0.92"/>
<ellipse cx="185.62" cy="448.09" rx="3.74" ry="1.87" fill="#2a2320" transform="rotate(10 185.62 448.09)" opacity="0.92"/>
<ellipse cx="191.22" cy="452.94" rx="4.86" ry="1.68" fill="#b232e4" transform="rotate(-10 191.22 452.94)" opacity="0.92"/>
<ellipse cx="278.11" cy="443.60" rx="4.67" ry="1.31" fill="#3a1f9a" transform="rotate(15 278.11 443.60)" opacity="0.92"/>
<ellipse cx="284.09" cy="444.91" rx="2.62" ry="1.68" fill="#b232e4" transform="rotate(-30 284.09 444.91)" opacity="0.92"/>
<ellipse cx="280.35" cy="455.19" rx="1.21" ry="3.36" fill="#b232e4" transform="rotate(10 280.35 455.19)" opacity="0.92"/>
<ellipse cx="224.86" cy="455.56" rx="2.43" ry="1.87" fill="#b232e4" opacity="0.92"/>
<ellipse cx="179.08" cy="461.72" rx="6.73" ry="0.60" fill="#b232e4" transform="rotate(12 179.08 461.72)" opacity="0.92"/>
<ellipse cx="253.82" cy="460.42" rx="7.66" ry="1.68" fill="#3a1f9a" transform="rotate(-8 253.82 460.42)" opacity="0.92"/>
<ellipse cx="257.55" cy="459.86" rx="2.80" ry="1.31" fill="#b232e4" opacity="0.92"/>
<ellipse cx="240.74" cy="460.42" rx="8.41" ry="0.60" fill="#3a1f9a" transform="rotate(10 240.74 460.42)" opacity="0.92"/>
<ellipse cx="267.83" cy="474.24" rx="19.15" ry="0.60" fill="#3a1f9a" transform="rotate(13 267.83 474.24)" opacity="0.92"/>
<ellipse cx="250.08" cy="471.07" rx="1.31" ry="2.06" fill="#2a2320" opacity="0.92"/>
<ellipse cx="274.37" cy="471.63" rx="1.68" ry="2.24" fill="#b232e4" opacity="0.92"/>
<ellipse cx="204.30" cy="472.94" rx="2.24" ry="2.99" fill="#5a2fc8" transform="rotate(20 204.30 472.94)" opacity="0.92"/>
<ellipse cx="191.22" cy="474.80" rx="1.21" ry="6.73" fill="#3a1f9a" transform="rotate(10 191.22 474.80)" opacity="0.92"/>
<ellipse cx="227.29" cy="472.56" rx="2.80" ry="2.24" fill="#b232e4" opacity="0.92"/>
<ellipse cx="240.74" cy="476.67" rx="2.24" ry="2.99" fill="#b232e4" transform="rotate(-10 240.74 476.67)" opacity="0.92"/>
<ellipse cx="178.14" cy="483.21" rx="4.86" ry="3.92" fill="#b232e4" opacity="0.92"/>
<ellipse cx="178.71" cy="483.21" rx="2.62" ry="3.74" fill="#5a2fc8" opacity="0.92"/>
<ellipse cx="237.94" cy="487.32" rx="4.86" ry="2.24" fill="#b232e4" transform="rotate(-10 237.94 487.32)" opacity="0.92"/>
<ellipse cx="246.34" cy="483.21" rx="2.80" ry="1.68" fill="#b232e4" opacity="0.92"/>
<ellipse cx="244.48" cy="480.41" rx="0.93" ry="2.80" fill="#3a1f9a" transform="rotate(20 244.48 480.41)" opacity="0.92"/>
<ellipse cx="195.90" cy="486.95" rx="2.24" ry="2.43" fill="#b232e4" opacity="0.92"/>
<ellipse cx="277.17" cy="486.58" rx="3.92" ry="1.87" fill="#b232e4" transform="rotate(15 277.17 486.58)" opacity="0.92"/>
<ellipse cx="188.42" cy="492.55" rx="1.87" ry="0.93" fill="#3a1f9a" transform="rotate(20 188.42 492.55)" opacity="0.92"/>
<ellipse cx="224.86" cy="498.53" rx="9.72" ry="2.06" fill="#b232e4" transform="rotate(-5 224.86 498.53)" opacity="0.92"/>
<ellipse cx="220.19" cy="498.16" rx="4.67" ry="1.31" fill="#3a1f9a" transform="rotate(-20 220.19 498.16)" opacity="0.92"/>
<ellipse cx="231.40" cy="498.16" rx="2.43" ry="1.49" fill="#5a2fc8" opacity="0.92"/>
<ellipse cx="257.55" cy="500.03" rx="2.24" ry="1.87" fill="#b232e4" opacity="0.92"/>
<ellipse cx="201.50" cy="502.83" rx="4.30" ry="2.06" fill="#b232e4" transform="rotate(-20 201.50 502.83)" opacity="0.92"/>
<ellipse cx="205.24" cy="501.90" rx="1.49" ry="1.12" fill="#5a2fc8" opacity="0.92"/>
<ellipse cx="181.88" cy="498.16" rx="1.31" ry="1.31" fill="#b232e4" opacity="0.92"/>
<ellipse cx="271.57" cy="510.30" rx="7.66" ry="2.24" fill="#b232e4" transform="rotate(-10 271.57 510.30)" opacity="0.92"/>
<ellipse cx="195.90" cy="512.17" rx="2.80" ry="3.36" fill="#b232e4" opacity="0.92"/>
<ellipse cx="196.83" cy="512.73" rx="1.31" ry="1.68" fill="#5a2fc8" opacity="0.92"/>
<ellipse cx="202.43" cy="517.78" rx="1.12" ry="4.11" fill="#b232e4" transform="rotate(-30 202.43 517.78)" opacity="0.92"/>
<ellipse cx="180.95" cy="512.55" rx="2.24" ry="1.87" fill="#b232e4" opacity="0.92"/>
<ellipse cx="179.08" cy="519.09" rx="2.24" ry="2.43" fill="#b232e4" transform="rotate(20 179.08 519.09)" opacity="0.92"/>
<ellipse cx="280.91" cy="513.11" rx="2.80" ry="1.12" fill="#b232e4" opacity="0.92"/>
<ellipse cx="253.82" cy="518.71" rx="1.87" ry="1.31" fill="#b232e4" opacity="0.92"/>
<ellipse cx="235.13" cy="517.78" rx="0.93" ry="1.87" fill="#b232e4" opacity="0.92"/>
<ellipse cx="214.58" cy="420.62" rx="0.93" ry="0.93" fill="#2a2320" opacity="0.92"/>
<ellipse cx="222.99" cy="419.12" rx="0.93" ry="0.93" fill="#2a2320" opacity="0.92"/>
<ellipse cx="208.04" cy="457.99" rx="1.12" ry="0.93" fill="#2a2320" opacity="0.92"/>
<ellipse cx="230.46" cy="465.46" rx="0.75" ry="1.31" fill="#7a6a30" opacity="0.92"/>
<ellipse cx="253.82" cy="492.55" rx="1.87" ry="1.49" fill="#8a8490" opacity="0.92"/>
<ellipse cx="200.57" cy="493.49" rx="1.12" ry="0.93" fill="#2a2320" opacity="0.92"/>
<ellipse cx="208.97" cy="507.88" rx="1.12" ry="0.75" fill="#2a2320" opacity="0.92"/>
</g>
<path d="M188.2 504.3h0.9M203.7 487.7h0.9M205.3 498.6h0.9M246.8 413.2h0.9M284.0 504.2h0.9M218.3 468.4h0.9M255.9 492.9h0.9M270.1 518.7h0.9M280.8 435.2h0.9M172.9 438.8h0.9M195.7 494.9h0.9M261.7 519.7h0.9M271.9 496.5h0.9M287.8 492.4h0.9M215.7 498.7h0.9M267.8 442.4h0.9M199.7 427.7h0.9M179.0 491.1h0.9M288.5 499.7h0.9M239.2 511.8h0.9M218.1 449.5h0.9M171.4 426.0h0.9M250.7 454.9h0.9M285.1 407.4h0.9M273.4 500.7h0.9M244.4 478.2h0.9M246.2 414.2h0.9M217.0 517.9h0.9M230.3 419.3h0.9M223.5 415.8h0.9M250.5 445.6h0.9M286.5 514.5h0.9M236.1 422.5h0.9M229.5 496.8h0.9M184.6 436.6h0.9M215.8 499.9h0.9M191.9 438.8h0.9M269.8 438.3h0.9M256.1 414.5h0.9M228.0 420.3h0.9M235.0 426.5h0.9M183.7 512.4h0.9M256.1 466.3h0.9M177.2 462.2h0.9M170.6 501.4h0.9M229.5 421.6h0.9M222.9 504.3h0.9M279.8 464.8h0.9M246.4 449.8h0.9M257.4 457.4h0.9M277.3 479.1h0.9M186.0 451.2h0.9M272.7 423.3h0.9M240.9 482.5h0.9M191.8 452.4h0.9M191.8 411.2h0.9M225.4 407.4h0.9M189.7 466.0h0.9M232.5 442.4h0.9M204.1 453.1h0.9M280.0 520.8h0.9M182.5 487.7h0.9M279.4 505.5h0.9M257.8 495.5h0.9M209.7 441.5h0.9M182.6 452.8h0.9M287.5 508.6h0.9M174.2 434.3h0.9M181.2 468.8h0.9M192.8 432.9h0.9M286.9 434.8h0.9M208.5 509.7h0.9M253.1 419.2h0.9M238.0 512.6h0.9M231.2 436.0h0.9M241.5 506.5h0.9M178.7 407.5h0.9M259.6 469.9h0.9M228.4 423.0h0.9M268.0 464.3h0.9M255.6 443.5h0.9M200.2 486.0h0.9M177.8 505.1h0.9M201.2 444.0h0.9M287.1 501.0h0.9M271.2 463.8h0.9M222.0 494.0h0.9M201.0 441.8h0.9M287.5 517.6h0.9M278.9 484.7h0.9M268.1 503.4h0.9M214.3 488.4h0.9M198.1 477.7h0.9M229.5 423.3h0.9M255.8 500.5h0.9M191.0 441.4h0.9M245.7 433.6h0.9M274.1 462.4h0.9M259.5 479.6h0.9M226.8 444.1h0.9M213.9 511.1h0.9M263.1 418.7h0.9M243.5 416.3h0.9M225.1 476.0h0.9M234.2 429.6h0.9M214.8 452.9h0.9M203.3 507.2h0.9M260.7 469.3h0.9M170.9 522.0h0.9M189.0 449.5h0.9M249.0 484.9h0.9M195.5 420.2h0.9M214.4 517.4h0.9M177.8 460.0h0.9M256.3 460.4h0.9M205.0 479.9h0.9M236.1 493.6h0.9M247.0 483.9h0.9M258.5 503.4h0.9M200.6 446.6h0.9M225.0 458.9h0.9M248.9 421.1h0.9M266.3 519.5h0.9M181.5 457.8h0.9M244.2 461.9h0.9M271.2 418.4h0.9M246.8 444.8h0.9M219.4 475.0h0.9M256.5 484.5h0.9M213.4 442.7h0.9M174.4 471.2h0.9M196.9 462.9h0.9M281.9 446.2h0.9M172.9 486.4h0.9M256.4 499.6h0.9M283.6 508.3h0.9M187.8 414.7h0.9M203.3 439.8h0.9M267.7 477.6h0.9M277.1 506.5h0.9M283.4 482.7h0.9M229.0 427.9h0.9M240.5 481.4h0.9M249.2 489.6h0.9M200.6 472.9h0.9M277.6 408.3h0.9M224.6 444.7h0.9M172.6 507.3h0.9M224.4 491.9h0.9M194.6 453.4h0.9" stroke="#7a4ad8" stroke-width="0.9" fill="none" opacity="0.5"/>
<path d="M252.1 478.0h0.9M190.9 445.1h0.9M233.9 515.0h0.9M180.5 433.5h0.9M267.8 467.6h0.9M249.2 441.0h0.9M210.1 468.0h0.9M195.1 507.3h0.9M212.0 508.9h0.9M184.7 460.8h0.9M238.5 491.4h0.9M234.6 419.4h0.9M193.7 505.6h0.9M173.2 498.0h0.9M209.5 493.0h0.9M239.8 438.4h0.9M239.7 448.3h0.9M205.2 422.9h0.9M188.5 459.3h0.9M210.2 432.8h0.9M222.8 481.0h0.9M195.5 408.9h0.9M205.3 412.4h0.9M281.2 507.3h0.9M191.7 480.1h0.9M231.5 489.4h0.9M230.6 513.1h0.9M179.9 410.0h0.9M171.0 436.9h0.9M268.3 493.9h0.9M221.4 409.4h0.9M194.8 430.0h0.9M249.1 406.9h0.9M242.1 432.3h0.9M175.5 449.8h0.9M201.8 444.6h0.9M210.8 431.3h0.9M182.7 482.2h0.9M282.5 502.8h0.9M278.3 408.2h0.9M230.4 417.2h0.9M194.9 492.0h0.9M182.9 483.9h0.9M231.0 432.7h0.9M204.9 518.7h0.9M250.4 508.0h0.9M242.7 453.4h0.9M229.3 507.3h0.9M174.2 413.0h0.9M232.3 465.1h0.9M207.1 478.8h0.9M226.5 426.7h0.9M266.5 418.8h0.9M216.1 519.3h0.9M229.0 511.0h0.9M176.7 464.1h0.9M272.1 427.2h0.9M230.8 487.9h0.9M191.5 463.5h0.9M202.8 444.9h0.9M256.0 498.3h0.9M186.7 487.5h0.9M245.6 455.6h0.9M284.6 492.3h0.9M241.7 512.8h0.9M205.8 433.8h0.9M278.9 487.9h0.9M282.8 432.4h0.9M176.5 500.1h0.9M246.6 459.2h0.9M283.7 459.9h0.9M252.1 425.1h0.9M202.4 411.5h0.9M174.9 449.6h0.9M278.2 468.0h0.9M221.6 428.2h0.9M237.2 496.7h0.9M278.1 408.0h0.9M272.4 501.9h0.9M199.6 426.4h0.9M288.1 409.7h0.9M209.3 496.2h0.9M190.4 501.1h0.9M203.8 462.0h0.9M261.0 460.8h0.9M180.2 427.8h0.9M192.2 427.9h0.9M270.9 499.5h0.9M287.0 462.2h0.9M209.5 481.1h0.9M267.3 434.0h0.9M193.0 444.0h0.9M172.6 418.1h0.9M211.2 454.9h0.9M257.8 506.7h0.9M278.9 509.0h0.9M189.0 461.5h0.9M185.5 430.4h0.9M248.0 509.7h0.9M198.2 504.1h0.9" stroke="#c060e0" stroke-width="0.9" fill="none" opacity="0.45"/>
<path d="M173.1 515.3h0.9M256.7 503.8h0.9M258.1 506.7h0.9M198.4 516.6h0.9M269.5 468.4h0.9M280.9 439.3h0.9M257.5 412.0h0.9M261.3 421.0h0.9M246.2 463.1h0.9M285.2 447.1h0.9M188.2 444.4h0.9M254.9 414.5h0.9M282.2 477.6h0.9M219.5 472.3h0.9M228.5 506.2h0.9M238.7 486.3h0.9M253.9 437.5h0.9M226.1 508.7h0.9M254.0 457.6h0.9M181.8 407.4h0.9M173.0 447.8h0.9M262.1 515.4h0.9M250.8 503.9h0.9M213.8 449.4h0.9M270.2 471.4h0.9M180.5 480.4h0.9M285.9 466.3h0.9M248.4 477.7h0.9M200.2 494.5h0.9M284.0 451.6h0.9M260.6 454.7h0.9M207.1 416.9h0.9M231.4 457.8h0.9M242.5 488.3h0.9M252.6 475.4h0.9M257.5 452.3h0.9M257.1 466.2h0.9M206.1 457.2h0.9M283.3 481.6h0.9M176.1 454.0h0.9M197.5 452.5h0.9M246.6 503.2h0.9M275.6 450.9h0.9M278.7 422.6h0.9M194.4 407.7h0.9M288.0 442.6h0.9M221.9 433.0h0.9M185.7 485.6h0.9M228.9 409.2h0.9M232.7 412.3h0.9M203.8 488.6h0.9M265.8 414.9h0.9M228.6 499.3h0.9M234.9 504.0h0.9M207.7 472.8h0.9M227.4 499.7h0.9M202.7 435.4h0.9M175.0 476.5h0.9M261.5 466.4h0.9M250.8 496.8h0.9M202.5 486.2h0.9M177.4 427.4h0.9M179.0 496.8h0.9M263.9 464.2h0.9M191.6 443.7h0.9M173.6 492.1h0.9M195.9 505.7h0.9M197.9 455.5h0.9M181.0 487.5h0.9M237.1 521.5h0.9M171.0 409.3h0.9M195.7 437.8h0.9M241.9 418.8h0.9M248.2 506.4h0.9M228.8 426.0h0.9M239.0 408.8h0.9M180.3 507.6h0.9M238.3 444.0h0.9M178.9 435.0h0.9M203.4 464.0h0.9M243.1 418.6h0.9M251.2 449.5h0.9M209.5 466.7h0.9M254.4 442.2h0.9M175.8 507.1h0.9M280.6 496.7h0.9M179.1 459.0h0.9M278.1 507.9h0.9M177.6 417.3h0.9M251.4 418.9h0.9M186.8 460.7h0.9M219.2 511.3h0.9M245.0 482.2h0.9M195.0 494.6h0.9M181.9 461.3h0.9M187.1 460.4h0.9M217.9 453.4h0.9M198.8 475.1h0.9M249.3 494.2h0.9M233.3 426.5h0.9M172.2 487.9h0.9M196.8 448.2h0.9M269.4 477.6h0.9M199.4 514.8h0.9M179.7 519.4h0.9M227.3 521.4h0.9M173.0 510.2h0.9M280.6 464.1h0.9M267.8 520.9h0.9M218.1 468.4h0.9M229.8 484.4h0.9M258.6 476.9h0.9M220.8 483.6h0.9M280.6 509.9h0.9M174.5 490.0h0.9M209.4 419.5h0.9M260.6 442.9h0.9M258.8 479.5h0.9M212.5 470.0h0.9M196.8 470.7h0.9M226.5 452.5h0.9M287.8 476.4h0.9M202.0 414.7h0.9M201.6 512.2h0.9M212.5 444.2h0.9M233.3 426.2h0.9M247.2 414.9h0.9M221.5 462.0h0.9M213.2 440.7h0.9M174.2 457.3h0.9M214.8 464.1h0.9M202.5 492.6h0.9M259.5 432.8h0.9M232.3 495.4h0.9M258.0 443.6h0.9M234.3 407.8h0.9M184.2 481.6h0.9M198.0 482.6h0.9M205.5 505.2h0.9M217.8 414.2h0.9M249.0 438.8h0.9M271.3 440.7h0.9M232.9 465.7h0.9M177.0 520.7h0.9M205.2 466.5h0.9M239.7 409.0h0.9M171.6 459.7h0.9M211.8 455.4h0.9M252.9 520.7h0.9M208.7 466.5h0.9M195.9 422.1h0.9M208.5 506.6h0.9M209.6 486.7h0.9M253.0 505.1h0.9M255.0 511.0h0.9M237.7 516.7h0.9M224.1 500.4h0.9M230.5 433.4h0.9M254.8 513.3h0.9M195.2 424.9h0.9M203.0 496.7h0.9M258.4 417.9h0.9M191.5 413.1h0.9M224.8 481.9h0.9M287.1 481.2h0.9M196.1 463.2h0.9M220.2 466.8h0.9M195.0 413.0h0.9M186.5 430.8h0.9M207.3 511.4h0.9" stroke="#2a2620" stroke-width="0.9" fill="none" opacity="0.65"/>
<path d="M230.4 499.1h0.9M207.7 443.3h0.9M240.7 472.3h0.9M237.4 456.9h0.9M268.6 489.2h0.9M245.4 464.1h0.9M277.1 505.0h0.9M285.8 479.2h0.9M219.2 484.6h0.9M254.4 417.5h0.9M257.7 482.9h0.9M189.9 435.8h0.9M279.1 414.4h0.9M237.4 467.1h0.9M247.8 453.2h0.9M288.8 478.0h0.9M251.9 443.3h0.9M278.6 468.5h0.9M247.2 520.4h0.9M288.3 518.8h0.9M274.5 461.9h0.9M250.1 408.4h0.9M193.5 497.6h0.9M198.4 439.5h0.9M208.1 409.5h0.9M212.2 434.0h0.9M282.3 432.9h0.9M284.7 450.7h0.9M231.2 416.9h0.9M178.1 504.5h0.9M246.2 417.3h0.9M218.3 476.4h0.9M182.8 422.0h0.9M264.7 486.5h0.9M233.4 452.3h0.9M225.4 479.5h0.9M264.6 422.3h0.9M234.8 448.9h0.9M240.9 412.4h0.9M192.1 409.6h0.9M200.8 489.2h0.9M175.1 440.0h0.9M225.9 487.1h0.9M204.6 425.3h0.9M266.1 460.5h0.9M176.1 470.4h0.9M236.9 409.0h0.9M277.9 436.4h0.9M183.1 452.9h0.9M232.3 433.8h0.9M229.6 406.5h0.9M207.7 467.9h0.9M246.3 482.7h0.9M281.8 423.3h0.9M180.2 415.6h0.9M278.3 520.6h0.9M178.1 438.0h0.9M225.5 430.3h0.9M236.4 451.0h0.9M281.9 500.5h0.9M226.0 458.5h0.9M173.0 521.1h0.9M232.4 485.4h0.9M262.2 417.5h0.9M262.3 493.8h0.9M242.3 428.1h0.9M173.3 461.3h0.9M268.3 505.0h0.9M220.5 448.7h0.9M182.4 480.1h0.9M255.3 460.7h0.9M276.5 492.9h0.9M188.2 479.2h0.9M284.2 409.5h0.9M175.4 505.5h0.9M172.6 436.8h0.9M288.0 514.4h0.9M247.5 416.1h0.9M202.0 475.9h0.9M178.0 417.6h0.9M183.0 504.9h0.9M189.7 487.0h0.9M271.4 451.1h0.9M215.0 433.9h0.9M251.3 474.8h0.9M176.1 518.2h0.9M262.1 434.9h0.9M276.5 446.6h0.9M276.7 516.2h0.9M234.1 502.1h0.9M237.6 509.6h0.9M255.5 414.2h0.9M248.7 486.0h0.9M197.5 489.5h0.9M183.6 478.3h0.9M224.6 494.7h0.9M238.8 421.8h0.9M267.4 468.7h0.9M231.9 442.8h0.9M207.8 438.7h0.9M269.4 510.8h0.9M279.6 431.1h0.9M249.6 456.1h0.9M190.9 440.5h0.9M219.7 448.1h0.9M242.1 510.5h0.9M214.7 480.3h0.9M270.9 475.6h0.9M194.3 499.4h0.9M182.5 491.9h0.9M198.4 460.2h0.9M190.7 470.0h0.9M243.7 510.8h0.9M231.2 492.7h0.9M221.0 458.3h0.9M273.1 441.3h0.9M234.1 494.1h0.9M222.3 493.3h0.9M214.2 498.4h0.9M178.4 445.8h0.9" stroke="#8a7a30" stroke-width="0.9" fill="none" opacity="0.5"/>
</g>
<rect x="170.50" y="406.20" width="118.30" height="116.20" fill="none" stroke="#424242" stroke-width="1.2" />
<clipPath id="cT6"><rect x="292.6" y="406.2" width="117.69999999999999" height="116.19999999999999"/></clipPath>
<rect x="292.60" y="406.20" width="117.70" height="116.20" fill="#fbf8fd" stroke="none" stroke-width="1" />
<g clip-path="url(#cT6)">
<rect x="292.60" y="406.20" width="117.70" height="116.20" fill="#b638f0" stroke="none" stroke-width="1" />
<ellipse cx="310.00" cy="430.00" rx="22.00" ry="22.00" fill="#9a1ce4" opacity="0.7" filter="url(#b3)"/>
<ellipse cx="350.00" cy="470.00" rx="26.00" ry="26.00" fill="#a828ea" opacity="0.7" filter="url(#b3)"/>
<ellipse cx="390.00" cy="440.00" rx="20.00" ry="20.00" fill="#cf60f6" opacity="0.7" filter="url(#b3)"/>
<ellipse cx="330.00" cy="505.00" rx="22.00" ry="22.00" fill="#a020e6" opacity="0.7" filter="url(#b3)"/>
<ellipse cx="385.00" cy="500.00" rx="22.00" ry="22.00" fill="#c858f4" opacity="0.7" filter="url(#b3)"/>
<ellipse cx="345.00" cy="420.00" rx="18.00" ry="18.00" fill="#cc5cf4" opacity="0.7" filter="url(#b3)"/>
<ellipse cx="400.00" cy="415.00" rx="14.00" ry="14.00" fill="#9a1ce4" opacity="0.7" filter="url(#b3)"/>
<ellipse cx="300.00" cy="480.00" rx="16.00" ry="16.00" fill="#c858f4" opacity="0.7" filter="url(#b3)"/>
<rect x="292.6" y="406.2" width="117.7" height="116.2" filter="url(#pnoise)" opacity="0.8"/>
<g filter="url(#rough2)">
<ellipse cx="298.21" cy="421.55" rx="5.95" ry="10.14" fill="#ffffff" opacity="1.0"/>
<ellipse cx="317.83" cy="414.45" rx="10.14" ry="5.51" fill="#ffffff" transform="rotate(10 317.83 414.45)" opacity="1.0"/>
<ellipse cx="343.05" cy="426.22" rx="11.58" ry="12.68" fill="#ffffff" opacity="1.0"/>
<ellipse cx="354.64" cy="412.58" rx="6.61" ry="4.41" fill="#ffffff" opacity="1.0"/>
<ellipse cx="371.08" cy="418.19" rx="6.83" ry="6.83" fill="#ffffff" opacity="1.0"/>
<ellipse cx="395.37" cy="422.49" rx="9.26" ry="11.91" fill="#ffffff" opacity="1.0"/>
<ellipse cx="406.58" cy="412.58" rx="4.41" ry="3.31" fill="#ffffff" opacity="1.0"/>
<ellipse cx="318.76" cy="444.91" rx="10.14" ry="9.26" fill="#ffffff" opacity="1.0"/>
<ellipse cx="298.21" cy="461.16" rx="5.73" ry="9.26" fill="#ffffff" opacity="1.0"/>
<ellipse cx="304.19" cy="481.72" rx="10.14" ry="7.94" fill="#ffffff" opacity="1.0"/>
<ellipse cx="333.71" cy="465.46" rx="13.01" ry="11.02" fill="#ffffff" transform="rotate(20 333.71 465.46)" opacity="1.0"/>
<ellipse cx="331.84" cy="485.45" rx="10.14" ry="7.72" fill="#ffffff" opacity="1.0"/>
<ellipse cx="367.72" cy="448.09" rx="10.14" ry="9.26" fill="#ffffff" opacity="1.0"/>
<ellipse cx="391.63" cy="453.69" rx="10.14" ry="10.14" fill="#ffffff" opacity="1.0"/>
<ellipse cx="362.11" cy="480.41" rx="11.91" ry="14.11" fill="#ffffff" opacity="1.0"/>
<ellipse cx="388.27" cy="480.41" rx="8.82" ry="11.46" fill="#ffffff" opacity="1.0"/>
<ellipse cx="405.09" cy="468.64" rx="5.51" ry="6.83" fill="#ffffff" opacity="1.0"/>
<ellipse cx="403.22" cy="499.09" rx="7.72" ry="13.01" fill="#ffffff" opacity="1.0"/>
<ellipse cx="386.40" cy="506.01" rx="8.82" ry="8.82" fill="#ffffff" opacity="1.0"/>
<ellipse cx="321.01" cy="506.01" rx="14.11" ry="8.82" fill="#ffffff" opacity="1.0"/>
<ellipse cx="301.95" cy="513.48" rx="7.94" ry="7.72" fill="#ffffff" opacity="1.0"/>
<ellipse cx="360.24" cy="511.61" rx="11.91" ry="7.72" fill="#ffffff" opacity="1.0"/>
<ellipse cx="348.66" cy="498.16" rx="6.61" ry="4.41" fill="#ffffff" opacity="1.0"/>
<ellipse cx="311.29" cy="430.90" rx="5.51" ry="4.41" fill="#ffffff" opacity="1.0"/>
<ellipse cx="329.97" cy="425.29" rx="4.41" ry="5.51" fill="#ffffff" opacity="1.0"/>
<ellipse cx="380.42" cy="434.63" rx="5.51" ry="5.51" fill="#ffffff" opacity="1.0"/>
<ellipse cx="350.53" cy="447.71" rx="5.51" ry="4.41" fill="#ffffff" opacity="1.0"/>
<ellipse cx="313.16" cy="462.66" rx="5.51" ry="5.51" fill="#ffffff" opacity="1.0"/>
<ellipse cx="374.82" cy="464.53" rx="5.51" ry="6.61" fill="#ffffff" opacity="1.0"/>
<ellipse cx="343.05" cy="513.11" rx="4.41" ry="6.61" fill="#ffffff" opacity="1.0"/>
<ellipse cx="408.45" cy="443.97" rx="4.41" ry="8.82" fill="#ffffff" opacity="1.0"/>
<ellipse cx="294.47" cy="442.11" rx="4.41" ry="6.61" fill="#ffffff" opacity="1.0"/>
<ellipse cx="294.47" cy="498.16" rx="4.41" ry="7.72" fill="#ffffff" opacity="1.0"/>
<ellipse cx="376.69" cy="408.47" rx="6.61" ry="2.65" fill="#ffffff" opacity="1.0"/>
<ellipse cx="326.24" cy="407.54" rx="6.61" ry="2.20" fill="#ffffff" opacity="1.0"/>
<ellipse cx="300.08" cy="408.47" rx="2.80" ry="1.87" fill="#5a16c2" opacity="0.92"/>
<ellipse cx="336.51" cy="415.01" rx="5.61" ry="4.67" fill="#5a16c2" opacity="0.92"/>
<ellipse cx="343.05" cy="409.41" rx="3.74" ry="1.87" fill="#5a16c2" opacity="0.92"/>
<ellipse cx="306.62" cy="424.36" rx="2.43" ry="1.87" fill="#5a16c2" opacity="0.92"/>
<ellipse cx="322.50" cy="457.05" rx="4.86" ry="3.92" fill="#5a16c2" opacity="0.92"/>
<ellipse cx="348.66" cy="445.84" rx="1.87" ry="1.87" fill="#5a16c2" opacity="0.92"/>
<ellipse cx="389.77" cy="447.71" rx="3.92" ry="2.80" fill="#5a16c2" opacity="0.92"/>
<ellipse cx="406.58" cy="425.29" rx="2.80" ry="3.92" fill="#5a16c2" opacity="0.92"/>
<ellipse cx="315.03" cy="482.28" rx="2.43" ry="1.40" fill="#5a16c2" opacity="0.92"/>
<ellipse cx="324.37" cy="490.69" rx="3.92" ry="2.34" fill="#5a16c2" opacity="0.92"/>
<ellipse cx="344.92" cy="508.44" rx="4.86" ry="4.67" fill="#5a16c2" opacity="0.92"/>
<ellipse cx="399.11" cy="483.21" rx="3.92" ry="3.74" fill="#5a16c2" opacity="0.92"/>
<ellipse cx="376.69" cy="501.90" rx="2.43" ry="2.43" fill="#5a16c2" opacity="0.92"/>
<ellipse cx="310.36" cy="518.71" rx="2.43" ry="2.43" fill="#5a16c2" opacity="0.92"/>
<ellipse cx="398.17" cy="515.91" rx="1.87" ry="1.87" fill="#5a16c2" opacity="0.92"/>
<ellipse cx="353.33" cy="475.74" rx="1.40" ry="1.40" fill="#5a16c2" opacity="0.92"/>
<ellipse cx="351.46" cy="466.40" rx="1.40" ry="1.40" fill="#5a16c2" opacity="0.92"/>
<ellipse cx="365.48" cy="427.16" rx="2.80" ry="3.74" fill="#5a16c2" opacity="0.92"/>
<ellipse cx="304.75" cy="440.24" rx="2.80" ry="2.80" fill="#5a16c2" opacity="0.92"/>
<ellipse cx="339.32" cy="455.19" rx="1.87" ry="1.49" fill="#5a16c2" opacity="0.92"/>
<ellipse cx="363.61" cy="464.53" rx="1.87" ry="1.87" fill="#5a16c2" opacity="0.92"/>
</g>
<rect x="292.6" y="406.2" width="117.7" height="116.2" filter="url(#wnoise)" opacity="0.95"/>
<path d="M381.7 463.2h0.9M337.7 454.4h0.9M324.4 433.6h0.9M354.4 487.7h0.9M386.1 455.7h0.9M405.3 422.7h0.9M409.8 498.8h0.9M393.4 421.0h0.9M365.8 489.9h0.9M393.3 493.7h0.9M296.1 474.3h0.9M305.7 509.4h0.9M388.0 459.8h0.9M399.9 417.4h0.9M351.0 420.0h0.9M382.9 506.9h0.9M354.0 493.5h0.9M297.0 426.7h0.9M303.3 456.8h0.9M367.6 510.5h0.9M334.5 465.7h0.9M376.4 436.4h0.9M351.1 439.9h0.9M337.0 475.2h0.9M347.7 474.3h0.9M355.0 505.3h0.9M370.6 480.5h0.9M343.4 484.0h0.9M376.4 420.1h0.9M294.7 409.1h0.9M357.5 445.6h0.9M296.2 513.1h0.9M309.9 479.5h0.9M395.8 448.3h0.9M364.6 426.1h0.9M375.6 475.6h0.9M359.1 470.0h0.9M321.0 514.7h0.9M340.1 468.0h0.9M380.4 489.3h0.9M325.1 486.2h0.9M347.9 411.7h0.9M395.8 478.3h0.9M353.6 513.7h0.9M353.8 418.7h0.9M408.7 478.9h0.9M327.6 514.6h0.9M316.3 457.4h0.9M326.6 437.5h0.9M408.2 489.6h0.9M331.0 453.6h0.9M391.1 434.5h0.9M402.7 433.7h0.9M316.7 515.8h0.9M336.0 425.2h0.9M307.0 449.5h0.9M333.6 424.0h0.9M406.5 488.7h0.9M301.9 447.9h0.9M408.2 433.3h0.9M391.3 480.4h0.9M371.7 449.4h0.9M410.3 471.2h0.9M377.9 509.1h0.9M395.7 466.8h0.9M351.6 517.6h0.9M384.8 421.6h0.9M320.2 452.7h0.9M377.5 435.6h0.9M325.9 462.8h0.9M332.9 442.8h0.9M394.3 464.8h0.9M338.1 496.7h0.9M307.3 479.8h0.9M332.1 511.1h0.9M409.7 474.1h0.9M319.2 439.8h0.9M365.1 481.1h0.9M315.2 499.5h0.9M394.8 508.5h0.9M317.2 442.2h0.9M328.2 440.3h0.9M376.7 441.0h0.9M370.3 470.9h0.9M391.5 417.0h0.9M367.0 452.7h0.9M386.4 474.9h0.9M358.6 519.3h0.9M377.4 452.0h0.9M352.5 514.8h0.9M354.3 419.2h0.9M386.1 431.3h0.9M379.8 491.2h0.9M391.0 500.5h0.9M313.3 467.6h0.9M317.2 495.9h0.9M399.8 427.5h0.9M324.0 520.9h0.9M310.5 429.5h0.9M399.0 431.5h0.9M365.1 411.5h0.9M366.1 457.5h0.9M358.2 458.5h0.9M305.2 474.6h0.9M403.7 498.4h0.9M294.1 445.5h0.9M314.2 449.2h0.9M395.6 430.3h0.9M351.5 504.9h0.9M308.5 425.7h0.9M355.4 433.0h0.9M369.1 465.1h0.9M314.9 514.6h0.9M299.2 472.4h0.9M299.6 515.7h0.9M295.8 427.0h0.9M316.7 433.3h0.9M311.7 465.1h0.9M363.5 408.7h0.9M388.0 443.8h0.9M294.2 452.6h0.9M324.0 410.8h0.9M311.6 497.7h0.9M322.5 519.6h0.9M380.3 521.4h0.9M345.8 457.6h0.9M300.1 430.7h0.9M335.3 520.5h0.9M341.4 414.6h0.9M351.4 432.7h0.9M330.3 429.3h0.9M342.7 416.1h0.9M396.2 500.0h0.9M321.6 489.0h0.9M313.5 442.4h0.9M304.9 450.7h0.9M367.8 473.4h0.9M320.4 418.2h0.9M347.5 494.1h0.9M403.4 501.2h0.9M370.5 450.6h0.9M376.1 452.5h0.9M348.3 463.0h0.9M365.8 476.2h0.9M300.0 438.3h0.9M409.0 482.4h0.9M293.2 424.2h0.9M297.0 411.9h0.9M402.7 485.8h0.9M346.1 412.2h0.9M304.2 494.5h0.9M397.8 518.6h0.9M409.0 482.1h0.9M344.2 472.1h0.9M385.8 458.2h0.9M311.4 474.2h0.9M394.0 521.3h0.9M334.2 483.4h0.9M383.9 502.5h0.9M294.4 437.9h0.9M295.7 446.7h0.9M378.8 454.0h0.9M295.3 516.3h0.9M300.8 436.5h0.9M359.5 444.7h0.9M347.2 477.9h0.9M312.6 424.6h0.9M400.5 491.5h0.9M301.4 470.2h0.9M364.6 425.4h0.9M339.1 513.3h0.9M318.7 468.7h0.9M304.0 443.2h0.9M379.9 504.2h0.9M379.8 479.0h0.9M397.1 445.2h0.9M392.9 433.7h0.9M401.8 510.8h0.9M307.6 474.7h0.9M318.1 490.6h0.9M348.4 471.5h0.9M328.8 451.8h0.9M307.6 429.2h0.9M295.5 412.3h0.9M341.0 414.4h0.9M296.1 516.5h0.9M306.7 507.0h0.9M321.2 469.2h0.9M362.2 448.0h0.9M376.4 411.6h0.9M303.6 447.8h0.9M382.0 488.7h0.9M303.6 413.1h0.9M407.5 459.8h0.9M293.2 517.3h0.9M311.9 418.5h0.9M297.7 434.7h0.9M402.2 442.7h0.9M379.0 406.5h0.9M380.4 522.2h0.9M375.8 407.1h0.9M326.0 436.8h0.9M380.6 443.0h0.9M409.5 510.4h0.9M384.8 504.9h0.9M364.8 426.3h0.9M327.6 434.1h0.9M332.1 456.5h0.9M294.4 423.9h0.9M339.6 433.7h0.9M335.3 425.6h0.9M395.0 428.7h0.9M398.7 508.0h0.9M356.6 417.6h0.9M336.5 444.4h0.9M310.5 468.9h0.9M294.6 483.0h0.9M360.4 486.8h0.9M307.4 419.5h0.9M356.1 480.4h0.9M368.2 521.3h0.9M394.2 461.4h0.9M297.6 488.9h0.9M333.3 493.8h0.9M311.7 475.9h0.9M377.7 491.4h0.9M377.7 464.4h0.9M407.2 507.9h0.9M384.2 433.4h0.9M306.0 462.1h0.9M322.9 441.0h0.9M307.3 431.1h0.9M395.1 494.5h0.9M382.7 422.2h0.9M375.7 446.0h0.9M329.4 457.9h0.9M377.4 465.6h0.9M409.8 512.3h0.9M348.3 442.6h0.9M308.9 495.3h0.9" stroke="#2a2040" stroke-width="0.9" fill="none" opacity="0.7"/>
<path d="M402.9 412.6h0.9M333.4 421.6h0.9M344.0 418.2h0.9M349.2 436.7h0.9M382.1 511.9h0.9M371.1 413.8h0.9M357.5 489.5h0.9M359.7 514.5h0.9M372.2 436.5h0.9M353.6 448.3h0.9M316.8 428.3h0.9M384.5 512.3h0.9M334.9 434.6h0.9M346.2 425.4h0.9M330.8 430.5h0.9M376.5 493.5h0.9M332.1 420.0h0.9M322.2 453.0h0.9M296.5 506.2h0.9M352.8 502.0h0.9M354.0 453.7h0.9M356.8 486.7h0.9M353.9 410.7h0.9M320.9 492.3h0.9M402.1 521.6h0.9M381.2 493.1h0.9M403.8 505.6h0.9M363.0 426.7h0.9M384.5 504.3h0.9M334.1 447.7h0.9M383.5 440.5h0.9M362.8 461.3h0.9M312.2 426.7h0.9M309.5 480.1h0.9M400.7 465.1h0.9M320.1 483.0h0.9M390.1 516.9h0.9M312.6 511.9h0.9M396.7 502.1h0.9M349.0 436.8h0.9M309.0 481.1h0.9M342.7 514.4h0.9M363.3 465.4h0.9M308.3 428.0h0.9M329.4 422.1h0.9M378.6 440.7h0.9M355.3 511.0h0.9M293.2 467.7h0.9M300.7 436.2h0.9M361.2 509.8h0.9M389.3 467.0h0.9M401.3 410.6h0.9M377.5 467.2h0.9M385.3 417.8h0.9M392.4 495.2h0.9M363.7 481.4h0.9M361.6 479.1h0.9M332.6 466.5h0.9M348.6 518.3h0.9M329.7 494.0h0.9M379.8 436.9h0.9M368.9 419.5h0.9M397.8 452.3h0.9M301.0 435.2h0.9M295.7 492.9h0.9M295.1 425.7h0.9M335.5 432.6h0.9M393.7 429.4h0.9M340.4 493.0h0.9M368.5 485.8h0.9M401.4 409.8h0.9M301.3 503.6h0.9M385.5 459.1h0.9M394.3 511.2h0.9M303.1 461.2h0.9M381.5 420.5h0.9M393.1 495.3h0.9M409.6 491.5h0.9M383.1 491.9h0.9M344.9 406.7h0.9M386.8 495.3h0.9M302.4 508.1h0.9M355.9 438.2h0.9M350.0 432.1h0.9M324.9 418.8h0.9M401.0 460.2h0.9M405.8 487.1h0.9M394.4 493.1h0.9M344.4 484.6h0.9M350.5 437.5h0.9M304.3 412.2h0.9M376.8 445.3h0.9M338.5 428.2h0.9M294.1 465.2h0.9M346.1 433.4h0.9M318.8 432.6h0.9M345.4 484.3h0.9M323.5 459.6h0.9M401.9 500.1h0.9M318.3 486.1h0.9M361.1 469.7h0.9M368.4 446.9h0.9M331.9 428.6h0.9M302.5 450.8h0.9M297.6 453.8h0.9M356.4 507.7h0.9M359.3 447.9h0.9M332.0 433.6h0.9M382.0 466.1h0.9M349.2 457.5h0.9M370.6 495.3h0.9M347.2 411.3h0.9M388.4 417.9h0.9M328.9 447.2h0.9M390.3 445.0h0.9M360.7 452.5h0.9M339.1 415.7h0.9M355.7 421.5h0.9M347.3 464.4h0.9M373.9 409.2h0.9M340.5 495.8h0.9M323.4 498.1h0.9M385.1 453.0h0.9M383.4 420.2h0.9M319.7 500.6h0.9M367.9 477.7h0.9M380.7 432.6h0.9M390.2 487.3h0.9M309.0 453.7h0.9M382.5 477.4h0.9M326.0 498.7h0.9M378.0 506.3h0.9M302.1 420.5h0.9M336.2 518.3h0.9M320.1 433.0h0.9M342.9 433.3h0.9M353.9 503.0h0.9M407.4 413.6h0.9M410.2 521.6h0.9M326.4 493.3h0.9M306.2 417.8h0.9M293.3 503.2h0.9M373.7 454.0h0.9M304.0 432.5h0.9M377.6 457.4h0.9M361.6 418.6h0.9M408.7 462.0h0.9M356.6 516.1h0.9M384.2 486.1h0.9M310.5 427.2h0.9M351.9 409.3h0.9M395.0 473.5h0.9M350.0 412.4h0.9M298.7 498.6h0.9M334.7 462.8h0.9M299.9 430.6h0.9M360.0 445.1h0.9M322.4 496.0h0.9M359.8 410.6h0.9M353.9 488.2h0.9M303.0 433.3h0.9M343.6 470.5h0.9M357.2 506.3h0.9M385.8 518.0h0.9M384.7 491.2h0.9M357.4 446.8h0.9M294.7 406.9h0.9M295.9 411.4h0.9M294.7 500.6h0.9M357.2 513.4h0.9M315.1 489.4h0.9M362.8 460.3h0.9M404.7 504.5h0.9M389.6 464.6h0.9M346.2 496.7h0.9M390.5 490.0h0.9M395.7 472.7h0.9M391.0 426.3h0.9M403.8 492.7h0.9M332.7 485.1h0.9M323.6 417.7h0.9M308.5 429.4h0.9M362.8 444.2h0.9M329.8 464.3h0.9M326.8 428.5h0.9M337.4 434.9h0.9M396.2 416.8h0.9M397.8 446.9h0.9M401.7 435.5h0.9M406.6 485.3h0.9M319.3 470.2h0.9M332.0 429.3h0.9M379.8 438.2h0.9M396.9 502.9h0.9M383.9 463.7h0.9M315.6 417.9h0.9M342.7 508.4h0.9M384.8 493.3h0.9M375.8 452.7h0.9M398.4 518.1h0.9" stroke="#5a20c0" stroke-width="0.9" fill="none" opacity="0.6"/>
<path d="M342.2 460.2h1.1M333.4 480.5h1.1M338.5 470.1h1.1M362.2 421.8h1.1M365.8 497.9h1.1M314.2 486.2h1.1M316.6 461.8h1.1M301.8 512.2h1.1M334.2 417.3h1.1M354.4 460.5h1.1M381.2 470.0h1.1M364.1 412.3h1.1M352.8 465.8h1.1M297.9 409.3h1.1M310.4 497.8h1.1M305.0 428.3h1.1M354.2 506.3h1.1M323.8 471.4h1.1M389.9 500.4h1.1M387.3 474.3h1.1M335.0 494.1h1.1M366.3 416.1h1.1M374.7 430.6h1.1M382.4 493.5h1.1M314.6 456.9h1.1M337.1 488.9h1.1M385.9 496.3h1.1M356.1 486.5h1.1M377.3 497.6h1.1M370.0 470.1h1.1M349.9 429.8h1.1M314.7 447.4h1.1M349.3 477.0h1.1M382.9 416.8h1.1M363.4 465.9h1.1M313.0 479.9h1.1M343.4 460.9h1.1M383.8 521.3h1.1M300.6 425.5h1.1M366.5 460.5h1.1M379.4 486.0h1.1M350.4 477.0h1.1M320.1 425.4h1.1M294.2 516.9h1.1M395.3 443.5h1.1M298.5 444.3h1.1M316.4 480.3h1.1M307.6 495.9h1.1M326.8 445.6h1.1M364.8 460.6h1.1M356.1 427.0h1.1M329.5 483.7h1.1M313.3 501.8h1.1M306.8 507.8h1.1M333.3 407.8h1.1M339.7 489.5h1.1M318.2 463.8h1.1M299.9 445.6h1.1M307.6 492.4h1.1M401.4 506.0h1.1M295.7 444.0h1.1M354.2 466.8h1.1M336.6 439.8h1.1M369.5 413.6h1.1M371.4 427.0h1.1M303.2 409.6h1.1M345.6 500.5h1.1M351.4 482.0h1.1M396.2 442.4h1.1M393.9 446.0h1.1M298.0 426.5h1.1M389.7 417.6h1.1M315.7 419.9h1.1M380.9 441.7h1.1M333.4 462.1h1.1M374.0 502.5h1.1M326.8 436.4h1.1M357.1 415.3h1.1M366.1 426.0h1.1M298.7 444.0h1.1M351.8 418.4h1.1M332.6 493.2h1.1M340.5 457.4h1.1M374.7 479.8h1.1M371.2 514.2h1.1M392.9 519.1h1.1M343.8 410.8h1.1M391.9 504.6h1.1M384.2 466.7h1.1M362.4 514.7h1.1M342.0 438.2h1.1M359.3 437.7h1.1M366.5 416.1h1.1M385.2 514.7h1.1M295.1 444.7h1.1M356.1 411.2h1.1M303.3 511.2h1.1M309.5 469.6h1.1M350.9 409.7h1.1M360.9 494.8h1.1M385.3 516.3h1.1M380.0 466.4h1.1M359.2 488.1h1.1M357.5 426.9h1.1M381.2 438.1h1.1M318.2 503.1h1.1M295.7 515.7h1.1M389.6 478.1h1.1M320.2 450.9h1.1M402.3 490.7h1.1M387.0 460.3h1.1M369.6 509.5h1.1M368.6 489.8h1.1M322.4 430.3h1.1M333.3 492.4h1.1M391.9 508.7h1.1M409.1 466.5h1.1M318.6 491.4h1.1M356.4 485.7h1.1M381.7 433.1h1.1M296.3 437.9h1.1M359.1 493.2h1.1M292.6 423.0h1.1M375.8 477.4h1.1M357.6 432.9h1.1M379.6 491.9h1.1M297.2 432.8h1.1M374.9 408.4h1.1M349.1 520.9h1.1M342.4 433.2h1.1M378.9 472.0h1.1M406.1 492.0h1.1M393.7 467.1h1.1M358.5 428.9h1.1M341.5 511.8h1.1M351.8 444.8h1.1M314.2 489.4h1.1M351.6 438.8h1.1M389.7 421.3h1.1M362.4 502.2h1.1M323.6 500.7h1.1M333.0 504.3h1.1M313.8 427.5h1.1M332.8 435.4h1.1M391.6 422.1h1.1M356.4 508.7h1.1M333.4 521.0h1.1M384.7 445.6h1.1M385.3 492.3h1.1M366.8 451.7h1.1M353.5 516.5h1.1M396.7 506.3h1.1M390.6 429.7h1.1M409.3 510.1h1.1M311.6 410.3h1.1M397.1 470.0h1.1M391.7 458.4h1.1M352.2 479.0h1.1M396.0 467.1h1.1M371.2 513.1h1.1M344.2 415.7h1.1M401.8 513.5h1.1M387.6 412.9h1.1M317.6 478.7h1.1M396.7 481.1h1.1M399.4 522.4h1.1M388.0 487.3h1.1M346.5 485.2h1.1M389.9 483.7h1.1M301.3 501.1h1.1M337.4 416.0h1.1M297.1 419.3h1.1M381.6 513.8h1.1M360.4 516.5h1.1M360.0 469.0h1.1M384.2 480.2h1.1M314.3 410.7h1.1M350.1 410.2h1.1M313.9 489.2h1.1M390.0 422.5h1.1M319.1 482.7h1.1M353.1 513.3h1.1M378.1 498.7h1.1M391.4 521.7h1.1M303.2 465.1h1.1M315.1 470.9h1.1M325.2 495.9h1.1M323.0 465.7h1.1M392.0 505.0h1.1M345.8 431.9h1.1M409.8 440.1h1.1M390.5 472.8h1.1M386.9 429.7h1.1M335.1 510.2h1.1M368.8 515.0h1.1M295.8 474.1h1.1M338.2 484.3h1.1M298.4 427.3h1.1M401.6 487.0h1.1M342.8 501.3h1.1M386.4 493.5h1.1M311.7 495.8h1.1M326.0 442.2h1.1M373.2 417.3h1.1M399.3 473.7h1.1M407.6 421.4h1.1M386.5 451.4h1.1M301.1 494.0h1.1M299.5 415.4h1.1M354.1 416.8h1.1M320.6 480.4h1.1M322.9 477.5h1.1M310.7 472.6h1.1M330.0 483.5h1.1M391.1 500.4h1.1M314.7 448.9h1.1M401.7 508.3h1.1M347.3 422.2h1.1M340.2 425.8h1.1M318.0 503.5h1.1M392.0 484.8h1.1M313.7 458.3h1.1M375.4 479.7h1.1M358.2 452.5h1.1M331.7 488.3h1.1M365.2 462.1h1.1M352.0 452.6h1.1M344.8 489.7h1.1M376.6 428.7h1.1M386.5 424.0h1.1M373.5 499.1h1.1M354.3 416.5h1.1M386.7 410.2h1.1M294.9 420.4h1.1M310.0 520.5h1.1M294.3 482.1h1.1M301.9 479.9h1.1M403.0 459.8h1.1M315.8 464.0h1.1M303.8 410.7h1.1M334.0 471.6h1.1M319.5 502.7h1.1M324.5 457.6h1.1M311.4 474.7h1.1M409.3 464.2h1.1M371.2 457.1h1.1M358.9 520.1h1.1M399.6 478.3h1.1M404.5 411.5h1.1M324.6 456.2h1.1M393.1 507.8h1.1M317.7 487.5h1.1M407.1 513.5h1.1M317.4 502.2h1.1M335.3 496.7h1.1M309.8 518.1h1.1M409.7 471.4h1.1M322.8 439.0h1.1M395.5 473.7h1.1M303.1 481.0h1.1" stroke="#c050f0" stroke-width="1.1" fill="none" opacity="0.6"/>
</g>
<rect x="292.60" y="406.20" width="117.70" height="116.20" fill="none" stroke="#424242" stroke-width="1.2" />
<text transform="translate(108.00 400.70) scale(1.1 1)" font-size="11.8" text-anchor="middle" fill="#111" >Con</text>
<text transform="translate(231.00 400.70) scale(1.06 1)" font-size="11.8" text-anchor="middle" fill="#111" >CV EVs</text>
<text transform="translate(351.60 400.70) scale(1.06 1)" font-size="11.8" text-anchor="middle" fill="#111" >aPC EVs</text>
<clipPath id="cL1"><rect x="249.2" y="771.3" width="153.7" height="28.90000000000009"/></clipPath>
<rect x="249.20" y="771.30" width="153.70" height="28.90" fill="#e6e6e6" stroke="none" stroke-width="1" />
<g clip-path="url(#cL1)">
<ellipse cx="326.05" cy="785.75" rx="60.00" ry="14.45" fill="#f6f6f6" filter="url(#b4)" opacity="0.9"/>
<ellipse cx="261.60" cy="786.80" rx="11.25" ry="3.50" fill="#0a0a0a" opacity="1.0" filter="url(#b2)"/>
<ellipse cx="261.60" cy="786.80" rx="8.10" ry="2.10" fill="#0a0a0a" opacity="0.7" filter="url(#b2)"/>
<ellipse cx="287.70" cy="786.50" rx="9.00" ry="2.20" fill="#0a0a0a" opacity="0.85" filter="url(#b2)"/>
<ellipse cx="311.20" cy="786.30" rx="10.80" ry="4.30" fill="#0a0a0a" opacity="1.0" filter="url(#b2)"/>
<ellipse cx="311.20" cy="786.30" rx="8.10" ry="3.00" fill="#0a0a0a" opacity="1.0" filter="url(#b2)"/>
<ellipse cx="336.50" cy="787.10" rx="7.65" ry="1.50" fill="#0a0a0a" opacity="0.3" filter="url(#b2)"/>
<ellipse cx="362.80" cy="786.80" rx="10.35" ry="3.20" fill="#0a0a0a" opacity="1.0" filter="url(#b2)"/>
<ellipse cx="362.80" cy="786.80" rx="7.20" ry="1.90" fill="#0a0a0a" opacity="0.6" filter="url(#b2)"/>
<ellipse cx="386.50" cy="786.50" rx="11.25" ry="3.50" fill="#0a0a0a" opacity="1.0" filter="url(#b2)"/>
<ellipse cx="386.50" cy="786.50" rx="8.10" ry="2.10" fill="#0a0a0a" opacity="0.7" filter="url(#b2)"/>
</g>
<rect x="249.20" y="771.30" width="153.70" height="28.90" fill="none" stroke="#2a2a2a" stroke-width="1.0" />
<clipPath id="cL2"><rect x="249.2" y="802.8" width="153.7" height="28.90000000000009"/></clipPath>
<rect x="249.20" y="802.80" width="153.70" height="28.90" fill="#e6e6e6" stroke="none" stroke-width="1" />
<g clip-path="url(#cL2)">
<ellipse cx="326.05" cy="817.25" rx="60.00" ry="14.45" fill="#f6f6f6" filter="url(#b4)" opacity="0.9"/>
<ellipse cx="262.50" cy="816.50" rx="10.80" ry="2.10" fill="#0a0a0a" opacity="0.6" filter="url(#b2)"/>
<ellipse cx="289.00" cy="816.20" rx="11.70" ry="3.50" fill="#0a0a0a" opacity="1.0" filter="url(#b2)"/>
<ellipse cx="291.00" cy="816.20" rx="7.65" ry="2.30" fill="#0a0a0a" opacity="0.9" filter="url(#b2)"/>
<ellipse cx="312.20" cy="816.80" rx="8.10" ry="1.90" fill="#0a0a0a" opacity="0.55" filter="url(#b2)"/>
<ellipse cx="337.80" cy="815.90" rx="10.80" ry="3.60" fill="#0a0a0a" opacity="1.0" filter="url(#b2)"/>
<ellipse cx="337.80" cy="815.90" rx="7.20" ry="2.30" fill="#0a0a0a" opacity="0.9" filter="url(#b2)"/>
<ellipse cx="360.60" cy="816.20" rx="8.10" ry="2.20" fill="#0a0a0a" opacity="0.8" filter="url(#b2)"/>
<ellipse cx="385.20" cy="816.00" rx="9.00" ry="2.00" fill="#0a0a0a" opacity="0.66" filter="url(#b2)"/>
</g>
<rect x="249.20" y="802.80" width="153.70" height="28.90" fill="none" stroke="#2a2a2a" stroke-width="1.0" />
<clipPath id="cL3"><rect x="249.2" y="834.9" width="153.7" height="37.6"/></clipPath>
<rect x="249.20" y="834.90" width="153.70" height="37.60" fill="#e6e6e6" stroke="none" stroke-width="1" />
<g clip-path="url(#cL3)">
<path d="M249,848.6 L262,847.4 L280,848.0 L296,849.2 L304,849.6 L316,847.6 L334,846.4 L352,846.0 L372,845.6 L392,845.0 L402,845.8 L402,854.8 L392,856.2 L372,856.8 L352,857.4 L334,858.0 L316,859.2 L304,859.0 L296,858.6 L280,859.4 L262,859.4 L249,857.6 Z" fill="#050505" filter="url(#b2)"/>
<path d="M249,848.6 L262,847.4 L280,848.0 L296,849.2 L304,849.6 L316,847.6 L334,846.4 L352,846.0 L372,845.6 L392,845.0 L402,845.8 L402,854.8 L392,856.2 L372,856.8 L352,857.4 L334,858.0 L316,859.2 L304,859.0 L296,858.6 L280,859.4 L262,859.4 L249,857.6 Z" fill="#050505" opacity="0.35" filter="url(#b4)"/>
</g>
<rect x="249.20" y="834.90" width="153.70" height="37.60" fill="none" stroke="#2a2a2a" stroke-width="1.0" />
<text transform="translate(407.30 790.50) scale(1.08 1)" font-size="12.4" text-anchor="start" fill="#111" >Bcl-2</text>
<text transform="translate(407.30 818.80) scale(1.08 1)" font-size="12.4" text-anchor="start" fill="#111" >Bax</text>
<text transform="translate(407.30 853.80) scale(1.08 1)" font-size="12.4" text-anchor="start" fill="#111" >GAPDH</text>
<text transform="translate(271.50 758.50) scale(1.08 1)" font-size="12.4" text-anchor="middle" fill="#111" >Con</text>
<text transform="translate(322.00 758.50) scale(1.06 1)" font-size="12.4" text-anchor="middle" fill="#111" >CV EVs</text>
<text transform="translate(373.50 740.30) scale(1.06 1)" font-size="12.4" text-anchor="middle" fill="#111" >aPC</text>
<text transform="translate(373.50 758.50) scale(1.06 1)" font-size="12.4" text-anchor="middle" fill="#111" >EVs</text>
<line x1="255.50" y1="763.60" x2="291.50" y2="763.60" stroke="#222" stroke-width="1.1" />
<line x1="304.50" y1="763.60" x2="341.00" y2="763.60" stroke="#222" stroke-width="1.1" />
<line x1="356.00" y1="763.60" x2="392.00" y2="763.60" stroke="#222" stroke-width="1.1" />
<text transform="translate(223.00 886.50) scale(1.06 1)" font-size="11.4" text-anchor="start" fill="#111" >PTX</text>
<text x="262.30" y="885.50" font-size="11.4" text-anchor="middle" fill="#111" >-</text>
<text x="287.30" y="885.50" font-size="11.4" text-anchor="middle" fill="#111" >+</text>
<text x="313.00" y="885.50" font-size="11.4" text-anchor="middle" fill="#111" >-</text>
<text x="338.00" y="885.50" font-size="11.4" text-anchor="middle" fill="#111" >+</text>
<text x="361.00" y="885.50" font-size="11.4" text-anchor="middle" fill="#111" >-</text>
<text x="386.00" y="885.50" font-size="11.4" text-anchor="middle" fill="#111" >+</text>
</svg>
</body></html>
